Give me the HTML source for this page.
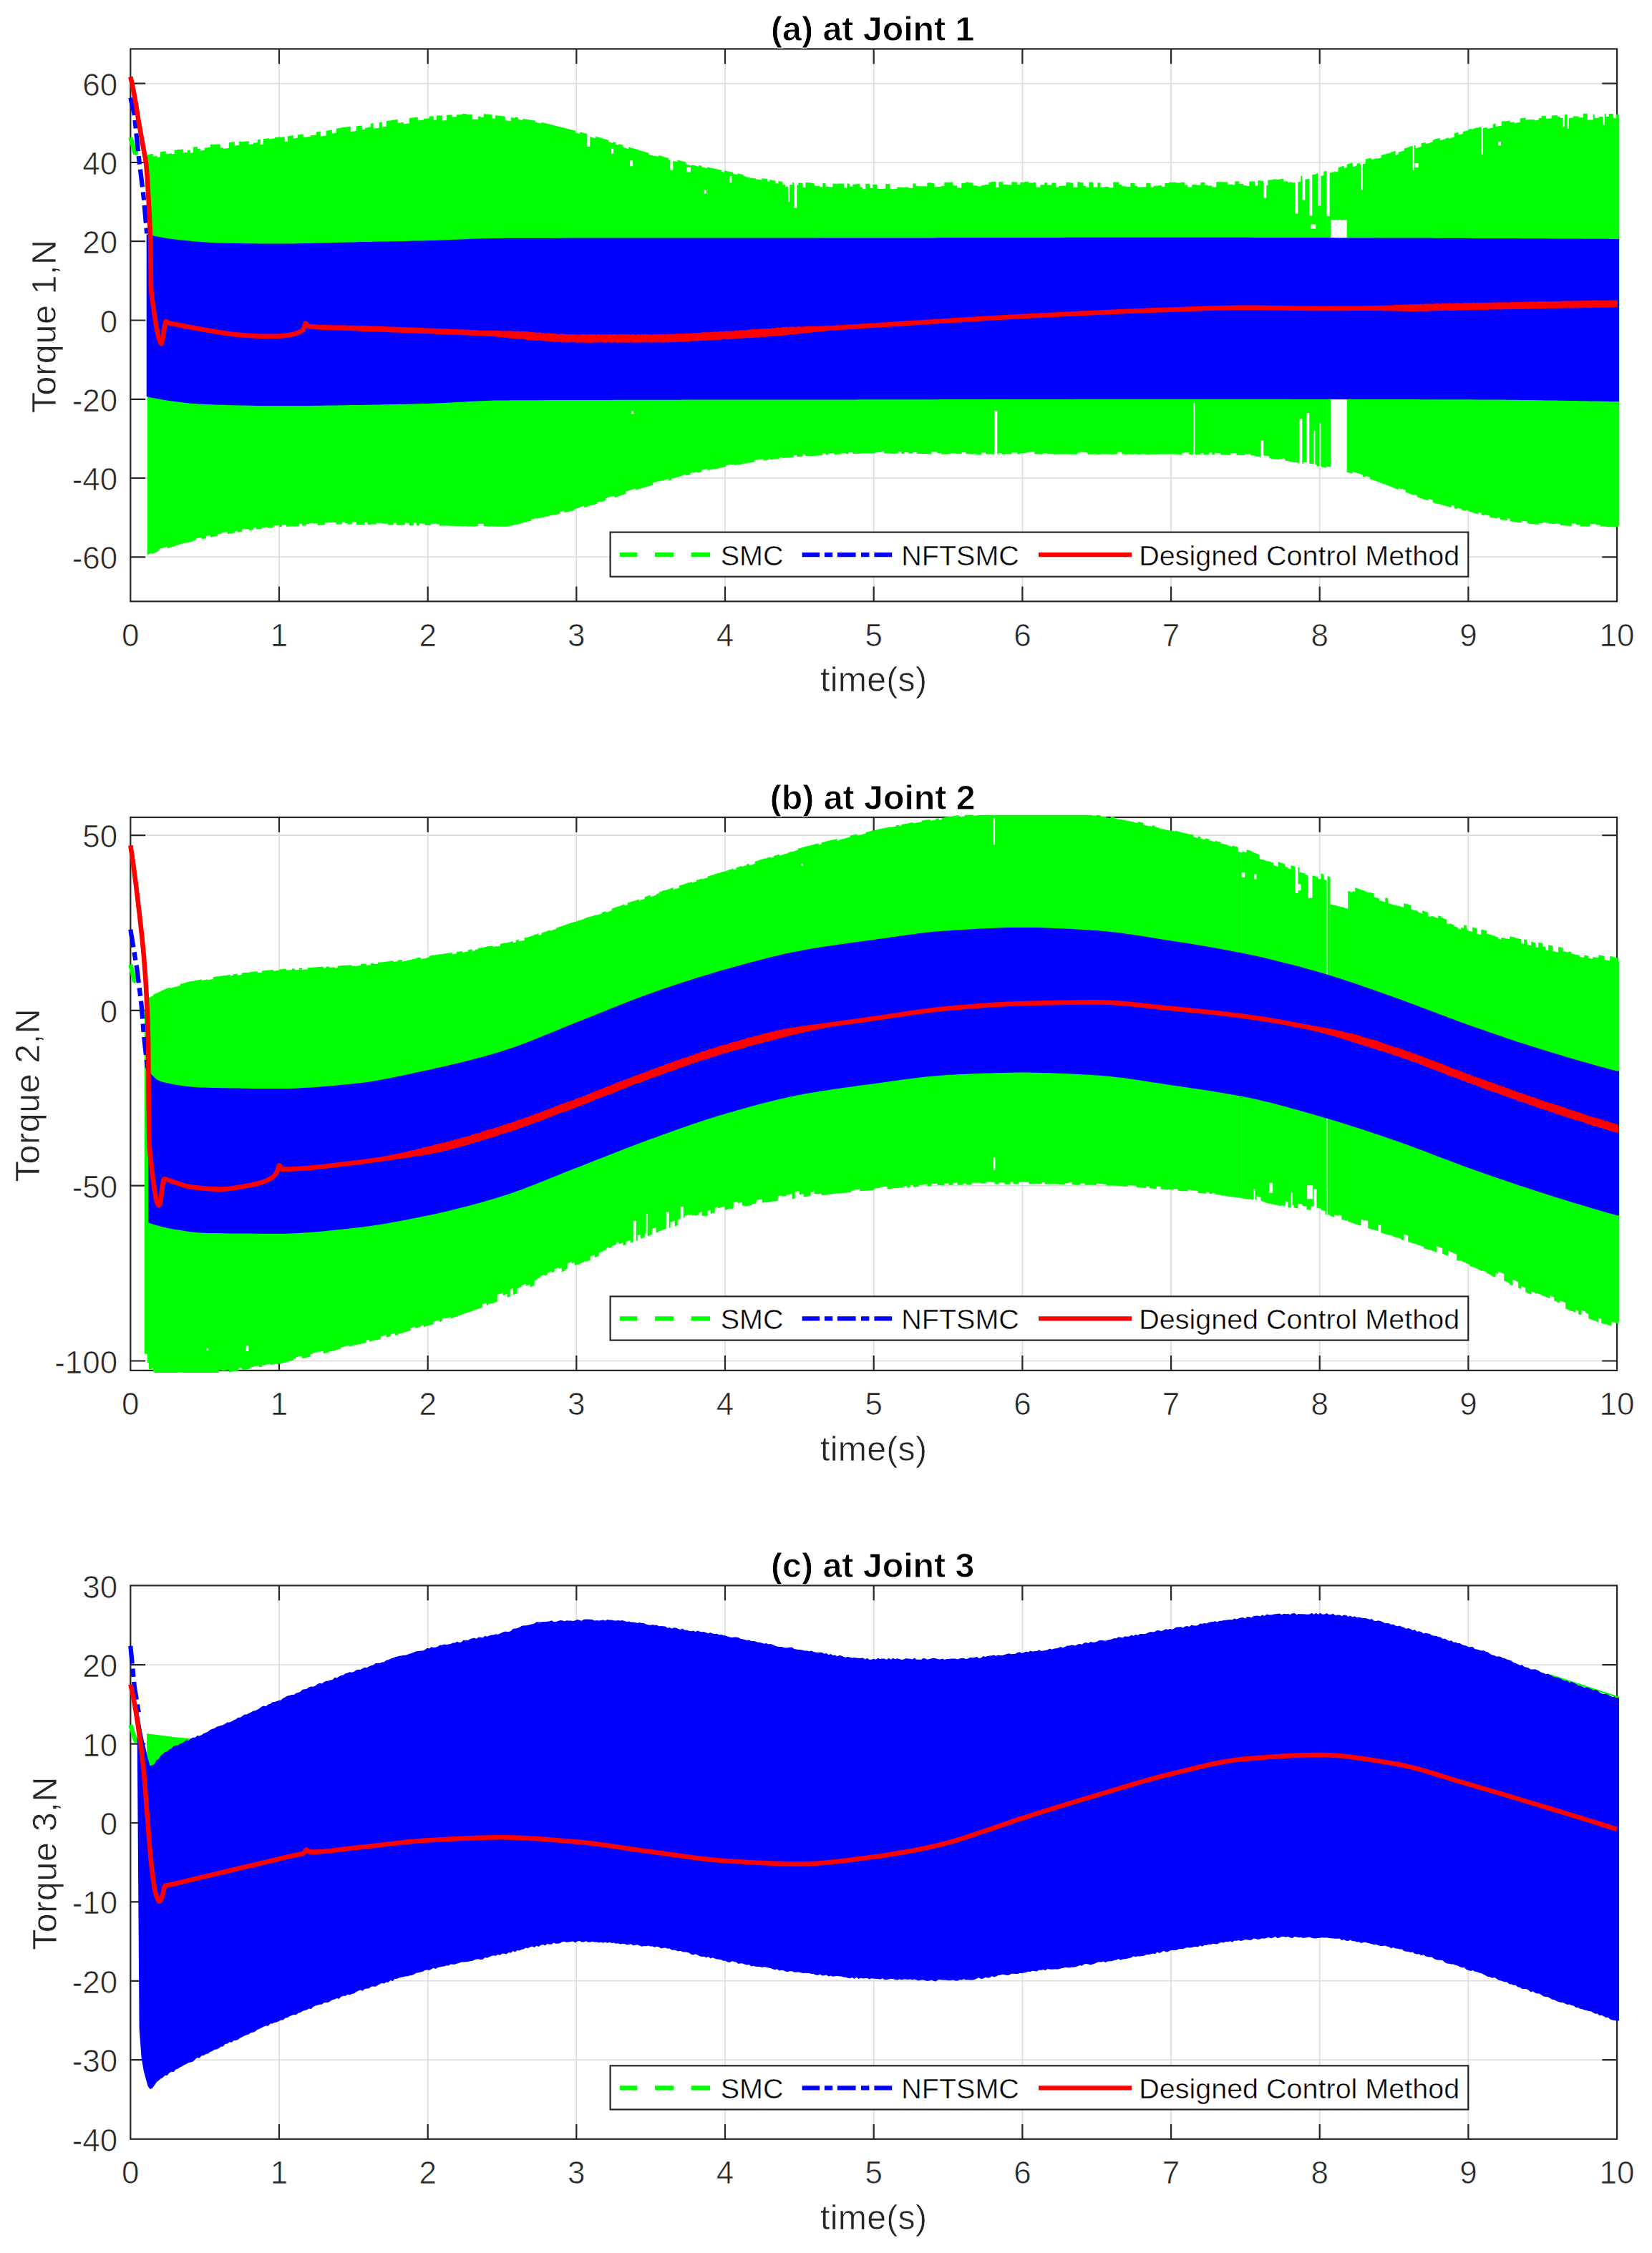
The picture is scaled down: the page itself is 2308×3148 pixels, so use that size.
<!DOCTYPE html>
<html lang="en"><head><meta charset="utf-8"><title>Torque comparison</title>
<style>html,body{margin:0;padding:0;background:#fff}body{width:2308px;height:3148px;overflow:hidden}svg{display:block}text{font-family:"Liberation Sans", Arial, Helvetica, sans-serif}</style></head><body>
<svg width="2308" height="3148" viewBox="0 0 2308 3148">
<rect width="2308" height="3148" fill="#fff"/>
<defs>
<clipPath id="c1"><rect x="179.1" y="65.2" width="2083.2" height="778.3"/></clipPath>
<clipPath id="c2"><rect x="179.1" y="1138.8" width="2083.2" height="779.3"/></clipPath>
<clipPath id="c3"><rect x="179.1" y="2212.2" width="2083.2" height="779.8"/></clipPath>
</defs>
<!-- (a) Joint 1 -->
<path d="M390 68.4 V840.3 M597.7 68.4 V840.3 M805.3 68.4 V840.3 M1013 68.4 V840.3 M1220.7 68.4 V840.3 M1428.4 68.4 V840.3 M1636.1 68.4 V840.3 M1843.7 68.4 V840.3 M2051.4 68.4 V840.3 M182.3 116.7 H2259.1 M182.3 227 H2259.1 M182.3 337.2 H2259.1 M182.3 447.5 H2259.1 M182.3 557.8 H2259.1 M182.3 668 H2259.1 M182.3 778.3 H2259.1" stroke="#dcdcdc" stroke-width="1.6" fill="none"/>
<rect x="182.3" y="68.4" width="2076.8" height="771.9" fill="none" stroke="#262626" stroke-width="2.2"/>
<path d="M390 840.3 v-20.8 M390 68.4 v20.8 M597.7 840.3 v-20.8 M597.7 68.4 v20.8 M805.3 840.3 v-20.8 M805.3 68.4 v20.8 M1013 840.3 v-20.8 M1013 68.4 v20.8 M1220.7 840.3 v-20.8 M1220.7 68.4 v20.8 M1428.4 840.3 v-20.8 M1428.4 68.4 v20.8 M1636.1 840.3 v-20.8 M1636.1 68.4 v20.8 M1843.7 840.3 v-20.8 M1843.7 68.4 v20.8 M2051.4 840.3 v-20.8 M2051.4 68.4 v20.8 M182.3 116.7 h20.8 M2259.1 116.7 h-20.8 M182.3 227 h20.8 M2259.1 227 h-20.8 M182.3 337.2 h20.8 M2259.1 337.2 h-20.8 M182.3 447.5 h20.8 M2259.1 447.5 h-20.8 M182.3 557.8 h20.8 M2259.1 557.8 h-20.8 M182.3 668 h20.8 M2259.1 668 h-20.8 M182.3 778.3 h20.8 M2259.1 778.3 h-20.8" stroke="#262626" stroke-width="2.2" fill="none"/>
<g clip-path="url(#c1)">
<path d="M182.3 192.2 L188.5 213.2 L206.2 216" stroke="#0f0" stroke-width="6.3" stroke-dasharray="26 24" fill="none"/>
<polygon fill="#0f0" points="205.8,216.1 207.8,216.1 207.8,215.7 209.8,215.7 209.8,215.3 211.8,215.3 211.8,214.9 213.8,214.9 213.8,218.6 215.8,218.6 215.8,218.2 217.8,218.2 217.8,217.8 219.8,217.8 219.8,219.9 221.8,219.9 221.8,219.6 223.8,219.6 223.8,212.3 225.8,212.3 225.8,211.9 227.8,211.9 227.8,211.6 229.8,211.6 229.8,211.3 231.8,211.3 231.8,215.3 233.8,215.3 233.8,215 235.8,215 235.8,214.7 237.8,214.7 237.8,214.3 239.8,214.3 239.8,215.2 241.8,215.2 241.8,214.9 243.8,214.9 243.8,209.6 245.8,209.6 245.8,209.4 247.8,209.4 247.8,209.1 249.8,209.1 249.8,209.1 251.8,209.1 251.8,208.8 253.8,208.8 253.8,208.5 255.8,208.5 255.8,213.4 257.8,213.4 257.8,213.1 259.8,213.1 259.8,212.9 261.8,212.9 261.8,209.9 263.8,209.9 263.8,209.6 265.8,209.6 265.8,213.5 267.8,213.5 267.8,213.2 269.8,213.2 269.8,205.6 271.8,205.6 271.8,205.4 273.8,205.4 273.8,205.1 275.8,205.1 275.8,207.9 277.8,207.9 277.8,207.7 279.8,207.7 279.8,210.6 281.8,210.6 281.8,210.3 283.8,210.3 283.8,210.1 285.8,210.1 285.8,206.6 287.8,206.6 287.8,206.4 289.8,206.4 289.8,206.1 291.8,206.1 291.8,205.9 293.8,205.9 293.8,202 295.8,202 295.8,201.8 297.8,201.8 297.8,202.1 299.8,202.1 299.8,201.9 301.8,201.9 301.8,201.6 303.8,201.6 303.8,201.6 305.8,201.6 305.8,201.4 307.8,201.4 307.8,206.5 309.8,206.5 309.8,206.3 311.8,206.3 311.8,207.6 313.8,207.6 313.8,207.4 315.8,207.4 315.8,207.2 317.8,207.2 317.8,207 319.8,207 319.8,199 321.8,199 321.8,198.7 323.8,198.7 323.8,198.5 325.8,198.5 325.8,198.3 327.8,198.3 327.8,203.4 329.8,203.4 329.8,203.2 331.8,203.2 331.8,202.9 333.8,202.9 333.8,198 335.8,198 335.8,197.8 337.8,197.8 337.8,197.9 339.8,197.9 339.8,197.7 341.8,197.7 341.8,197.6 343.8,197.6 343.8,197.4 345.8,197.4 345.8,197.2 347.8,197.2 347.8,201.8 349.8,201.8 349.8,201.6 351.8,201.6 351.8,201.4 353.8,201.4 353.8,199.6 355.8,199.6 355.8,199.4 357.8,199.4 357.8,199.2 359.8,199.2 359.8,195 361.8,195 361.8,194.8 363.8,194.8 363.8,202.1 365.8,202.1 365.8,201.9 367.8,201.9 367.8,194 369.8,194 369.8,193.8 371.8,193.8 371.8,193.5 373.8,193.5 373.8,193.3 375.8,193.3 375.8,194.3 377.8,194.3 377.8,194 379.8,194 379.8,193.8 381.8,193.8 381.8,193.5 383.8,193.5 383.8,192.1 385.8,192.1 385.8,191.9 387.8,191.9 387.8,191.6 389.8,191.6 389.8,191.4 391.8,191.4 391.8,191.8 393.8,191.8 393.8,191.5 395.8,191.5 395.8,191.2 397.8,191.2 397.8,198.1 399.8,198.1 399.8,197.8 401.8,197.8 401.8,190.2 403.8,190.2 403.8,189.9 405.8,189.9 405.8,189.6 407.8,189.6 407.8,189.3 409.8,189.3 409.8,193.4 411.8,193.4 411.8,193.1 413.8,193.1 413.8,192.8 415.8,192.8 415.8,188.3 417.8,188.3 417.8,188 419.8,188 419.8,187.7 421.8,187.7 421.8,187.4 423.8,187.4 423.8,191.7 425.8,191.7 425.8,191.4 427.8,191.4 427.8,191.4 429.8,191.4 429.8,191.1 431.8,191.1 431.8,190.8 433.8,190.8 433.8,189.3 435.8,189.3 435.8,189 437.8,189 437.8,188.7 439.8,188.7 439.8,188.4 441.8,188.4 441.8,184.3 443.8,184.3 443.8,184 445.8,184 445.8,183.7 447.8,183.7 447.8,190.6 449.8,190.6 449.8,190.3 451.8,190.3 451.8,190 453.8,190 453.8,189.7 455.8,189.7 455.8,182.5 457.8,182.5 457.8,182.2 459.8,182.2 459.8,181.9 461.8,181.9 461.8,181.6 463.8,181.6 463.8,186.5 465.8,186.5 465.8,186.2 467.8,186.2 467.8,185.9 469.8,185.9 469.8,179.5 471.8,179.5 471.8,179.2 473.8,179.2 473.8,178.9 475.8,178.9 475.8,178.4 477.8,178.4 477.8,178.1 479.8,178.1 479.8,177.8 481.8,177.8 481.8,177.5 483.8,177.5 483.8,177.4 485.8,177.4 485.8,177.1 487.8,177.1 487.8,176.8 489.8,176.8 489.8,183.9 491.8,183.9 491.8,183.6 493.8,183.6 493.8,183.4 495.8,183.4 495.8,183.1 497.8,183.1 497.8,176.3 499.8,176.3 499.8,176.1 501.8,176.1 501.8,175.7 503.8,175.7 503.8,175.4 505.8,175.4 505.8,181.1 507.8,181.1 507.8,180.8 509.8,180.8 509.8,178.8 511.8,178.8 511.8,178.5 513.8,178.5 513.8,178.1 515.8,178.1 515.8,177.8 517.8,177.8 517.8,172.5 519.8,172.5 519.8,172.2 521.8,172.2 521.8,179.6 523.8,179.6 523.8,179.3 525.8,179.3 525.8,179 527.8,179 527.8,178.7 529.8,178.7 529.8,170.9 531.8,170.9 531.8,170.5 533.8,170.5 533.8,177.4 535.8,177.4 535.8,177.1 537.8,177.1 537.8,176.8 539.8,176.8 539.8,169.1 541.8,169.1 541.8,168.8 543.8,168.8 543.8,168.5 545.8,168.5 545.8,168.2 547.8,168.2 547.8,167.8 549.8,167.8 549.8,167.5 551.8,167.5 551.8,167.2 553.8,167.2 553.8,166.9 555.8,166.9 555.8,171.8 557.8,171.8 557.8,171.6 559.8,171.6 559.8,171.3 561.8,171.3 561.8,171 563.8,171 563.8,173.2 565.8,173.2 565.8,172.9 567.8,172.9 567.8,172.6 569.8,172.6 569.8,172.4 571.8,172.4 571.8,164.9 573.8,164.9 573.8,164.6 575.8,164.6 575.8,164.4 577.8,164.4 577.8,164.2 579.8,164.2 579.8,163.9 581.8,163.9 581.8,163.7 583.8,163.7 583.8,168.2 585.8,168.2 585.8,168 587.8,168 587.8,167.8 589.8,167.8 589.8,167.7 591.8,167.7 591.8,165.9 593.8,165.9 593.8,165.7 595.8,165.7 595.8,165.6 597.8,165.6 597.8,165.4 599.8,165.4 599.8,162.5 601.8,162.5 601.8,162.4 603.8,162.4 603.8,162.3 605.8,162.3 605.8,167.5 607.8,167.5 607.8,167.4 609.8,167.4 609.8,161.6 611.8,161.6 611.8,161.5 613.8,161.5 613.8,161.4 615.8,161.4 615.8,161.2 617.8,161.2 617.8,168.4 619.8,168.4 619.8,168.3 621.8,168.3 621.8,168.2 623.8,168.2 623.8,160.7 625.8,160.7 625.8,160.6 627.8,160.6 627.8,160.5 629.8,160.5 629.8,160.4 631.8,160.4 631.8,163.5 633.8,163.5 633.8,163.4 635.8,163.4 635.8,163.3 637.8,163.3 637.8,160.3 639.8,160.3 639.8,160.3 641.8,160.3 641.8,160.2 643.8,160.2 643.8,160.1 645.8,160.1 645.8,159 647.8,159 647.8,158.9 649.8,158.9 649.8,158.9 651.8,158.9 651.8,160 653.8,160 653.8,160 655.8,160 655.8,160 657.8,160 657.8,160 659.8,160 659.8,166.7 661.8,166.7 661.8,166.7 663.8,166.7 663.8,166.8 665.8,166.8 665.8,166.8 667.8,166.8 667.8,162.7 669.8,162.7 669.8,162.8 671.8,162.8 671.8,163.9 673.8,163.9 673.8,164 675.8,164 675.8,159.2 677.8,159.2 677.8,159.4 679.8,159.4 679.8,159.5 681.8,159.5 681.8,159.7 683.8,159.7 683.8,160 685.8,160 685.8,160.2 687.8,160.2 687.8,165.4 689.8,165.4 689.8,165.6 691.8,165.6 691.8,161.3 693.8,161.3 693.8,161.5 695.8,161.5 695.8,161.7 697.8,161.7 697.8,161.8 699.8,161.8 699.8,162.1 701.8,162.1 701.8,162.3 703.8,162.3 703.8,162.5 705.8,162.5 705.8,168.3 707.8,168.3 707.8,168.5 709.8,168.5 709.8,168.8 711.8,168.8 711.8,169 713.8,169 713.8,164.3 715.8,164.3 715.8,164.5 717.8,164.5 717.8,164.8 719.8,164.8 719.8,163.7 721.8,163.7 721.8,164 723.8,164 723.8,732.6 721.8,732.6 721.8,733.1 719.8,733.1 719.8,733.6 717.8,733.6 717.8,734 715.8,734 715.8,734.4 713.8,734.4 713.8,734.7 711.8,734.7 711.8,735.3 709.8,735.3 709.8,735.5 707.8,735.5 707.8,735.7 705.8,735.7 705.8,735.7 703.8,735.7 703.8,735.8 701.8,735.8 701.8,735.7 699.8,735.7 699.8,735.7 697.8,735.7 697.8,735.7 695.8,735.7 695.8,735.7 693.8,735.7 693.8,735.6 691.8,735.6 691.8,735.6 689.8,735.6 689.8,735.5 687.8,735.5 687.8,735.5 685.8,735.5 685.8,735.5 683.8,735.5 683.8,735.5 681.8,735.5 681.8,735.1 679.8,735.1 679.8,735.1 677.8,735.1 677.8,735 675.8,735 675.8,732.1 673.8,732.1 673.8,732.1 671.8,732.1 671.8,732.1 669.8,732.1 669.8,732.1 667.8,732.1 667.8,735.1 665.8,735.1 665.8,735 663.8,735 663.8,735.5 661.8,735.5 661.8,735.5 659.8,735.5 659.8,735.4 657.8,735.4 657.8,735.4 655.8,735.4 655.8,735.4 653.8,735.4 653.8,735.4 651.8,735.4 651.8,735 649.8,735 649.8,735 647.8,735 647.8,735.3 645.8,735.3 645.8,735.2 643.8,735.2 643.8,735.1 641.8,735.1 641.8,735.1 639.8,735.1 639.8,735.1 637.8,735.1 637.8,735 635.8,735 635.8,734.7 633.8,734.7 633.8,734.7 631.8,734.7 631.8,734.7 629.8,734.7 629.8,734.7 627.8,734.7 627.8,734.6 625.8,734.6 625.8,734.5 623.8,734.5 623.8,734.5 621.8,734.5 621.8,734.5 619.8,734.5 619.8,734.5 617.8,734.5 617.8,734.4 615.8,734.4 615.8,734.4 613.8,734.4 613.8,732.6 611.8,732.6 611.8,732.6 609.8,732.6 609.8,731.7 607.8,731.7 607.8,731.7 605.8,731.7 605.8,731.7 603.8,731.7 603.8,731.7 601.8,731.7 601.8,734.1 599.8,734.1 599.8,734.1 597.8,734.1 597.8,734 595.8,734 595.8,734 593.8,734 593.8,731.7 591.8,731.7 591.8,731.7 589.8,731.7 589.8,731.7 587.8,731.7 587.8,731.6 585.8,731.6 585.8,734.3 583.8,734.3 583.8,734.3 581.8,734.3 581.8,730.5 579.8,730.5 579.8,730.4 577.8,730.4 577.8,734.2 575.8,734.2 575.8,734.2 573.8,734.2 573.8,734.2 571.8,734.2 571.8,730.7 569.8,730.7 569.8,730.7 567.8,730.7 567.8,730.6 565.8,730.6 565.8,733.7 563.8,733.7 563.8,733.6 561.8,733.6 561.8,733.8 559.8,733.8 559.8,733.8 557.8,733.8 557.8,733.7 555.8,733.7 555.8,733.7 553.8,733.7 553.8,730.6 551.8,730.6 551.8,730.5 549.8,730.5 549.8,733.4 547.8,733.4 547.8,733.4 545.8,733.4 545.8,733.6 543.8,733.6 543.8,733.6 541.8,733.6 541.8,731.7 539.8,731.7 539.8,731.7 537.8,731.7 537.8,731.7 535.8,731.7 535.8,731.6 533.8,731.6 533.8,730.8 531.8,730.8 531.8,730.8 529.8,730.8 529.8,730.7 527.8,730.7 527.8,730.7 525.8,730.7 525.8,732.7 523.8,732.7 523.8,732.6 521.8,732.6 521.8,732.6 519.8,732.6 519.8,732.6 517.8,732.6 517.8,733.2 515.8,733.2 515.8,733.2 513.8,733.2 513.8,729.8 511.8,729.8 511.8,729.8 509.8,729.8 509.8,733.1 507.8,733.1 507.8,733.1 505.8,733.1 505.8,733.1 503.8,733.1 503.8,733 501.8,733 501.8,733 499.8,733 499.8,733 497.8,733 497.8,729.3 495.8,729.3 495.8,729.3 493.8,729.3 493.8,729.3 491.8,729.3 491.8,732.5 489.8,732.5 489.8,732.6 487.8,732.6 487.8,732.6 485.8,732.6 485.8,730.9 483.8,730.9 483.8,731 481.8,731 481.8,729.2 479.8,729.2 479.8,729.2 477.8,729.2 477.8,732.6 475.8,732.6 475.8,732.6 473.8,732.6 473.8,732.6 471.8,732.6 471.8,732.7 469.8,732.7 469.8,730 467.8,730 467.8,730.1 465.8,730.1 465.8,730.1 463.8,730.1 463.8,730.2 461.8,730.2 461.8,730.1 459.8,730.1 459.8,730.2 457.8,730.2 457.8,730.3 455.8,730.3 455.8,730.3 453.8,730.3 453.8,733.6 451.8,733.6 451.8,733.6 449.8,733.6 449.8,733.7 447.8,733.7 447.8,733.8 445.8,733.8 445.8,733.9 443.8,733.9 443.8,731.2 441.8,731.2 441.8,731.3 439.8,731.3 439.8,731.4 437.8,731.4 437.8,730.8 435.8,730.8 435.8,730.9 433.8,730.9 433.8,731 431.8,731 431.8,732 429.8,732 429.8,732.1 427.8,732.1 427.8,734.4 425.8,734.4 425.8,734.5 423.8,734.5 423.8,734.6 421.8,734.6 421.8,731.8 419.8,731.8 419.8,731.9 417.8,731.9 417.8,735.2 415.8,735.2 415.8,735.3 413.8,735.3 413.8,735.4 411.8,735.4 411.8,735.5 409.8,735.5 409.8,735.3 407.8,735.3 407.8,735.4 405.8,735.4 405.8,735.5 403.8,735.5 403.8,735.7 401.8,735.7 401.8,735.8 399.8,735.8 399.8,732.9 397.8,732.9 397.8,733 395.8,733 395.8,733.1 393.8,733.1 393.8,736.2 391.8,736.2 391.8,736.3 389.8,736.3 389.8,734.1 387.8,734.1 387.8,734.2 385.8,734.2 385.8,734.4 383.8,734.4 383.8,734.5 381.8,734.5 381.8,737.1 379.8,737.1 379.8,737.3 377.8,737.3 377.8,737.5 375.8,737.5 375.8,737.7 373.8,737.7 373.8,736.5 371.8,736.5 371.8,736.7 369.8,736.7 369.8,736.9 367.8,736.9 367.8,737.1 365.8,737.1 365.8,738.7 363.8,738.7 363.8,738.9 361.8,738.9 361.8,739.2 359.8,739.2 359.8,739.4 357.8,739.4 357.8,736.9 355.8,736.9 355.8,737.2 353.8,737.2 353.8,740.6 351.8,740.6 351.8,740.8 349.8,740.8 349.8,741.1 347.8,741.1 347.8,738.9 345.8,738.9 345.8,739.2 343.8,739.2 343.8,739.5 341.8,739.5 341.8,739 339.8,739 339.8,739.3 337.8,739.3 337.8,743 335.8,743 335.8,743.4 333.8,743.4 333.8,743.7 331.8,743.7 331.8,742.1 329.8,742.1 329.8,742.5 327.8,742.5 327.8,744.8 325.8,744.8 325.8,745.2 323.8,745.2 323.8,745.4 321.8,745.4 321.8,745.8 319.8,745.8 319.8,746.1 317.8,746.1 317.8,743.2 315.8,743.2 315.8,743.6 313.8,743.6 313.8,744 311.8,744 311.8,744.4 309.8,744.4 309.8,745.7 307.8,745.7 307.8,746 305.8,746 305.8,746.4 303.8,746.4 303.8,749.2 301.8,749.2 301.8,749.6 299.8,749.6 299.8,749.8 297.8,749.8 297.8,750.2 295.8,750.2 295.8,750.6 293.8,750.6 293.8,748 291.8,748 291.8,748.4 289.8,748.4 289.8,748.8 287.8,748.8 287.8,752.4 285.8,752.4 285.8,752.8 283.8,752.8 283.8,753.2 281.8,753.2 281.8,750.9 279.8,750.9 279.8,751.3 277.8,751.3 277.8,751.8 275.8,751.8 275.8,752.2 273.8,752.2 273.8,754.8 271.8,754.8 271.8,755.3 269.8,755.3 269.8,756.4 267.8,756.4 267.8,756.9 265.8,756.9 265.8,757.4 263.8,757.4 263.8,757.9 261.8,757.9 261.8,758.5 259.8,758.5 259.8,758.5 257.8,758.5 257.8,759.1 255.8,759.1 255.8,759.6 253.8,759.6 253.8,760.3 251.8,760.3 251.8,760.8 249.8,760.8 249.8,761.5 247.8,761.5 247.8,762.1 245.8,762.1 245.8,762.7 243.8,762.7 243.8,763.4 241.8,763.4 241.8,764 239.8,764 239.8,764.6 237.8,764.6 237.8,765.2 235.8,765.2 235.8,765.9 233.8,765.9 233.8,763.9 231.8,763.9 231.8,764.5 229.8,764.5 229.8,765.2 227.8,765.2 227.8,765.9 225.8,765.9 225.8,766.2 223.8,766.2 223.8,767 221.8,767 221.8,770.6 219.8,770.6 219.8,771.4 217.8,771.4 217.8,772.2 215.8,772.2 215.8,773 213.8,773 213.8,773.8 211.8,773.8 211.8,773.1 209.8,773.1 209.8,773.9 207.8,773.9 207.8,774.7 205.8,774.7"/>
<polygon fill="#0f0" points="722.3,166.7 724.3,166.7 724.3,167 726.3,167 726.3,167.4 728.3,167.4 728.3,167.7 730.3,167.7 730.3,166 732.3,166 732.3,166.4 734.3,166.4 734.3,166.7 736.3,166.7 736.3,167.1 738.3,167.1 738.3,167.3 740.3,167.3 740.3,167.7 742.3,167.7 742.3,168.1 744.3,168.1 744.3,168.2 746.3,168.2 746.3,168.6 748.3,168.6 748.3,171 750.3,171 750.3,171.4 752.3,171.4 752.3,171.8 754.3,171.8 754.3,172.3 756.3,172.3 756.3,170.9 758.3,170.9 758.3,171.4 760.3,171.4 760.3,171.9 762.3,171.9 762.3,172.6 764.3,172.6 764.3,173.1 766.3,173.1 766.3,173.6 768.3,173.6 768.3,174.1 770.3,174.1 770.3,174.6 772.3,174.6 772.3,175.1 774.3,175.1 774.3,175.6 776.3,175.6 776.3,176.1 778.3,176.1 778.3,176.6 780.3,176.6 780.3,177 782.3,177 782.3,177.5 784.3,177.5 784.3,178 786.3,178 786.3,178.4 788.3,178.4 788.3,178.9 790.3,178.9 790.3,179.4 792.3,179.4 792.3,179.9 794.3,179.9 794.3,180.4 796.3,180.4 796.3,180.9 798.3,180.9 798.3,181.4 800.3,181.4 800.3,181.9 802.3,181.9 802.3,182.4 804.3,182.4 804.3,185.8 806.3,185.8 806.3,186.3 808.3,186.3 808.3,186.8 810.3,186.8 810.3,184.6 812.3,184.6 812.3,185.1 814.3,185.1 814.3,185.7 816.3,185.7 816.3,186.2 818.3,186.2 818.3,186.7 820.3,186.7 820.3,204.9 822.3,204.9 822.3,204.9 824.3,204.9 824.3,191.2 826.3,191.2 826.3,191.8 828.3,191.8 828.3,192.4 830.3,192.4 830.3,193 832.3,193 832.3,190.7 834.3,190.7 834.3,191.4 836.3,191.4 836.3,192 838.3,192 838.3,192.6 840.3,192.6 840.3,193.2 842.3,193.2 842.3,193.9 844.3,193.9 844.3,194.3 846.3,194.3 846.3,194.9 848.3,194.9 848.3,195.5 850.3,195.5 850.3,198.5 852.3,198.5 852.3,199.1 854.3,199.1 854.3,199.8 856.3,199.8 856.3,198.3 858.3,198.3 858.3,198.9 860.3,198.9 860.3,202 862.3,202 862.3,202.7 864.3,202.7 864.3,201.2 866.3,201.2 866.3,201.9 868.3,201.9 868.3,202.5 870.3,202.5 870.3,205.9 872.3,205.9 872.3,206.5 874.3,206.5 874.3,207.2 876.3,207.2 876.3,207.8 878.3,207.8 878.3,205.6 880.3,205.6 880.3,206.2 882.3,206.2 882.3,206.9 884.3,206.9 884.3,207.3 886.3,207.3 886.3,207.9 888.3,207.9 888.3,208.4 890.3,208.4 890.3,209 892.3,209 892.3,210 894.3,210 894.3,210.6 896.3,210.6 896.3,211.2 898.3,211.2 898.3,211.8 900.3,211.8 900.3,212.3 902.3,212.3 902.3,212.9 904.3,212.9 904.3,213.5 906.3,213.5 906.3,216.1 908.3,216.1 908.3,216.7 910.3,216.7 910.3,217.2 912.3,217.2 912.3,217.7 914.3,217.7 914.3,217.8 916.3,217.8 916.3,218.3 918.3,218.3 918.3,218.8 920.3,218.8 920.3,217.2 922.3,217.2 922.3,217.7 924.3,217.7 924.3,218.2 926.3,218.2 926.3,219.2 928.3,219.2 928.3,219.7 930.3,219.7 930.3,220.2 932.3,220.2 932.3,220.7 934.3,220.7 934.3,223.6 936.3,223.6 936.3,238 938.3,238 938.3,238 940.3,238 940.3,225 942.3,225 942.3,225.4 944.3,225.4 944.3,225.9 946.3,225.9 946.3,223.7 948.3,223.7 948.3,224.2 950.3,224.2 950.3,224.7 952.3,224.7 952.3,225.3 954.3,225.3 954.3,225.8 956.3,225.8 956.3,226.3 958.3,226.3 958.3,229.8 960.3,229.8 960.3,230.3 962.3,230.3 962.3,230.8 964.3,230.8 964.3,231.2 966.3,231.2 966.3,230.4 968.3,230.4 968.3,230.9 970.3,230.9 970.3,231.3 972.3,231.3 972.3,232 974.3,232 974.3,232.5 976.3,232.5 976.3,231 978.3,231 978.3,231.4 980.3,231.4 980.3,233.6 982.3,233.6 982.3,234 984.3,234 984.3,234.5 986.3,234.5 986.3,234.9 988.3,234.9 988.3,233.5 990.3,233.5 990.3,233.9 992.3,233.9 992.3,234.5 994.3,234.5 994.3,234.9 996.3,234.9 996.3,235.3 998.3,235.3 998.3,235.8 1000.3,235.8 1000.3,236.3 1002.3,236.3 1002.3,236.7 1004.3,236.7 1004.3,237.1 1006.3,237.1 1006.3,237.6 1008.3,237.6 1008.3,240 1010.3,240 1010.3,240.4 1012.3,240.4 1012.3,238.5 1014.3,238.5 1014.3,238.9 1016.3,238.9 1016.3,239.4 1018.3,239.4 1018.3,239.8 1020.3,239.8 1020.3,240.2 1022.3,240.2 1022.3,240.7 1024.3,240.7 1024.3,242.9 1026.3,242.9 1026.3,243.4 1028.3,243.4 1028.3,243.8 1030.3,243.8 1030.3,242.4 1032.3,242.4 1032.3,242.8 1034.3,242.8 1034.3,243.3 1036.3,243.3 1036.3,243.7 1038.3,243.7 1038.3,246 1040.3,246 1040.3,246.5 1042.3,246.5 1042.3,247.4 1044.3,247.4 1044.3,247.9 1046.3,247.9 1046.3,248.3 1048.3,248.3 1048.3,248.7 1050.3,248.7 1050.3,248.7 1052.3,248.7 1052.3,249.1 1054.3,249.1 1054.3,249.4 1056.3,249.4 1056.3,250.4 1058.3,250.4 1058.3,250.8 1060.3,250.8 1060.3,251.1 1062.3,251.1 1062.3,251.4 1064.3,251.4 1064.3,249.2 1066.3,249.2 1066.3,249.5 1068.3,249.5 1068.3,249.8 1070.3,249.8 1070.3,250 1072.3,250 1072.3,253.4 1074.3,253.4 1074.3,253.7 1076.3,253.7 1076.3,640 1074.3,640 1074.3,642.7 1072.3,642.7 1072.3,642.9 1070.3,642.9 1070.3,643.2 1068.3,643.2 1068.3,643.5 1066.3,643.5 1066.3,641.4 1064.3,641.4 1064.3,641.7 1062.3,641.7 1062.3,642 1060.3,642 1060.3,642.3 1058.3,642.3 1058.3,642.5 1056.3,642.5 1056.3,642.8 1054.3,642.8 1054.3,645.6 1052.3,645.6 1052.3,645.9 1050.3,645.9 1050.3,646.2 1048.3,646.2 1048.3,646.5 1046.3,646.5 1046.3,646.8 1044.3,646.8 1044.3,647.2 1042.3,647.2 1042.3,647.5 1040.3,647.5 1040.3,647.8 1038.3,647.8 1038.3,648.2 1036.3,648.2 1036.3,648.7 1034.3,648.7 1034.3,649 1032.3,649 1032.3,649.3 1030.3,649.3 1030.3,649.5 1028.3,649.5 1028.3,649.9 1026.3,649.9 1026.3,648.9 1024.3,648.9 1024.3,649.2 1022.3,649.2 1022.3,649 1020.3,649 1020.3,649.3 1018.3,649.3 1018.3,649.7 1016.3,649.7 1016.3,650 1014.3,650 1014.3,652.1 1012.3,652.1 1012.3,652.5 1010.3,652.5 1010.3,653.2 1008.3,653.2 1008.3,653.5 1006.3,653.5 1006.3,653.9 1004.3,653.9 1004.3,654.6 1002.3,654.6 1002.3,655 1000.3,655 1000.3,655.2 998.3,655.2 998.3,655.6 996.3,655.6 996.3,655.7 994.3,655.7 994.3,656.2 992.3,656.2 992.3,656.6 990.3,656.6 990.3,657 988.3,657 988.3,655.3 986.3,655.3 986.3,655.8 984.3,655.8 984.3,656.2 982.3,656.2 982.3,656.7 980.3,656.7 980.3,659.6 978.3,659.6 978.3,660.1 976.3,660.1 976.3,660.6 974.3,660.6 974.3,659.5 972.3,659.5 972.3,660 970.3,660 970.3,660.5 968.3,660.5 968.3,660.2 966.3,660.2 966.3,660.7 964.3,660.7 964.3,663.3 962.3,663.3 962.3,663.8 960.3,663.8 960.3,664.3 958.3,664.3 958.3,663 956.3,663 956.3,663.5 954.3,663.5 954.3,664.6 952.3,664.6 952.3,665.1 950.3,665.1 950.3,665.7 948.3,665.7 948.3,666.2 946.3,666.2 946.3,667 944.3,667 944.3,667.5 942.3,667.5 942.3,668.1 940.3,668.1 940.3,668.6 938.3,668.6 938.3,670.7 936.3,670.7 936.3,671.3 934.3,671.3 934.3,669.5 932.3,669.5 932.3,670.1 930.3,670.1 930.3,670.6 928.3,670.6 928.3,671.2 926.3,671.2 926.3,671.3 924.3,671.3 924.3,671.8 922.3,671.8 922.3,672.4 920.3,672.4 920.3,672.5 918.3,672.5 918.3,673.1 916.3,673.1 916.3,673.6 914.3,673.6 914.3,674.2 912.3,674.2 912.3,677.9 910.3,677.9 910.3,678.5 908.3,678.5 908.3,679.1 906.3,679.1 906.3,679.7 904.3,679.7 904.3,680.3 902.3,680.3 902.3,680.7 900.3,680.7 900.3,681.3 898.3,681.3 898.3,681.9 896.3,681.9 896.3,682.6 894.3,682.6 894.3,683.1 892.3,683.1 892.3,683.7 890.3,683.7 890.3,684.4 888.3,684.4 888.3,682.8 886.3,682.8 886.3,683.4 884.3,683.4 884.3,684.1 882.3,684.1 882.3,684.8 880.3,684.8 880.3,685.2 878.3,685.2 878.3,685.9 876.3,685.9 876.3,686.6 874.3,686.6 874.3,690.2 872.3,690.2 872.3,690.9 870.3,690.9 870.3,691.6 868.3,691.6 868.3,692.3 866.3,692.3 866.3,693 864.3,693 864.3,693.7 862.3,693.7 862.3,694.4 860.3,694.4 860.3,695.1 858.3,695.1 858.3,692.9 856.3,692.9 856.3,693.6 854.3,693.6 854.3,693.9 852.3,693.9 852.3,694.6 850.3,694.6 850.3,695.2 848.3,695.2 848.3,695.9 846.3,695.9 846.3,699.6 844.3,699.6 844.3,700.3 842.3,700.3 842.3,700.9 840.3,700.9 840.3,701.6 838.3,701.6 838.3,700.9 836.3,700.9 836.3,701.5 834.3,701.5 834.3,704 832.3,704 832.3,704.7 830.3,704.7 830.3,705.3 828.3,705.3 828.3,706 826.3,706 826.3,706.1 824.3,706.1 824.3,706.7 822.3,706.7 822.3,707.3 820.3,707.3 820.3,708.3 818.3,708.3 818.3,708.9 816.3,708.9 816.3,707.2 814.3,707.2 814.3,707.8 812.3,707.8 812.3,708.3 810.3,708.3 810.3,709.5 808.3,709.5 808.3,710 806.3,710 806.3,710.6 804.3,710.6 804.3,711.1 802.3,711.1 802.3,713.2 800.3,713.2 800.3,713.7 798.3,713.7 798.3,714.2 796.3,714.2 796.3,714.7 794.3,714.7 794.3,715.2 792.3,715.2 792.3,715.6 790.3,715.6 790.3,716.1 788.3,716.1 788.3,713.9 786.3,713.9 786.3,714.4 784.3,714.4 784.3,714.8 782.3,714.8 782.3,718 780.3,718 780.3,718.5 778.3,718.5 778.3,718.9 776.3,718.9 776.3,719.4 774.3,719.4 774.3,719.4 772.3,719.4 772.3,719.9 770.3,719.9 770.3,720.3 768.3,720.3 768.3,720.8 766.3,720.8 766.3,721.4 764.3,721.4 764.3,721.8 762.3,721.8 762.3,722.3 760.3,722.3 760.3,722.7 758.3,722.7 758.3,723 756.3,723 756.3,723.4 754.3,723.4 754.3,723.9 752.3,723.9 752.3,724.4 750.3,724.4 750.3,723.9 748.3,723.9 748.3,724.4 746.3,724.4 746.3,725 744.3,725 744.3,725.6 742.3,725.6 742.3,727.7 740.3,727.7 740.3,728.3 738.3,728.3 738.3,728.8 736.3,728.8 736.3,729.4 734.3,729.4 734.3,729.8 732.3,729.8 732.3,730.3 730.3,730.3 730.3,730.9 728.3,730.9 728.3,731.4 726.3,731.4 726.3,732 724.3,732 724.3,732.5 722.3,732.5"/>
<polygon fill="#0f0" points="1075.3,251.3 1077.3,251.3 1077.3,251.5 1079.3,251.5 1079.3,252.3 1081.3,252.3 1081.3,252.6 1083.3,252.6 1083.3,256.2 1085.3,256.2 1085.3,256.5 1087.3,256.5 1087.3,253.3 1089.3,253.3 1089.3,253.6 1091.3,253.6 1091.3,253.8 1093.3,253.8 1093.3,257.8 1095.3,257.8 1095.3,258 1097.3,258 1097.3,260.8 1099.3,260.8 1099.3,261 1101.3,261 1101.3,282.1 1103.3,282.1 1103.3,258.1 1105.3,258.1 1105.3,258.2 1107.3,258.2 1107.3,255.1 1109.3,255.1 1109.3,290.4 1111.3,290.4 1111.3,290.4 1113.3,290.4 1113.3,258.6 1115.3,258.6 1115.3,255.6 1117.3,255.6 1117.3,255.6 1119.3,255.6 1119.3,255.7 1121.3,255.7 1121.3,261.9 1123.3,261.9 1123.3,261.9 1125.3,261.9 1125.3,254.9 1127.3,254.9 1127.3,254.9 1129.3,254.9 1129.3,255.2 1131.3,255.2 1131.3,255.3 1133.3,255.3 1133.3,255.9 1135.3,255.9 1135.3,255.9 1137.3,255.9 1137.3,259.5 1139.3,259.5 1139.3,259.5 1141.3,259.5 1141.3,260 1143.3,260 1143.3,260 1145.3,260 1145.3,261.2 1147.3,261.2 1147.3,261.2 1149.3,261.2 1149.3,256 1151.3,256 1151.3,256.1 1153.3,256.1 1153.3,260.8 1155.3,260.8 1155.3,260.9 1157.3,260.9 1157.3,261.2 1159.3,261.2 1159.3,261.3 1161.3,261.3 1161.3,261.3 1163.3,261.3 1163.3,256.6 1165.3,256.6 1165.3,256.7 1167.3,256.7 1167.3,256.7 1169.3,256.7 1169.3,256.6 1171.3,256.6 1171.3,256.6 1173.3,256.6 1173.3,256.6 1175.3,256.6 1175.3,256.6 1177.3,256.6 1177.3,256.7 1179.3,256.7 1179.3,262.6 1181.3,262.6 1181.3,262.6 1183.3,262.6 1183.3,256.6 1185.3,256.6 1185.3,256.7 1187.3,256.7 1187.3,260.7 1189.3,260.7 1189.3,260.7 1191.3,260.7 1191.3,257.6 1193.3,257.6 1193.3,257.6 1195.3,257.6 1195.3,257.6 1197.3,257.6 1197.3,256.8 1199.3,256.8 1199.3,256.8 1201.3,256.8 1201.3,261.7 1203.3,261.7 1203.3,261.7 1205.3,261.7 1205.3,264.3 1207.3,264.3 1207.3,264.3 1209.3,264.3 1209.3,256.8 1211.3,256.8 1211.3,256.8 1213.3,256.8 1213.3,256.8 1215.3,256.8 1215.3,262.8 1217.3,262.8 1217.3,262.8 1219.3,262.8 1219.3,257.7 1221.3,257.7 1221.3,257.7 1223.3,257.7 1223.3,257.7 1225.3,257.7 1225.3,263.9 1227.3,263.9 1227.3,263.9 1229.3,263.9 1229.3,263.9 1231.3,263.9 1231.3,263.7 1233.3,263.7 1233.3,263.7 1235.3,263.7 1235.3,263.7 1237.3,263.7 1237.3,257 1239.3,257 1239.3,257 1241.3,257 1241.3,256.9 1243.3,256.9 1243.3,264.3 1245.3,264.3 1245.3,264.2 1247.3,264.2 1247.3,264.2 1249.3,264.2 1249.3,264.1 1251.3,264.1 1251.3,264.1 1253.3,264.1 1253.3,261.5 1255.3,261.5 1255.3,261.5 1257.3,261.5 1257.3,261.4 1259.3,261.4 1259.3,261.7 1261.3,261.7 1261.3,261.7 1263.3,261.7 1263.3,261.5 1265.3,261.5 1265.3,261.5 1267.3,261.5 1267.3,261.4 1269.3,261.4 1269.3,262.8 1271.3,262.8 1271.3,262.7 1273.3,262.7 1273.3,262.7 1275.3,262.7 1275.3,256.6 1277.3,256.6 1277.3,256.6 1279.3,256.6 1279.3,260.2 1281.3,260.2 1281.3,260.1 1283.3,260.1 1283.3,260.4 1285.3,260.4 1285.3,260.3 1287.3,260.3 1287.3,260.3 1289.3,260.3 1289.3,260.3 1291.3,260.3 1291.3,260.2 1293.3,260.2 1293.3,260.2 1295.3,260.2 1295.3,255.4 1297.3,255.4 1297.3,255.3 1299.3,255.3 1299.3,255.3 1301.3,255.3 1301.3,256 1303.3,256 1303.3,256 1305.3,256 1305.3,261.3 1307.3,261.3 1307.3,261.2 1309.3,261.2 1309.3,260.9 1311.3,260.9 1311.3,260.9 1313.3,260.9 1313.3,260.8 1315.3,260.8 1315.3,259.8 1317.3,259.8 1317.3,259.8 1319.3,259.8 1319.3,254.8 1321.3,254.8 1321.3,254.8 1323.3,254.8 1323.3,254.8 1325.3,254.8 1325.3,254.7 1327.3,254.7 1327.3,254.6 1329.3,254.6 1329.3,254.6 1331.3,254.6 1331.3,259.2 1333.3,259.2 1333.3,259.2 1335.3,259.2 1335.3,259.2 1337.3,259.2 1337.3,262.4 1339.3,262.4 1339.3,262.4 1341.3,262.4 1341.3,262.4 1343.3,262.4 1343.3,255.8 1345.3,255.8 1345.3,255.8 1347.3,255.8 1347.3,255.8 1349.3,255.8 1349.3,254.4 1351.3,254.4 1351.3,254.4 1353.3,254.4 1353.3,255.3 1355.3,255.3 1355.3,255.3 1357.3,255.3 1357.3,255.3 1359.3,255.3 1359.3,259.3 1361.3,259.3 1361.3,259.3 1363.3,259.3 1363.3,259.3 1365.3,259.3 1365.3,260.2 1367.3,260.2 1367.3,260.2 1369.3,260.2 1369.3,260.2 1371.3,260.2 1371.3,258.7 1373.3,258.7 1373.3,258.7 1375.3,258.7 1375.3,257.9 1377.3,257.9 1377.3,257.9 1379.3,257.9 1379.3,257.9 1381.3,257.9 1381.3,254.8 1383.3,254.8 1383.3,254.7 1385.3,254.7 1385.3,254.1 1387.3,254.1 1387.3,254.1 1389.3,254.1 1389.3,254.1 1391.3,254.1 1391.3,261.9 1393.3,261.9 1393.3,261.9 1395.3,261.9 1395.3,254.2 1397.3,254.2 1397.3,254.2 1399.3,254.2 1399.3,254.2 1401.3,254.2 1401.3,257.8 1403.3,257.8 1403.3,257.8 1405.3,257.8 1405.3,257.8 1407.3,257.8 1407.3,258.2 1409.3,258.2 1409.3,258.2 1411.3,258.2 1411.3,258.2 1413.3,258.2 1413.3,254.2 1415.3,254.2 1415.3,254.2 1417.3,254.2 1417.3,254.5 1419.3,254.5 1419.3,254.5 1421.3,254.5 1421.3,258 1423.3,258 1423.3,258 1425.3,258 1425.3,254.8 1427.3,254.8 1427.3,254.8 1429.3,254.8 1429.3,254.8 1431.3,254.8 1431.3,254.1 1433.3,254.1 1433.3,254.1 1435.3,254.1 1435.3,254.1 1437.3,254.1 1437.3,255.4 1439.3,255.4 1439.3,255.4 1441.3,255.4 1441.3,255.4 1443.3,255.4 1443.3,254.9 1445.3,254.9 1445.3,254.9 1447.3,254.9 1447.3,261.5 1449.3,261.5 1449.3,261.5 1451.3,261.5 1451.3,261.5 1453.3,261.5 1453.3,258.2 1455.3,258.2 1455.3,258.2 1457.3,258.2 1457.3,258.2 1459.3,258.2 1459.3,255.2 1461.3,255.2 1461.3,255.2 1463.3,255.2 1463.3,258.4 1465.3,258.4 1465.3,258.4 1467.3,258.4 1467.3,258.4 1469.3,258.4 1469.3,255.5 1471.3,255.5 1471.3,255.5 1473.3,255.5 1473.3,255.5 1475.3,255.5 1475.3,261.5 1477.3,261.5 1477.3,261.5 1479.3,261.5 1479.3,259.9 1481.3,259.9 1481.3,259.9 1483.3,259.9 1483.3,259.9 1485.3,259.9 1485.3,259.6 1487.3,259.6 1487.3,259.6 1489.3,259.6 1489.3,254.8 1491.3,254.8 1491.3,254.8 1493.3,254.8 1493.3,254.8 1495.3,254.8 1495.3,255.4 1497.3,255.4 1497.3,255.4 1499.3,255.4 1499.3,261.9 1501.3,261.9 1501.3,261.9 1503.3,261.9 1503.3,261.9 1505.3,261.9 1505.3,254.3 1507.3,254.3 1507.3,254.3 1509.3,254.3 1509.3,255 1511.3,255 1511.3,255 1513.3,255 1513.3,260 1515.3,260 1515.3,260.1 1517.3,260.1 1517.3,262 1519.3,262 1519.3,262 1521.3,262 1521.3,254.4 1523.3,254.4 1523.3,254.4 1525.3,254.4 1525.3,254.4 1527.3,254.4 1527.3,261.5 1529.3,261.5 1529.3,261.5 1531.3,261.5 1531.3,261.5 1533.3,261.5 1533.3,255.3 1535.3,255.3 1535.3,255.3 1537.3,255.3 1537.3,261.5 1539.3,261.5 1539.3,261.5 1541.3,261.5 1541.3,261.5 1543.3,261.5 1543.3,261 1545.3,261 1545.3,261 1547.3,261 1547.3,261 1549.3,261 1549.3,262.2 1551.3,262.2 1551.3,262.2 1553.3,262.2 1553.3,262.2 1555.3,262.2 1555.3,254.4 1557.3,254.4 1557.3,254.4 1559.3,254.4 1559.3,254.5 1561.3,254.5 1561.3,254.5 1563.3,254.5 1563.3,258.1 1565.3,258.1 1565.3,258.1 1567.3,258.1 1567.3,260.2 1569.3,260.2 1569.3,260.2 1571.3,260.2 1571.3,260.2 1573.3,260.2 1573.3,260.9 1575.3,260.9 1575.3,260.9 1577.3,260.9 1577.3,260.9 1579.3,260.9 1579.3,255.8 1581.3,255.8 1581.3,255.8 1583.3,255.8 1583.3,255.8 1585.3,255.8 1585.3,260.1 1587.3,260.1 1587.3,260.1 1589.3,260.1 1589.3,261.6 1591.3,261.6 1591.3,261.6 1593.3,261.6 1593.3,261.6 1595.3,261.6 1595.3,261.3 1597.3,261.3 1597.3,261.3 1599.3,261.3 1599.3,261.3 1601.3,261.3 1601.3,255.8 1603.3,255.8 1603.3,255.8 1605.3,255.8 1605.3,255.8 1607.3,255.8 1607.3,261.7 1609.3,261.7 1609.3,261.7 1611.3,261.7 1611.3,259.7 1613.3,259.7 1613.3,259.7 1615.3,259.7 1615.3,259.7 1617.3,259.7 1617.3,259.3 1619.3,259.3 1619.3,259.3 1621.3,259.3 1621.3,259.3 1623.3,259.3 1623.3,261.1 1625.3,261.1 1625.3,261.1 1627.3,261.1 1627.3,256 1629.3,256 1629.3,256 1631.3,256 1631.3,256 1633.3,256 1633.3,254.8 1635.3,254.8 1635.3,254.8 1637.3,254.8 1637.3,254.8 1639.3,254.8 1639.3,254.8 1641.3,254.8 1641.3,254.8 1643.3,254.8 1643.3,255.4 1645.3,255.4 1645.3,255.4 1647.3,255.4 1647.3,255.4 1649.3,255.4 1649.3,254.8 1651.3,254.8 1651.3,254.8 1653.3,254.8 1653.3,254.8 1655.3,254.8 1655.3,258.6 1657.3,258.6 1657.3,258.6 1659.3,258.6 1659.3,261.6 1661.3,261.6 1661.3,261.6 1663.3,261.6 1663.3,261.5 1665.3,261.5 1665.3,258.1 1667.3,258.1 1667.3,258 1669.3,258 1669.3,258 1671.3,258 1671.3,258.5 1673.3,258.5 1673.3,258.5 1675.3,258.5 1675.3,258.5 1677.3,258.5 1677.3,254.9 1679.3,254.9 1679.3,254.8 1681.3,254.8 1681.3,254.8 1683.3,254.8 1683.3,258.7 1685.3,258.7 1685.3,258.6 1687.3,258.6 1687.3,259.5 1689.3,259.5 1689.3,259.4 1691.3,259.4 1691.3,259.4 1693.3,259.4 1693.3,261.6 1695.3,261.6 1695.3,261.5 1697.3,261.5 1697.3,261.5 1699.3,261.5 1699.3,254.3 1701.3,254.3 1701.3,254.3 1703.3,254.3 1703.3,254.2 1705.3,254.2 1705.3,254.3 1707.3,254.3 1707.3,254.3 1709.3,254.3 1709.3,254.6 1711.3,254.6 1711.3,254.6 1713.3,254.6 1713.3,254.5 1715.3,254.5 1715.3,257.7 1717.3,257.7 1717.3,257.7 1719.3,257.7 1719.3,257.6 1721.3,257.6 1721.3,258.3 1723.3,258.3 1723.3,258.3 1725.3,258.3 1725.3,253.3 1727.3,253.3 1727.3,253.3 1729.3,253.3 1729.3,253.2 1731.3,253.2 1731.3,257.1 1733.3,257.1 1733.3,257.1 1735.3,257.1 1735.3,257 1737.3,257 1737.3,259.2 1739.3,259.2 1739.3,259.1 1741.3,259.1 1741.3,260 1743.3,260 1743.3,259.9 1745.3,259.9 1745.3,253.5 1747.3,253.5 1747.3,253.4 1749.3,253.4 1749.3,253.4 1751.3,253.4 1751.3,253.3 1753.3,253.3 1753.3,259.7 1755.3,259.7 1755.3,259.6 1757.3,259.6 1757.3,252.2 1759.3,252.2 1759.3,252.1 1761.3,252.1 1761.3,252.9 1763.3,252.9 1763.3,252.7 1765.3,252.7 1765.3,276.6 1767.3,276.6 1767.3,276.6 1769.3,276.6 1769.3,259.1 1771.3,259.1 1771.3,251.6 1773.3,251.6 1773.3,251.4 1775.3,251.4 1775.3,251.2 1777.3,251.2 1777.3,250.7 1779.3,250.7 1779.3,250.5 1781.3,250.5 1781.3,250.3 1783.3,250.3 1783.3,250.9 1785.3,250.9 1785.3,250.7 1787.3,250.7 1787.3,250.2 1789.3,250.2 1789.3,250 1791.3,250 1791.3,249.8 1793.3,249.8 1793.3,253.7 1795.3,253.7 1795.3,253.5 1797.3,253.5 1797.3,253.3 1799.3,253.3 1799.3,254.9 1801.3,254.9 1801.3,254.6 1803.3,254.6 1803.3,254.4 1805.3,254.4 1805.3,255.2 1807.3,255.2 1807.3,254.9 1809.3,254.9 1809.3,298.6 1811.3,298.6 1811.3,298.6 1813.3,298.6 1813.3,254.3 1815.3,254.3 1815.3,254 1817.3,254 1817.3,245.8 1819.3,245.8 1819.3,279.4 1821.3,279.4 1821.3,279.4 1823.3,279.4 1823.3,250.7 1825.3,250.7 1825.3,250.3 1827.3,250.3 1827.3,250 1829.3,250 1829.3,301.4 1831.3,301.4 1831.3,301.4 1833.3,301.4 1833.3,244 1835.3,244 1835.3,243.7 1837.3,243.7 1837.3,243.3 1839.3,243.3 1839.3,242.1 1841.3,242.1 1841.3,287.6 1843.3,287.6 1843.3,287.6 1845.3,287.6 1845.3,245.7 1847.3,245.7 1847.3,245.2 1849.3,245.2 1849.3,239.6 1851.3,239.6 1851.3,239.1 1853.3,239.1 1853.3,653.5 1851.3,653.5 1851.3,653.2 1849.3,653.2 1849.3,652.8 1847.3,652.8 1847.3,652.3 1845.3,652.3 1845.3,590.8 1843.3,590.8 1843.3,651.6 1841.3,651.6 1841.3,651.2 1839.3,651.2 1839.3,648.9 1837.3,648.9 1837.3,601.9 1835.3,601.9 1835.3,648.2 1833.3,648.2 1833.3,648.1 1831.3,648.1 1831.3,647.8 1829.3,647.8 1829.3,577.1 1827.3,577.1 1827.3,577.1 1825.3,577.1 1825.3,646.1 1823.3,646.1 1823.3,645.7 1821.3,645.7 1821.3,647.7 1819.3,647.7 1819.3,585.3 1817.3,585.3 1817.3,585.3 1815.3,585.3 1815.3,646.8 1813.3,646.8 1813.3,646.4 1811.3,646.4 1811.3,646.1 1809.3,646.1 1809.3,646.1 1807.3,646.1 1807.3,645.8 1805.3,645.8 1805.3,645.4 1803.3,645.4 1803.3,645.1 1801.3,645.1 1801.3,644.3 1799.3,644.3 1799.3,644 1797.3,644 1797.3,643.7 1795.3,643.7 1795.3,640.9 1793.3,640.9 1793.3,640.6 1791.3,640.6 1791.3,641.6 1789.3,641.6 1789.3,641.3 1787.3,641.3 1787.3,642.2 1785.3,642.2 1785.3,641.9 1783.3,641.9 1783.3,641.6 1781.3,641.6 1781.3,641.4 1779.3,641.4 1779.3,641.1 1777.3,641.1 1777.3,640.7 1775.3,640.7 1775.3,640.4 1773.3,640.4 1773.3,637.5 1771.3,637.5 1771.3,637.1 1769.3,637.1 1769.3,636.8 1767.3,636.8 1767.3,636.5 1765.3,636.5 1765.3,615.6 1763.3,615.6 1763.3,615.6 1761.3,615.6 1761.3,638.4 1759.3,638.4 1759.3,638.1 1757.3,638.1 1757.3,637.9 1755.3,637.9 1755.3,637.6 1753.3,637.6 1753.3,636.8 1751.3,636.8 1751.3,636.6 1749.3,636.6 1749.3,636.4 1747.3,636.4 1747.3,634.6 1745.3,634.6 1745.3,634.5 1743.3,634.5 1743.3,634.4 1741.3,634.4 1741.3,634.3 1739.3,634.3 1739.3,636 1737.3,636 1737.3,636 1735.3,636 1735.3,635.9 1733.3,635.9 1733.3,635.9 1731.3,635.9 1731.3,635.7 1729.3,635.7 1729.3,635.7 1727.3,635.7 1727.3,633 1725.3,633 1725.3,633 1723.3,633 1723.3,632.9 1721.3,632.9 1721.3,632.9 1719.3,632.9 1719.3,635.9 1717.3,635.9 1717.3,635.8 1715.3,635.8 1715.3,635.8 1713.3,635.8 1713.3,635.6 1711.3,635.6 1711.3,635.6 1709.3,635.6 1709.3,635.5 1707.3,635.5 1707.3,635.5 1705.3,635.5 1705.3,633 1703.3,633 1703.3,632.9 1701.3,632.9 1701.3,632.9 1699.3,632.9 1699.3,632.8 1697.3,632.8 1697.3,635.3 1695.3,635.3 1695.3,635.2 1693.3,635.2 1693.3,632.5 1691.3,632.5 1691.3,632.4 1689.3,632.4 1689.3,635.3 1687.3,635.3 1687.3,635.2 1685.3,635.2 1685.3,635.2 1683.3,635.2 1683.3,635.2 1681.3,635.2 1681.3,633 1679.3,633 1679.3,632.9 1677.3,632.9 1677.3,635.1 1675.3,635.1 1675.3,635.1 1673.3,635.1 1673.3,635.1 1671.3,635.1 1671.3,635 1669.3,635 1669.3,563.3 1667.3,563.3 1667.3,635 1665.3,635 1665.3,635 1663.3,635 1663.3,635 1661.3,635 1661.3,632.2 1659.3,632.2 1659.3,632.2 1657.3,632.2 1657.3,632.2 1655.3,632.2 1655.3,632.7 1653.3,632.7 1653.3,632.7 1651.3,632.7 1651.3,635 1649.3,635 1649.3,635 1647.3,635 1647.3,634.9 1645.3,634.9 1645.3,634.7 1643.3,634.7 1643.3,634.7 1641.3,634.7 1641.3,634.5 1639.3,634.5 1639.3,634.5 1637.3,634.5 1637.3,634.5 1635.3,634.5 1635.3,634.5 1633.3,634.5 1633.3,634.5 1631.3,634.5 1631.3,634.5 1629.3,634.5 1629.3,634.5 1627.3,634.5 1627.3,634.6 1625.3,634.6 1625.3,634.6 1623.3,634.6 1623.3,634.6 1621.3,634.6 1621.3,634.6 1619.3,634.6 1619.3,634.7 1617.3,634.7 1617.3,634.7 1615.3,634.7 1615.3,634.7 1613.3,634.7 1613.3,634.8 1611.3,634.8 1611.3,634.8 1609.3,634.8 1609.3,634.8 1607.3,634.8 1607.3,634.8 1605.3,634.8 1605.3,634.9 1603.3,634.9 1603.3,634.9 1601.3,634.9 1601.3,634.5 1599.3,634.5 1599.3,634.5 1597.3,634.5 1597.3,634.5 1595.3,634.5 1595.3,634.5 1593.3,634.5 1593.3,634.9 1591.3,634.9 1591.3,634.9 1589.3,634.9 1589.3,634.6 1587.3,634.6 1587.3,634.6 1585.3,634.6 1585.3,634.6 1583.3,634.6 1583.3,634.8 1581.3,634.8 1581.3,634.8 1579.3,634.8 1579.3,634.6 1577.3,634.6 1577.3,634.6 1575.3,634.6 1575.3,634.9 1573.3,634.9 1573.3,634.9 1571.3,634.9 1571.3,634.5 1569.3,634.5 1569.3,634.5 1567.3,634.5 1567.3,631.8 1565.3,631.8 1565.3,631.8 1563.3,631.8 1563.3,631.8 1561.3,631.8 1561.3,634.5 1559.3,634.5 1559.3,634.5 1557.3,634.5 1557.3,634.8 1555.3,634.8 1555.3,634.8 1553.3,634.8 1553.3,634.8 1551.3,634.8 1551.3,634.8 1549.3,634.8 1549.3,634.4 1547.3,634.4 1547.3,634.4 1545.3,634.4 1545.3,634.4 1543.3,634.4 1543.3,634.4 1541.3,634.4 1541.3,634.4 1539.3,634.4 1539.3,634.4 1537.3,634.4 1537.3,634.9 1535.3,634.9 1535.3,634.9 1533.3,634.9 1533.3,634.9 1531.3,634.9 1531.3,634.5 1529.3,634.5 1529.3,634.5 1527.3,634.5 1527.3,634.7 1525.3,634.7 1525.3,634.7 1523.3,634.7 1523.3,634.7 1521.3,634.7 1521.3,634.7 1519.3,634.7 1519.3,632.2 1517.3,632.2 1517.3,632.2 1515.3,632.2 1515.3,632.2 1513.3,632.2 1513.3,631.8 1511.3,631.8 1511.3,631.8 1509.3,631.8 1509.3,632.5 1507.3,632.5 1507.3,632.5 1505.3,632.5 1505.3,634.8 1503.3,634.8 1503.3,634.8 1501.3,634.8 1501.3,634.8 1499.3,634.8 1499.3,634.7 1497.3,634.7 1497.3,634.7 1495.3,634.7 1495.3,634.7 1493.3,634.7 1493.3,634.5 1491.3,634.5 1491.3,634.5 1489.3,634.5 1489.3,634.5 1487.3,634.5 1487.3,634.5 1485.3,634.5 1485.3,634.5 1483.3,634.5 1483.3,634.5 1481.3,634.5 1481.3,634.6 1479.3,634.6 1479.3,634.6 1477.3,634.6 1477.3,634.8 1475.3,634.8 1475.3,634.8 1473.3,634.8 1473.3,634.8 1471.3,634.8 1471.3,634.3 1469.3,634.3 1469.3,634.3 1467.3,634.3 1467.3,634.3 1465.3,634.3 1465.3,634.3 1463.3,634.3 1463.3,633.2 1461.3,633.2 1461.3,633.2 1459.3,633.2 1459.3,633.2 1457.3,633.2 1457.3,634.4 1455.3,634.4 1455.3,634.4 1453.3,634.4 1453.3,634.6 1451.3,634.6 1451.3,634.6 1449.3,634.6 1449.3,634.6 1447.3,634.6 1447.3,634.6 1445.3,634.6 1445.3,631.6 1443.3,631.6 1443.3,631.6 1441.3,631.6 1441.3,631.6 1439.3,631.6 1439.3,631.6 1437.3,631.6 1437.3,632.3 1435.3,632.3 1435.3,632.3 1433.3,632.3 1433.3,632.9 1431.3,632.9 1431.3,632.9 1429.3,632.9 1429.3,632.9 1427.3,632.9 1427.3,632.9 1425.3,632.9 1425.3,634.6 1423.3,634.6 1423.3,634.6 1421.3,634.6 1421.3,632.4 1419.3,632.4 1419.3,632.4 1417.3,632.4 1417.3,632.4 1415.3,632.4 1415.3,632.4 1413.3,632.4 1413.3,634.5 1411.3,634.5 1411.3,634.5 1409.3,634.5 1409.3,634.6 1407.3,634.6 1407.3,634.6 1405.3,634.6 1405.3,634.8 1403.3,634.8 1403.3,634.8 1401.3,634.8 1401.3,634.8 1399.3,634.8 1399.3,633.1 1397.3,633.1 1397.3,633.1 1395.3,633.1 1395.3,634.4 1393.3,634.4 1393.3,574.3 1391.3,574.3 1391.3,574.3 1389.3,574.3 1389.3,634.8 1387.3,634.8 1387.3,634.8 1385.3,634.8 1385.3,634.6 1383.3,634.6 1383.3,634.6 1381.3,634.6 1381.3,634.6 1379.3,634.6 1379.3,634.6 1377.3,634.6 1377.3,632.6 1375.3,632.6 1375.3,632.6 1373.3,632.6 1373.3,632.6 1371.3,632.6 1371.3,634.9 1369.3,634.9 1369.3,634.9 1367.3,634.9 1367.3,634.9 1365.3,634.9 1365.3,634.9 1363.3,634.9 1363.3,634.4 1361.3,634.4 1361.3,634.4 1359.3,634.4 1359.3,634.4 1357.3,634.4 1357.3,634.3 1355.3,634.3 1355.3,634.3 1353.3,634.3 1353.3,634.3 1351.3,634.3 1351.3,634.3 1349.3,634.3 1349.3,632 1347.3,632 1347.3,632 1345.3,632 1345.3,632 1343.3,632 1343.3,634.3 1341.3,634.3 1341.3,634.3 1339.3,634.3 1339.3,634.3 1337.3,634.3 1337.3,634.3 1335.3,634.3 1335.3,633.4 1333.3,633.4 1333.3,633.4 1331.3,633.4 1331.3,633.4 1329.3,633.4 1329.3,633.4 1327.3,633.4 1327.3,634.4 1325.3,634.4 1325.3,634.4 1323.3,634.4 1323.3,634.8 1321.3,634.8 1321.3,634.7 1319.3,634.7 1319.3,634.7 1317.3,634.7 1317.3,634.7 1315.3,634.7 1315.3,632.9 1313.3,632.9 1313.3,632.9 1311.3,632.9 1311.3,632.9 1309.3,632.9 1309.3,631.5 1307.3,631.5 1307.3,631.5 1305.3,631.5 1305.3,631.5 1303.3,631.5 1303.3,631.4 1301.3,631.4 1301.3,634.6 1299.3,634.6 1299.3,634.6 1297.3,634.6 1297.3,634.2 1295.3,634.2 1295.3,634.1 1293.3,634.1 1293.3,634.1 1291.3,634.1 1291.3,634.1 1289.3,634.1 1289.3,634 1287.3,634 1287.3,634 1285.3,634 1285.3,633.9 1283.3,633.9 1283.3,633.9 1281.3,633.9 1281.3,632 1279.3,632 1279.3,632 1277.3,632 1277.3,631.9 1275.3,631.9 1275.3,633.8 1273.3,633.8 1273.3,633.8 1271.3,633.8 1271.3,633.8 1269.3,633.8 1269.3,631.9 1267.3,631.9 1267.3,631.9 1265.3,631.9 1265.3,631.9 1263.3,631.9 1263.3,634.1 1261.3,634.1 1261.3,634.1 1259.3,634.1 1259.3,630.9 1257.3,630.9 1257.3,630.8 1255.3,630.8 1255.3,633.5 1253.3,633.5 1253.3,633.5 1251.3,633.5 1251.3,634 1249.3,634 1249.3,634 1247.3,634 1247.3,634 1245.3,634 1245.3,633.9 1243.3,633.9 1243.3,633.6 1241.3,633.6 1241.3,633.6 1239.3,633.6 1239.3,633.6 1237.3,633.6 1237.3,633.6 1235.3,633.6 1235.3,630.7 1233.3,630.7 1233.3,630.7 1231.3,630.7 1231.3,632 1229.3,632 1229.3,632 1227.3,632 1227.3,632 1225.3,632 1225.3,632 1223.3,632 1223.3,633.2 1221.3,633.2 1221.3,633.2 1219.3,633.2 1219.3,633.2 1217.3,633.2 1217.3,633.2 1215.3,633.2 1215.3,633.6 1213.3,633.6 1213.3,633.6 1211.3,633.6 1211.3,633.6 1209.3,633.6 1209.3,633.4 1207.3,633.4 1207.3,633.4 1205.3,633.4 1205.3,633.5 1203.3,633.5 1203.3,633.8 1201.3,633.8 1201.3,633.9 1199.3,633.9 1199.3,633.9 1197.3,633.9 1197.3,633.8 1195.3,633.8 1195.3,633.9 1193.3,633.9 1193.3,633.9 1191.3,633.9 1191.3,632 1189.3,632 1189.3,632 1187.3,632 1187.3,632.1 1185.3,632.1 1185.3,634.2 1183.3,634.2 1183.3,634.3 1181.3,634.3 1181.3,633 1179.3,633 1179.3,633.1 1177.3,633.1 1177.3,633.2 1175.3,633.2 1175.3,634.6 1173.3,634.6 1173.3,634.7 1171.3,634.7 1171.3,634.8 1169.3,634.8 1169.3,634.9 1167.3,634.9 1167.3,635 1165.3,635 1165.3,633.2 1163.3,633.2 1163.3,633.3 1161.3,633.3 1161.3,633.4 1159.3,633.4 1159.3,633.5 1157.3,633.5 1157.3,635.3 1155.3,635.3 1155.3,635.4 1153.3,635.4 1153.3,633.4 1151.3,633.4 1151.3,633.5 1149.3,633.5 1149.3,636.2 1147.3,636.2 1147.3,636.3 1145.3,636.3 1145.3,636.5 1143.3,636.5 1143.3,636.6 1141.3,636.6 1141.3,636.8 1139.3,636.8 1139.3,636.9 1137.3,636.9 1137.3,637 1135.3,637 1135.3,637.2 1133.3,637.2 1133.3,636.8 1131.3,636.8 1131.3,636.9 1129.3,636.9 1129.3,637 1127.3,637 1127.3,637.1 1125.3,637.1 1125.3,634.6 1123.3,634.6 1123.3,634.7 1121.3,634.7 1121.3,637.8 1119.3,637.8 1119.3,637.9 1117.3,637.9 1117.3,638.1 1115.3,638.1 1115.3,638.2 1113.3,638.2 1113.3,635.9 1111.3,635.9 1111.3,636.1 1109.3,636.1 1109.3,638.5 1107.3,638.5 1107.3,638.7 1105.3,638.7 1105.3,639.1 1103.3,639.1 1103.3,639.3 1101.3,639.3 1101.3,639.4 1099.3,639.4 1099.3,639.6 1097.3,639.6 1097.3,639.8 1095.3,639.8 1095.3,640 1093.3,640 1093.3,638.7 1091.3,638.7 1091.3,638.9 1089.3,638.9 1089.3,640.8 1087.3,640.8 1087.3,641 1085.3,641 1085.3,641.3 1083.3,641.3 1083.3,641.5 1081.3,641.5 1081.3,641.8 1079.3,641.8 1079.3,642 1077.3,642 1077.3,642.3 1075.3,642.3"/>
<polygon fill="#0f0" points="1853.1,302 1855.1,302 1855.1,302 1857.1,302 1857.1,302 1859.1,302 1859.1,652.5 1857.1,652.5 1857.1,652.1 1855.1,652.1 1855.1,651.7 1853.1,651.7"/>
<polygon fill="#0f0" points="1857.7,241.5 1859.7,241.5 1859.7,240.9 1861.7,240.9 1861.7,240.2 1863.7,240.2 1863.7,239.6 1865.7,239.6 1865.7,240.2 1867.7,240.2 1867.7,239.6 1869.7,239.6 1869.7,233.9 1871.7,233.9 1871.7,233.2 1873.7,233.2 1873.7,232.5 1875.7,232.5 1875.7,231.8 1877.7,231.8 1877.7,234.7 1879.7,234.7 1879.7,234.1 1881.7,234.1 1881.7,233.4 1883.7,233.4 1883.7,306.9 1881.7,306.9 1881.7,306.9 1879.7,306.9 1879.7,306.9 1877.7,306.9 1877.7,306.9 1875.7,306.9 1875.7,306.9 1873.7,306.9 1873.7,306.9 1871.7,306.9 1871.7,306.9 1869.7,306.9 1869.7,306.9 1867.7,306.9 1867.7,306.9 1865.7,306.9 1865.7,306.9 1863.7,306.9 1863.7,306.9 1861.7,306.9 1861.7,306.9 1859.7,306.9 1859.7,306.9 1857.7,306.9"/>
<polygon fill="#0f0" points="1881.7,229.4 1883.7,229.4 1883.7,228.7 1885.7,228.7 1885.7,228.1 1887.7,228.1 1887.7,227.4 1889.7,227.4 1889.7,233 1891.7,233 1891.7,232.4 1893.7,232.4 1893.7,231.8 1895.7,231.8 1895.7,228.5 1897.7,228.5 1897.7,227.9 1899.7,227.9 1899.7,230 1901.7,230 1901.7,265.6 1903.7,265.6 1903.7,228.9 1905.7,228.9 1905.7,228.4 1907.7,228.4 1907.7,222.2 1909.7,222.2 1909.7,221.7 1911.7,221.7 1911.7,221.2 1913.7,221.2 1913.7,220.7 1915.7,220.7 1915.7,222.7 1917.7,222.7 1917.7,222.2 1919.7,222.2 1919.7,221.7 1921.7,221.7 1921.7,221.2 1923.7,221.2 1923.7,221.5 1925.7,221.5 1925.7,221 1927.7,221 1927.7,220.5 1929.7,220.5 1929.7,216.4 1931.7,216.4 1931.7,215.9 1933.7,215.9 1933.7,215.4 1935.7,215.4 1935.7,214.9 1937.7,214.9 1937.7,214.5 1939.7,214.5 1939.7,214 1941.7,214 1941.7,213.5 1943.7,213.5 1943.7,212.3 1945.7,212.3 1945.7,211.7 1947.7,211.7 1947.7,211.1 1949.7,211.1 1949.7,216.7 1951.7,216.7 1951.7,216.1 1953.7,216.1 1953.7,212.5 1955.7,212.5 1955.7,211.9 1957.7,211.9 1957.7,211.3 1959.7,211.3 1959.7,210.7 1961.7,210.7 1961.7,207.3 1963.7,207.3 1963.7,206.7 1965.7,206.7 1965.7,206 1967.7,206 1967.7,205.2 1969.7,205.2 1969.7,204.5 1971.7,204.5 1971.7,203.9 1973.7,203.9 1973.7,238 1975.7,238 1975.7,202.9 1977.7,202.9 1977.7,207 1979.7,207 1979.7,206.4 1981.7,206.4 1981.7,205.8 1983.7,205.8 1983.7,205.1 1985.7,205.1 1985.7,200.1 1987.7,200.1 1987.7,199.5 1989.7,199.5 1989.7,198.9 1991.7,198.9 1991.7,201.1 1993.7,201.1 1993.7,200.5 1995.7,200.5 1995.7,199.9 1997.7,199.9 1997.7,199.1 1999.7,199.1 1999.7,198.6 2001.7,198.6 2001.7,195.2 2003.7,195.2 2003.7,194.6 2005.7,194.6 2005.7,194.1 2007.7,194.1 2007.7,193.4 2009.7,193.4 2009.7,192.9 2011.7,192.9 2011.7,196 2013.7,196 2013.7,195.4 2015.7,195.4 2015.7,194.8 2017.7,194.8 2017.7,194.2 2019.7,194.2 2019.7,193.1 2021.7,193.1 2021.7,192.5 2023.7,192.5 2023.7,193.4 2025.7,193.4 2025.7,192.9 2027.7,192.9 2027.7,192.3 2029.7,192.3 2029.7,191.7 2031.7,191.7 2031.7,186 2033.7,186 2033.7,185.4 2035.7,185.4 2035.7,184.9 2037.7,184.9 2037.7,188.3 2039.7,188.3 2039.7,187.7 2041.7,187.7 2041.7,187.2 2043.7,187.2 2043.7,183.8 2045.7,183.8 2045.7,183.3 2047.7,183.3 2047.7,182.8 2049.7,182.8 2049.7,182.3 2051.7,182.3 2051.7,180.6 2053.7,180.6 2053.7,180.1 2055.7,180.1 2055.7,180.7 2057.7,180.7 2057.7,180.1 2059.7,180.1 2059.7,179 2061.7,179 2061.7,178.4 2063.7,178.4 2063.7,178.5 2065.7,178.5 2065.7,178 2067.7,178 2067.7,177.5 2069.7,177.5 2069.7,216 2071.7,216 2071.7,179.1 2073.7,179.1 2073.7,178.6 2075.7,178.6 2075.7,178.1 2077.7,178.1 2077.7,180 2079.7,180 2079.7,179.5 2081.7,179.5 2081.7,179 2083.7,179 2083.7,178.5 2085.7,178.5 2085.7,173.3 2087.7,173.3 2087.7,172.8 2089.7,172.8 2089.7,177 2091.7,177 2091.7,176.6 2093.7,176.6 2093.7,176.1 2095.7,176.1 2095.7,175.7 2097.7,175.7 2097.7,169.6 2099.7,169.6 2099.7,169.3 2101.7,169.3 2101.7,169.6 2103.7,169.6 2103.7,169.3 2105.7,169.3 2105.7,168.9 2107.7,168.9 2107.7,168.6 2109.7,168.6 2109.7,171 2111.7,171 2111.7,170.7 2113.7,170.7 2113.7,170.4 2115.7,170.4 2115.7,171.9 2117.7,171.9 2117.7,171.6 2119.7,171.6 2119.7,171.3 2121.7,171.3 2121.7,171 2123.7,171 2123.7,165.3 2125.7,165.3 2125.7,164.9 2127.7,164.9 2127.7,164.7 2129.7,164.7 2129.7,164.4 2131.7,164.4 2131.7,167.6 2133.7,167.6 2133.7,167.3 2135.7,167.3 2135.7,167 2137.7,167 2137.7,166.8 2139.7,166.8 2139.7,167.3 2141.7,167.3 2141.7,167.1 2143.7,167.1 2143.7,168.3 2145.7,168.3 2145.7,168.1 2147.7,168.1 2147.7,167.9 2149.7,167.9 2149.7,165.1 2151.7,165.1 2151.7,165 2153.7,165 2153.7,162 2155.7,162 2155.7,161.9 2157.7,161.9 2157.7,161.7 2159.7,161.7 2159.7,165.9 2161.7,165.9 2161.7,165.7 2163.7,165.7 2163.7,165.6 2165.7,165.6 2165.7,165.4 2167.7,165.4 2167.7,161.4 2169.7,161.4 2169.7,161.2 2171.7,161.2 2171.7,161.1 2173.7,161.1 2173.7,161 2175.7,161 2175.7,162.9 2177.7,162.9 2177.7,162.7 2179.7,162.7 2179.7,164.9 2181.7,164.9 2181.7,164.7 2183.7,164.7 2183.7,177.4 2185.7,177.4 2185.7,160.2 2187.7,160.2 2187.7,160.1 2189.7,160.1 2189.7,180.1 2191.7,180.1 2191.7,164.9 2193.7,164.9 2193.7,164.8 2195.7,164.8 2195.7,164.7 2197.7,164.7 2197.7,162.6 2199.7,162.6 2199.7,162.6 2201.7,162.6 2201.7,162.5 2203.7,162.5 2203.7,162.5 2205.7,162.5 2205.7,164.3 2207.7,164.3 2207.7,164.3 2209.7,164.3 2209.7,164.3 2211.7,164.3 2211.7,158.8 2213.7,158.8 2213.7,158.8 2215.7,158.8 2215.7,158.8 2217.7,158.8 2217.7,167.4 2219.7,167.4 2219.7,167.4 2221.7,167.4 2221.7,167.4 2223.7,167.4 2223.7,167.4 2225.7,167.4 2225.7,159.7 2227.7,159.7 2227.7,164.7 2229.7,164.7 2229.7,164.7 2231.7,164.7 2231.7,164.7 2233.7,164.7 2233.7,162.9 2235.7,162.9 2235.7,163 2237.7,163 2237.7,163 2239.7,163 2239.7,174.6 2241.7,174.6 2241.7,159.1 2243.7,159.1 2243.7,162.9 2245.7,162.9 2245.7,162.9 2247.7,162.9 2247.7,158.9 2249.7,158.9 2249.7,158.9 2251.7,158.9 2251.7,159 2253.7,159 2253.7,165.1 2255.7,165.1 2255.7,165.2 2257.7,165.2 2257.7,159.8 2259.7,159.8 2259.7,159.8 2261.7,159.8 2261.7,165.2 2263.7,165.2 2263.7,734.6 2261.7,734.6 2261.7,734.6 2259.7,734.6 2259.7,736.4 2257.7,736.4 2257.7,736.4 2255.7,736.4 2255.7,736.3 2253.7,736.3 2253.7,736.3 2251.7,736.3 2251.7,736.2 2249.7,736.2 2249.7,736.2 2247.7,736.2 2247.7,736.2 2245.7,736.2 2245.7,736.1 2243.7,736.1 2243.7,735.6 2241.7,735.6 2241.7,735.6 2239.7,735.6 2239.7,735.6 2237.7,735.6 2237.7,735.6 2235.7,735.6 2235.7,733.5 2233.7,733.5 2233.7,733.5 2231.7,733.5 2231.7,733.5 2229.7,733.5 2229.7,732.3 2227.7,732.3 2227.7,732.3 2225.7,732.3 2225.7,732.2 2223.7,732.2 2223.7,732.2 2221.7,732.2 2221.7,735.6 2219.7,735.6 2219.7,735.6 2217.7,735.6 2217.7,735.5 2215.7,735.5 2215.7,735.6 2213.7,735.6 2213.7,735.5 2211.7,735.5 2211.7,735.5 2209.7,735.5 2209.7,735.4 2207.7,735.4 2207.7,733.3 2205.7,733.3 2205.7,733.3 2203.7,733.3 2203.7,733.2 2201.7,733.2 2201.7,731.5 2199.7,731.5 2199.7,731.4 2197.7,731.4 2197.7,731.4 2195.7,731.4 2195.7,734.9 2193.7,734.9 2193.7,734.8 2191.7,734.8 2191.7,734.7 2189.7,734.7 2189.7,734.7 2187.7,734.7 2187.7,734.3 2185.7,734.3 2185.7,734.2 2183.7,734.2 2183.7,734.1 2181.7,734.1 2181.7,734.1 2179.7,734.1 2179.7,731.7 2177.7,731.7 2177.7,731.6 2175.7,731.6 2175.7,731.5 2173.7,731.5 2173.7,732 2171.7,732 2171.7,731.9 2169.7,731.9 2169.7,731.9 2167.7,731.9 2167.7,731.8 2165.7,731.8 2165.7,731.8 2163.7,731.8 2163.7,730.4 2161.7,730.4 2161.7,730.3 2159.7,730.3 2159.7,730.2 2157.7,730.2 2157.7,730.1 2155.7,730.1 2155.7,731.1 2153.7,731.1 2153.7,731 2151.7,731 2151.7,730.9 2149.7,730.9 2149.7,732.9 2147.7,732.9 2147.7,732.7 2145.7,732.7 2145.7,732.6 2143.7,732.6 2143.7,732.3 2141.7,732.3 2141.7,732.1 2139.7,732.1 2139.7,731.9 2137.7,731.9 2137.7,731.5 2135.7,731.5 2135.7,731.3 2133.7,731.3 2133.7,728.5 2131.7,728.5 2131.7,728.3 2129.7,728.3 2129.7,728 2127.7,728 2127.7,727.8 2125.7,727.8 2125.7,730.4 2123.7,730.4 2123.7,730.1 2121.7,730.1 2121.7,729.9 2119.7,729.9 2119.7,729.6 2117.7,729.6 2117.7,729.3 2115.7,729.3 2115.7,729 2113.7,729 2113.7,728.7 2111.7,728.7 2111.7,728.4 2109.7,728.4 2109.7,724.6 2107.7,724.6 2107.7,724.3 2105.7,724.3 2105.7,727.2 2103.7,727.2 2103.7,726.8 2101.7,726.8 2101.7,726.5 2099.7,726.5 2099.7,726.4 2097.7,726.4 2097.7,726.1 2095.7,726.1 2095.7,723.4 2093.7,723.4 2093.7,723 2091.7,723 2091.7,724.4 2089.7,724.4 2089.7,724 2087.7,724 2087.7,723.5 2085.7,723.5 2085.7,723.4 2083.7,723.4 2083.7,722.9 2081.7,722.9 2081.7,720.4 2079.7,720.4 2079.7,719.9 2077.7,719.9 2077.7,719.4 2075.7,719.4 2075.7,718.9 2073.7,718.9 2073.7,720.2 2071.7,720.2 2071.7,719.7 2069.7,719.7 2069.7,716.4 2067.7,716.4 2067.7,715.9 2065.7,715.9 2065.7,718.3 2063.7,718.3 2063.7,717.8 2061.7,717.8 2061.7,717.3 2059.7,717.3 2059.7,716.8 2057.7,716.8 2057.7,715.8 2055.7,715.8 2055.7,715.3 2053.7,715.3 2053.7,714.8 2051.7,714.8 2051.7,713.1 2049.7,713.1 2049.7,712.6 2047.7,712.6 2047.7,713.8 2045.7,713.8 2045.7,713.3 2043.7,713.3 2043.7,712.8 2041.7,712.8 2041.7,710.7 2039.7,710.7 2039.7,710.2 2037.7,710.2 2037.7,709.7 2035.7,709.7 2035.7,711 2033.7,711 2033.7,710.5 2031.7,710.5 2031.7,706.5 2029.7,706.5 2029.7,706 2027.7,706 2027.7,708.8 2025.7,708.8 2025.7,708.3 2023.7,708.3 2023.7,707.6 2021.7,707.6 2021.7,707.1 2019.7,707.1 2019.7,706.5 2017.7,706.5 2017.7,706 2015.7,706 2015.7,705.4 2013.7,705.4 2013.7,704.8 2011.7,704.8 2011.7,704.3 2009.7,704.3 2009.7,703.7 2007.7,703.7 2007.7,703.5 2005.7,703.5 2005.7,702.9 2003.7,702.9 2003.7,702.3 2001.7,702.3 2001.7,698.4 1999.7,698.4 1999.7,697.7 1997.7,697.7 1997.7,697.1 1995.7,697.1 1995.7,699.3 1993.7,699.3 1993.7,698.6 1991.7,698.6 1991.7,698.2 1989.7,698.2 1989.7,697.4 1987.7,697.4 1987.7,696.8 1985.7,696.8 1985.7,696.1 1983.7,696.1 1983.7,695.3 1981.7,695.3 1981.7,694.6 1979.7,694.6 1979.7,691.7 1977.7,691.7 1977.7,690.9 1975.7,690.9 1975.7,691.8 1973.7,691.8 1973.7,691 1971.7,691 1971.7,690.2 1969.7,690.2 1969.7,689.5 1967.7,689.5 1967.7,688.7 1965.7,688.7 1965.7,687.9 1963.7,687.9 1963.7,684.4 1961.7,684.4 1961.7,683.7 1959.7,683.7 1959.7,682.9 1957.7,682.9 1957.7,683.3 1955.7,683.3 1955.7,682.6 1953.7,682.6 1953.7,683.7 1951.7,683.7 1951.7,683 1949.7,683 1949.7,682.2 1947.7,682.2 1947.7,681.5 1945.7,681.5 1945.7,680.4 1943.7,680.4 1943.7,679.7 1941.7,679.7 1941.7,679 1939.7,679 1939.7,678.2 1937.7,678.2 1937.7,677.4 1935.7,677.4 1935.7,676.7 1933.7,676.7 1933.7,675.9 1931.7,675.9 1931.7,675.2 1929.7,675.2 1929.7,674.5 1927.7,674.5 1927.7,673.8 1925.7,673.8 1925.7,673.1 1923.7,673.1 1923.7,672.3 1921.7,672.3 1921.7,671.6 1919.7,671.6 1919.7,670.9 1917.7,670.9 1917.7,670.1 1915.7,670.1 1915.7,669.4 1913.7,669.4 1913.7,666.4 1911.7,666.4 1911.7,665.7 1909.7,665.7 1909.7,665 1907.7,665 1907.7,666.8 1905.7,666.8 1905.7,666.1 1903.7,666.1 1903.7,662.9 1901.7,662.9 1901.7,662.3 1899.7,662.3 1899.7,661.7 1897.7,661.7 1897.7,661.1 1895.7,661.1 1895.7,660.5 1893.7,660.5 1893.7,659.9 1891.7,659.9 1891.7,659.4 1889.7,659.4 1889.7,661.4 1887.7,661.4 1887.7,660.9 1885.7,660.9 1885.7,660.4 1883.7,660.4 1883.7,659.9 1881.7,659.9"/>
<path d="M854.1 207.7h3v7h-3z M880.1 224.2h4v8h-4z M959 233.6h6v7h-6z M983.9 265.6h3v5h-3z M1019.3 246.3h3v9h-3z M1976.7 228.1h5v6h-5z M2093 198.3h4v5h-4z M1831.3 313.5h7v6h-7z M882.2 574.3h3v4h-3z" fill="#fff"/>
<path d="M182.3 136.6 L187.7 159.7 L193.7 218.2 L201 278.3 L205.1 326.2" stroke="#00f" stroke-width="6.3" stroke-dasharray="25 7 11.5 7" fill="none"/>
<polygon fill="#00f" points="204.7,327.6 210.7,328.8 216.7,330 222.7,331.1 228.7,332.2 234.7,333.2 240.7,334 246.7,334.7 252.7,335.4 258.7,336 264.7,336.6 270.7,337.2 276.7,337.7 282.7,338.2 288.7,338.6 294.7,339 300.7,339.3 306.7,339.4 312.7,339.6 318.7,339.7 324.7,339.8 330.7,340 336.7,340.1 342.7,340.2 348.7,340.2 354.7,340.3 360.7,340.4 366.7,340.4 372.7,340.5 378.7,340.5 384.7,340.5 390.7,340.5 396.7,340.5 402.7,340.5 408.7,340.4 414.7,340.3 420.7,340.2 426.7,340.1 432.7,340 438.7,339.8 444.7,339.6 450.7,339.5 456.7,339.3 462.7,339.1 468.7,339 474.7,338.8 480.7,338.7 486.7,338.5 492.7,338.4 498.7,338.2 504.7,338.1 510.7,338 516.7,337.9 522.7,337.8 528.7,337.6 534.7,337.5 540.7,337.4 546.7,337.3 552.7,337.2 558.7,337 564.7,336.9 570.7,336.8 576.7,336.6 582.7,336.5 588.7,336.4 594.7,336.2 600.7,336.1 606.7,335.9 612.7,335.7 618.7,335.5 624.7,335.2 630.7,335 636.7,334.7 642.7,334.5 648.7,334.2 654.7,334 660.7,333.8 666.7,333.5 672.7,333.3 678.7,333.2 684.7,333 690.7,332.9 696.7,332.9 702.7,332.8 708.7,332.8 714.7,332.8 720.7,332.8 726.7,332.8 732.7,332.8 738.7,332.7 744.7,332.7 750.7,332.7 756.7,332.7 762.7,332.7 768.7,332.7 774.7,332.7 780.7,332.7 786.7,332.6 792.7,332.6 798.7,332.6 804.7,332.6 810.7,332.6 816.7,332.6 822.7,332.6 828.7,332.6 834.7,332.6 840.7,332.6 846.7,332.6 852.7,332.6 858.7,332.5 864.7,332.5 870.7,332.5 876.7,332.5 882.7,332.5 888.7,332.5 894.7,332.5 900.7,332.5 906.7,332.5 912.7,332.5 918.7,332.5 924.7,332.5 930.7,332.5 936.7,332.5 942.7,332.5 948.7,332.5 954.7,332.5 960.7,332.5 966.7,332.5 972.7,332.5 978.7,332.5 984.7,332.4 990.7,332.4 996.7,332.4 1002.7,332.4 1008.7,332.4 1014.7,332.4 1020.7,332.4 1026.7,332.4 1032.7,332.4 1038.7,332.4 1044.7,332.4 1050.7,332.4 1056.7,332.4 1062.7,332.4 1068.7,332.4 1074.7,332.4 1080.7,332.4 1086.7,332.4 1092.7,332.4 1098.7,332.4 1104.7,332.4 1110.7,332.4 1116.7,332.4 1122.7,332.4 1128.7,332.4 1134.7,332.4 1140.7,332.4 1146.7,332.3 1152.7,332.3 1158.7,332.3 1164.7,332.3 1170.7,332.3 1176.7,332.3 1182.7,332.3 1188.7,332.3 1194.7,332.3 1200.7,332.3 1206.7,332.3 1212.7,332.3 1218.7,332.3 1224.7,332.3 1230.7,332.3 1236.7,332.3 1242.7,332.3 1248.7,332.2 1254.7,332.2 1260.7,332.2 1266.7,332.2 1272.7,332.2 1278.7,332.2 1284.7,332.2 1290.7,332.2 1296.7,332.2 1302.7,332.2 1308.7,332.1 1314.7,332.1 1320.7,332.1 1326.7,332.1 1332.7,332.1 1338.7,332.1 1344.7,332.1 1350.7,332.1 1356.7,332.1 1362.7,332.1 1368.7,332 1374.7,332 1380.7,332 1386.7,332 1392.7,332 1398.7,332 1404.7,332 1410.7,332 1416.7,332 1422.7,332 1428.7,331.9 1434.7,331.9 1440.7,331.9 1446.7,331.9 1452.7,331.9 1458.7,331.9 1464.7,331.9 1470.7,331.9 1476.7,331.9 1482.7,331.9 1488.7,331.8 1494.7,331.8 1500.7,331.8 1506.7,331.8 1512.7,331.8 1518.7,331.8 1524.7,331.8 1530.7,331.8 1536.7,331.8 1542.7,331.8 1548.7,331.8 1554.7,331.8 1560.7,331.8 1566.7,331.8 1572.7,331.8 1578.7,331.7 1584.7,331.7 1590.7,331.7 1596.7,331.7 1602.7,331.7 1608.7,331.7 1614.7,331.7 1620.7,331.7 1626.7,331.7 1632.7,331.7 1638.7,331.7 1644.7,331.7 1650.7,331.7 1656.7,331.7 1662.7,331.7 1668.7,331.7 1674.7,331.7 1680.7,331.7 1686.7,331.8 1692.7,331.8 1698.7,331.8 1704.7,331.8 1710.7,331.8 1716.7,331.8 1722.7,331.8 1728.7,331.8 1734.7,331.8 1740.7,331.8 1746.7,331.8 1752.7,331.9 1758.7,331.9 1764.7,331.9 1770.7,331.9 1776.7,331.9 1782.7,331.9 1788.7,331.9 1794.7,331.9 1800.7,332 1806.7,332 1812.7,332 1818.7,332 1824.7,332 1830.7,332 1836.7,332.1 1842.7,332.1 1848.7,332.1 1854.7,332.1 1860.7,332.1 1866.7,332.2 1872.7,332.2 1878.7,332.2 1884.7,332.2 1890.7,332.2 1896.7,332.3 1902.7,332.3 1908.7,332.3 1914.7,332.3 1920.7,332.3 1926.7,332.4 1932.7,332.4 1938.7,332.4 1944.7,332.4 1950.7,332.5 1956.7,332.5 1962.7,332.5 1968.7,332.5 1974.7,332.5 1980.7,332.6 1986.7,332.6 1992.7,332.6 1998.7,332.6 2004.7,332.7 2010.7,332.7 2016.7,332.7 2022.7,332.7 2028.7,332.7 2034.7,332.8 2040.7,332.8 2046.7,332.8 2052.7,332.8 2058.7,332.9 2064.7,332.9 2070.7,332.9 2076.7,332.9 2082.7,333 2088.7,333 2094.7,333 2100.7,333 2106.7,333.1 2112.7,333.1 2118.7,333.1 2124.7,333.2 2130.7,333.2 2136.7,333.2 2142.7,333.2 2148.7,333.3 2154.7,333.3 2160.7,333.3 2166.7,333.4 2172.7,333.4 2178.7,333.4 2184.7,333.5 2190.7,333.5 2196.7,333.6 2202.7,333.6 2208.7,333.6 2214.7,333.7 2220.7,333.7 2226.7,333.7 2232.7,333.8 2238.7,333.8 2244.7,333.8 2250.7,333.9 2256.7,333.9 2262.3,333.9 2262.3,561.1 2256.7,561 2250.7,560.9 2244.7,560.8 2238.7,560.7 2232.7,560.6 2226.7,560.5 2220.7,560.4 2214.7,560.3 2208.7,560.2 2202.7,560.1 2196.7,560 2190.7,559.9 2184.7,559.8 2178.7,559.7 2172.7,559.6 2166.7,559.5 2160.7,559.4 2154.7,559.3 2148.7,559.2 2142.7,559.1 2136.7,559 2130.7,559 2124.7,558.9 2118.7,558.8 2112.7,558.8 2106.7,558.7 2100.7,558.6 2094.7,558.6 2088.7,558.5 2082.7,558.5 2076.7,558.4 2070.7,558.4 2064.7,558.4 2058.7,558.3 2052.7,558.3 2046.7,558.3 2040.7,558.3 2034.7,558.3 2028.7,558.3 2022.7,558.2 2016.7,558.2 2010.7,558.2 2004.7,558.2 1998.7,558.2 1992.7,558.2 1986.7,558.2 1980.7,558.1 1974.7,558.1 1968.7,558.1 1962.7,558.1 1956.7,558.1 1950.7,558.1 1944.7,558.1 1938.7,558.1 1932.7,558 1926.7,558 1920.7,558 1914.7,558 1908.7,558 1902.7,558 1896.7,558 1890.7,558 1884.7,558 1878.7,557.9 1872.7,557.9 1866.7,557.9 1860.7,557.9 1854.7,557.9 1848.7,557.9 1842.7,557.9 1836.7,557.9 1830.7,557.9 1824.7,557.9 1818.7,557.9 1812.7,557.9 1806.7,557.9 1800.7,557.8 1794.7,557.8 1788.7,557.8 1782.7,557.8 1776.7,557.8 1770.7,557.8 1764.7,557.8 1758.7,557.8 1752.7,557.8 1746.7,557.8 1740.7,557.8 1734.7,557.8 1728.7,557.8 1722.7,557.8 1716.7,557.8 1710.7,557.8 1704.7,557.8 1698.7,557.8 1692.7,557.8 1686.7,557.8 1680.7,557.8 1674.7,557.8 1668.7,557.8 1662.7,557.8 1656.7,557.8 1650.7,557.8 1644.7,557.8 1638.7,557.8 1632.7,557.8 1626.7,557.8 1620.7,557.8 1614.7,557.8 1608.7,557.8 1602.7,557.8 1596.7,557.8 1590.7,557.8 1584.7,557.8 1578.7,557.8 1572.7,557.8 1566.7,557.8 1560.7,557.8 1554.7,557.8 1548.7,557.8 1542.7,557.8 1536.7,557.8 1530.7,557.8 1524.7,557.8 1518.7,557.8 1512.7,557.8 1506.7,557.8 1500.7,557.8 1494.7,557.9 1488.7,557.9 1482.7,557.9 1476.7,557.9 1470.7,557.9 1464.7,557.9 1458.7,557.9 1452.7,557.9 1446.7,557.9 1440.7,557.9 1434.7,557.9 1428.7,558 1422.7,558 1416.7,558 1410.7,558 1404.7,558 1398.7,558 1392.7,558 1386.7,558 1380.7,558 1374.7,558 1368.7,558.1 1362.7,558.1 1356.7,558.1 1350.7,558.1 1344.7,558.1 1338.7,558.1 1332.7,558.1 1326.7,558.1 1320.7,558.1 1314.7,558.1 1308.7,558.2 1302.7,558.2 1296.7,558.2 1290.7,558.2 1284.7,558.2 1278.7,558.2 1272.7,558.2 1266.7,558.2 1260.7,558.2 1254.7,558.3 1248.7,558.3 1242.7,558.3 1236.7,558.3 1230.7,558.3 1224.7,558.3 1218.7,558.3 1212.7,558.3 1206.7,558.3 1200.7,558.3 1194.7,558.4 1188.7,558.4 1182.7,558.4 1176.7,558.4 1170.7,558.4 1164.7,558.4 1158.7,558.4 1152.7,558.4 1146.7,558.4 1140.7,558.4 1134.7,558.4 1128.7,558.4 1122.7,558.4 1116.7,558.4 1110.7,558.5 1104.7,558.5 1098.7,558.5 1092.7,558.5 1086.7,558.5 1080.7,558.5 1074.7,558.5 1068.7,558.5 1062.7,558.5 1056.7,558.5 1050.7,558.5 1044.7,558.5 1038.7,558.5 1032.7,558.5 1026.7,558.6 1020.7,558.6 1014.7,558.6 1008.7,558.6 1002.7,558.6 996.7,558.6 990.7,558.6 984.7,558.6 978.7,558.6 972.7,558.6 966.7,558.6 960.7,558.6 954.7,558.6 948.7,558.7 942.7,558.7 936.7,558.7 930.7,558.7 924.7,558.7 918.7,558.7 912.7,558.7 906.7,558.7 900.7,558.7 894.7,558.8 888.7,558.8 882.7,558.8 876.7,558.8 870.7,558.8 864.7,558.8 858.7,558.8 852.7,558.9 846.7,558.9 840.7,558.9 834.7,558.9 828.7,558.9 822.7,558.9 816.7,559 810.7,559 804.7,559 798.7,559 792.7,559 786.7,559.1 780.7,559.1 774.7,559.1 768.7,559.1 762.7,559.1 756.7,559.2 750.7,559.2 744.7,559.2 738.7,559.2 732.7,559.3 726.7,559.3 720.7,559.3 714.7,559.3 708.7,559.4 702.7,559.4 696.7,559.5 690.7,559.6 684.7,559.7 678.7,559.9 672.7,560.2 666.7,560.4 660.7,560.7 654.7,561 648.7,561.4 642.7,561.7 636.7,562 630.7,562.4 624.7,562.7 618.7,563 612.7,563.3 606.7,563.5 600.7,563.7 594.7,563.9 588.7,564.1 582.7,564.2 576.7,564.4 570.7,564.5 564.7,564.7 558.7,564.8 552.7,565 546.7,565.1 540.7,565.2 534.7,565.3 528.7,565.5 522.7,565.6 516.7,565.7 510.7,565.8 504.7,565.9 498.7,566 492.7,566 486.7,566.1 480.7,566.2 474.7,566.3 468.7,566.4 462.7,566.5 456.7,566.6 450.7,566.7 444.7,566.7 438.7,566.8 432.7,566.9 426.7,566.9 420.7,567 414.7,567 408.7,567.1 402.7,567.1 396.7,567.1 390.7,567.1 384.7,567.1 378.7,567.1 372.7,567.1 366.7,567 360.7,566.9 354.7,566.8 348.7,566.7 342.7,566.6 336.7,566.5 330.7,566.3 324.7,566.2 318.7,566 312.7,565.8 306.7,565.7 300.7,565.5 294.7,565.2 288.7,565 282.7,564.8 276.7,564.4 270.7,563.9 264.7,563.4 258.7,562.7 252.7,562 246.7,561.3 240.7,560.6 234.7,559.7 228.7,558.8 222.7,557.7 216.7,556.6 210.7,555.4 204.7,554.1"/>
<path d="M182.3 107.3 L182.8 109.5 L183.3 111.8 L183.9 114.1 L184.4 116.5 L184.9 119 L185.3 120.9 L185.4 121.5 L185.9 124.1 L186.5 126.7 L187 129.4 L187.5 132.1 L188 134.9 L188.3 136.4 L188.5 137.7 L189 140.6 L189.6 143.6 L190.1 146.8 L190.6 150.1 L191.1 153.4 L191.3 154.5 L191.6 156.7 L192.2 160 L192.7 163.3 L193.2 166.5 L193.7 169.6 L194.2 172.7 L194.3 173 L194.8 175.7 L195.3 178.6 L195.8 181.5 L196.3 184.4 L196.8 187.3 L197.3 189.9 L197.4 190.2 L197.9 193.1 L198.4 196 L198.9 198.9 L199.4 201.9 L200 204.9 L200.3 206.9 L200.5 207.8 L201 210.6 L201.5 213.2 L202 215.9 L202.5 218.7 L203.1 221.7 L203.3 223.2 L203.6 225.1 L204.1 229 L204.5 232.5 L204.6 233.5 L205.1 239.5 L205.7 246.9 L206.2 255.3 L206.3 257.2 L206.7 263.9 L206.8 265.6 L207.2 272.5 L207.7 281.6 L208.3 291.4 L208.8 301.9 L208.9 304.2 L209.3 312.3 L209.3 312.3 L209.8 323.3 L210.3 340.5 L210.9 394.8 L211 400.1 L211.4 407 L211.9 412.4 L212.3 415.1 L212.4 415.8 L212.9 419.1 L213 419.9 L213.5 423.3 L214 427.1 L214.5 430.8 L215 434.4 L215.3 436.3 L215.3 436.5 L215.5 437.9 L216 441.5 L216.6 445 L217.1 448.5 L217.6 451.9 L218.1 455.1 L218.3 456.1 L218.6 458 L219.1 460.2 L219.2 460.7 L219.7 463.2 L220.2 465.6 L220.7 467.9 L221.2 470 L221.3 470.2 L221.8 471.9 L222.3 473.6 L222.8 475.1 L223.3 476.4 L223.8 477.8 L224.3 478.8 L224.4 478.9 L224.9 479.7 L225.4 480 L225.4 480 L225.9 479.4 L226.4 477.6 L227 475.3 L227.3 473.6 L227.5 472.8 L227.6 472.3 L228 470 L228.5 466.5 L229 462.7 L229.5 459.2 L229.7 458.5 L230.1 455.8 L230.3 454.1 L230.6 452.2 L231.1 449.7 L231.4 449.2 L231.6 449.2 L232.1 449.3 L232.7 449.4 L233.2 449.7 L233.3 449.8 L233.7 450 L234.2 450.3 L234.7 450.6 L235.3 450.9 L235.8 451.2 L236.3 451.4 L236.3 451.4 L236.8 451.5 L237.3 451.6 L237.9 451.8 L238.4 451.9 L238.9 452 L239.3 452.1 L239.4 452.1 L239.9 452.2 L240.5 452.3 L241 452.4 L241.5 452.5 L242 452.5 L242.3 452.6 L242.5 452.6 L243 452.7 L243.6 452.8 L244.1 452.9 L244.6 453 L245.1 453.1 L245.3 453.1 L245.6 453.2 L246.2 453.3 L246.7 453.4 L247.2 453.5 L247.7 453.6 L248.2 453.7 L248.3 453.7 L248.8 453.8 L249.3 453.9 L249.8 454 L250.3 454.1 L250.8 454.2 L251.3 454.3 L251.4 454.3 L251.9 454.4 L252.4 454.6 L252.9 454.7 L253.4 454.8 L253.9 454.9 L254.3 454.9 L254.5 455 L255 455.1 L255.5 455.2 L256 455.3 L256.5 455.4 L257.1 455.5 L257.3 455.5 L257.6 455.6 L258.1 455.7 L258.6 455.8 L259.1 455.9 L259.7 456 L260.2 456.1 L260.3 456.1 L260.7 456.2 L261.2 456.3 L261.7 456.4 L262.3 456.5 L262.8 456.6 L263.3 456.7 L263.3 456.7 L263.8 456.8 L264.3 456.9 L264.9 457 L265.4 457.1 L265.9 457.2 L266.3 457.3 L266.4 457.3 L266.9 457.4 L267.4 457.5 L268 457.6 L268.5 457.7 L269 457.8 L269.3 457.9 L269.5 457.9 L270 458 L270.6 458.1 L271.1 458.2 L271.6 458.3 L272.1 458.4 L272.3 458.4 L272.6 458.5 L273.2 458.6 L273.7 458.7 L274.2 458.8 L274.7 458.9 L275.2 459 L275.3 459 L275.8 459 L276.3 459.1 L276.8 459.2 L277.3 459.3 L277.8 459.4 L278.3 459.5 L278.4 459.5 L278.9 459.6 L279.4 459.7 L279.9 459.8 L280.4 459.9 L280.7 459.9 L280.9 459.9 L281.3 460 L281.5 460 L282 460.1 L282.5 460.2 L283 460.3 L283.5 460.4 L284.1 460.5 L284.3 460.5 L284.6 460.6 L285.1 460.6 L285.6 460.7 L286.1 460.8 L286.7 460.9 L287.2 461 L287.3 461 L287.7 461.1 L288.2 461.2 L288.7 461.3 L289.3 461.4 L289.8 461.4 L290.3 461.5 L290.3 461.5 L290.8 461.6 L291.3 461.7 L291.9 461.8 L292.4 461.9 L292.9 462 L293.3 462.1 L293.4 462.1 L293.9 462.2 L294.4 462.2 L295 462.3 L295.5 462.4 L296 462.5 L296.3 462.6 L296.5 462.6 L297 462.7 L297.6 462.8 L298.1 462.9 L298.6 463 L299.1 463 L299.3 463.1 L299.6 463.1 L300.2 463.2 L300.7 463.3 L301.2 463.4 L301.7 463.5 L302.2 463.6 L302.3 463.6 L302.8 463.7 L303.3 463.7 L303.8 463.8 L304.3 463.9 L304.8 464 L305.3 464.1 L305.4 464.1 L305.9 464.2 L306.4 464.2 L306.9 464.3 L307.4 464.4 L307.9 464.5 L308.3 464.6 L308.5 464.6 L309 464.7 L309.5 464.7 L310 464.8 L310.5 464.9 L311.1 465 L311.3 465 L311.6 465.1 L312.1 465.1 L312.6 465.2 L313.1 465.3 L313.7 465.4 L314.2 465.4 L314.3 465.5 L314.7 465.5 L315.2 465.6 L315.7 465.7 L316.3 465.7 L316.8 465.8 L317.3 465.9 L317.3 465.9 L317.8 466 L318.3 466 L318.8 466.1 L319.4 466.2 L319.9 466.2 L320.3 466.3 L320.4 466.3 L320.9 466.4 L321.4 466.4 L322 466.5 L322.5 466.6 L323 466.6 L323.3 466.7 L323.5 466.7 L324 466.8 L324.6 466.8 L325.1 466.9 L325.6 467 L326.1 467 L326.3 467 L326.6 467.1 L327.2 467.1 L327.7 467.2 L328.2 467.2 L328.7 467.3 L329.2 467.3 L329.3 467.4 L329.8 467.4 L330.3 467.5 L330.8 467.5 L331.3 467.6 L331.8 467.6 L332.3 467.6 L332.3 467.6 L332.9 467.7 L333.4 467.7 L333.9 467.8 L334.4 467.8 L334.9 467.9 L335.3 467.9 L335.4 467.9 L335.5 467.9 L336 467.9 L336.5 468 L337 468 L337.5 468.1 L338.1 468.1 L338.3 468.1 L338.6 468.1 L339.1 468.2 L339.6 468.2 L340.1 468.3 L340.7 468.3 L341.2 468.4 L341.3 468.4 L341.7 468.4 L342.2 468.4 L342.7 468.5 L343.3 468.5 L343.8 468.6 L344.3 468.6 L344.3 468.6 L344.8 468.6 L345.3 468.7 L345.8 468.7 L346.4 468.8 L346.9 468.8 L347.3 468.8 L347.4 468.8 L347.9 468.9 L348.4 468.9 L349 468.9 L349.5 469 L350 469 L350.3 469 L350.5 469 L351 469.1 L351.6 469.1 L352.1 469.2 L352.6 469.2 L353.1 469.2 L353.3 469.2 L353.6 469.3 L354.2 469.3 L354.7 469.3 L355.2 469.3 L355.7 469.4 L356.2 469.4 L356.3 469.4 L356.8 469.4 L357.3 469.5 L357.8 469.5 L358.3 469.5 L358.8 469.5 L359.3 469.6 L359.3 469.6 L359.9 469.6 L360.4 469.6 L360.9 469.6 L361.4 469.7 L361.9 469.7 L362.3 469.7 L362.5 469.7 L363 469.7 L363.5 469.7 L364 469.8 L364.5 469.8 L365.1 469.8 L365.3 469.8 L365.6 469.8 L366.1 469.8 L366.6 469.8 L367.1 469.8 L367.7 469.8 L368.2 469.9 L368.3 469.9 L368.7 469.9 L369.2 469.9 L369.7 469.9 L370.3 469.9 L370.8 469.9 L371.3 469.9 L371.3 469.9 L371.5 469.9 L371.8 469.9 L372.3 469.9 L372.8 469.9 L373.4 469.9 L373.9 469.9 L374.3 469.9 L374.4 469.9 L374.9 469.9 L375.4 469.9 L376 469.9 L376.5 469.9 L377 469.8 L377.3 469.8 L377.5 469.8 L378 469.8 L378.6 469.8 L379.1 469.8 L379.6 469.8 L380.1 469.8 L380.3 469.8 L380.6 469.8 L381.2 469.8 L381.7 469.8 L382.2 469.8 L382.7 469.7 L383.2 469.7 L383.3 469.7 L383.7 469.7 L384.3 469.7 L384.8 469.7 L385.3 469.7 L385.8 469.7 L386.3 469.7 L386.3 469.7 L386.9 469.6 L387.4 469.6 L387.9 469.6 L388.4 469.6 L388.9 469.6 L389.3 469.6 L389.5 469.6 L390 469.6 L390.5 469.5 L391 469.5 L391.5 469.5 L392.1 469.5 L392.3 469.4 L392.6 469.4 L393.1 469.4 L393.6 469.4 L394.1 469.3 L394.7 469.3 L395.2 469.2 L395.3 469.2 L395.7 469.2 L396.2 469.1 L396.7 469.1 L397.2 469 L397.8 468.9 L398.3 468.9 L398.3 468.9 L398.8 468.8 L399.3 468.7 L399.8 468.7 L400.4 468.6 L400.9 468.5 L401.3 468.5 L401.4 468.4 L401.9 468.4 L402.4 468.3 L403 468.2 L403.5 468.1 L404 468 L404.3 468 L404.5 467.9 L405 467.8 L405.6 467.8 L406.1 467.7 L406.6 467.6 L407.1 467.5 L407.3 467.4 L407.6 467.4 L407.8 467.3 L408.2 467.3 L408.7 467.2 L409.2 467.1 L409.7 466.9 L410.2 466.8 L410.3 466.8 L410.7 466.7 L411.3 466.5 L411.8 466.4 L412.3 466.2 L412.8 466.1 L413.3 465.9 L413.3 465.9 L413.9 465.7 L414.4 465.6 L414.9 465.4 L415.4 465.2 L415.9 465 L416.3 464.9 L416.5 464.8 L417 464.6 L417 464.6 L417.5 464.4 L418 464.2 L418.5 464 L419.1 463.8 L419.3 463.7 L419.6 463.6 L420.1 463.3 L420.6 463.1 L421.1 462.8 L421.7 462.4 L422.2 462 L422.3 461.9 L422.4 461.8 L422.7 461.5 L423.2 460.8 L423.7 459.8 L424.2 458.7 L424.8 457.5 L425.3 456.3 L425.3 456.3 L425.8 454.7 L426.3 453 L426.8 451.9 L426.9 451.9 L427.4 452.1 L427.9 452.6 L428.3 453.3 L428.4 453.4 L428.9 454.2 L429.4 454.7 L430 455 L430.5 455.3 L431 455.6 L431.3 455.7 L431.5 455.8 L432 456 L432.6 456.2 L433.1 456.3 L433.4 456.3 L433.6 456.3 L434.1 456.4 L434.3 456.4 L434.6 456.4 L435.2 456.5 L435.7 456.5 L436.2 456.6 L436.7 456.6 L437.2 456.6 L437.3 456.6 L437.7 456.7 L438.3 456.7 L438.8 456.8 L439.3 456.8 L439.8 456.8 L440.3 456.9 L440.3 456.9 L440.9 456.9 L441.4 456.9 L441.9 457 L442.4 457 L442.9 457 L443.3 457 L443.5 457.1 L444 457.1 L444.5 457.1 L445 457.1 L445.5 457.2 L446.1 457.2 L446.3 457.2 L446.6 457.2 L447.1 457.3 L447.6 457.3 L448.1 457.3 L448.6 457.3 L449.2 457.3 L449.3 457.4 L449.7 457.4 L450.2 457.4 L450.7 457.4 L451.2 457.4 L451.8 457.5 L452.3 457.5 L455.3 457.6 L458.3 457.7 L461.3 457.8 L464.3 457.8 L467.3 457.9 L470.3 458 L473.3 458 L476.3 458.1 L479.3 458.1 L482.3 458.2 L485.3 458.3 L488.3 458.3 L491.3 458.4 L493.8 458.5 L494.3 458.5 L497.3 458.7 L500.3 458.8 L503.3 458.9 L506.3 459 L509.3 459.1 L512.3 459.2 L515.3 459.3 L518.3 459.4 L521.3 459.5 L524.3 459.6 L527.3 459.7 L530.3 459.9 L533.3 460 L536.3 460.1 L539.3 460.2 L542.3 460.3 L545.3 460.4 L548.3 460.5 L551.3 460.6 L554.3 460.7 L557.3 460.8 L560.3 461 L563.3 461.1 L566.3 461.2 L569.3 461.3 L572.3 461.4 L575.3 461.5 L578.3 461.6 L581.3 461.7 L584.3 461.9 L587.3 462 L590.3 462.1 L593.3 462.2 L596.3 462.3 L597.7 462.4 L599.3 462.5 L602.3 462.6 L605.3 462.7 L608.3 462.8 L611.3 462.9 L614.3 463 L617.3 463.2 L620.3 463.3 L623.3 463.4 L626.3 463.5 L629.3 463.6 L632.3 463.8 L635.3 463.9 L638.3 464 L641.3 464.1 L644.3 464.2 L647.3 464.4 L650.3 464.5 L653.3 464.6 L656.3 464.7 L659.3 464.9 L662.3 465 L665.3 465.1 L668.3 465.3 L671.3 465.4 L674.3 465.5 L677.3 465.7 L680.3 465.8 L683.3 465.9 L686.3 466.1 L689.3 466.2 L692.3 466.4 L695.3 466.5 L698.3 466.6 L701.3 466.8 L701.5 466.8 L704.3 466.9 L707.3 467.1 L710.3 467.3 L713.3 467.5 L716.3 467.7 L719.3 467.9 L722.3 468.1 L725.3 468.3 L728.3 468.5 L731.3 468.8 L734.3 469 L737.3 469.2 L740.3 469.5 L743.3 469.7 L746.3 469.9 L749.3 470.2 L752.3 470.4 L755.3 470.6 L758.3 470.8 L761.3 471 L764.3 471.2 L767.3 471.4 L770.3 471.6 L773.3 471.8 L776.3 472 L779.3 472.1 L782.3 472.3 L785.3 472.4 L788.3 472.5 L791.3 472.6 L794.3 472.7 L797.3 472.8 L800.3 472.8 L803.3 472.9 L805.3 472.9 L806.3 472.9 L809.3 472.9 L812.3 472.9 L815.3 472.9 L818.3 472.9 L821.3 472.9 L824.3 472.9 L827.3 472.9 L830.3 472.9 L833.3 472.9 L836.3 472.9 L839.3 472.9 L842.3 472.9 L845.3 472.9 L848.3 472.9 L851.3 472.9 L854.3 472.9 L857.3 472.9 L860.3 472.9 L863.3 472.9 L866.3 472.9 L869.3 472.9 L872.3 472.9 L875.3 472.9 L878.3 472.9 L881.3 472.9 L884.3 472.9 L887.3 472.9 L890.3 472.9 L893.3 472.9 L896.3 472.9 L899.3 472.9 L902.3 472.9 L905.3 472.9 L908.3 472.9 L909.2 472.9 L911.3 472.9 L914.3 472.8 L917.3 472.8 L920.3 472.8 L923.3 472.7 L926.3 472.7 L929.3 472.6 L932.3 472.5 L935.3 472.4 L938.3 472.3 L941.3 472.2 L944.3 472.1 L947.3 472 L950.3 471.8 L953.3 471.7 L956.3 471.6 L959.3 471.4 L962.3 471.3 L965.3 471.1 L968.3 471 L971.3 470.8 L974.3 470.6 L977.3 470.5 L980.3 470.3 L983.3 470.1 L986.3 470 L989.3 469.8 L992.3 469.6 L995.3 469.4 L998.3 469.3 L1001.3 469.1 L1004.3 468.9 L1007.3 468.8 L1010.3 468.6 L1013 468.4 L1013.3 468.4 L1016.3 468.3 L1019.3 468.1 L1022.3 467.9 L1025.3 467.8 L1028.3 467.6 L1031.3 467.4 L1034.3 467.2 L1037.3 467 L1040.3 466.8 L1043.3 466.6 L1046.3 466.4 L1049.3 466.2 L1052.3 466 L1055.3 465.7 L1058.3 465.5 L1061.3 465.3 L1064.3 465.1 L1067.3 464.9 L1070.3 464.6 L1073.3 464.4 L1076.3 464.2 L1079.3 464 L1082.3 463.8 L1085.3 463.5 L1088.3 463.3 L1091.3 463.1 L1094.3 462.9 L1097.3 462.6 L1100.3 462.4 L1103.3 462.2 L1106.3 462 L1109.3 461.8 L1112.3 461.6 L1115.3 461.4 L1116.9 461.3 L1118.3 461.2 L1121.3 461 L1124.3 460.8 L1127.3 460.6 L1130.3 460.4 L1133.3 460.2 L1136.3 460 L1139.3 459.8 L1142.3 459.6 L1145.3 459.4 L1148.3 459.2 L1151.3 459 L1154.3 458.8 L1157.3 458.7 L1160.3 458.5 L1163.3 458.3 L1166.3 458.1 L1169.3 457.9 L1172.3 457.7 L1175.3 457.5 L1178.3 457.3 L1181.3 457.1 L1184.3 456.9 L1187.3 456.8 L1190.3 456.6 L1193.3 456.4 L1196.3 456.2 L1199.3 456 L1202.3 455.8 L1205.3 455.6 L1208.3 455.4 L1211.3 455.3 L1214.3 455.1 L1217.3 454.9 L1220.3 454.7 L1220.7 454.7 L1223.3 454.5 L1226.3 454.3 L1229.3 454.1 L1232.3 453.9 L1235.3 453.7 L1238.3 453.6 L1241.3 453.4 L1244.3 453.2 L1247.3 453 L1250.3 452.8 L1253.3 452.6 L1256.3 452.4 L1259.3 452.2 L1262.3 452 L1265.3 451.8 L1268.3 451.6 L1271.3 451.5 L1274.3 451.3 L1277.3 451.1 L1280.3 450.9 L1283.3 450.7 L1286.3 450.5 L1289.3 450.3 L1292.3 450.1 L1295.3 449.9 L1298.3 449.7 L1301.3 449.5 L1304.3 449.3 L1307.3 449.1 L1310.3 449 L1313.3 448.8 L1316.3 448.6 L1319.3 448.4 L1322.3 448.2 L1325.3 448 L1328.3 447.8 L1331.3 447.6 L1334.3 447.4 L1337.3 447.3 L1340.3 447.1 L1343.3 446.9 L1346.3 446.7 L1349.3 446.5 L1352.3 446.3 L1355.3 446.1 L1358.3 446 L1361.3 445.8 L1364.3 445.6 L1367.3 445.4 L1370.3 445.2 L1373.3 445.1 L1376.3 444.9 L1379.3 444.7 L1382.3 444.5 L1385.3 444.4 L1388.3 444.2 L1391.3 444 L1394.3 443.8 L1397.3 443.7 L1400.3 443.5 L1403.3 443.3 L1406.3 443.2 L1409.3 443 L1412.3 442.8 L1415.3 442.7 L1418.3 442.5 L1421.3 442.4 L1424.3 442.2 L1427.3 442 L1428.4 442 L1430.3 441.9 L1433.3 441.7 L1436.3 441.6 L1439.3 441.4 L1442.3 441.3 L1445.3 441.1 L1448.3 441 L1451.3 440.8 L1454.3 440.6 L1457.3 440.5 L1460.3 440.3 L1463.3 440.2 L1466.3 440 L1469.3 439.9 L1472.3 439.7 L1475.3 439.6 L1478.3 439.4 L1481.3 439.3 L1484.3 439.1 L1487.3 439 L1490.3 438.8 L1493.3 438.7 L1496.3 438.5 L1499.3 438.4 L1502.3 438.2 L1505.3 438.1 L1508.3 437.9 L1511.3 437.8 L1514.3 437.6 L1517.3 437.5 L1520.3 437.4 L1523.3 437.2 L1526.3 437.1 L1529.3 436.9 L1532.3 436.8 L1535.3 436.7 L1538.3 436.5 L1541.3 436.4 L1544.3 436.2 L1547.3 436.1 L1550.3 436 L1553.3 435.8 L1556.3 435.7 L1559.3 435.6 L1562.3 435.4 L1565.3 435.3 L1568.3 435.2 L1571.3 435.1 L1574.3 434.9 L1577.3 434.8 L1580.3 434.7 L1583.3 434.6 L1586.3 434.4 L1589.3 434.3 L1592.3 434.2 L1595.3 434.1 L1598.3 434 L1601.3 433.8 L1604.3 433.7 L1607.3 433.6 L1610.3 433.5 L1613.3 433.4 L1616.3 433.3 L1619.3 433.2 L1622.3 433.1 L1625.3 433 L1628.3 432.9 L1631.3 432.8 L1634.3 432.7 L1636.1 432.6 L1637.3 432.6 L1640.3 432.5 L1643.3 432.4 L1646.3 432.3 L1649.3 432.2 L1652.3 432.1 L1655.3 432 L1658.3 431.8 L1661.3 431.7 L1664.3 431.6 L1667.3 431.5 L1670.3 431.4 L1673.3 431.3 L1676.3 431.2 L1679.3 431.1 L1682.3 431 L1685.3 430.9 L1688.3 430.8 L1691.3 430.7 L1694.3 430.6 L1697.3 430.5 L1700.3 430.5 L1703.3 430.4 L1706.3 430.3 L1709.3 430.2 L1712.3 430.2 L1715.3 430.1 L1718.3 430.1 L1721.3 430 L1724.3 430 L1727.3 429.9 L1730.3 429.9 L1733.3 429.9 L1736.3 429.9 L1739.3 429.9 L1739.9 429.9 L1742.3 429.9 L1745.3 429.9 L1748.3 429.9 L1751.3 429.9 L1754.3 429.9 L1757.3 429.9 L1760.3 430 L1763.3 430 L1766.3 430 L1769.3 430.1 L1772.3 430.1 L1775.3 430.2 L1778.3 430.2 L1781.3 430.2 L1784.3 430.3 L1787.3 430.3 L1790.3 430.4 L1793.3 430.4 L1796.3 430.5 L1799.3 430.5 L1802.3 430.6 L1805.3 430.6 L1808.3 430.7 L1811.3 430.7 L1814.3 430.7 L1817.3 430.8 L1820.3 430.8 L1823.3 430.8 L1826.3 430.9 L1829.3 430.9 L1832.3 430.9 L1835.3 430.9 L1838.3 431 L1841.3 431 L1843.7 431 L1844.3 431 L1847.3 431 L1850.3 431 L1853.3 431 L1856.3 431 L1859.3 430.9 L1862.3 430.9 L1865.3 430.9 L1868.3 430.9 L1871.3 430.9 L1874.3 430.9 L1877.3 430.9 L1880.3 430.9 L1883.3 430.9 L1886.3 430.8 L1889.3 430.8 L1892.3 430.8 L1895.3 430.8 L1898.3 430.8 L1901.3 430.8 L1904.3 430.7 L1907.3 430.7 L1910.3 430.7 L1913.3 430.7 L1916.3 430.7 L1919.3 430.6 L1922.3 430.6 L1925.3 430.6 L1928.3 430.6 L1931.3 430.5 L1934.3 430.5 L1937.3 430.5 L1940.3 430.5 L1943.3 430.4 L1946.3 430.4 L1947.6 430.4 L1949.3 430.4 L1952.3 430.4 L1955.3 430.3 L1958.3 430.3 L1961.3 430.2 L1964.3 430.2 L1967.3 430.2 L1970.3 430.1 L1973.3 430 L1976.3 430 L1979.3 429.9 L1982.3 429.9 L1985.3 429.8 L1988.3 429.7 L1991.3 429.7 L1994.3 429.6 L1997.3 429.5 L2000.3 429.4 L2003.3 429.4 L2006.3 429.3 L2009.3 429.2 L2012.3 429.1 L2015.3 429.1 L2018.3 429 L2021.3 428.9 L2024.3 428.8 L2027.3 428.8 L2030.3 428.7 L2033.3 428.6 L2036.3 428.5 L2039.3 428.5 L2042.3 428.4 L2045.3 428.3 L2048.3 428.3 L2051.3 428.2 L2051.4 428.2 L2054.3 428.1 L2057.3 428.1 L2060.3 428 L2063.3 428 L2066.3 427.9 L2069.3 427.8 L2072.3 427.8 L2075.3 427.7 L2078.3 427.7 L2081.3 427.6 L2084.3 427.6 L2087.3 427.5 L2090.3 427.4 L2093.3 427.4 L2096.3 427.3 L2099.3 427.3 L2102.3 427.2 L2105.3 427.1 L2108.3 427.1 L2111.3 427 L2114.3 427 L2117.3 426.9 L2120.3 426.9 L2123.3 426.8 L2126.3 426.7 L2129.3 426.7 L2132.3 426.6 L2135.3 426.6 L2138.3 426.5 L2141.3 426.5 L2144.3 426.4 L2147.3 426.3 L2150.3 426.3 L2153.3 426.2 L2156.3 426.2 L2159.3 426.1 L2162.3 426.1 L2165.3 426 L2168.3 426 L2171.3 425.9 L2174.3 425.8 L2177.3 425.8 L2180.3 425.7 L2183.3 425.7 L2186.3 425.6 L2189.3 425.6 L2192.3 425.5 L2195.3 425.5 L2198.3 425.4 L2201.3 425.4 L2204.3 425.3 L2207.3 425.2 L2210.3 425.2 L2213.3 425.1 L2216.3 425.1 L2219.3 425 L2222.3 425 L2225.3 424.9 L2228.3 424.9 L2231.3 424.8 L2234.3 424.8 L2237.3 424.7 L2240.3 424.7 L2243.3 424.6 L2246.3 424.6 L2249.3 424.5 L2252.3 424.5 L2255.3 424.4 L2258.3 424.4 L2259.1 424.3" stroke="#f00" stroke-width="6.6" stroke-linejoin="round" fill="none"/>
<polygon fill="#f00" points="435.7,453.5 437.7,453.5 437.7,453.6 439.7,453.6 439.7,453.7 441.7,453.7 441.7,453.8 443.7,453.8 443.7,453.9 445.7,453.9 445.7,454 447.7,454 447.7,454.1 449.7,454.1 449.7,454.2 451.7,454.2 451.7,454.2 453.7,454.2 453.7,454.2 455.7,454.2 455.7,454.3 457.7,454.3 457.7,454.4 459.7,454.4 459.7,454.3 461.7,454.3 461.7,454.4 463.7,454.4 463.7,454.5 465.7,454.5 465.7,454.5 467.7,454.5 467.7,454.4 469.7,454.4 469.7,454.5 471.7,454.5 471.7,454.5 473.7,454.5 473.7,454.5 475.7,454.5 475.7,454.6 477.7,454.6 477.7,454.5 479.7,454.5 479.7,454.6 481.7,454.6 481.7,454.6 483.7,454.6 483.7,454.7 485.7,454.7 485.7,454.7 487.7,454.7 487.7,454.6 489.7,454.6 489.7,454.8 491.7,454.8 491.7,454.7 493.7,454.7 493.7,454.7 495.7,454.7 495.7,454.9 497.7,454.9 497.7,454.9 499.7,454.9 499.7,454.9 501.7,454.9 501.7,455.1 503.7,455.1 503.7,454.9 505.7,454.9 505.7,455 507.7,455 507.7,455.2 509.7,455.2 509.7,455.2 511.7,455.2 511.7,455.3 513.7,455.3 513.7,455.3 515.7,455.3 515.7,455.5 517.7,455.5 517.7,455.5 519.7,455.5 519.7,455.6 521.7,455.6 521.7,455.7 523.7,455.7 523.7,455.8 525.7,455.8 525.7,455.7 527.7,455.7 527.7,455.7 529.7,455.7 529.7,456 531.7,456 531.7,455.9 533.7,455.9 533.7,456.1 535.7,456.1 535.7,456.2 537.7,456.2 537.7,456.3 539.7,456.3 539.7,456.2 541.7,456.2 541.7,456.4 543.7,456.4 543.7,456.4 545.7,456.4 545.7,456.4 547.7,456.4 547.7,456.6 549.7,456.6 549.7,456.6 551.7,456.6 551.7,456.8 553.7,456.8 553.7,456.7 555.7,456.7 555.7,456.8 557.7,456.8 557.7,456.9 559.7,456.9 559.7,456.9 561.7,456.9 561.7,457 563.7,457 563.7,457 565.7,457 565.7,457.3 567.7,457.3 567.7,457.3 569.7,457.3 569.7,457.5 571.7,457.5 571.7,457.6 573.7,457.6 573.7,457.6 575.7,457.6 575.7,457.6 577.7,457.6 577.7,457.6 579.7,457.6 579.7,457.9 581.7,457.9 581.7,457.7 583.7,457.7 583.7,458 585.7,458 585.7,458.1 587.7,458.1 587.7,458 589.7,458 589.7,458.1 591.7,458.1 591.7,458.2 593.7,458.2 593.7,458.4 595.7,458.4 595.7,458.4 597.7,458.4 597.7,458.4 599.7,458.4 599.7,458.6 601.7,458.6 601.7,458.5 603.7,458.5 603.7,458.6 605.7,458.6 605.7,458.8 607.7,458.8 607.7,458.8 609.7,458.8 609.7,459 611.7,459 611.7,459 613.7,459 613.7,459.1 615.7,459.1 615.7,459.2 617.7,459.2 617.7,459.3 619.7,459.3 619.7,459.3 621.7,459.3 621.7,459.4 623.7,459.4 623.7,459.6 625.7,459.6 625.7,459.4 627.7,459.4 627.7,459.5 629.7,459.5 629.7,459.9 631.7,459.9 631.7,459.7 633.7,459.7 633.7,459.9 635.7,459.9 635.7,460.1 637.7,460.1 637.7,460 639.7,460 639.7,460.2 641.7,460.2 641.7,460.2 643.7,460.2 643.7,460.2 645.7,460.2 645.7,460.4 647.7,460.4 647.7,460.6 649.7,460.6 649.7,460.5 651.7,460.5 651.7,460.6 653.7,460.6 653.7,460.7 655.7,460.7 655.7,460.9 657.7,460.9 657.7,460.9 659.7,460.9 659.7,461 661.7,461 661.7,461.2 663.7,461.2 663.7,461.3 665.7,461.3 665.7,461.5 667.7,461.5 667.7,461.6 669.7,461.6 669.7,461.7 671.7,461.7 671.7,461.8 673.7,461.8 673.7,461.9 675.7,461.9 675.7,461.9 677.7,461.9 677.7,462.1 679.7,462.1 679.7,462.2 681.7,462.2 681.7,462.4 683.7,462.4 683.7,462.5 685.7,462.5 685.7,462.5 687.7,462.5 687.7,462.7 689.7,462.7 689.7,462.8 691.7,462.8 691.7,462.9 693.7,462.9 693.7,463 695.7,463 695.7,463.1 697.7,463.1 697.7,463.3 699.7,463.3 699.7,463.4 701.7,463.4 701.7,463.5 703.7,463.5 703.7,463.7 705.7,463.7 705.7,463.7 707.7,463.7 707.7,463.9 709.7,463.9 709.7,464.1 711.7,464.1 711.7,464.2 713.7,464.2 713.7,464.3 715.7,464.3 715.7,464.5 717.7,464.5 717.7,464.6 719.7,464.6 719.7,464.8 721.7,464.8 721.7,465 723.7,465 723.7,471.1 721.7,471.1 721.7,471 719.7,471 719.7,470.9 717.7,470.9 717.7,470.7 715.7,470.7 715.7,470.6 713.7,470.6 713.7,470.5 711.7,470.5 711.7,470.4 709.7,470.4 709.7,470.4 707.7,470.4 707.7,470.3 705.7,470.3 705.7,470.2 703.7,470.2 703.7,470.1 701.7,470.1 701.7,470 699.7,470 699.7,469.9 697.7,469.9 697.7,469.8 695.7,469.8 695.7,469.8 693.7,469.8 693.7,469.7 691.7,469.7 691.7,469.6 689.7,469.6 689.7,469.7 687.7,469.7 687.7,469.5 685.7,469.5 685.7,469.4 683.7,469.4 683.7,469.4 681.7,469.4 681.7,469.3 679.7,469.3 679.7,469.3 677.7,469.3 677.7,469.1 675.7,469.1 675.7,469 673.7,469 673.7,469 671.7,469 671.7,469 669.7,469 669.7,468.9 667.7,468.9 667.7,468.9 665.7,468.9 665.7,468.8 663.7,468.8 663.7,468.8 661.7,468.8 661.7,468.7 659.7,468.7 659.7,468.6 657.7,468.6 657.7,468.7 655.7,468.7 655.7,468.5 653.7,468.5 653.7,468.5 651.7,468.5 651.7,468.3 649.7,468.3 649.7,468.4 647.7,468.4 647.7,468.3 645.7,468.3 645.7,468.2 643.7,468.2 643.7,468 641.7,468 641.7,467.9 639.7,467.9 639.7,467.8 637.7,467.8 637.7,467.8 635.7,467.8 635.7,467.8 633.7,467.8 633.7,467.7 631.7,467.7 631.7,467.6 629.7,467.6 629.7,467.5 627.7,467.5 627.7,467.5 625.7,467.5 625.7,467.3 623.7,467.3 623.7,467.2 621.7,467.2 621.7,467 619.7,467 619.7,467 617.7,467 617.7,467.1 615.7,467.1 615.7,466.9 613.7,466.9 613.7,466.8 611.7,466.8 611.7,466.8 609.7,466.8 609.7,466.7 607.7,466.7 607.7,466.6 605.7,466.6 605.7,466.5 603.7,466.5 603.7,466.3 601.7,466.3 601.7,466.5 599.7,466.5 599.7,466.2 597.7,466.2 597.7,466.1 595.7,466.1 595.7,466.1 593.7,466.1 593.7,465.9 591.7,465.9 591.7,466.1 589.7,466.1 589.7,465.9 587.7,465.9 587.7,465.9 585.7,465.9 585.7,465.8 583.7,465.8 583.7,465.7 581.7,465.7 581.7,465.7 579.7,465.7 579.7,465.5 577.7,465.5 577.7,465.4 575.7,465.4 575.7,465.5 573.7,465.5 573.7,465.3 571.7,465.3 571.7,465.3 569.7,465.3 569.7,465.2 567.7,465.2 567.7,465.2 565.7,465.2 565.7,465.1 563.7,465.1 563.7,465 561.7,465 561.7,464.9 559.7,464.9 559.7,464.8 557.7,464.8 557.7,464.6 555.7,464.6 555.7,464.6 553.7,464.6 553.7,464.5 551.7,464.5 551.7,464.4 549.7,464.4 549.7,464.4 547.7,464.4 547.7,464.2 545.7,464.2 545.7,464.2 543.7,464.2 543.7,464.1 541.7,464.1 541.7,464.1 539.7,464.1 539.7,464.1 537.7,464.1 537.7,464.1 535.7,464.1 535.7,464 533.7,464 533.7,463.7 531.7,463.7 531.7,463.6 529.7,463.6 529.7,463.7 527.7,463.7 527.7,463.7 525.7,463.7 525.7,463.4 523.7,463.4 523.7,463.5 521.7,463.5 521.7,463.4 519.7,463.4 519.7,463.3 517.7,463.3 517.7,463.3 515.7,463.3 515.7,463.1 513.7,463.1 513.7,463 511.7,463 511.7,463.1 509.7,463.1 509.7,462.9 507.7,462.9 507.7,462.9 505.7,462.9 505.7,462.8 503.7,462.8 503.7,462.6 501.7,462.6 501.7,462.6 499.7,462.6 499.7,462.5 497.7,462.5 497.7,462.3 495.7,462.3 495.7,462.3 493.7,462.3 493.7,462.2 491.7,462.2 491.7,462.1 489.7,462.1 489.7,462 487.7,462 487.7,461.9 485.7,461.9 485.7,461.8 483.7,461.8 483.7,461.8 481.7,461.8 481.7,461.7 479.7,461.7 479.7,461.7 477.7,461.7 477.7,461.6 475.7,461.6 475.7,461.5 473.7,461.5 473.7,461.4 471.7,461.4 471.7,461.4 469.7,461.4 469.7,461.3 467.7,461.3 467.7,461.2 465.7,461.2 465.7,461.2 463.7,461.2 463.7,461.1 461.7,461.1 461.7,461.1 459.7,461.1 459.7,460.9 457.7,460.9 457.7,460.9 455.7,460.9 455.7,460.8 453.7,460.8 453.7,460.7 451.7,460.7 451.7,460.6 449.7,460.6 449.7,460.5 447.7,460.5 447.7,460.3 445.7,460.3 445.7,460.2 443.7,460.2 443.7,460.1 441.7,460.1 441.7,459.9 439.7,459.9 439.7,459.7 437.7,459.7 437.7,459.6 435.7,459.6"/>
<polygon fill="#f00" points="660,461.9 662,461.9 662,461.9 664,461.9 664,461.9 666,461.9 666,461.9 668,461.9 668,461.9 670,461.9 670,462 672,462 672,461.9 674,461.9 674,462 676,462 676,462 678,462 678,462.1 680,462.1 680,462 682,462 682,462.1 684,462.1 684,462.1 686,462.1 686,462 688,462 688,462.1 690,462.1 690,462.1 692,462.1 692,462.1 694,462.1 694,462.1 696,462.1 696,462.3 698,462.3 698,462.1 700,462.1 700,462.4 702,462.4 702,462.4 704,462.4 704,462.3 706,462.3 706,462.6 708,462.6 708,462.6 710,462.6 710,462.3 712,462.3 712,462.3 714,462.3 714,462.6 716,462.6 716,462.7 718,462.7 718,462.9 720,462.9 720,462.7 722,462.7 722,462.7 724,462.7 724,462.6 726,462.6 726,463.3 728,463.3 728,462.7 730,462.7 730,462.7 732,462.7 732,463.3 734,463.3 734,463.1 736,463.1 736,463.2 738,463.2 738,463.5 740,463.5 740,464 742,464 742,463.8 744,463.8 744,463.8 746,463.8 746,464.6 748,464.6 748,464.4 750,464.4 750,465 752,465 752,464.4 754,464.4 754,464.6 756,464.6 756,465.4 758,465.4 758,465 760,465 760,465.2 762,465.2 762,465.8 764,465.8 764,465.6 766,465.6 766,465.6 768,465.6 768,466 770,466 770,466 772,466 772,465.7 774,465.7 774,466.1 776,466.1 776,466.3 778,466.3 778,466.8 780,466.8 780,466.9 782,466.9 782,466.4 784,466.4 784,466.5 786,466.5 786,466.5 788,466.5 788,466.8 790,466.8 790,466.9 792,466.9 792,467 794,467 794,466.9 796,466.9 796,467.3 798,467.3 798,467.2 800,467.2 800,467.2 802,467.2 802,467.1 804,467.1 804,467.5 806,467.5 806,467.6 808,467.6 808,467.6 810,467.6 810,467.5 812,467.5 812,466.9 814,466.9 814,467 816,467 816,467 818,467 818,467.3 820,467.3 820,467.6 822,467.6 822,467.3 824,467.3 824,466.9 826,466.9 826,467.2 828,467.2 828,467.1 830,467.1 830,467.3 832,467.3 832,467.5 834,467.5 834,467.1 836,467.1 836,467.2 838,467.2 838,467.4 840,467.4 840,467.4 842,467.4 842,467.1 844,467.1 844,467.4 846,467.4 846,467.2 848,467.2 848,467.4 850,467.4 850,467 852,467 852,467.3 854,467.3 854,467.2 856,467.2 856,466.9 858,466.9 858,467 860,467 860,467 862,467 862,467.4 864,467.4 864,466.9 866,466.9 866,467.3 868,467.3 868,466.8 870,466.8 870,466.9 872,466.9 872,467.1 874,467.1 874,467 876,467 876,467.2 878,467.2 878,467 880,467 880,467.5 882,467.5 882,466.8 884,466.8 884,467 886,467 886,467.5 888,467.5 888,467.4 890,467.4 890,467.2 892,467.2 892,467 894,467 894,467.5 896,467.5 896,466.8 898,466.8 898,467.4 900,467.4 900,466.8 902,466.8 902,467 904,467 904,467.2 906,467.2 906,467.3 908,467.3 908,467.6 910,467.6 910,467.6 912,467.6 912,467.1 914,467.1 914,467 916,467 916,466.9 918,466.9 918,467.3 920,467.3 920,466.8 922,466.8 922,467.3 924,467.3 924,466.7 926,466.7 926,466.7 928,466.7 928,467.3 930,467.3 930,466.6 932,466.6 932,466.7 934,466.7 934,466.7 936,466.7 936,466.5 938,466.5 938,466.7 940,466.7 940,466.6 942,466.6 942,466.7 944,466.7 944,466.2 946,466.2 946,466.1 948,466.1 948,466.6 950,466.6 950,466 952,466 952,466.3 954,466.3 954,466.3 956,466.3 956,466.2 958,466.2 958,465.8 960,465.8 960,465.9 962,465.9 962,465.9 964,465.9 964,465.9 966,465.9 966,465.6 968,465.6 968,465.1 970,465.1 970,465.6 972,465.6 972,465.1 974,465.1 974,464.9 976,464.9 976,465.3 978,465.3 978,465 980,465 980,464.3 982,464.3 982,464.2 984,464.2 984,464.2 986,464.2 986,464.6 988,464.6 988,464 990,464 990,464.2 992,464.2 992,464.3 994,464.3 994,463.9 996,463.9 996,463.4 998,463.4 998,463.3 1000,463.3 1000,463.6 1002,463.6 1002,463.8 1004,463.8 1004,463 1006,463 1006,462.8 1008,462.8 1008,463.1 1010,463.1 1010,463.2 1012,463.2 1012,462.8 1014,462.8 1014,462.6 1016,462.6 1016,462.7 1018,462.7 1018,462.7 1020,462.7 1020,462.7 1022,462.7 1022,462.5 1024,462.5 1024,462.6 1026,462.6 1026,462.3 1028,462.3 1028,461.6 1030,461.6 1030,462.3 1032,462.3 1032,461.5 1034,461.5 1034,461.3 1036,461.3 1036,461.5 1038,461.5 1038,461.2 1040,461.2 1040,461.4 1042,461.4 1042,460.9 1044,460.9 1044,460.7 1046,460.7 1046,460.6 1048,460.6 1048,460.6 1050,460.6 1050,460.1 1052,460.1 1052,460 1054,460 1054,460.2 1056,460.2 1056,459.9 1058,459.9 1058,460.1 1060,460.1 1060,459.4 1062,459.4 1062,459.5 1064,459.5 1064,459.2 1066,459.2 1066,459.5 1068,459.5 1068,458.8 1070,458.8 1070,459.4 1072,459.4 1072,458.9 1074,458.9 1074,459.1 1076,459.1 1076,458.9 1078,458.9 1078,458.2 1080,458.2 1080,458.7 1082,458.7 1082,458.2 1084,458.2 1084,458.3 1086,458.3 1086,457.6 1088,457.6 1088,458.1 1090,458.1 1090,457.7 1092,457.7 1092,457.1 1094,457.1 1094,457.1 1096,457.1 1096,456.9 1098,456.9 1098,456.6 1100,456.6 1100,457.3 1102,457.3 1102,456.8 1104,456.8 1104,456.6 1106,456.6 1106,456.6 1108,456.6 1108,456.5 1110,456.5 1110,456.9 1112,456.9 1112,456.8 1114,456.8 1114,456.3 1116,456.3 1116,456.3 1118,456.3 1118,456.5 1120,456.5 1120,456.6 1122,456.6 1122,456.2 1124,456.2 1124,456.4 1126,456.4 1126,456 1128,456 1128,456.1 1130,456.1 1130,455.9 1132,455.9 1132,456.1 1134,456.1 1134,455.9 1136,455.9 1136,456 1138,456 1138,455.7 1140,455.7 1140,455.7 1142,455.7 1142,455.7 1144,455.7 1144,455.4 1146,455.4 1146,455.5 1148,455.5 1148,455.5 1150,455.5 1150,455.3 1152,455.3 1152,455.4 1154,455.4 1154,455.2 1156,455.2 1156,455.3 1158,455.3 1158,455.1 1160,455.1 1160,455.2 1162,455.2 1162,455 1164,455 1164,455 1166,455 1166,455 1168,455 1168,454.9 1170,454.9 1170,461.1 1168,461.1 1168,461.2 1166,461.2 1166,461.5 1164,461.5 1164,461.6 1162,461.6 1162,461.8 1160,461.8 1160,462.1 1158,462.1 1158,462.3 1156,462.3 1156,462.5 1154,462.5 1154,462.7 1152,462.7 1152,462.9 1150,462.9 1150,463 1148,463 1148,463.2 1146,463.2 1146,463.3 1144,463.3 1144,463.6 1142,463.6 1142,464 1140,464 1140,463.9 1138,463.9 1138,464.1 1136,464.1 1136,464.3 1134,464.3 1134,464.7 1132,464.7 1132,464.9 1130,464.9 1130,465.1 1128,465.1 1128,465.1 1126,465.1 1126,465.6 1124,465.6 1124,465.6 1122,465.6 1122,465.9 1120,465.9 1120,466.3 1118,466.3 1118,466.5 1116,466.5 1116,466.2 1114,466.2 1114,466.9 1112,466.9 1112,467 1110,467 1110,467.4 1108,467.4 1108,467.5 1106,467.5 1106,467.2 1104,467.2 1104,467.4 1102,467.4 1102,468.2 1100,468.2 1100,468.3 1098,468.3 1098,468.8 1096,468.8 1096,468.5 1094,468.5 1094,468.9 1092,468.9 1092,469 1090,469 1090,468.8 1088,468.8 1088,469.3 1086,469.3 1086,469 1084,469 1084,469.5 1082,469.5 1082,469.5 1080,469.5 1080,469.5 1078,469.5 1078,470.2 1076,470.2 1076,470.1 1074,470.1 1074,470.4 1072,470.4 1072,470.4 1070,470.4 1070,470.8 1068,470.8 1068,471 1066,471 1066,470.3 1064,470.3 1064,470.6 1062,470.6 1062,471.4 1060,471.4 1060,471.5 1058,471.5 1058,471.2 1056,471.2 1056,471.3 1054,471.3 1054,471.7 1052,471.7 1052,471.9 1050,471.9 1050,472 1048,472 1048,472.3 1046,472.3 1046,472.3 1044,472.3 1044,472.1 1042,472.1 1042,472.4 1040,472.4 1040,472.2 1038,472.2 1038,472.7 1036,472.7 1036,472.8 1034,472.8 1034,472.7 1032,472.7 1032,473.1 1030,473.1 1030,473.1 1028,473.1 1028,473.3 1026,473.3 1026,473.6 1024,473.6 1024,473.8 1022,473.8 1022,474.1 1020,474.1 1020,473.9 1018,473.9 1018,474.3 1016,474.3 1016,474.3 1014,474.3 1014,473.8 1012,473.8 1012,474 1010,474 1010,474.5 1008,474.5 1008,474.6 1006,474.6 1006,474.8 1004,474.8 1004,474.6 1002,474.6 1002,474.9 1000,474.9 1000,474.7 998,474.7 998,475 996,475 996,475 994,475 994,475.5 992,475.5 992,475 990,475 990,475.3 988,475.3 988,475.6 986,475.6 986,476.1 984,476.1 984,475.4 982,475.4 982,476.1 980,476.1 980,476.3 978,476.3 978,475.9 976,475.9 976,476.6 974,476.6 974,476.6 972,476.6 972,476.2 970,476.2 970,476.6 968,476.6 968,476.6 966,476.6 966,477.1 964,477.1 964,477.2 962,477.2 962,477.4 960,477.4 960,477 958,477 958,477.5 956,477.5 956,477.5 954,477.5 954,477.5 952,477.5 952,477.8 950,477.8 950,477.3 948,477.3 948,477.9 946,477.9 946,478 944,478 944,478 942,478 942,477.9 940,477.9 940,477.7 938,477.7 938,478.2 936,478.2 936,478.1 934,478.1 934,478.4 932,478.4 932,477.9 930,477.9 930,478.5 928,478.5 928,478.6 926,478.6 926,478.4 924,478.4 924,478.4 922,478.4 922,478.3 920,478.3 920,478.1 918,478.1 918,478.6 916,478.6 916,478.4 914,478.4 914,478.2 912,478.2 912,478.7 910,478.7 910,478.2 908,478.2 908,478.5 906,478.5 906,478.3 904,478.3 904,478.3 902,478.3 902,478.3 900,478.3 900,478.3 898,478.3 898,478.5 896,478.5 896,478.4 894,478.4 894,478.4 892,478.4 892,478.8 890,478.8 890,478.4 888,478.4 888,478.8 886,478.8 886,478.8 884,478.8 884,478.3 882,478.3 882,478.3 880,478.3 880,478.4 878,478.4 878,478.8 876,478.8 876,478.7 874,478.7 874,478.8 872,478.8 872,478.3 870,478.3 870,478.4 868,478.4 868,478.8 866,478.8 866,478.8 864,478.8 864,478.9 862,478.9 862,478.6 860,478.6 860,478.2 858,478.2 858,478.5 856,478.5 856,478.9 854,478.9 854,478.6 852,478.6 852,478.3 850,478.3 850,478.2 848,478.2 848,478.8 846,478.8 846,478.7 844,478.7 844,478.7 842,478.7 842,478.1 840,478.1 840,478.3 838,478.3 838,478.5 836,478.5 836,478.5 834,478.5 834,478.4 832,478.4 832,478.6 830,478.6 830,478.3 828,478.3 828,478.9 826,478.9 826,478.9 824,478.9 824,478.7 822,478.7 822,478.4 820,478.4 820,478.9 818,478.9 818,478.8 816,478.8 816,478.4 814,478.4 814,478.2 812,478.2 812,478.7 810,478.7 810,478.6 808,478.6 808,478.8 806,478.8 806,478.8 804,478.8 804,478.3 802,478.3 802,478.1 800,478.1 800,478.1 798,478.1 798,478.2 796,478.2 796,478.5 794,478.5 794,478.2 792,478.2 792,478.4 790,478.4 790,477.8 788,477.8 788,478.3 786,478.3 786,478.4 784,478.4 784,477.7 782,477.7 782,477.5 780,477.5 780,477.7 778,477.7 778,477.8 776,477.8 776,477.9 774,477.9 774,477.2 772,477.2 772,477 770,477 770,477.3 768,477.3 768,476.7 766,476.7 766,476.5 764,476.5 764,477 762,477 762,476.3 760,476.3 760,476.2 758,476.2 758,476.2 756,476.2 756,475.9 754,475.9 754,475.6 752,475.6 752,476.2 750,476.2 750,476 748,476 748,475.7 746,475.7 746,475.7 744,475.7 744,475.3 742,475.3 742,475.3 740,475.3 740,475.1 738,475.1 738,474.9 736,474.9 736,474.5 734,474.5 734,474.6 732,474.6 732,473.8 730,473.8 730,473.6 728,473.6 728,473.8 726,473.8 726,473.3 724,473.3 724,473.4 722,473.4 722,473 720,473 720,472.9 718,472.9 718,472.9 716,472.9 716,472.7 714,472.7 714,472.6 712,472.6 712,472.4 710,472.4 710,471.7 708,471.7 708,471.7 706,471.7 706,471.7 704,471.7 704,471.2 702,471.2 702,471.2 700,471.2 700,471.1 698,471.1 698,471 696,471 696,470.5 694,470.5 694,470.4 692,470.4 692,470.3 690,470.3 690,470.1 688,470.1 688,470 686,470 686,470 684,470 684,469.8 682,469.8 682,469.6 680,469.6 680,469.4 678,469.4 678,469.3 676,469.3 676,469 674,469 674,468.9 672,468.9 672,468.7 670,468.7 670,468.6 668,468.6 668,468.4 666,468.4 666,468.2 664,468.2 664,468.1 662,468.1 662,468 660,468"/>
<polygon fill="#f00" points="1906,427.7 1908,427.7 1908,427.6 1910,427.6 1910,427.6 1912,427.6 1912,427.5 1914,427.5 1914,427.4 1916,427.4 1916,427.3 1918,427.3 1918,427.3 1920,427.3 1920,427.2 1922,427.2 1922,427.2 1924,427.2 1924,427.1 1926,427.1 1926,426.9 1928,426.9 1928,426.9 1930,426.9 1930,426.8 1932,426.8 1932,426.7 1934,426.7 1934,426.7 1936,426.7 1936,426.7 1938,426.7 1938,426.6 1940,426.6 1940,426.6 1942,426.6 1942,426.4 1944,426.4 1944,426.4 1946,426.4 1946,426.3 1948,426.3 1948,426.1 1950,426.1 1950,426 1952,426 1952,426.1 1954,426.1 1954,425.9 1956,425.9 1956,425.8 1958,425.8 1958,425.7 1960,425.7 1960,425.8 1962,425.8 1962,425.5 1964,425.5 1964,425.6 1966,425.6 1966,425.7 1968,425.7 1968,425.6 1970,425.6 1970,425.3 1972,425.3 1972,425.3 1974,425.3 1974,425.2 1976,425.2 1976,425.1 1978,425.1 1978,425.2 1980,425.2 1980,425.2 1982,425.2 1982,425.2 1984,425.2 1984,424.7 1986,424.7 1986,424.9 1988,424.9 1988,424.8 1990,424.8 1990,424.4 1992,424.4 1992,424.6 1994,424.6 1994,424.4 1996,424.4 1996,424.4 1998,424.4 1998,424.2 2000,424.2 2000,424.7 2002,424.7 2002,424.5 2004,424.5 2004,424.1 2006,424.1 2006,424.3 2008,424.3 2008,424 2010,424 2010,424.4 2012,424.4 2012,424.4 2014,424.4 2014,423.9 2016,423.9 2016,424.1 2018,424.1 2018,424 2020,424 2020,423.7 2022,423.7 2022,424.1 2024,424.1 2024,423.6 2026,423.6 2026,423.9 2028,423.9 2028,423.9 2030,423.9 2030,423.9 2032,423.9 2032,423.6 2034,423.6 2034,423.6 2036,423.6 2036,423.3 2038,423.3 2038,423.8 2040,423.8 2040,423.8 2042,423.8 2042,423.6 2044,423.6 2044,423.3 2046,423.3 2046,423.2 2048,423.2 2048,423.3 2050,423.3 2050,423.2 2052,423.2 2052,423.1 2054,423.1 2054,423.5 2056,423.5 2056,423.3 2058,423.3 2058,422.8 2060,422.8 2060,423.2 2062,423.2 2062,422.7 2064,422.7 2064,423 2066,423 2066,423.1 2068,423.1 2068,423.2 2070,423.2 2070,423 2072,423 2072,422.9 2074,422.9 2074,422.8 2076,422.8 2076,422.8 2078,422.8 2078,422.7 2080,422.7 2080,422.7 2082,422.7 2082,422.9 2084,422.9 2084,422.7 2086,422.7 2086,422.2 2088,422.2 2088,422.8 2090,422.8 2090,422.3 2092,422.3 2092,422.4 2094,422.4 2094,422.2 2096,422.2 2096,422.4 2098,422.4 2098,422.4 2100,422.4 2100,422.3 2102,422.3 2102,422 2104,422 2104,422.3 2106,422.3 2106,422.4 2108,422.4 2108,422.4 2110,422.4 2110,421.8 2112,421.8 2112,422.1 2114,422.1 2114,422.2 2116,422.2 2116,421.9 2118,421.9 2118,421.7 2120,421.7 2120,421.8 2122,421.8 2122,422.1 2124,422.1 2124,421.9 2126,421.9 2126,421.9 2128,421.9 2128,422 2130,422 2130,421.4 2132,421.4 2132,421.7 2134,421.7 2134,421.8 2136,421.8 2136,421.3 2138,421.3 2138,421.2 2140,421.2 2140,421.3 2142,421.3 2142,421.6 2144,421.6 2144,421.6 2146,421.6 2146,421.4 2148,421.4 2148,421.3 2150,421.3 2150,421.1 2152,421.1 2152,421 2154,421 2154,421 2156,421 2156,421.3 2158,421.3 2158,421.1 2160,421.1 2160,421.4 2162,421.4 2162,421.1 2164,421.1 2164,421.3 2166,421.3 2166,421.3 2168,421.3 2168,421.2 2170,421.2 2170,421.1 2172,421.1 2172,421 2174,421 2174,420.7 2176,420.7 2176,421.1 2178,421.1 2178,421 2180,421 2180,420.7 2182,420.7 2182,420.6 2184,420.6 2184,420.5 2186,420.5 2186,420.5 2188,420.5 2188,420.5 2190,420.5 2190,420.5 2192,420.5 2192,420.4 2194,420.4 2194,420.8 2196,420.8 2196,420.6 2198,420.6 2198,420.3 2200,420.3 2200,420.6 2202,420.6 2202,420.3 2204,420.3 2204,420.5 2206,420.5 2206,420.3 2208,420.3 2208,420 2210,420 2210,420.1 2212,420.1 2212,420.2 2214,420.2 2214,420.3 2216,420.3 2216,419.9 2218,419.9 2218,420 2220,420 2220,420.1 2222,420.1 2222,419.8 2224,419.8 2224,419.8 2226,419.8 2226,419.6 2228,419.6 2228,419.8 2230,419.8 2230,419.6 2232,419.6 2232,419.8 2234,419.8 2234,419.7 2236,419.7 2236,419.5 2238,419.5 2238,420 2240,420 2240,419.7 2242,419.7 2242,419.6 2244,419.6 2244,419.9 2246,419.9 2246,419.4 2248,419.4 2248,419.4 2250,419.4 2250,419.2 2252,419.2 2252,419.6 2254,419.6 2254,419.5 2256,419.5 2256,419.2 2258,419.2 2258,419.4 2260,419.4 2260,429.1 2258,429.1 2258,429.3 2256,429.3 2256,429.2 2254,429.2 2254,429.4 2252,429.4 2252,429.6 2250,429.6 2250,429.5 2248,429.5 2248,429.7 2246,429.7 2246,429.8 2244,429.8 2244,429.4 2242,429.4 2242,429.8 2240,429.8 2240,429.6 2238,429.6 2238,429.7 2236,429.7 2236,429.9 2234,429.9 2234,430.1 2232,430.1 2232,429.7 2230,429.7 2230,429.8 2228,429.8 2228,429.6 2226,429.6 2226,430 2224,430 2224,430.2 2222,430.2 2222,430.3 2220,430.3 2220,430 2218,430 2218,430 2216,430 2216,429.8 2214,429.8 2214,430.3 2212,430.3 2212,430 2210,430 2210,430.5 2208,430.5 2208,430.1 2206,430.1 2206,430.4 2204,430.4 2204,430.6 2202,430.6 2202,430.1 2200,430.1 2200,430.6 2198,430.6 2198,430.6 2196,430.6 2196,430.3 2194,430.3 2194,430.4 2192,430.4 2192,430.3 2190,430.3 2190,430.8 2188,430.8 2188,430.5 2186,430.5 2186,430.5 2184,430.5 2184,430.4 2182,430.4 2182,430.8 2180,430.8 2180,430.8 2178,430.8 2178,430.6 2176,430.6 2176,430.8 2174,430.8 2174,430.9 2172,430.9 2172,430.7 2170,430.7 2170,430.8 2168,430.8 2168,431 2166,431 2166,430.8 2164,430.8 2164,430.8 2162,430.8 2162,431.1 2160,431.1 2160,431.3 2158,431.3 2158,431.1 2156,431.1 2156,431.1 2154,431.1 2154,431.5 2152,431.5 2152,431.1 2150,431.1 2150,431.3 2148,431.3 2148,431.1 2146,431.1 2146,431.3 2144,431.3 2144,431.2 2142,431.2 2142,431.2 2140,431.2 2140,431.6 2138,431.6 2138,431.4 2136,431.4 2136,431.8 2134,431.8 2134,431.6 2132,431.6 2132,431.4 2130,431.4 2130,431.9 2128,431.9 2128,432 2126,432 2126,432 2124,432 2124,432.1 2122,432.1 2122,432 2120,432 2120,431.9 2118,431.9 2118,432 2116,432 2116,432 2114,432 2114,432.1 2112,432.1 2112,432.2 2110,432.2 2110,432 2108,432 2108,432.1 2106,432.1 2106,432.2 2104,432.2 2104,432 2102,432 2102,432.1 2100,432.1 2100,432.6 2098,432.6 2098,432.6 2096,432.6 2096,432.4 2094,432.4 2094,432.2 2092,432.2 2092,432.2 2090,432.2 2090,432.5 2088,432.5 2088,432.3 2086,432.3 2086,432.6 2084,432.6 2084,432.5 2082,432.5 2082,432.6 2080,432.6 2080,432.9 2078,432.9 2078,432.8 2076,432.8 2076,432.7 2074,432.7 2074,433 2072,433 2072,432.7 2070,432.7 2070,433.1 2068,433.1 2068,433 2066,433 2066,433.1 2064,433.1 2064,432.9 2062,432.9 2062,433.1 2060,433.1 2060,432.8 2058,432.8 2058,432.9 2056,432.9 2056,433 2054,433 2054,433 2052,433 2052,433.2 2050,433.2 2050,433.2 2048,433.2 2048,433.3 2046,433.3 2046,433.1 2044,433.1 2044,433.7 2042,433.7 2042,433.5 2040,433.5 2040,433.3 2038,433.3 2038,433.2 2036,433.2 2036,433.7 2034,433.7 2034,433.9 2032,433.9 2032,433.9 2030,433.9 2030,433.9 2028,433.9 2028,433.7 2026,433.7 2026,433.8 2024,433.8 2024,433.9 2022,433.9 2022,433.6 2020,433.6 2020,433.7 2018,433.7 2018,434.2 2016,434.2 2016,434.1 2014,434.1 2014,434 2012,434 2012,433.9 2010,433.9 2010,433.9 2008,433.9 2008,434.3 2006,434.3 2006,434.6 2004,434.6 2004,434.2 2002,434.2 2002,434.5 2000,434.5 2000,434.6 1998,434.6 1998,434.3 1996,434.3 1996,434.6 1994,434.6 1994,434.9 1992,434.9 1992,434.9 1990,434.9 1990,434.6 1988,434.6 1988,435 1986,435 1986,434.7 1984,434.7 1984,434.6 1982,434.6 1982,435 1980,435 1980,434.9 1978,434.9 1978,435 1976,435 1976,434.9 1974,434.9 1974,434.9 1972,434.9 1972,434.9 1970,434.9 1970,435 1968,435 1968,434.8 1966,434.8 1966,435 1964,435 1964,434.8 1962,434.8 1962,434.7 1960,434.7 1960,434.6 1958,434.6 1958,434.8 1956,434.8 1956,434.7 1954,434.7 1954,434.5 1952,434.5 1952,434.5 1950,434.5 1950,434.6 1948,434.6 1948,434.7 1946,434.7 1946,434.3 1944,434.3 1944,434.5 1942,434.5 1942,434.4 1940,434.4 1940,434.3 1938,434.3 1938,434.3 1936,434.3 1936,434.4 1934,434.4 1934,434.2 1932,434.2 1932,434.3 1930,434.3 1930,434.1 1928,434.1 1928,434.1 1926,434.1 1926,434.1 1924,434.1 1924,434.2 1922,434.2 1922,434.1 1920,434.1 1920,434 1918,434 1918,434 1916,434 1916,433.9 1914,433.9 1914,433.9 1912,433.9 1912,433.9 1910,433.9 1910,433.8 1908,433.8 1908,433.8 1906,433.8"/>
</g>
<rect x="852.6" y="743.6" width="1198.7" height="62.1" fill="#fff" stroke="#262626" stroke-width="2.2"/>
<path d="M866 775.1 H996" stroke="#0f0" stroke-width="6.3" stroke-dasharray="24.3 24.7 26.2 24.5 26.4 100" fill="none"/>
<path d="M1120.6 775.1 H1250.6" stroke="#00f" stroke-width="6.3" stroke-dasharray="24.5 6.8 11.3 6.8 25.6 7.4 11.4 7 24.8 100" fill="none"/>
<path d="M1451 775.1 H1581" stroke="#f00" stroke-width="6.3" fill="none"/>
<g font-size="39.5" fill="#000" stroke="#fff" stroke-width="0.5">
<text x="1006.7" y="790.1">SMC</text>
<text x="1259.3" y="790.1">NFTSMC</text>
<text x="1591.2" y="790.1">Designed Control Method</text>
</g>
<g font-size="44.0" fill="#262626" stroke="#fff" stroke-width="0.7">
<text x="182.3" y="902.8" text-anchor="middle">0</text>
<text x="390" y="902.8" text-anchor="middle">1</text>
<text x="597.7" y="902.8" text-anchor="middle">2</text>
<text x="805.3" y="902.8" text-anchor="middle">3</text>
<text x="1013" y="902.8" text-anchor="middle">4</text>
<text x="1220.7" y="902.8" text-anchor="middle">5</text>
<text x="1428.4" y="902.8" text-anchor="middle">6</text>
<text x="1636.1" y="902.8" text-anchor="middle">7</text>
<text x="1843.7" y="902.8" text-anchor="middle">8</text>
<text x="2051.4" y="902.8" text-anchor="middle">9</text>
<text x="2259.1" y="902.8" text-anchor="middle">10</text>
<text x="164.3" y="133.7" text-anchor="end">60</text>
<text x="164.3" y="244" text-anchor="end">40</text>
<text x="164.3" y="354.2" text-anchor="end">20</text>
<text x="164.3" y="464.5" text-anchor="end">0</text>
<text x="164.3" y="574.8" text-anchor="end">-20</text>
<text x="164.3" y="685" text-anchor="end">-40</text>
<text x="164.3" y="795.3" text-anchor="end">-60</text>
</g>
<text x="1220.7" y="966.3" text-anchor="middle" font-size="48.3" letter-spacing="0.25" fill="#262626" stroke="#fff" stroke-width="0.6">time(s)</text>
<text transform="translate(78 455.8) rotate(-90)" text-anchor="middle" font-size="48.3" letter-spacing="0.65" fill="#262626" stroke="#fff" stroke-width="0.6">Torque 1,N</text>
<text x="1219.2" y="57.2" text-anchor="middle" font-size="48.3" font-weight="bold" fill="#000" stroke="#fff" stroke-width="0.8">(a) at Joint 1</text>
<!-- (b) Joint 2 -->
<path d="M390 1142 V1914.9 M597.7 1142 V1914.9 M805.3 1142 V1914.9 M1013 1142 V1914.9 M1220.7 1142 V1914.9 M1428.4 1142 V1914.9 M1636.1 1142 V1914.9 M1843.7 1142 V1914.9 M2051.4 1142 V1914.9 M182.3 1167.1 H2259.1 M182.3 1411.9 H2259.1 M182.3 1656.7 H2259.1 M182.3 1901.5 H2259.1" stroke="#dcdcdc" stroke-width="1.6" fill="none"/>
<rect x="182.3" y="1142" width="2076.8" height="772.9" fill="none" stroke="#262626" stroke-width="2.2"/>
<path d="M390 1914.9 v-20.8 M390 1142 v20.8 M597.7 1914.9 v-20.8 M597.7 1142 v20.8 M805.3 1914.9 v-20.8 M805.3 1142 v20.8 M1013 1914.9 v-20.8 M1013 1142 v20.8 M1220.7 1914.9 v-20.8 M1220.7 1142 v20.8 M1428.4 1914.9 v-20.8 M1428.4 1142 v20.8 M1636.1 1914.9 v-20.8 M1636.1 1142 v20.8 M1843.7 1914.9 v-20.8 M1843.7 1142 v20.8 M2051.4 1914.9 v-20.8 M2051.4 1142 v20.8 M182.3 1167.1 h20.8 M2259.1 1167.1 h-20.8 M182.3 1411.9 h20.8 M2259.1 1411.9 h-20.8 M182.3 1656.7 h20.8 M2259.1 1656.7 h-20.8 M182.3 1901.5 h20.8 M2259.1 1901.5 h-20.8" stroke="#262626" stroke-width="2.2" fill="none"/>
<g clip-path="url(#c2)">
<path d="M182.3 1347.8 L187.7 1369.8 L206.2 1391.8" stroke="#0f0" stroke-width="6.3" stroke-dasharray="26 24" fill="none"/>
<polygon fill="#0f0" points="201.8,1394.9 203.8,1394.9 203.8,1394.5 205.8,1394.5 205.8,1394.1 207.8,1394.1 207.8,1393.5 209.8,1393.5 209.8,1392.8 211.8,1392.8 211.8,1392.1 213.8,1392.1 213.8,1389.5 215.8,1389.5 215.8,1388.6 217.8,1388.6 217.8,1387.7 219.8,1387.7 219.8,1386.8 221.8,1386.8 221.8,1385.7 223.8,1385.7 223.8,1384.7 225.8,1384.7 225.8,1383.8 227.8,1383.8 227.8,1382.9 229.8,1382.9 229.8,1382 231.8,1382 231.8,1381.2 233.8,1381.2 233.8,1380.5 235.8,1380.5 235.8,1379.9 237.8,1379.9 237.8,1380.7 239.8,1380.7 239.8,1380 241.8,1380 241.8,1379.4 243.8,1379.4 243.8,1378.8 245.8,1378.8 245.8,1378.4 247.8,1378.4 247.8,1377.8 249.8,1377.8 249.8,1377.3 251.8,1377.3 251.8,1374.8 253.8,1374.8 253.8,1374.3 255.8,1374.3 255.8,1373.7 257.8,1373.7 257.8,1373.2 259.8,1373.2 259.8,1372.6 261.8,1372.6 261.8,1372.1 263.8,1372.1 263.8,1371.6 265.8,1371.6 265.8,1371.1 267.8,1371.1 267.8,1370.9 269.8,1370.9 269.8,1370.4 271.8,1370.4 271.8,1370 273.8,1370 273.8,1369.7 275.8,1369.7 275.8,1369.3 277.8,1369.3 277.8,1368.9 279.8,1368.9 279.8,1368.5 281.8,1368.5 281.8,1369.8 283.8,1369.8 283.8,1369.5 285.8,1369.5 285.8,1368.9 287.8,1368.9 287.8,1368.6 289.8,1368.6 289.8,1369.2 291.8,1369.2 291.8,1368.9 293.8,1368.9 293.8,1368.5 295.8,1368.5 295.8,1368.2 297.8,1368.2 297.8,1365 299.8,1365 299.8,1364.7 301.8,1364.7 301.8,1364.3 303.8,1364.3 303.8,1364.4 305.8,1364.4 305.8,1364.1 307.8,1364.1 307.8,1363.8 309.8,1363.8 309.8,1363.6 311.8,1363.6 311.8,1363.3 313.8,1363.3 313.8,1363 315.8,1363 315.8,1362.8 317.8,1362.8 317.8,1362.2 319.8,1362.2 319.8,1361.9 321.8,1361.9 321.8,1363.4 323.8,1363.4 323.8,1363.1 325.8,1363.1 325.8,1361.1 327.8,1361.1 327.8,1360.9 329.8,1360.9 329.8,1360.6 331.8,1360.6 331.8,1362.6 333.8,1362.6 333.8,1362.4 335.8,1362.4 335.8,1362.1 337.8,1362.1 337.8,1359.4 339.8,1359.4 339.8,1359.1 341.8,1359.1 341.8,1358.9 343.8,1358.9 343.8,1359.1 345.8,1359.1 345.8,1358.9 347.8,1358.9 347.8,1358.7 349.8,1358.7 349.8,1358 351.8,1358 351.8,1357.8 353.8,1357.8 353.8,1357.6 355.8,1357.6 355.8,1357.4 357.8,1357.4 357.8,1357.2 359.8,1357.2 359.8,1359.3 361.8,1359.3 361.8,1359.1 363.8,1359.1 363.8,1358.9 365.8,1358.9 365.8,1356.5 367.8,1356.5 367.8,1356.3 369.8,1356.3 369.8,1356.1 371.8,1356.1 371.8,1355.9 373.8,1355.9 373.8,1355.6 375.8,1355.6 375.8,1355.4 377.8,1355.4 377.8,1355.2 379.8,1355.2 379.8,1355 381.8,1355 381.8,1356.7 383.8,1356.7 383.8,1356.5 385.8,1356.5 385.8,1356 387.8,1356 387.8,1355.8 389.8,1355.8 389.8,1354.5 391.8,1354.5 391.8,1354.4 393.8,1354.4 393.8,1354.2 395.8,1354.2 395.8,1353.8 397.8,1353.8 397.8,1353.7 399.8,1353.7 399.8,1355.6 401.8,1355.6 401.8,1355.5 403.8,1355.5 403.8,1355.3 405.8,1355.3 405.8,1355.2 407.8,1355.2 407.8,1353.4 409.8,1353.4 409.8,1353.2 411.8,1353.2 411.8,1355.3 413.8,1355.3 413.8,1355.2 415.8,1355.2 415.8,1355 417.8,1355 417.8,1352.7 419.8,1352.7 419.8,1352.6 421.8,1352.6 421.8,1354.9 423.8,1354.9 423.8,1354.8 425.8,1354.8 425.8,1354.6 427.8,1354.6 427.8,1354.5 429.8,1354.5 429.8,1352.1 431.8,1352.1 431.8,1352 433.8,1352 433.8,1351.9 435.8,1351.9 435.8,1351.8 437.8,1351.8 437.8,1351.5 439.8,1351.5 439.8,1351.4 441.8,1351.4 441.8,1351.2 443.8,1351.2 443.8,1351 445.8,1351 445.8,1350.9 447.8,1350.9 447.8,1350.8 449.8,1350.8 449.8,1350.7 451.8,1350.7 451.8,1352.4 453.8,1352.4 453.8,1352.3 455.8,1352.3 455.8,1350.6 457.8,1350.6 457.8,1350.5 459.8,1350.5 459.8,1351.8 461.8,1351.8 461.8,1351.7 463.8,1351.7 463.8,1351.6 465.8,1351.6 465.8,1351.5 467.8,1351.5 467.8,1352.5 469.8,1352.5 469.8,1352.3 471.8,1352.3 471.8,1349.5 473.8,1349.5 473.8,1349.4 475.8,1349.4 475.8,1349.3 477.8,1349.3 477.8,1349.1 479.8,1349.1 479.8,1349 481.8,1349 481.8,1348.9 483.8,1348.9 483.8,1348.8 485.8,1348.8 485.8,1348.8 487.8,1348.8 487.8,1348.6 489.8,1348.6 489.8,1348.5 491.8,1348.5 491.8,1350 493.8,1350 493.8,1349.8 495.8,1349.8 495.8,1349.7 497.8,1349.7 497.8,1349.5 499.8,1349.5 499.8,1349.3 501.8,1349.3 501.8,1349.2 503.8,1349.2 503.8,1347 505.8,1347 505.8,1346.8 507.8,1346.8 507.8,1346.6 509.8,1346.6 509.8,1346.4 511.8,1346.4 511.8,1348.8 513.8,1348.8 513.8,1348.6 515.8,1348.6 515.8,1348.4 517.8,1348.4 517.8,1345.9 519.8,1345.9 519.8,1345.7 521.8,1345.7 521.8,1347.1 523.8,1347.1 523.8,1346.9 525.8,1346.9 525.8,1346.7 527.8,1346.7 527.8,1344.8 529.8,1344.8 529.8,1344.6 531.8,1344.6 531.8,1344.4 533.8,1344.4 533.8,1344.2 535.8,1344.2 535.8,1343.9 537.8,1343.9 537.8,1343.7 539.8,1343.7 539.8,1343.5 541.8,1343.5 541.8,1343.2 543.8,1343.2 543.8,1342.9 545.8,1342.9 545.8,1342.6 547.8,1342.6 547.8,1342.4 549.8,1342.4 549.8,1343.7 551.8,1343.7 551.8,1343.4 553.8,1343.4 553.8,1343.2 555.8,1343.2 555.8,1341.5 557.8,1341.5 557.8,1341.2 559.8,1341.2 559.8,1341 561.8,1341 561.8,1343.4 563.8,1343.4 563.8,1343.1 565.8,1343.1 565.8,1342.8 567.8,1342.8 567.8,1341.9 569.8,1341.9 569.8,1341.6 571.8,1341.6 571.8,1341.3 573.8,1341.3 573.8,1341.1 575.8,1341.1 575.8,1340.1 577.8,1340.1 577.8,1339.8 579.8,1339.8 579.8,1339.5 581.8,1339.5 581.8,1338.2 583.8,1338.2 583.8,1338 585.8,1338 585.8,1337.7 587.8,1337.7 587.8,1339.7 589.8,1339.7 589.8,1339.5 591.8,1339.5 591.8,1339.2 593.8,1339.2 593.8,1338.9 595.8,1338.9 595.8,1337.9 597.8,1337.9 597.8,1337.6 599.8,1337.6 599.8,1335.4 601.8,1335.4 601.8,1335.1 603.8,1335.1 603.8,1334.8 605.8,1334.8 605.8,1334.5 607.8,1334.5 607.8,1334.2 609.8,1334.2 609.8,1333.9 611.8,1333.9 611.8,1333.6 613.8,1333.6 613.8,1333.3 615.8,1333.3 615.8,1333.2 617.8,1333.2 617.8,1332.9 619.8,1332.9 619.8,1332.6 621.8,1332.6 621.8,1332.3 623.8,1332.3 623.8,1332 625.8,1332 625.8,1331.7 627.8,1331.7 627.8,1331.4 629.8,1331.4 629.8,1331 631.8,1331 631.8,1333.2 633.8,1333.2 633.8,1332.8 635.8,1332.8 635.8,1332.5 637.8,1332.5 637.8,1330.1 639.8,1330.1 639.8,1329.8 641.8,1329.8 641.8,1329.4 643.8,1329.4 643.8,1329.1 645.8,1329.1 645.8,1330.7 647.8,1330.7 647.8,1330.4 649.8,1330.4 649.8,1330.1 651.8,1330.1 651.8,1329.7 653.8,1329.7 653.8,1327.2 655.8,1327.2 655.8,1326.8 657.8,1326.8 657.8,1326.5 659.8,1326.5 659.8,1328.9 661.8,1328.9 661.8,1328.5 663.8,1328.5 663.8,1326.7 665.8,1326.7 665.8,1326.4 667.8,1326.4 667.8,1324.8 669.8,1324.8 669.8,1324.4 671.8,1324.4 671.8,1324 673.8,1324 673.8,1323.7 675.8,1323.7 675.8,1323.5 677.8,1323.5 677.8,1323.1 679.8,1323.1 679.8,1322.6 681.8,1322.6 681.8,1824.1 679.8,1824.1 679.8,1820.8 677.8,1820.8 677.8,1821.6 675.8,1821.6 675.8,1822.3 673.8,1822.3 673.8,1827.2 671.8,1827.2 671.8,1828 669.8,1828 669.8,1828.7 667.8,1828.7 667.8,1829.2 665.8,1829.2 665.8,1829.9 663.8,1829.9 663.8,1830.6 661.8,1830.6 661.8,1831.4 659.8,1831.4 659.8,1832.2 657.8,1832.2 657.8,1832.9 655.8,1832.9 655.8,1833.5 653.8,1833.5 653.8,1834.2 651.8,1834.2 651.8,1834.8 649.8,1834.8 649.8,1835.5 647.8,1835.5 647.8,1836.2 645.8,1836.2 645.8,1836.9 643.8,1836.9 643.8,1837.9 641.8,1837.9 641.8,1838.6 639.8,1838.6 639.8,1839.2 637.8,1839.2 637.8,1839.9 635.8,1839.9 635.8,1840.6 633.8,1840.6 633.8,1841.3 631.8,1841.3 631.8,1842 629.8,1842 629.8,1840.2 627.8,1840.2 627.8,1840.9 625.8,1840.9 625.8,1841.6 623.8,1841.6 623.8,1842.2 621.8,1842.2 621.8,1841.6 619.8,1841.6 619.8,1842.2 617.8,1842.2 617.8,1846.3 615.8,1846.3 615.8,1846.9 613.8,1846.9 613.8,1844.5 611.8,1844.5 611.8,1845.1 609.8,1845.1 609.8,1845.7 607.8,1845.7 607.8,1846.4 605.8,1846.4 605.8,1850.4 603.8,1850.4 603.8,1851 601.8,1851 601.8,1851.6 599.8,1851.6 599.8,1852.2 597.8,1852.2 597.8,1852.7 595.8,1852.7 595.8,1853.3 593.8,1853.3 593.8,1853.9 591.8,1853.9 591.8,1851.8 589.8,1851.8 589.8,1852.4 587.8,1852.4 587.8,1854 585.8,1854 585.8,1854.6 583.8,1854.6 583.8,1855.2 581.8,1855.2 581.8,1855.8 579.8,1855.8 579.8,1854.1 577.8,1854.1 577.8,1854.7 575.8,1854.7 575.8,1855.3 573.8,1855.3 573.8,1859.4 571.8,1859.4 571.8,1860 569.8,1860 569.8,1860.5 567.8,1860.5 567.8,1861.3 565.8,1861.3 565.8,1861.8 563.8,1861.8 563.8,1862.4 561.8,1862.4 561.8,1862.9 559.8,1862.9 559.8,1863.2 557.8,1863.2 557.8,1863.8 555.8,1863.8 555.8,1864.9 553.8,1864.9 553.8,1865.4 551.8,1865.4 551.8,1862.9 549.8,1862.9 549.8,1863.4 547.8,1863.4 547.8,1863.9 545.8,1863.9 545.8,1867.4 543.8,1867.4 543.8,1867.9 541.8,1867.9 541.8,1868.4 539.8,1868.4 539.8,1865.6 537.8,1865.6 537.8,1866.1 535.8,1866.1 535.8,1866.7 533.8,1866.7 533.8,1867.2 531.8,1867.2 531.8,1871.2 529.8,1871.2 529.8,1871.8 527.8,1871.8 527.8,1872.3 525.8,1872.3 525.8,1872.3 523.8,1872.3 523.8,1872.8 521.8,1872.8 521.8,1873.3 519.8,1873.3 519.8,1874.1 517.8,1874.1 517.8,1874.6 515.8,1874.6 515.8,1872.1 513.8,1872.1 513.8,1872.6 511.8,1872.6 511.8,1876.3 509.8,1876.3 509.8,1876.8 507.8,1876.8 507.8,1877.3 505.8,1877.3 505.8,1877.4 503.8,1877.4 503.8,1877.9 501.8,1877.9 501.8,1878.4 499.8,1878.4 499.8,1878.8 497.8,1878.8 497.8,1879.3 495.8,1879.3 495.8,1879.8 493.8,1879.8 493.8,1880.2 491.8,1880.2 491.8,1880.7 489.8,1880.7 489.8,1881.2 487.8,1881.2 487.8,1879.9 485.8,1879.9 485.8,1880.4 483.8,1880.4 483.8,1880.9 481.8,1880.9 481.8,1881.4 479.8,1881.4 479.8,1882.2 477.8,1882.2 477.8,1882.7 475.8,1882.7 475.8,1885.1 473.8,1885.1 473.8,1885.6 471.8,1885.6 471.8,1886 469.8,1886 469.8,1886.5 467.8,1886.5 467.8,1887 465.8,1887 465.8,1887.6 463.8,1887.6 463.8,1888.1 461.8,1888.1 461.8,1888.6 459.8,1888.6 459.8,1889.6 457.8,1889.6 457.8,1890.1 455.8,1890.1 455.8,1890.6 453.8,1890.6 453.8,1891.1 451.8,1891.1 451.8,1887.7 449.8,1887.7 449.8,1888.2 447.8,1888.2 447.8,1888.7 445.8,1888.7 445.8,1888.8 443.8,1888.8 443.8,1889.3 441.8,1889.3 441.8,1889.7 439.8,1889.7 439.8,1890.2 437.8,1890.2 437.8,1891.5 435.8,1891.5 435.8,1892 433.8,1892 433.8,1895.8 431.8,1895.8 431.8,1896.2 429.8,1896.2 429.8,1896.7 427.8,1896.7 427.8,1897.2 425.8,1897.2 425.8,1897.4 423.8,1897.4 423.8,1897.8 421.8,1897.8 421.8,1894.7 419.8,1894.7 419.8,1895.1 417.8,1895.1 417.8,1895.6 415.8,1895.6 415.8,1896.1 413.8,1896.1 413.8,1898.2 411.8,1898.2 411.8,1898.6 409.8,1898.6 409.8,1901.1 407.8,1901.1 407.8,1901.6 405.8,1901.6 405.8,1902 403.8,1902 403.8,1902.4 401.8,1902.4 401.8,1903 399.8,1903 399.8,1903.4 397.8,1903.4 397.8,1904 395.8,1904 395.8,1904.4 393.8,1904.4 393.8,1904.8 391.8,1904.8 391.8,1905.2 389.8,1905.2 389.8,1905.5 387.8,1905.5 387.8,1905.9 385.8,1905.9 385.8,1905.8 383.8,1905.8 383.8,1906.2 381.8,1906.2 381.8,1906.6 379.8,1906.6 379.8,1907 377.8,1907 377.8,1905.8 375.8,1905.8 375.8,1906.2 373.8,1906.2 373.8,1906.5 371.8,1906.5 371.8,1906.9 369.8,1906.9 369.8,1907.4 367.8,1907.4 367.8,1907.8 365.8,1907.8 365.8,1910 363.8,1910 363.8,1910.3 361.8,1910.3 361.8,1908.2 359.8,1908.2 359.8,1908.5 357.8,1908.5 357.8,1908.9 355.8,1908.9 355.8,1909.2 353.8,1909.2 353.8,1910.1 351.8,1910.1 351.8,1910.4 349.8,1910.4 349.8,1912.6 347.8,1912.6 347.8,1912.9 345.8,1912.9 345.8,1913.7 343.8,1913.7 343.8,1914.1 341.8,1914.1 341.8,1913.9 339.8,1913.9 339.8,1914.2 337.8,1914.2 337.8,1910.9 335.8,1910.9 335.8,1911.2 333.8,1911.2 333.8,1915.4 331.8,1915.4 331.8,1915.7 329.8,1915.7 329.8,1915.9 327.8,1915.9 327.8,1916.2 325.8,1916.2 325.8,1916.5 323.8,1916.5 323.8,1916.8 321.8,1916.8 321.8,1917 319.8,1917 319.8,1914.5 317.8,1914.5 317.8,1914.8 315.8,1914.8 315.8,1915 313.8,1915 313.8,1915.2 311.8,1915.2 311.8,1915.5 309.8,1915.5 309.8,1914.5 307.8,1914.5 307.8,1914.8 305.8,1914.8 305.8,1918.7 303.8,1918.7 303.8,1918.9 301.8,1918.9 301.8,1919.2 299.8,1919.2 299.8,1919.4 297.8,1919.4 297.8,1919.7 295.8,1919.7 295.8,1919.9 293.8,1919.9 293.8,1920.1 291.8,1920.1 291.8,1920.5 289.8,1920.5 289.8,1920.7 287.8,1920.7 287.8,1920.8 285.8,1920.8 285.8,1921.2 283.8,1921.2 283.8,1921.4 281.8,1921.4 281.8,1921.5 279.8,1921.5 279.8,1921.6 277.8,1921.6 277.8,1919.6 275.8,1919.6 275.8,1919.7 273.8,1919.7 273.8,1918.9 271.8,1918.9 271.8,1919 269.8,1919 269.8,1919 267.8,1919 267.8,1919 265.8,1919 265.8,1921.6 263.8,1921.6 263.8,1921.6 261.8,1921.6 261.8,1921.6 259.8,1921.6 259.8,1918.6 257.8,1918.6 257.8,1918.6 255.8,1918.6 255.8,1918.6 253.8,1918.6 253.8,1917.8 251.8,1917.8 251.8,1917.8 249.8,1917.8 249.8,1917.8 247.8,1917.8 247.8,1922 245.8,1922 245.8,1922 243.8,1922 243.8,1922 241.8,1922 241.8,1921.4 239.8,1921.4 239.8,1921.4 237.8,1921.4 237.8,1921.4 235.8,1921.4 235.8,1921.8 233.8,1921.8 233.8,1921.8 231.8,1921.8 231.8,1921.8 229.8,1921.8 229.8,1922 227.8,1922 227.8,1922 225.8,1922 225.8,1922 223.8,1922 223.8,1918.5 221.8,1918.5 221.8,1918.4 219.8,1918.4 219.8,1918.2 217.8,1918.2 217.8,1918 215.8,1918 215.8,1917 213.8,1917 213.8,1911 211.8,1911 211.8,1913.5 209.8,1913.5 209.8,1913.2 207.8,1913.2 207.8,1904 205.8,1904 205.8,1891.9 203.8,1891.9 203.8,1891.5 201.8,1891.5"/>
<polygon fill="#0f0" points="680.7,1322.2 682.7,1322.2 682.7,1321.8 684.7,1321.8 684.7,1321.8 686.7,1321.8 686.7,1321.4 688.7,1321.4 688.7,1322.8 690.7,1322.8 690.7,1322.4 692.7,1322.4 692.7,1322 694.7,1322 694.7,1322.5 696.7,1322.5 696.7,1322.1 698.7,1322.1 698.7,1318.7 700.7,1318.7 700.7,1318.3 702.7,1318.3 702.7,1317.8 704.7,1317.8 704.7,1317.7 706.7,1317.7 706.7,1317.2 708.7,1317.2 708.7,1316.9 710.7,1316.9 710.7,1316.4 712.7,1316.4 712.7,1315.7 714.7,1315.7 714.7,1315.2 716.7,1315.2 716.7,1317.3 718.7,1317.3 718.7,1316.8 720.7,1316.8 720.7,1313.4 722.7,1313.4 722.7,1312.8 724.7,1312.8 724.7,1314.9 726.7,1314.9 726.7,1314.4 728.7,1314.4 728.7,1314.5 730.7,1314.5 730.7,1313.9 732.7,1313.9 732.7,1310.3 734.7,1310.3 734.7,1309.7 736.7,1309.7 736.7,1309.4 738.7,1309.4 738.7,1308.8 740.7,1308.8 740.7,1308.2 742.7,1308.2 742.7,1307.6 744.7,1307.6 744.7,1306.5 746.7,1306.5 746.7,1305.8 748.7,1305.8 748.7,1305.3 750.7,1305.3 750.7,1304.6 752.7,1304.6 752.7,1306.7 754.7,1306.7 754.7,1306 756.7,1306 756.7,1303.2 758.7,1303.2 758.7,1302.5 760.7,1302.5 760.7,1301.9 762.7,1301.9 762.7,1301.2 764.7,1301.2 764.7,1300.4 766.7,1300.4 766.7,1299.8 768.7,1299.8 768.7,1300.4 770.7,1300.4 770.7,1299.8 772.7,1299.8 772.7,1299.1 774.7,1299.1 774.7,1298.5 776.7,1298.5 776.7,1296.5 778.7,1296.5 778.7,1295.8 780.7,1295.8 780.7,1295.1 782.7,1295.1 782.7,1294.4 784.7,1294.4 784.7,1293.8 786.7,1293.8 786.7,1293.1 788.7,1293.1 788.7,1292.3 790.7,1292.3 790.7,1291.6 792.7,1291.6 792.7,1290.9 794.7,1290.9 794.7,1290.3 796.7,1290.3 796.7,1289.6 798.7,1289.6 798.7,1289 800.7,1289 800.7,1288.3 802.7,1288.3 802.7,1287.9 804.7,1287.9 804.7,1287.3 806.7,1287.3 806.7,1286.6 808.7,1286.6 808.7,1286.1 810.7,1286.1 810.7,1285.4 812.7,1285.4 812.7,1284.7 814.7,1284.7 814.7,1284.1 816.7,1284.1 816.7,1283 818.7,1283 818.7,1282.3 820.7,1282.3 820.7,1281.6 822.7,1281.6 822.7,1280.9 824.7,1280.9 824.7,1280.6 826.7,1280.6 826.7,1279.9 828.7,1279.9 828.7,1279.2 830.7,1279.2 830.7,1278.5 832.7,1278.5 832.7,1278.8 834.7,1278.8 834.7,1278.1 836.7,1278.1 836.7,1277.4 838.7,1277.4 838.7,1276.7 840.7,1276.7 840.7,1274.8 842.7,1274.8 842.7,1274.1 844.7,1274.1 844.7,1273.4 846.7,1273.4 846.7,1274.7 848.7,1274.7 848.7,1274 850.7,1274 850.7,1273.3 852.7,1273.3 852.7,1272.6 854.7,1272.6 854.7,1269.3 856.7,1269.3 856.7,1268.6 858.7,1268.6 858.7,1267.9 860.7,1267.9 860.7,1267.1 862.7,1267.1 862.7,1266.7 864.7,1266.7 864.7,1265.9 866.7,1265.9 866.7,1265.2 868.7,1265.2 868.7,1264.3 870.7,1264.3 870.7,1263.5 872.7,1263.5 872.7,1265.3 874.7,1265.3 874.7,1264.6 876.7,1264.6 876.7,1261.3 878.7,1261.3 878.7,1260.6 880.7,1260.6 880.7,1259.9 882.7,1259.9 882.7,1259.2 884.7,1259.2 884.7,1259 886.7,1259 886.7,1258.3 888.7,1258.3 888.7,1257.5 890.7,1257.5 890.7,1256.8 892.7,1256.8 892.7,1258.3 894.7,1258.3 894.7,1257.6 896.7,1257.6 896.7,1256.9 898.7,1256.9 898.7,1256.2 900.7,1256.2 900.7,1252.9 902.7,1252.9 902.7,1252.2 904.7,1252.2 904.7,1251.5 906.7,1251.5 906.7,1250.8 908.7,1250.8 908.7,1253.1 910.7,1253.1 910.7,1252.5 912.7,1252.5 912.7,1251.8 914.7,1251.8 914.7,1251.1 916.7,1251.1 916.7,1249.1 918.7,1249.1 918.7,1248.4 920.7,1248.4 920.7,1246.3 922.7,1246.3 922.7,1245.7 924.7,1245.7 924.7,1244.7 926.7,1244.7 926.7,1244 928.7,1244 928.7,1243.9 930.7,1243.9 930.7,1243.2 932.7,1243.2 932.7,1242.6 934.7,1242.6 934.7,1241.9 936.7,1241.9 936.7,1241 938.7,1241 938.7,1240.3 940.7,1240.3 940.7,1242.8 942.7,1242.8 942.7,1242.1 944.7,1242.1 944.7,1241.5 946.7,1241.5 946.7,1240.8 948.7,1240.8 948.7,1237.3 950.7,1237.3 950.7,1236.7 952.7,1236.7 952.7,1236 954.7,1236 954.7,1235.4 956.7,1235.4 956.7,1234.7 958.7,1234.7 958.7,1234.1 960.7,1234.1 960.7,1233.5 962.7,1233.5 962.7,1232.9 964.7,1232.9 964.7,1232.2 966.7,1232.2 966.7,1233.2 968.7,1233.2 968.7,1232.6 970.7,1232.6 970.7,1231.9 972.7,1231.9 972.7,1229.7 974.7,1229.7 974.7,1229 976.7,1229 976.7,1228.4 978.7,1228.4 978.7,1227.8 980.7,1227.8 980.7,1228.3 982.7,1228.3 982.7,1227.7 984.7,1227.7 984.7,1227.1 986.7,1227.1 986.7,1226.5 988.7,1226.5 988.7,1224.3 990.7,1224.3 990.7,1223.7 992.7,1223.7 992.7,1223.1 994.7,1223.1 994.7,1222.5 996.7,1222.5 996.7,1221.7 998.7,1221.7 998.7,1221 1000.7,1221 1000.7,1220.4 1002.7,1220.4 1002.7,1219.8 1004.7,1219.8 1004.7,1219.4 1006.7,1219.4 1006.7,1218.7 1008.7,1218.7 1008.7,1218.1 1010.7,1218.1 1010.7,1217.8 1012.7,1217.8 1012.7,1217.2 1014.7,1217.2 1014.7,1216.6 1016.7,1216.6 1016.7,1215.6 1018.7,1215.6 1018.7,1215 1020.7,1215 1020.7,1214.4 1022.7,1214.4 1022.7,1213.7 1024.7,1213.7 1024.7,1215.1 1026.7,1215.1 1026.7,1214.5 1028.7,1214.5 1028.7,1212.1 1030.7,1212.1 1030.7,1211.4 1032.7,1211.4 1032.7,1210.8 1034.7,1210.8 1034.7,1210.2 1036.7,1210.2 1036.7,1210.7 1038.7,1210.7 1038.7,1210.1 1040.7,1210.1 1040.7,1209.4 1042.7,1209.4 1042.7,1207.5 1044.7,1207.5 1044.7,1206.9 1046.7,1206.9 1046.7,1209 1048.7,1209 1048.7,1208.4 1050.7,1208.4 1050.7,1207.7 1052.7,1207.7 1052.7,1207.1 1054.7,1207.1 1054.7,1203.4 1056.7,1203.4 1056.7,1202.8 1058.7,1202.8 1058.7,1202.2 1060.7,1202.2 1060.7,1201.5 1062.7,1201.5 1062.7,1200.9 1064.7,1200.9 1064.7,1200.3 1066.7,1200.3 1066.7,1199.6 1068.7,1199.6 1068.7,1199.4 1070.7,1199.4 1070.7,1198.8 1072.7,1198.8 1072.7,1198.2 1074.7,1198.2 1074.7,1197.5 1076.7,1197.5 1076.7,1198.6 1078.7,1198.6 1078.7,1197.9 1080.7,1197.9 1080.7,1195.7 1082.7,1195.7 1082.7,1195 1084.7,1195 1084.7,1194.4 1086.7,1194.4 1086.7,1193.8 1088.7,1193.8 1088.7,1195.4 1090.7,1195.4 1090.7,1194.8 1092.7,1194.8 1092.7,1194.2 1094.7,1194.2 1094.7,1193.6 1096.7,1193.6 1096.7,1193 1098.7,1193 1098.7,1192.4 1100.7,1192.4 1100.7,1191.2 1102.7,1191.2 1102.7,1190.6 1104.7,1190.6 1104.7,1190 1106.7,1190 1106.7,1189.8 1108.7,1189.8 1108.7,1189.2 1110.7,1189.2 1110.7,1188.6 1112.7,1188.6 1112.7,1188.1 1114.7,1188.1 1114.7,1185.6 1116.7,1185.6 1116.7,1185 1118.7,1185 1118.7,1184.5 1120.7,1184.5 1120.7,1183.9 1122.7,1183.9 1122.7,1183.3 1124.7,1183.3 1124.7,1182.8 1126.7,1182.8 1126.7,1182.3 1128.7,1182.3 1128.7,1182.1 1130.7,1182.1 1130.7,1181.6 1132.7,1181.6 1132.7,1180.8 1134.7,1180.8 1134.7,1180.3 1136.7,1180.3 1136.7,1179.8 1138.7,1179.8 1138.7,1662.7 1136.7,1662.7 1136.7,1665.3 1134.7,1665.3 1134.7,1665.5 1132.7,1665.5 1132.7,1670.8 1130.7,1670.8 1130.7,1671.1 1128.7,1671.1 1128.7,1671.8 1126.7,1671.8 1126.7,1672.1 1124.7,1672.1 1124.7,1672.3 1122.7,1672.3 1122.7,1668.5 1120.7,1668.5 1120.7,1668.8 1118.7,1668.8 1118.7,1669 1116.7,1669 1116.7,1664.5 1114.7,1664.5 1114.7,1664.8 1112.7,1664.8 1112.7,1665.1 1110.7,1665.1 1110.7,1674.8 1108.7,1674.8 1108.7,1675.1 1106.7,1675.1 1106.7,1668.3 1104.7,1668.3 1104.7,1668.5 1102.7,1668.5 1102.7,1669 1100.7,1669 1100.7,1669.3 1098.7,1669.3 1098.7,1671 1096.7,1671 1096.7,1671.3 1094.7,1671.3 1094.7,1671.5 1092.7,1671.5 1092.7,1670.5 1090.7,1670.5 1090.7,1670.8 1088.7,1670.8 1088.7,1671.1 1086.7,1671.1 1086.7,1678.1 1084.7,1678.1 1084.7,1678.4 1082.7,1678.4 1082.7,1678.3 1080.7,1678.3 1080.7,1678.6 1078.7,1678.6 1078.7,1678.9 1076.7,1678.9 1076.7,1679.2 1074.7,1679.2 1074.7,1679.9 1072.7,1679.9 1072.7,1680.3 1070.7,1680.3 1070.7,1679.9 1068.7,1679.9 1068.7,1680.2 1066.7,1680.2 1066.7,1680.5 1064.7,1680.5 1064.7,1675.7 1062.7,1675.7 1062.7,1676 1060.7,1676 1060.7,1676.4 1058.7,1676.4 1058.7,1676.7 1056.7,1676.7 1056.7,1681.4 1054.7,1681.4 1054.7,1681.7 1052.7,1681.7 1052.7,1682.1 1050.7,1682.1 1050.7,1684.1 1048.7,1684.1 1048.7,1684.4 1046.7,1684.4 1046.7,1684.8 1044.7,1684.8 1044.7,1685.1 1042.7,1685.1 1042.7,1685.5 1040.7,1685.5 1040.7,1684.4 1038.7,1684.4 1038.7,1684.7 1036.7,1684.7 1036.7,1680.2 1034.7,1680.2 1034.7,1680.6 1032.7,1680.6 1032.7,1681 1030.7,1681 1030.7,1679.2 1028.7,1679.2 1028.7,1679.6 1026.7,1679.6 1026.7,1680 1024.7,1680 1024.7,1688.7 1022.7,1688.7 1022.7,1689.2 1020.7,1689.2 1020.7,1688.7 1018.7,1688.7 1018.7,1689.2 1016.7,1689.2 1016.7,1690.2 1014.7,1690.2 1014.7,1690.6 1012.7,1690.6 1012.7,1685.9 1010.7,1685.9 1010.7,1686.4 1008.7,1686.4 1008.7,1686.9 1006.7,1686.9 1006.7,1687.4 1004.7,1687.4 1004.7,1687.9 1002.7,1687.9 1002.7,1686.6 1000.7,1686.6 1000.7,1687.2 998.7,1687.2 998.7,1694.6 996.7,1694.6 996.7,1695.1 994.7,1695.1 994.7,1695.7 992.7,1695.7 992.7,1691.1 990.7,1691.1 990.7,1691.7 988.7,1691.7 988.7,1698.7 986.7,1698.7 986.7,1699.3 984.7,1699.3 984.7,1698.4 982.7,1698.4 982.7,1699 980.7,1699 980.7,1693.6 978.7,1693.6 978.7,1694.2 976.7,1694.2 976.7,1697.4 974.7,1697.4 974.7,1698 972.7,1698 972.7,1698.7 970.7,1698.7 970.7,1697.8 968.7,1697.8 968.7,1698.4 966.7,1698.4 966.7,1697.1 964.7,1697.1 964.7,1697.8 962.7,1697.8 962.7,1697.3 960.7,1697.3 960.7,1697.9 958.7,1697.9 958.7,1698.6 956.7,1698.6 956.7,1701.4 954.7,1701.4 954.7,1686.1 952.7,1686.1 952.7,1686.1 950.7,1686.1 950.7,1703.4 948.7,1703.4 948.7,1704.1 946.7,1704.1 946.7,1712.5 944.7,1712.5 944.7,1713.3 942.7,1713.3 942.7,1705.9 940.7,1705.9 940.7,1706.7 938.7,1706.7 938.7,1707.4 936.7,1707.4 936.7,1715.6 934.7,1715.6 934.7,1693.4 932.7,1693.4 932.7,1693.4 930.7,1693.4 930.7,1717.3 928.7,1717.3 928.7,1718.1 926.7,1718.1 926.7,1718.5 924.7,1718.5 924.7,1719.2 922.7,1719.2 922.7,1720 920.7,1720 920.7,1721.5 918.7,1721.5 918.7,1722.3 916.7,1722.3 916.7,1715.2 914.7,1715.2 914.7,1715.9 912.7,1715.9 912.7,1716.7 910.7,1716.7 910.7,1725.4 908.7,1725.4 908.7,1726.2 906.7,1726.2 906.7,1727 904.7,1727 904.7,1695.9 902.7,1695.9 902.7,1723.5 900.7,1723.5 900.7,1728.9 898.7,1728.9 898.7,1729.7 896.7,1729.7 896.7,1730.5 894.7,1730.5 894.7,1725.2 892.7,1725.2 892.7,1726 890.7,1726 890.7,1733.8 888.7,1733.8 888.7,1705.7 886.7,1705.7 886.7,1705.7 884.7,1705.7 884.7,1735.7 882.7,1735.7 882.7,1736.5 880.7,1736.5 880.7,1732.9 878.7,1732.9 878.7,1733.7 876.7,1733.7 876.7,1734.5 874.7,1734.5 874.7,1739.4 872.7,1739.4 872.7,1740.2 870.7,1740.2 870.7,1736.4 868.7,1736.4 868.7,1737.2 866.7,1737.2 866.7,1738.1 864.7,1738.1 864.7,1735.8 862.7,1735.8 862.7,1736.6 860.7,1736.6 860.7,1739.2 858.7,1739.2 858.7,1740 856.7,1740 856.7,1740.8 854.7,1740.8 854.7,1742.9 852.7,1742.9 852.7,1743.7 850.7,1743.7 850.7,1742.6 848.7,1742.6 848.7,1743.4 846.7,1743.4 846.7,1746.7 844.7,1746.7 844.7,1747.5 842.7,1747.5 842.7,1748.7 840.7,1748.7 840.7,1749.5 838.7,1749.5 838.7,1750.3 836.7,1750.3 836.7,1755.2 834.7,1755.2 834.7,1756 832.7,1756 832.7,1756.8 830.7,1756.8 830.7,1753.8 828.7,1753.8 828.7,1754.6 826.7,1754.6 826.7,1755.4 824.7,1755.4 824.7,1760.9 822.7,1760.9 822.7,1761.7 820.7,1761.7 820.7,1762.5 818.7,1762.5 818.7,1762.3 816.7,1762.3 816.7,1763.1 814.7,1763.1 814.7,1764 812.7,1764 812.7,1764.9 810.7,1764.9 810.7,1765.8 808.7,1765.8 808.7,1766.7 806.7,1766.7 806.7,1766.9 804.7,1766.9 804.7,1767.8 802.7,1767.8 802.7,1764.6 800.7,1764.6 800.7,1765.4 798.7,1765.4 798.7,1763.2 796.7,1763.2 796.7,1764.1 794.7,1764.1 794.7,1765 792.7,1765 792.7,1773.1 790.7,1773.1 790.7,1774 788.7,1774 788.7,1776.2 786.7,1776.2 786.7,1777.2 784.7,1777.2 784.7,1771.7 782.7,1771.7 782.7,1772.6 780.7,1772.6 780.7,1771.2 778.7,1771.2 778.7,1772.2 776.7,1772.2 776.7,1773.1 774.7,1773.1 774.7,1776.9 772.7,1776.9 772.7,1777.9 770.7,1777.9 770.7,1776.6 768.7,1776.6 768.7,1777.6 766.7,1777.6 766.7,1778.5 764.7,1778.5 764.7,1781.6 762.7,1781.6 762.7,1782.6 760.7,1782.6 760.7,1781.1 758.7,1781.1 758.7,1782 756.7,1782 756.7,1783 754.7,1783 754.7,1785.3 752.7,1785.3 752.7,1786.3 750.7,1786.3 750.7,1788.1 748.7,1788.1 748.7,1789 746.7,1789 746.7,1796.4 744.7,1796.4 744.7,1797.3 742.7,1797.3 742.7,1798.3 740.7,1798.3 740.7,1794.9 738.7,1794.9 738.7,1795.8 736.7,1795.8 736.7,1796.7 734.7,1796.7 734.7,1794 732.7,1794 732.7,1794.9 730.7,1794.9 730.7,1795.8 728.7,1795.8 728.7,1798.2 726.7,1798.2 726.7,1799.2 724.7,1799.2 724.7,1800.1 722.7,1800.1 722.7,1807.2 720.7,1807.2 720.7,1808.1 718.7,1808.1 718.7,1809 716.7,1809 716.7,1800.6 714.7,1800.6 714.7,1801.4 712.7,1801.4 712.7,1811.9 710.7,1811.9 710.7,1812.7 708.7,1812.7 708.7,1808 706.7,1808 706.7,1808.9 704.7,1808.9 704.7,1809.7 702.7,1809.7 702.7,1806.6 700.7,1806.6 700.7,1807.4 698.7,1807.4 698.7,1808 696.7,1808 696.7,1808.8 694.7,1808.8 694.7,1818.9 692.7,1818.9 692.7,1819.6 690.7,1819.6 690.7,1820.7 688.7,1820.7 688.7,1821.4 686.7,1821.4 686.7,1820.9 684.7,1820.9 684.7,1821.6 682.7,1821.6 682.7,1822.4 680.7,1822.4"/>
<polygon fill="#0f0" points="1137.6,1179.5 1139.6,1179.5 1139.6,1179 1141.6,1179 1141.6,1178.5 1143.6,1178.5 1143.6,1180.3 1145.6,1180.3 1145.6,1179.8 1147.6,1179.8 1147.6,1177 1149.6,1177 1149.6,1176.5 1151.6,1176.5 1151.6,1176 1153.6,1176 1153.6,1175.5 1155.6,1175.5 1155.6,1174.9 1157.6,1174.9 1157.6,1174.4 1159.6,1174.4 1159.6,1174.1 1161.6,1174.1 1161.6,1173.6 1163.6,1173.6 1163.6,1173.2 1165.6,1173.2 1165.6,1172.8 1167.6,1172.8 1167.6,1172.3 1169.6,1172.3 1169.6,1174.4 1171.6,1174.4 1171.6,1173.9 1173.6,1173.9 1173.6,1172.8 1175.6,1172.8 1175.6,1172.4 1177.6,1172.4 1177.6,1171.9 1179.6,1171.9 1179.6,1171.4 1181.6,1171.4 1181.6,1170.8 1183.6,1170.8 1183.6,1170.3 1185.6,1170.3 1185.6,1169.8 1187.6,1169.8 1187.6,1167.4 1189.6,1167.4 1189.6,1167 1191.6,1167 1191.6,1166.4 1193.6,1166.4 1193.6,1165.9 1195.6,1165.9 1195.6,1165.5 1197.6,1165.5 1197.6,1167.3 1199.6,1167.3 1199.6,1166.8 1201.6,1166.8 1201.6,1166.4 1203.6,1166.4 1203.6,1165.9 1205.6,1165.9 1205.6,1165.3 1207.6,1165.3 1207.6,1164.8 1209.6,1164.8 1209.6,1162.7 1211.6,1162.7 1211.6,1162.3 1213.6,1162.3 1213.6,1161.8 1215.6,1161.8 1215.6,1161.1 1217.6,1161.1 1217.6,1160.6 1219.6,1160.6 1219.6,1160.4 1221.6,1160.4 1221.6,1159.9 1223.6,1159.9 1223.6,1159.5 1225.6,1159.5 1225.6,1159 1227.6,1159 1227.6,1158.4 1229.6,1158.4 1229.6,1157.9 1231.6,1157.9 1231.6,1157.5 1233.6,1157.5 1233.6,1157.3 1235.6,1157.3 1235.6,1156.8 1237.6,1156.8 1237.6,1156.5 1239.6,1156.5 1239.6,1156.1 1241.6,1156.1 1241.6,1155.7 1243.6,1155.7 1243.6,1156.1 1245.6,1156.1 1245.6,1155.7 1247.6,1155.7 1247.6,1155.3 1249.6,1155.3 1249.6,1154.9 1251.6,1154.9 1251.6,1153.3 1253.6,1153.3 1253.6,1152.8 1255.6,1152.8 1255.6,1153.9 1257.6,1153.9 1257.6,1153.5 1259.6,1153.5 1259.6,1151.8 1261.6,1151.8 1261.6,1151.4 1263.6,1151.4 1263.6,1151.1 1265.6,1151.1 1265.6,1150.7 1267.6,1150.7 1267.6,1150.4 1269.6,1150.4 1269.6,1149.7 1271.6,1149.7 1271.6,1149.4 1273.6,1149.4 1273.6,1149 1275.6,1149 1275.6,1150.3 1277.6,1150.3 1277.6,1150 1279.6,1150 1279.6,1149.6 1281.6,1149.6 1281.6,1149.3 1283.6,1149.3 1283.6,1148.8 1285.6,1148.8 1285.6,1148.5 1287.6,1148.5 1287.6,1146.6 1289.6,1146.6 1289.6,1146.3 1291.6,1146.3 1291.6,1146 1293.6,1146 1293.6,1145.6 1295.6,1145.6 1295.6,1145.4 1297.6,1145.4 1297.6,1145.1 1299.6,1145.1 1299.6,1146.5 1301.6,1146.5 1301.6,1146.2 1303.6,1146.2 1303.6,1145.9 1305.6,1145.9 1305.6,1145.6 1307.6,1145.6 1307.6,1143.7 1309.6,1143.7 1309.6,1143.4 1311.6,1143.4 1311.6,1145.5 1313.6,1145.5 1313.6,1145.2 1315.6,1145.2 1315.6,1142.7 1317.6,1142.7 1317.6,1142.4 1319.6,1142.4 1319.6,1142.1 1321.6,1142.1 1321.6,1141.7 1323.6,1141.7 1323.6,1141.4 1325.6,1141.4 1325.6,1141.2 1327.6,1141.2 1327.6,1140.9 1329.6,1140.9 1329.6,1140.6 1331.6,1140.6 1331.6,1140.2 1333.6,1140.2 1333.6,1139.8 1335.6,1139.8 1335.6,1139.5 1337.6,1139.5 1337.6,1139.2 1339.6,1139.2 1339.6,1141.4 1341.6,1141.4 1341.6,1141.1 1343.6,1141.1 1343.6,1140.9 1345.6,1140.9 1345.6,1140.7 1347.6,1140.7 1347.6,1138.2 1349.6,1138.2 1349.6,1138 1351.6,1138 1351.6,1138 1353.6,1138 1353.6,1137.9 1355.6,1137.9 1355.6,1137.8 1357.6,1137.8 1357.6,1137.7 1359.6,1137.7 1359.6,1139.6 1361.6,1139.6 1361.6,1139.5 1363.6,1139.5 1363.6,1139.4 1365.6,1139.4 1365.6,1138.5 1367.6,1138.5 1367.6,1138.4 1369.6,1138.4 1369.6,1138.3 1371.6,1138.3 1371.6,1138.2 1373.6,1138.2 1373.6,1136.6 1375.6,1136.6 1375.6,1136.5 1377.6,1136.5 1377.6,1136.5 1379.6,1136.5 1379.6,1136.4 1381.6,1136.4 1381.6,1136.7 1383.6,1136.7 1383.6,1136.6 1385.6,1136.6 1385.6,1137.5 1387.6,1137.5 1387.6,1137.5 1389.6,1137.5 1389.6,1137.4 1391.6,1137.4 1391.6,1135.9 1393.6,1135.9 1393.6,1135.8 1395.6,1135.8 1395.6,1135.8 1397.6,1135.8 1397.6,1135.7 1399.6,1135.7 1399.6,1135.7 1401.6,1135.7 1401.6,1135.6 1403.6,1135.6 1403.6,1138 1405.6,1138 1405.6,1137.9 1407.6,1137.9 1407.6,1137.9 1409.6,1137.9 1409.6,1137.9 1411.6,1137.9 1411.6,1137.8 1413.6,1137.8 1413.6,1137.8 1415.6,1137.8 1415.6,1137.8 1417.6,1137.8 1417.6,1137 1419.6,1137 1419.6,1137 1421.6,1137 1421.6,1136.9 1423.6,1136.9 1423.6,1136.9 1425.6,1136.9 1425.6,1136.9 1427.6,1136.9 1427.6,1136.9 1429.6,1136.9 1429.6,1135.5 1431.6,1135.5 1431.6,1135.5 1433.6,1135.5 1433.6,1135.6 1435.6,1135.6 1435.6,1135.6 1437.6,1135.6 1437.6,1135.8 1439.6,1135.8 1439.6,1135.8 1441.6,1135.8 1441.6,1135.8 1443.6,1135.8 1443.6,1135.4 1445.6,1135.4 1445.6,1135.4 1447.6,1135.4 1447.6,1135.4 1449.6,1135.4 1449.6,1137.8 1451.6,1137.8 1451.6,1137.8 1453.6,1137.8 1453.6,1137.8 1455.6,1137.8 1455.6,1137.9 1457.6,1137.9 1457.6,1137.8 1459.6,1137.8 1459.6,1137.8 1461.6,1137.8 1461.6,1137.9 1463.6,1137.9 1463.6,1135.7 1465.6,1135.7 1465.6,1135.8 1467.6,1135.8 1467.6,1136.1 1469.6,1136.1 1469.6,1136.2 1471.6,1136.2 1471.6,1136 1473.6,1136 1473.6,1136.1 1475.6,1136.1 1475.6,1136.1 1477.6,1136.1 1477.6,1136.2 1479.6,1136.2 1479.6,1137.9 1481.6,1137.9 1481.6,1137.9 1483.6,1137.9 1483.6,1136.2 1485.6,1136.2 1485.6,1136.3 1487.6,1136.3 1487.6,1136.4 1489.6,1136.4 1489.6,1136.4 1491.6,1136.4 1491.6,1138 1493.6,1138 1493.6,1138 1495.6,1138 1495.6,1136.9 1497.6,1136.9 1497.6,1136.9 1499.6,1136.9 1499.6,1137.2 1501.6,1137.2 1501.6,1137.3 1503.6,1137.3 1503.6,1137.4 1505.6,1137.4 1505.6,1137.4 1507.6,1137.4 1507.6,1137.3 1509.6,1137.3 1509.6,1137.3 1511.6,1137.3 1511.6,1137.4 1513.6,1137.4 1513.6,1137.9 1515.6,1137.9 1515.6,1138 1517.6,1138 1517.6,1138.1 1519.6,1138.1 1519.6,1138.1 1521.6,1138.1 1521.6,1138.2 1523.6,1138.2 1523.6,1138.3 1525.6,1138.3 1525.6,1139.4 1527.6,1139.4 1527.6,1139.5 1529.6,1139.5 1529.6,1139.7 1531.6,1139.7 1531.6,1138.5 1533.6,1138.5 1533.6,1138.7 1535.6,1138.7 1535.6,1138.9 1537.6,1138.9 1537.6,1140.5 1539.6,1140.5 1539.6,1140.7 1541.6,1140.7 1541.6,1141 1543.6,1141 1543.6,1141.2 1545.6,1141.2 1545.6,1142.4 1547.6,1142.4 1547.6,1142.7 1549.6,1142.7 1549.6,1143 1551.6,1143 1551.6,1141 1553.6,1141 1553.6,1141.2 1555.6,1141.2 1555.6,1141.5 1557.6,1141.5 1557.6,1144.1 1559.6,1144.1 1559.6,1144.4 1561.6,1144.4 1561.6,1144.7 1563.6,1144.7 1563.6,1144.7 1565.6,1144.7 1565.6,1145.1 1567.6,1145.1 1567.6,1145.4 1569.6,1145.4 1569.6,1145.8 1571.6,1145.8 1571.6,1146.3 1573.6,1146.3 1573.6,1146.7 1575.6,1146.7 1575.6,1147.1 1577.6,1147.1 1577.6,1147.5 1579.6,1147.5 1579.6,1147.8 1581.6,1147.8 1581.6,1148.2 1583.6,1148.2 1583.6,1148.7 1585.6,1148.7 1585.6,1149.7 1587.6,1149.7 1587.6,1150.1 1589.6,1150.1 1589.6,1148.2 1591.6,1148.2 1591.6,1148.6 1593.6,1148.6 1593.6,1149 1595.6,1149 1595.6,1149.5 1597.6,1149.5 1597.6,1152.7 1599.6,1152.7 1599.6,1153.2 1601.6,1153.2 1601.6,1153.7 1603.6,1153.7 1603.6,1154.2 1605.6,1154.2 1605.6,1154.3 1607.6,1154.3 1607.6,1154.7 1609.6,1154.7 1609.6,1153.3 1611.6,1153.3 1611.6,1153.8 1613.6,1153.8 1613.6,1155.7 1615.6,1155.7 1615.6,1156.2 1617.6,1156.2 1617.6,1156.6 1619.6,1156.6 1619.6,1157.7 1621.6,1157.7 1621.6,1158.2 1623.6,1158.2 1623.6,1158.6 1625.6,1158.6 1625.6,1158.7 1627.6,1158.7 1627.6,1159.2 1629.6,1159.2 1629.6,1159.7 1631.6,1159.7 1631.6,1160.2 1633.6,1160.2 1633.6,1160.2 1635.6,1160.2 1635.6,1160.6 1637.6,1160.6 1637.6,1161.1 1639.6,1161.1 1639.6,1161.6 1641.6,1161.6 1641.6,1160.7 1643.6,1160.7 1643.6,1161.2 1645.6,1161.2 1645.6,1161.7 1647.6,1161.7 1647.6,1162.2 1649.6,1162.2 1649.6,1163 1651.6,1163 1651.6,1163.5 1653.6,1163.5 1653.6,1164 1655.6,1164 1655.6,1164.4 1657.6,1164.4 1657.6,1164.8 1659.6,1164.8 1659.6,1165.3 1661.6,1165.3 1661.6,1165.8 1663.6,1165.8 1663.6,1166 1665.6,1166 1665.6,1166.5 1667.6,1166.5 1667.6,1169.7 1669.6,1169.7 1669.6,1170.2 1671.6,1170.2 1671.6,1170.7 1673.6,1170.7 1673.6,1168.4 1675.6,1168.4 1675.6,1168.9 1677.6,1168.9 1677.6,1172 1679.6,1172 1679.6,1172.5 1681.6,1172.5 1681.6,1173 1683.6,1173 1683.6,1171.4 1685.6,1171.4 1685.6,1171.9 1687.6,1171.9 1687.6,1172.4 1689.6,1172.4 1689.6,1174.4 1691.6,1174.4 1691.6,1174.9 1693.6,1174.9 1693.6,1175.4 1695.6,1175.4 1695.6,1176 1697.6,1176 1697.6,1175 1699.6,1175 1699.6,1175.6 1701.6,1175.6 1701.6,1176.1 1703.6,1176.1 1703.6,1176.6 1705.6,1176.6 1705.6,1178.5 1707.6,1178.5 1707.6,1179 1709.6,1179 1709.6,1179.4 1711.6,1179.4 1711.6,1179.9 1713.6,1179.9 1713.6,1180.5 1715.6,1180.5 1715.6,1181.7 1717.6,1181.7 1717.6,1182.2 1719.6,1182.2 1719.6,1182.8 1721.6,1182.8 1721.6,1181.7 1723.6,1181.7 1723.6,1182.3 1725.6,1182.3 1725.6,1182.9 1727.6,1182.9 1727.6,1183.3 1729.6,1183.3 1729.6,1673.3 1727.6,1673.3 1727.6,1673 1725.6,1673 1725.6,1672.7 1723.6,1672.7 1723.6,1672.4 1721.6,1672.4 1721.6,1672.3 1719.6,1672.3 1719.6,1672 1717.6,1672 1717.6,1671.7 1715.6,1671.7 1715.6,1671.5 1713.6,1671.5 1713.6,1670.9 1711.6,1670.9 1711.6,1670.6 1709.6,1670.6 1709.6,1670.7 1707.6,1670.7 1707.6,1670.4 1705.6,1670.4 1705.6,1669.5 1703.6,1669.5 1703.6,1669.3 1701.6,1669.3 1701.6,1669 1699.6,1669 1699.6,1668.8 1697.6,1668.8 1697.6,1667.3 1695.6,1667.3 1695.6,1667.1 1693.6,1667.1 1693.6,1668.1 1691.6,1668.1 1691.6,1667.9 1689.6,1667.9 1689.6,1665.8 1687.6,1665.8 1687.6,1665.6 1685.6,1665.6 1685.6,1667.7 1683.6,1667.7 1683.6,1667.5 1681.6,1667.5 1681.6,1667.3 1679.6,1667.3 1679.6,1667.1 1677.6,1667.1 1677.6,1666.9 1675.6,1666.9 1675.6,1666.7 1673.6,1666.7 1673.6,1663.8 1671.6,1663.8 1671.6,1663.6 1669.6,1663.6 1669.6,1663.4 1667.6,1663.4 1667.6,1663.2 1665.6,1663.2 1665.6,1662.9 1663.6,1662.9 1663.6,1662.6 1661.6,1662.6 1661.6,1662.5 1659.6,1662.5 1659.6,1664.5 1657.6,1664.5 1657.6,1664.3 1655.6,1664.3 1655.6,1664.1 1653.6,1664.1 1653.6,1664.4 1651.6,1664.4 1651.6,1664.2 1649.6,1664.2 1649.6,1664 1647.6,1664 1647.6,1663.8 1645.6,1663.8 1645.6,1661.1 1643.6,1661.1 1643.6,1660.9 1641.6,1660.9 1641.6,1660.8 1639.6,1660.8 1639.6,1662.6 1637.6,1662.6 1637.6,1662.5 1635.6,1662.5 1635.6,1662.3 1633.6,1662.3 1633.6,1662.1 1631.6,1662.1 1631.6,1662.4 1629.6,1662.4 1629.6,1662.2 1627.6,1662.2 1627.6,1662 1625.6,1662 1625.6,1661.7 1623.6,1661.7 1623.6,1661.5 1621.6,1661.5 1621.6,1658 1619.6,1658 1619.6,1657.8 1617.6,1657.8 1617.6,1657.7 1615.6,1657.7 1615.6,1661.1 1613.6,1661.1 1613.6,1660.9 1611.6,1660.9 1611.6,1660.6 1609.6,1660.6 1609.6,1660.4 1607.6,1660.4 1607.6,1660.3 1605.6,1660.3 1605.6,1657.5 1603.6,1657.5 1603.6,1657.3 1601.6,1657.3 1601.6,1659.9 1599.6,1659.9 1599.6,1659.7 1597.6,1659.7 1597.6,1659.6 1595.6,1659.6 1595.6,1659.4 1593.6,1659.4 1593.6,1659.3 1591.6,1659.3 1591.6,1659.1 1589.6,1659.1 1589.6,1658.9 1587.6,1658.9 1587.6,1656.7 1585.6,1656.7 1585.6,1656.5 1583.6,1656.5 1583.6,1656.4 1581.6,1656.4 1581.6,1656.2 1579.6,1656.2 1579.6,1656.1 1577.6,1656.1 1577.6,1656 1575.6,1656 1575.6,1657.9 1573.6,1657.9 1573.6,1657.8 1571.6,1657.8 1571.6,1657.7 1569.6,1657.7 1569.6,1657.6 1567.6,1657.6 1567.6,1657 1565.6,1657 1565.6,1656.9 1563.6,1656.9 1563.6,1656.8 1561.6,1656.8 1561.6,1656.7 1559.6,1656.7 1559.6,1656.7 1557.6,1656.7 1557.6,1656.6 1555.6,1656.6 1555.6,1656.5 1553.6,1656.5 1553.6,1656.4 1551.6,1656.4 1551.6,1656.6 1549.6,1656.6 1549.6,1656.5 1547.6,1656.5 1547.6,1656.4 1545.6,1656.4 1545.6,1654.7 1543.6,1654.7 1543.6,1654.6 1541.6,1654.6 1541.6,1654.5 1539.6,1654.5 1539.6,1653.9 1537.6,1653.9 1537.6,1653.9 1535.6,1653.9 1535.6,1653.8 1533.6,1653.8 1533.6,1653.8 1531.6,1653.8 1531.6,1655.9 1529.6,1655.9 1529.6,1655.8 1527.6,1655.8 1527.6,1655.8 1525.6,1655.8 1525.6,1655.7 1523.6,1655.7 1523.6,1655.8 1521.6,1655.8 1521.6,1655.8 1519.6,1655.8 1519.6,1655.8 1517.6,1655.8 1517.6,1655.7 1515.6,1655.7 1515.6,1653.3 1513.6,1653.3 1513.6,1653.2 1511.6,1653.2 1511.6,1653.2 1509.6,1653.2 1509.6,1655.5 1507.6,1655.5 1507.6,1655.4 1505.6,1655.4 1505.6,1655.4 1503.6,1655.4 1503.6,1655.4 1501.6,1655.4 1501.6,1655.2 1499.6,1655.2 1499.6,1655.2 1497.6,1655.2 1497.6,1652.1 1495.6,1652.1 1495.6,1652.1 1493.6,1652.1 1493.6,1653 1491.6,1653 1491.6,1652.9 1489.6,1652.9 1489.6,1652.9 1487.6,1652.9 1487.6,1655.1 1485.6,1655.1 1485.6,1655 1483.6,1655 1483.6,1655 1481.6,1655 1481.6,1655 1479.6,1655 1479.6,1654.4 1477.6,1654.4 1477.6,1654.4 1475.6,1654.4 1475.6,1654.4 1473.6,1654.4 1473.6,1654.3 1471.6,1654.3 1471.6,1654.5 1469.6,1654.5 1469.6,1654.5 1467.6,1654.5 1467.6,1654.5 1465.6,1654.5 1465.6,1654.6 1463.6,1654.6 1463.6,1654.5 1461.6,1654.5 1461.6,1654.5 1459.6,1654.5 1459.6,1651.9 1457.6,1651.9 1457.6,1651.9 1455.6,1651.9 1455.6,1654.3 1453.6,1654.3 1453.6,1654.3 1451.6,1654.3 1451.6,1654.3 1449.6,1654.3 1449.6,1654.2 1447.6,1654.2 1447.6,1654.2 1445.6,1654.2 1445.6,1654.4 1443.6,1654.4 1443.6,1654.4 1441.6,1654.4 1441.6,1654.4 1439.6,1654.4 1439.6,1654.4 1437.6,1654.4 1437.6,1650.9 1435.6,1650.9 1435.6,1650.9 1433.6,1650.9 1433.6,1651.3 1431.6,1651.3 1431.6,1651.3 1429.6,1651.3 1429.6,1651.2 1427.6,1651.2 1427.6,1651.2 1425.6,1651.2 1425.6,1651.2 1423.6,1651.2 1423.6,1654.5 1421.6,1654.5 1421.6,1654.5 1419.6,1654.5 1419.6,1654.6 1417.6,1654.6 1417.6,1654.6 1415.6,1654.6 1415.6,1651.4 1413.6,1651.4 1413.6,1651.4 1411.6,1651.4 1411.6,1654.8 1409.6,1654.8 1409.6,1654.8 1407.6,1654.8 1407.6,1654.8 1405.6,1654.8 1405.6,1654.8 1403.6,1654.8 1403.6,1652.5 1401.6,1652.5 1401.6,1652.5 1399.6,1652.5 1399.6,1652.5 1397.6,1652.5 1397.6,1652.6 1395.6,1652.6 1395.6,1654.6 1393.6,1654.6 1393.6,1654.6 1391.6,1654.6 1391.6,1654.6 1389.6,1654.6 1389.6,1651.8 1387.6,1651.8 1387.6,1651.8 1385.6,1651.8 1385.6,1651.8 1383.6,1651.8 1383.6,1651.4 1381.6,1651.4 1381.6,1651.4 1379.6,1651.4 1379.6,1651.4 1377.6,1651.4 1377.6,1653.3 1375.6,1653.3 1375.6,1653.4 1373.6,1653.4 1373.6,1653.4 1371.6,1653.4 1371.6,1653.4 1369.6,1653.4 1369.6,1652.6 1367.6,1652.6 1367.6,1652.6 1365.6,1652.6 1365.6,1652.7 1363.6,1652.7 1363.6,1652.7 1361.6,1652.7 1361.6,1652.4 1359.6,1652.4 1359.6,1652.4 1357.6,1652.4 1357.6,1655.3 1355.6,1655.3 1355.6,1655.4 1353.6,1655.4 1353.6,1655.4 1351.6,1655.4 1351.6,1655.5 1349.6,1655.5 1349.6,1653.6 1347.6,1653.6 1347.6,1653.6 1345.6,1653.6 1345.6,1655.6 1343.6,1655.6 1343.6,1655.7 1341.6,1655.7 1341.6,1655.7 1339.6,1655.7 1339.6,1655.8 1337.6,1655.8 1337.6,1652.6 1335.6,1652.6 1335.6,1652.7 1333.6,1652.7 1333.6,1652.7 1331.6,1652.7 1331.6,1655.8 1329.6,1655.8 1329.6,1655.8 1327.6,1655.8 1327.6,1655.9 1325.6,1655.9 1325.6,1653.4 1323.6,1653.4 1323.6,1653.5 1321.6,1653.5 1321.6,1653.6 1319.6,1653.6 1319.6,1656.2 1317.6,1656.2 1317.6,1656.3 1315.6,1656.3 1315.6,1655.9 1313.6,1655.9 1313.6,1655.9 1311.6,1655.9 1311.6,1656 1309.6,1656 1309.6,1653.8 1307.6,1653.8 1307.6,1653.9 1305.6,1653.9 1305.6,1654 1303.6,1654 1303.6,1654.1 1301.6,1654.1 1301.6,1656.9 1299.6,1656.9 1299.6,1657 1297.6,1657 1297.6,1657.2 1295.6,1657.2 1295.6,1654.7 1293.6,1654.7 1293.6,1654.8 1291.6,1654.8 1291.6,1654.9 1289.6,1654.9 1289.6,1655.7 1287.6,1655.7 1287.6,1655.8 1285.6,1655.8 1285.6,1656 1283.6,1656 1283.6,1658.1 1281.6,1658.1 1281.6,1658.2 1279.6,1658.2 1279.6,1658.4 1277.6,1658.4 1277.6,1658.5 1275.6,1658.5 1275.6,1655.7 1273.6,1655.7 1273.6,1655.9 1271.6,1655.9 1271.6,1659.1 1269.6,1659.1 1269.6,1659.3 1267.6,1659.3 1267.6,1657.3 1265.6,1657.3 1265.6,1657.4 1263.6,1657.4 1263.6,1657.6 1261.6,1657.6 1261.6,1659.4 1259.6,1659.4 1259.6,1659.6 1257.6,1659.6 1257.6,1659.8 1255.6,1659.8 1255.6,1660 1253.6,1660 1253.6,1660.2 1251.6,1660.2 1251.6,1660 1249.6,1660 1249.6,1660.2 1247.6,1660.2 1247.6,1660.4 1245.6,1660.4 1245.6,1660.9 1243.6,1660.9 1243.6,1661 1241.6,1661 1241.6,1661.2 1239.6,1661.2 1239.6,1657.9 1237.6,1657.9 1237.6,1658.1 1235.6,1658.1 1235.6,1658.3 1233.6,1658.3 1233.6,1658.7 1231.6,1658.7 1231.6,1658.8 1229.6,1658.8 1229.6,1660 1227.6,1660 1227.6,1660.1 1225.6,1660.1 1225.6,1660.3 1223.6,1660.3 1223.6,1660.5 1221.6,1660.5 1221.6,1662.8 1219.6,1662.8 1219.6,1662.9 1217.6,1662.9 1217.6,1663.1 1215.6,1663.1 1215.6,1663.2 1213.6,1663.2 1213.6,1663.6 1211.6,1663.6 1211.6,1663.8 1209.6,1663.8 1209.6,1663.7 1207.6,1663.7 1207.6,1663.9 1205.6,1663.9 1205.6,1664.1 1203.6,1664.1 1203.6,1664.2 1201.6,1664.2 1201.6,1661.8 1199.6,1661.8 1199.6,1662 1197.6,1662 1197.6,1662.2 1195.6,1662.2 1195.6,1662.4 1193.6,1662.4 1193.6,1663.3 1191.6,1663.3 1191.6,1663.5 1189.6,1663.5 1189.6,1665.7 1187.6,1665.7 1187.6,1665.9 1185.6,1665.9 1185.6,1666.1 1183.6,1666.1 1183.6,1666.4 1181.6,1666.4 1181.6,1666.6 1179.6,1666.6 1179.6,1666.7 1177.6,1666.7 1177.6,1666.9 1175.6,1666.9 1175.6,1667.2 1173.6,1667.2 1173.6,1667.4 1171.6,1667.4 1171.6,1667.4 1169.6,1667.4 1169.6,1667.6 1167.6,1667.6 1167.6,1667.8 1165.6,1667.8 1165.6,1668.1 1163.6,1668.1 1163.6,1668.3 1161.6,1668.3 1161.6,1668.6 1159.6,1668.6 1159.6,1668.8 1157.6,1668.8 1157.6,1669 1155.6,1669 1155.6,1669.2 1153.6,1669.2 1153.6,1669.4 1151.6,1669.4 1151.6,1669.7 1149.6,1669.7 1149.6,1669.9 1147.6,1669.9 1147.6,1667.8 1145.6,1667.8 1145.6,1668.1 1143.6,1668.1 1143.6,1668.3 1141.6,1668.3 1141.6,1668.1 1139.6,1668.1 1139.6,1668.3 1137.6,1668.3"/>
<polygon fill="#0f0" points="1729.5,1190 1731.5,1190 1731.5,1190.6 1733.5,1190.6 1733.5,1191.2 1735.5,1191.2 1735.5,1189.8 1737.5,1189.8 1737.5,1190.5 1739.5,1190.5 1739.5,1191.1 1741.5,1191.1 1741.5,1187.3 1743.5,1187.3 1743.5,1188 1745.5,1188 1745.5,1188.6 1747.5,1188.6 1747.5,1189.3 1749.5,1189.3 1749.5,1190.8 1751.5,1190.8 1751.5,1191.6 1753.5,1191.6 1753.5,1192.3 1755.5,1192.3 1755.5,1193 1757.5,1193 1757.5,1193.8 1759.5,1193.8 1759.5,1200.3 1761.5,1200.3 1761.5,1201.1 1763.5,1201.1 1763.5,1201 1765.5,1201 1765.5,1201.7 1767.5,1201.7 1767.5,1202.5 1769.5,1202.5 1769.5,1203.3 1771.5,1203.3 1771.5,1203.3 1773.5,1203.3 1773.5,1204.1 1775.5,1204.1 1775.5,1204.8 1777.5,1204.8 1777.5,1205.6 1779.5,1205.6 1779.5,1209.3 1781.5,1209.3 1781.5,1210.1 1783.5,1210.1 1783.5,1210.8 1785.5,1210.8 1785.5,1204.6 1787.5,1204.6 1787.5,1205.3 1789.5,1205.3 1789.5,1205.9 1791.5,1205.9 1791.5,1206.6 1793.5,1206.6 1793.5,1207.2 1795.5,1207.2 1795.5,1212.1 1797.5,1212.1 1797.5,1212.1 1799.5,1212.1 1799.5,1213.8 1801.5,1213.8 1801.5,1214.4 1803.5,1214.4 1803.5,1209.4 1805.5,1209.4 1805.5,1210 1807.5,1210 1807.5,1210.5 1809.5,1210.5 1809.5,1247.9 1811.5,1247.9 1811.5,1247.9 1813.5,1247.9 1813.5,1212.1 1815.5,1212.1 1815.5,1218.8 1817.5,1218.8 1817.5,1219.3 1819.5,1219.3 1819.5,1219.8 1821.5,1219.8 1821.5,1220.3 1823.5,1220.3 1823.5,1222.4 1825.5,1222.4 1825.5,1222.9 1827.5,1222.9 1827.5,1254.7 1829.5,1254.7 1829.5,1254.7 1831.5,1254.7 1831.5,1254.7 1833.5,1254.7 1833.5,1223.6 1835.5,1223.6 1835.5,1224.1 1837.5,1224.1 1837.5,1224.7 1839.5,1224.7 1839.5,1225.4 1841.5,1225.4 1841.5,1228.3 1843.5,1228.3 1843.5,1228.3 1845.5,1228.3 1845.5,1220.6 1847.5,1220.6 1847.5,1221.4 1849.5,1221.4 1849.5,1229.1 1851.5,1229.1 1851.5,1229.9 1853.5,1229.9 1853.5,1696.9 1851.5,1696.9 1851.5,1691.9 1849.5,1691.9 1849.5,1691.3 1847.5,1691.3 1847.5,1690.8 1845.5,1690.8 1845.5,1688.7 1843.5,1688.7 1843.5,1688.3 1841.5,1688.3 1841.5,1687.8 1839.5,1687.8 1839.5,1661.6 1837.5,1661.6 1837.5,1661.6 1835.5,1661.6 1835.5,1686 1833.5,1686 1833.5,1685.6 1831.5,1685.6 1831.5,1690.7 1829.5,1690.7 1829.5,1690.4 1827.5,1690.4 1827.5,1690 1825.5,1690 1825.5,1685.5 1823.5,1685.5 1823.5,1685.2 1821.5,1685.2 1821.5,1684.9 1819.5,1684.9 1819.5,1682.5 1817.5,1682.5 1817.5,1682.2 1815.5,1682.2 1815.5,1681.9 1813.5,1681.9 1813.5,1688.2 1811.5,1688.2 1811.5,1687.9 1809.5,1687.9 1809.5,1687.6 1807.5,1687.6 1807.5,1683.7 1805.5,1683.7 1805.5,1666.5 1803.5,1666.5 1803.5,1687.6 1801.5,1687.6 1801.5,1687.2 1799.5,1687.2 1799.5,1678.9 1797.5,1678.9 1797.5,1678.5 1795.5,1678.5 1795.5,1685.1 1793.5,1685.1 1793.5,1684.7 1791.5,1684.7 1791.5,1684.3 1789.5,1684.3 1789.5,1684.9 1787.5,1684.9 1787.5,1684.5 1785.5,1684.5 1785.5,1684.1 1783.5,1684.1 1783.5,1683.7 1781.5,1683.7 1781.5,1683.2 1779.5,1683.2 1779.5,1682.7 1777.5,1682.7 1777.5,1682.2 1775.5,1682.2 1775.5,1681.8 1773.5,1681.8 1773.5,1681.6 1771.5,1681.6 1771.5,1681.1 1769.5,1681.1 1769.5,1680.6 1767.5,1680.6 1767.5,1679 1765.5,1679 1765.5,1678.6 1763.5,1678.6 1763.5,1678.2 1761.5,1678.2 1761.5,1672.6 1759.5,1672.6 1759.5,1672.2 1757.5,1672.2 1757.5,1671.8 1755.5,1671.8 1755.5,1676.4 1753.5,1676.4 1753.5,1661.6 1751.5,1661.6 1751.5,1676.3 1749.5,1676.3 1749.5,1675.9 1747.5,1675.9 1747.5,1675.5 1745.5,1675.5 1745.5,1675.6 1743.5,1675.6 1743.5,1675.3 1741.5,1675.3 1741.5,1674.9 1739.5,1674.9 1739.5,1674.7 1737.5,1674.7 1737.5,1674.4 1735.5,1674.4 1735.5,1674.1 1733.5,1674.1 1733.5,1673.8 1731.5,1673.8 1731.5,1673.5 1729.5,1673.5"/>
<polygon fill="#0f0" points="1854.5,1224.2 1856.5,1224.2 1856.5,1225 1858.5,1225 1858.5,1697.5 1856.5,1697.5 1856.5,1696.9 1854.5,1696.9"/>
<polygon fill="#0f0" points="1858.3,1263.6 1860.3,1263.6 1860.3,1264.1 1862.3,1264.1 1862.3,1264.6 1864.3,1264.6 1864.3,1265.1 1866.3,1265.1 1866.3,1265.6 1868.3,1265.6 1868.3,1266.1 1870.3,1266.1 1870.3,1266.6 1872.3,1266.6 1872.3,1267.1 1874.3,1267.1 1874.3,1267.6 1876.3,1267.6 1876.3,1268.1 1878.3,1268.1 1878.3,1268.7 1880.3,1268.7 1880.3,1269.2 1882.3,1269.2 1882.3,1269.7 1884.3,1269.7 1884.3,1704.5 1882.3,1704.5 1882.3,1706 1880.3,1706 1880.3,1705.3 1878.3,1705.3 1878.3,1704.6 1876.3,1704.6 1876.3,1703.9 1874.3,1703.9 1874.3,1698.3 1872.3,1698.3 1872.3,1697.5 1870.3,1697.5 1870.3,1698.8 1868.3,1698.8 1868.3,1698.1 1866.3,1698.1 1866.3,1697.4 1864.3,1697.4 1864.3,1700.4 1862.3,1700.4 1862.3,1699.7 1860.3,1699.7 1860.3,1699 1858.3,1699"/>
<polygon fill="#0f0" points="1883.2,1245 1885.2,1245 1885.2,1245.7 1887.2,1245.7 1887.2,1246.5 1889.2,1246.5 1889.2,1245.2 1891.2,1245.2 1891.2,1245.8 1893.2,1245.8 1893.2,1240.6 1895.2,1240.6 1895.2,1241.2 1897.2,1241.2 1897.2,1241.9 1899.2,1241.9 1899.2,1242.5 1901.2,1242.5 1901.2,1243.4 1903.2,1243.4 1903.2,1244 1905.2,1244 1905.2,1244.6 1907.2,1244.6 1907.2,1246 1909.2,1246 1909.2,1246.6 1911.2,1246.6 1911.2,1247.2 1913.2,1247.2 1913.2,1246.9 1915.2,1246.9 1915.2,1247.5 1917.2,1247.5 1917.2,1248.1 1919.2,1248.1 1919.2,1253.5 1921.2,1253.5 1921.2,1254.1 1923.2,1254.1 1923.2,1254.7 1925.2,1254.7 1925.2,1255.2 1927.2,1255.2 1927.2,1258.4 1929.2,1258.4 1929.2,1259 1931.2,1259 1931.2,1259.6 1933.2,1259.6 1933.2,1260.2 1935.2,1260.2 1935.2,1254.4 1937.2,1254.4 1937.2,1255 1939.2,1255 1939.2,1262.1 1941.2,1262.1 1941.2,1262.7 1943.2,1262.7 1943.2,1263.3 1945.2,1263.3 1945.2,1264 1947.2,1264 1947.2,1264.4 1949.2,1264.4 1949.2,1265.1 1951.2,1265.1 1951.2,1265.8 1953.2,1265.8 1953.2,1265.6 1955.2,1265.6 1955.2,1266.3 1957.2,1266.3 1957.2,1267 1959.2,1267 1959.2,1267.6 1961.2,1267.6 1961.2,1262.3 1963.2,1262.3 1963.2,1263 1965.2,1263 1965.2,1263 1967.2,1263 1967.2,1263.7 1969.2,1263.7 1969.2,1264.4 1971.2,1264.4 1971.2,1270.7 1973.2,1270.7 1973.2,1271.5 1975.2,1271.5 1975.2,1272.2 1977.2,1272.2 1977.2,1272.1 1979.2,1272.1 1979.2,1272.9 1981.2,1272.9 1981.2,1274.8 1983.2,1274.8 1983.2,1275.5 1985.2,1275.5 1985.2,1276.3 1987.2,1276.3 1987.2,1272.5 1989.2,1272.5 1989.2,1273.2 1991.2,1273.2 1991.2,1274 1993.2,1274 1993.2,1274.8 1995.2,1274.8 1995.2,1280.4 1997.2,1280.4 1997.2,1281.2 1999.2,1281.2 1999.2,1279.7 2001.2,1279.7 2001.2,1280.5 2003.2,1280.5 2003.2,1281.2 2005.2,1281.2 2005.2,1282 2007.2,1282 2007.2,1282.7 2009.2,1282.7 2009.2,1279.4 2011.2,1279.4 2011.2,1280.1 2013.2,1280.1 2013.2,1282 2015.2,1282 2015.2,1282.8 2017.2,1282.8 2017.2,1283.7 2019.2,1283.7 2019.2,1284.5 2021.2,1284.5 2021.2,1290.5 2023.2,1290.5 2023.2,1291.2 2025.2,1291.2 2025.2,1290.5 2027.2,1290.5 2027.2,1291.2 2029.2,1291.2 2029.2,1291.9 2031.2,1291.9 2031.2,1294.4 2033.2,1294.4 2033.2,1295 2035.2,1295 2035.2,1295.7 2037.2,1295.7 2037.2,1297.7 2039.2,1297.7 2039.2,1298.4 2041.2,1298.4 2041.2,1296 2043.2,1296 2043.2,1296.6 2045.2,1296.6 2045.2,1292.5 2047.2,1292.5 2047.2,1293.1 2049.2,1293.1 2049.2,1300 2051.2,1300 2051.2,1300.6 2053.2,1300.6 2053.2,1301.1 2055.2,1301.1 2055.2,1301.7 2057.2,1301.7 2057.2,1295.7 2059.2,1295.7 2059.2,1296.2 2061.2,1296.2 2061.2,1296.8 2063.2,1296.8 2063.2,1305.1 2065.2,1305.1 2065.2,1305.6 2067.2,1305.6 2067.2,1306.1 2069.2,1306.1 2069.2,1298.7 2071.2,1298.7 2071.2,1299.3 2073.2,1299.3 2073.2,1299.8 2075.2,1299.8 2075.2,1300.3 2077.2,1300.3 2077.2,1305 2079.2,1305 2079.2,1305.5 2081.2,1305.5 2081.2,1306 2083.2,1306 2083.2,1306.5 2085.2,1306.5 2085.2,1307.3 2087.2,1307.3 2087.2,1307.7 2089.2,1307.7 2089.2,1308.8 2091.2,1308.8 2091.2,1309.3 2093.2,1309.3 2093.2,1312.3 2095.2,1312.3 2095.2,1312.8 2097.2,1312.8 2097.2,1310.2 2099.2,1310.2 2099.2,1310.6 2101.2,1310.6 2101.2,1311.1 2103.2,1311.1 2103.2,1311.6 2105.2,1311.6 2105.2,1311.4 2107.2,1311.4 2107.2,1311.9 2109.2,1311.9 2109.2,1308.4 2111.2,1308.4 2111.2,1308.9 2113.2,1308.9 2113.2,1309.3 2115.2,1309.3 2115.2,1309.8 2117.2,1309.8 2117.2,1310.7 2119.2,1310.7 2119.2,1311.2 2121.2,1311.2 2121.2,1311.6 2123.2,1311.6 2123.2,1312 2125.2,1312 2125.2,1318.2 2127.2,1318.2 2127.2,1318.7 2129.2,1318.7 2129.2,1312.5 2131.2,1312.5 2131.2,1312.9 2133.2,1312.9 2133.2,1320.1 2135.2,1320.1 2135.2,1320.5 2137.2,1320.5 2137.2,1320.9 2139.2,1320.9 2139.2,1316.1 2141.2,1316.1 2141.2,1316.5 2143.2,1316.5 2143.2,1316.9 2145.2,1316.9 2145.2,1323.7 2147.2,1323.7 2147.2,1324.1 2149.2,1324.1 2149.2,1317 2151.2,1317 2151.2,1317.4 2153.2,1317.4 2153.2,1317.8 2155.2,1317.8 2155.2,1322.3 2157.2,1322.3 2157.2,1322.7 2159.2,1322.7 2159.2,1327.6 2161.2,1327.6 2161.2,1328 2163.2,1328 2163.2,1320.5 2165.2,1320.5 2165.2,1320.9 2167.2,1320.9 2167.2,1321.3 2169.2,1321.3 2169.2,1329.2 2171.2,1329.2 2171.2,1329.6 2173.2,1329.6 2173.2,1330 2175.2,1330 2175.2,1330.4 2177.2,1330.4 2177.2,1323.1 2179.2,1323.1 2179.2,1323.5 2181.2,1323.5 2181.2,1323.9 2183.2,1323.9 2183.2,1329.2 2185.2,1329.2 2185.2,1329.6 2187.2,1329.6 2187.2,1330 2189.2,1330 2189.2,1330.4 2191.2,1330.4 2191.2,1329.6 2193.2,1329.6 2193.2,1330 2195.2,1330 2195.2,1332.7 2197.2,1332.7 2197.2,1333.1 2199.2,1333.1 2199.2,1333.5 2201.2,1333.5 2201.2,1333.9 2203.2,1333.9 2203.2,1334.3 2205.2,1334.3 2205.2,1334.7 2207.2,1334.7 2207.2,1337.1 2209.2,1337.1 2209.2,1337.5 2211.2,1337.5 2211.2,1337.9 2213.2,1337.9 2213.2,1334.7 2215.2,1334.7 2215.2,1335.1 2217.2,1335.1 2217.2,1335.5 2219.2,1335.5 2219.2,1338.9 2221.2,1338.9 2221.2,1339.3 2223.2,1339.3 2223.2,1339.6 2225.2,1339.6 2225.2,1337.2 2227.2,1337.2 2227.2,1337.6 2229.2,1337.6 2229.2,1337.9 2231.2,1337.9 2231.2,1338.3 2233.2,1338.3 2233.2,1334.5 2235.2,1334.5 2235.2,1334.8 2237.2,1334.8 2237.2,1335.2 2239.2,1335.2 2239.2,1335.5 2241.2,1335.5 2241.2,1341.1 2243.2,1341.1 2243.2,1341.5 2245.2,1341.5 2245.2,1341.8 2247.2,1341.8 2247.2,1342.2 2249.2,1342.2 2249.2,1336.2 2251.2,1336.2 2251.2,1336.5 2253.2,1336.5 2253.2,1336.9 2255.2,1336.9 2255.2,1338 2257.2,1338 2257.2,1338.3 2259.2,1338.3 2259.2,1338.6 2261.2,1338.6 2261.2,1343.2 2263.2,1343.2 2263.2,1847.2 2261.2,1847.2 2261.2,1849.7 2259.2,1849.7 2259.2,1849 2257.2,1849 2257.2,1848.3 2255.2,1848.3 2255.2,1847.6 2253.2,1847.6 2253.2,1846.9 2251.2,1846.9 2251.2,1852.5 2249.2,1852.5 2249.2,1851.8 2247.2,1851.8 2247.2,1851.1 2245.2,1851.1 2245.2,1850.3 2243.2,1850.3 2243.2,1850.6 2241.2,1850.6 2241.2,1849.8 2239.2,1849.8 2239.2,1849.1 2237.2,1849.1 2237.2,1842.7 2235.2,1842.7 2235.2,1841.9 2233.2,1841.9 2233.2,1847 2231.2,1847 2231.2,1846.3 2229.2,1846.3 2229.2,1845.5 2227.2,1845.5 2227.2,1844.8 2225.2,1844.8 2225.2,1844 2223.2,1844 2223.2,1843.2 2221.2,1843.2 2221.2,1842.5 2219.2,1842.5 2219.2,1835.8 2217.2,1835.8 2217.2,1835 2215.2,1835 2215.2,1832.5 2213.2,1832.5 2213.2,1831.7 2211.2,1831.7 2211.2,1830.9 2209.2,1830.9 2209.2,1837.3 2207.2,1837.3 2207.2,1836.5 2205.2,1836.5 2205.2,1831.4 2203.2,1831.4 2203.2,1830.6 2201.2,1830.6 2201.2,1833.6 2199.2,1833.6 2199.2,1832.8 2197.2,1832.8 2197.2,1832 2195.2,1832 2195.2,1831.5 2193.2,1831.5 2193.2,1830.6 2191.2,1830.6 2191.2,1829.8 2189.2,1829.8 2189.2,1829 2187.2,1829 2187.2,1819.9 2185.2,1819.9 2185.2,1819.1 2183.2,1819.1 2183.2,1818.3 2181.2,1818.3 2181.2,1817.5 2179.2,1817.5 2179.2,1820.3 2177.2,1820.3 2177.2,1819.5 2175.2,1819.5 2175.2,1818.6 2173.2,1818.6 2173.2,1817.8 2171.2,1817.8 2171.2,1812.2 2169.2,1812.2 2169.2,1811.4 2167.2,1811.4 2167.2,1810.5 2165.2,1810.5 2165.2,1813.9 2163.2,1813.9 2163.2,1813.1 2161.2,1813.1 2161.2,1812.2 2159.2,1812.2 2159.2,1811.4 2157.2,1811.4 2157.2,1810.7 2155.2,1810.7 2155.2,1809.9 2153.2,1809.9 2153.2,1808.8 2151.2,1808.8 2151.2,1807.9 2149.2,1807.9 2149.2,1807 2147.2,1807 2147.2,1807.3 2145.2,1807.3 2145.2,1806.4 2143.2,1806.4 2143.2,1805.5 2141.2,1805.5 2141.2,1804.6 2139.2,1804.6 2139.2,1808.6 2137.2,1808.6 2137.2,1807.6 2135.2,1807.6 2135.2,1806.7 2133.2,1806.7 2133.2,1805.7 2131.2,1805.7 2131.2,1799.2 2129.2,1799.2 2129.2,1798.2 2127.2,1798.2 2127.2,1797.2 2125.2,1797.2 2125.2,1800.7 2123.2,1800.7 2123.2,1799.7 2121.2,1799.7 2121.2,1791 2119.2,1791 2119.2,1790 2117.2,1790 2117.2,1789 2115.2,1789 2115.2,1788 2113.2,1788 2113.2,1796 2111.2,1796 2111.2,1795 2109.2,1795 2109.2,1792.8 2107.2,1792.8 2107.2,1791.8 2105.2,1791.8 2105.2,1790.8 2103.2,1790.8 2103.2,1789.8 2101.2,1789.8 2101.2,1779.7 2099.2,1779.7 2099.2,1778.7 2097.2,1778.7 2097.2,1777.7 2095.2,1777.7 2095.2,1776.7 2093.2,1776.7 2093.2,1779.7 2091.2,1779.7 2091.2,1778.7 2089.2,1778.7 2089.2,1784.6 2087.2,1784.6 2087.2,1783.7 2085.2,1783.7 2085.2,1782.7 2083.2,1782.7 2083.2,1781.2 2081.2,1781.2 2081.2,1780.2 2079.2,1780.2 2079.2,1779.3 2077.2,1779.3 2077.2,1777.3 2075.2,1777.3 2075.2,1776.4 2073.2,1776.4 2073.2,1775.5 2071.2,1775.5 2071.2,1776 2069.2,1776 2069.2,1775 2067.2,1775 2067.2,1774.1 2065.2,1774.1 2065.2,1773.2 2063.2,1773.2 2063.2,1772 2061.2,1772 2061.2,1771.1 2059.2,1771.1 2059.2,1770.6 2057.2,1770.6 2057.2,1769.7 2055.2,1769.7 2055.2,1768.9 2053.2,1768.9 2053.2,1766.5 2051.2,1766.5 2051.2,1765.7 2049.2,1765.7 2049.2,1764.9 2047.2,1764.9 2047.2,1763.7 2045.2,1763.7 2045.2,1762.9 2043.2,1762.9 2043.2,1762.1 2041.2,1762.1 2041.2,1761.3 2039.2,1761.3 2039.2,1761.9 2037.2,1761.9 2037.2,1761.1 2035.2,1761.1 2035.2,1752.4 2033.2,1752.4 2033.2,1751.6 2031.2,1751.6 2031.2,1750.8 2029.2,1750.8 2029.2,1749.7 2027.2,1749.7 2027.2,1748.9 2025.2,1748.9 2025.2,1748.1 2023.2,1748.1 2023.2,1754.4 2021.2,1754.4 2021.2,1753.7 2019.2,1753.7 2019.2,1752.9 2017.2,1752.9 2017.2,1752.1 2015.2,1752.1 2015.2,1743.7 2013.2,1743.7 2013.2,1742.9 2011.2,1742.9 2011.2,1742.2 2009.2,1742.2 2009.2,1741.5 2007.2,1741.5 2007.2,1749.4 2005.2,1749.4 2005.2,1748.7 2003.2,1748.7 2003.2,1748.1 2001.2,1748.1 2001.2,1747.3 1999.2,1747.3 1999.2,1746.6 1997.2,1746.6 1997.2,1745.9 1995.2,1745.9 1995.2,1745.8 1993.2,1745.8 1993.2,1745.1 1991.2,1745.1 1991.2,1744.4 1989.2,1744.4 1989.2,1742 1987.2,1742 1987.2,1741.3 1985.2,1741.3 1985.2,1740.6 1983.2,1740.6 1983.2,1739.9 1981.2,1739.9 1981.2,1739.1 1979.2,1739.1 1979.2,1738.3 1977.2,1738.3 1977.2,1737.6 1975.2,1737.6 1975.2,1737.6 1973.2,1737.6 1973.2,1736.8 1971.2,1736.8 1971.2,1736.1 1969.2,1736.1 1969.2,1735.4 1967.2,1735.4 1967.2,1726.2 1965.2,1726.2 1965.2,1725.5 1963.2,1725.5 1963.2,1724.8 1961.2,1724.8 1961.2,1732.9 1959.2,1732.9 1959.2,1732.2 1957.2,1732.2 1957.2,1730.4 1955.2,1730.4 1955.2,1729.7 1953.2,1729.7 1953.2,1729 1951.2,1729 1951.2,1729 1949.2,1729 1949.2,1728.3 1947.2,1728.3 1947.2,1727.6 1945.2,1727.6 1945.2,1726.5 1943.2,1726.5 1943.2,1725.8 1941.2,1725.8 1941.2,1725.8 1939.2,1725.8 1939.2,1725.1 1937.2,1725.1 1937.2,1724.4 1935.2,1724.4 1935.2,1723.9 1933.2,1723.9 1933.2,1723.2 1931.2,1723.2 1931.2,1722.5 1929.2,1722.5 1929.2,1711.6 1927.2,1711.6 1927.2,1711 1925.2,1711 1925.2,1719.7 1923.2,1719.7 1923.2,1719.1 1921.2,1719.1 1921.2,1718.4 1919.2,1718.4 1919.2,1718.5 1917.2,1718.5 1917.2,1717.8 1915.2,1717.8 1915.2,1717.1 1913.2,1717.1 1913.2,1716.5 1911.2,1716.5 1911.2,1705.7 1909.2,1705.7 1909.2,1705 1907.2,1705 1907.2,1705.3 1905.2,1705.3 1905.2,1704.6 1903.2,1704.6 1903.2,1703.9 1901.2,1703.9 1901.2,1712.6 1899.2,1712.6 1899.2,1711.9 1897.2,1711.9 1897.2,1711.3 1895.2,1711.3 1895.2,1710.4 1893.2,1710.4 1893.2,1709.7 1891.2,1709.7 1891.2,1709 1889.2,1709 1889.2,1708.4 1887.2,1708.4 1887.2,1707.6 1885.2,1707.6 1885.2,1706.9 1883.2,1706.9"/>
<path d="M1734.7 1219h4.5v7h-4.5z M1752.4 1221.4h3v7h-3z M1811.5 1235.2h6v9h-6z M1773.1 1652.8h5v14h-5z M1826.1 1656.2h8v19h-8z M1118.9 1206.8h3v3h-3z M288.8 1883.9h2.5v3h-2.5z M343.3 1880.4h4v7.5h-4z M1387.9 1143.1h2.2v37h-2.2z M1387.9 1617.5h2.5v17h-2.5z" fill="#fff"/>
<path d="M182.3 1298.8 L191.2 1352.7 L197.3 1401.1 L201 1447.2 L206.2 1495.1" stroke="#00f" stroke-width="6.3" stroke-dasharray="25 7 11.5 7" fill="none"/>
<polygon fill="#00f" points="207.2,1496.6 213.2,1502.9 219.2,1508.4 225.2,1511.2 231.2,1512.7 237.2,1514.1 243.2,1515.3 249.2,1516.3 255.2,1517.2 261.2,1517.9 267.2,1518.5 273.2,1519 279.2,1519.4 285.2,1519.6 291.2,1519.7 297.2,1519.9 303.2,1520 309.2,1520.2 315.2,1520.3 321.2,1520.4 327.2,1520.5 333.2,1520.6 339.2,1520.7 345.2,1520.8 351.2,1520.9 357.2,1520.9 363.2,1521 369.2,1521 375.2,1521 381.2,1521.1 387.2,1521.1 393.2,1521.1 399.2,1521 405.2,1520.9 411.2,1520.7 417.2,1520.4 423.2,1520.1 429.2,1519.8 435.2,1519.4 441.2,1519 447.2,1518.5 453.2,1518 459.2,1517.5 465.2,1517 471.2,1516.4 477.2,1515.8 483.2,1515.3 489.2,1514.7 495.2,1514.1 501.2,1513.4 507.2,1512.7 513.2,1511.9 519.2,1511 525.2,1510 531.2,1508.9 537.2,1507.8 543.2,1506.7 549.2,1505.5 555.2,1504.3 561.2,1503 567.2,1501.7 573.2,1500.4 579.2,1499.1 585.2,1497.8 591.2,1496.5 597.2,1495.2 603.2,1493.9 609.2,1492.6 615.2,1491.3 621.2,1489.9 627.2,1488.5 633.2,1487.1 639.2,1485.7 645.2,1484.2 651.2,1482.7 657.2,1481.2 663.2,1479.6 669.2,1478 675.2,1476.4 681.2,1474.7 687.2,1473 693.2,1471.2 699.2,1469.4 705.2,1467.5 711.2,1465.6 717.2,1463.5 723.2,1461.4 729.2,1459.2 735.2,1456.9 741.2,1454.6 747.2,1452.2 753.2,1449.8 759.2,1447.3 765.2,1444.8 771.2,1442.4 777.2,1439.9 783.2,1437.4 789.2,1435 795.2,1432.5 801.2,1430.2 807.2,1427.8 813.2,1425.5 819.2,1423.1 825.2,1420.7 831.2,1418.3 837.2,1415.8 843.2,1413.4 849.2,1411 855.2,1408.6 861.2,1406.2 867.2,1403.8 873.2,1401.4 879.2,1399.1 885.2,1396.7 891.2,1394.5 897.2,1392.2 903.2,1390 909.2,1387.9 915.2,1385.8 921.2,1383.7 927.2,1381.6 933.2,1379.6 939.2,1377.5 945.2,1375.5 951.2,1373.6 957.2,1371.6 963.2,1369.7 969.2,1367.7 975.2,1365.8 981.2,1364 987.2,1362.2 993.2,1360.4 999.2,1358.6 1005.2,1356.8 1011.2,1355.1 1017.2,1353.4 1023.2,1351.8 1029.2,1350.1 1035.2,1348.4 1041.2,1346.8 1047.2,1345.1 1053.2,1343.5 1059.2,1341.9 1065.2,1340.4 1071.2,1338.8 1077.2,1337.3 1083.2,1335.9 1089.2,1334.5 1095.2,1333.1 1101.2,1331.8 1107.2,1330.6 1113.2,1329.4 1119.2,1328.2 1125.2,1327.1 1131.2,1326.1 1137.2,1325.1 1143.2,1324.1 1149.2,1323.1 1155.2,1322.2 1161.2,1321.3 1167.2,1320.4 1173.2,1319.5 1179.2,1318.7 1185.2,1317.8 1191.2,1317 1197.2,1316.2 1203.2,1315.4 1209.2,1314.5 1215.2,1313.7 1221.2,1312.9 1227.2,1312.1 1233.2,1311.3 1239.2,1310.4 1245.2,1309.5 1251.2,1308.7 1257.2,1307.8 1263.2,1307 1269.2,1306.2 1275.2,1305.4 1281.2,1304.6 1287.2,1303.8 1293.2,1303.1 1299.2,1302.5 1305.2,1301.8 1311.2,1301.3 1317.2,1300.8 1323.2,1300.4 1329.2,1300 1335.2,1299.6 1341.2,1299.2 1347.2,1298.9 1353.2,1298.5 1359.2,1298.2 1365.2,1297.8 1371.2,1297.5 1377.2,1297.2 1383.2,1296.9 1389.2,1296.7 1395.2,1296.5 1401.2,1296.3 1407.2,1296.1 1413.2,1296 1419.2,1295.9 1425.2,1295.9 1431.2,1295.9 1437.2,1295.9 1443.2,1296 1449.2,1296.1 1455.2,1296.3 1461.2,1296.4 1467.2,1296.7 1473.2,1296.9 1479.2,1297.2 1485.2,1297.5 1491.2,1297.8 1497.2,1298.1 1503.2,1298.5 1509.2,1298.8 1515.2,1299.2 1521.2,1299.6 1527.2,1299.9 1533.2,1300.3 1539.2,1300.8 1545.2,1301.3 1551.2,1301.9 1557.2,1302.6 1563.2,1303.3 1569.2,1304.1 1575.2,1304.9 1581.2,1305.8 1587.2,1306.7 1593.2,1307.6 1599.2,1308.6 1605.2,1309.5 1611.2,1310.5 1617.2,1311.5 1623.2,1312.5 1629.2,1313.4 1635.2,1314.3 1641.2,1315.3 1647.2,1316.2 1653.2,1317.1 1659.2,1318.1 1665.2,1319.1 1671.2,1320 1677.2,1321 1683.2,1322 1689.2,1323.1 1695.2,1324.1 1701.2,1325.2 1707.2,1326.3 1713.2,1327.4 1719.2,1328.5 1725.2,1329.7 1731.2,1330.8 1737.2,1332 1743.2,1333.3 1749.2,1334.5 1755.2,1335.8 1761.2,1337.2 1767.2,1338.6 1773.2,1340 1779.2,1341.4 1785.2,1342.9 1791.2,1344.4 1797.2,1345.9 1803.2,1347.4 1809.2,1349 1815.2,1350.6 1821.2,1352.2 1827.2,1353.9 1833.2,1355.6 1839.2,1357.2 1845.2,1359 1851.2,1360.7 1857.2,1362.5 1863.2,1364.4 1869.2,1366.3 1875.2,1368.2 1881.2,1370.2 1887.2,1372.2 1893.2,1374.2 1899.2,1376.3 1905.2,1378.4 1911.2,1380.4 1917.2,1382.6 1923.2,1384.7 1929.2,1386.8 1935.2,1388.9 1941.2,1391 1947.2,1393.2 1953.2,1395.3 1959.2,1397.5 1965.2,1399.7 1971.2,1401.9 1977.2,1404.2 1983.2,1406.4 1989.2,1408.7 1995.2,1411 2001.2,1413.3 2007.2,1415.6 2013.2,1417.9 2019.2,1420.1 2025.2,1422.4 2031.2,1424.6 2037.2,1426.9 2043.2,1429 2049.2,1431.2 2055.2,1433.3 2061.2,1435.4 2067.2,1437.5 2073.2,1439.6 2079.2,1441.7 2085.2,1443.8 2091.2,1445.8 2097.2,1447.8 2103.2,1449.9 2109.2,1451.9 2115.2,1453.9 2121.2,1455.9 2127.2,1457.8 2133.2,1459.8 2139.2,1461.7 2145.2,1463.6 2151.2,1465.5 2157.2,1467.3 2163.2,1469.2 2169.2,1471 2175.2,1472.8 2181.2,1474.6 2187.2,1476.4 2193.2,1478.2 2199.2,1480 2205.2,1481.7 2211.2,1483.4 2217.2,1485.1 2223.2,1486.8 2229.2,1488.5 2235.2,1490.2 2241.2,1491.8 2247.2,1493.4 2253.2,1495 2259.2,1496.6 2262.3,1496.6 2262.3,1698.3 2259.2,1698.3 2253.2,1696.6 2247.2,1694.9 2241.2,1693.2 2235.2,1691.5 2229.2,1689.7 2223.2,1687.9 2217.2,1686.1 2211.2,1684.3 2205.2,1682.5 2199.2,1680.7 2193.2,1678.9 2187.2,1677 2181.2,1675.2 2175.2,1673.3 2169.2,1671.4 2163.2,1669.5 2157.2,1667.6 2151.2,1665.7 2145.2,1663.8 2139.2,1661.8 2133.2,1659.8 2127.2,1657.8 2121.2,1655.9 2115.2,1653.8 2109.2,1651.8 2103.2,1649.8 2097.2,1647.7 2091.2,1645.7 2085.2,1643.6 2079.2,1641.5 2073.2,1639.4 2067.2,1637.3 2061.2,1635.2 2055.2,1633.1 2049.2,1630.9 2043.2,1628.8 2037.2,1626.6 2031.2,1624.3 2025.2,1622.1 2019.2,1619.8 2013.2,1617.5 2007.2,1615.2 2001.2,1612.9 1995.2,1610.6 1989.2,1608.3 1983.2,1606 1977.2,1603.8 1971.2,1601.5 1965.2,1599.3 1959.2,1597.2 1953.2,1595 1947.2,1592.9 1941.2,1590.9 1935.2,1588.8 1929.2,1586.8 1923.2,1584.8 1917.2,1582.7 1911.2,1580.7 1905.2,1578.8 1899.2,1576.8 1893.2,1574.9 1887.2,1572.9 1881.2,1571.1 1875.2,1569.2 1869.2,1567.3 1863.2,1565.5 1857.2,1563.7 1851.2,1561.9 1845.2,1560.2 1839.2,1558.5 1833.2,1556.7 1827.2,1555 1821.2,1553.3 1815.2,1551.6 1809.2,1549.9 1803.2,1548.2 1797.2,1546.6 1791.2,1545 1785.2,1543.4 1779.2,1541.8 1773.2,1540.3 1767.2,1538.9 1761.2,1537.4 1755.2,1536.1 1749.2,1534.8 1743.2,1533.5 1737.2,1532.3 1731.2,1531.2 1725.2,1530 1719.2,1529 1713.2,1527.9 1707.2,1526.9 1701.2,1525.9 1695.2,1525 1689.2,1524 1683.2,1523.1 1677.2,1522.2 1671.2,1521.3 1665.2,1520.4 1659.2,1519.5 1653.2,1518.7 1647.2,1517.8 1641.2,1516.9 1635.2,1516.1 1629.2,1515.2 1623.2,1514.3 1617.2,1513.3 1611.2,1512.4 1605.2,1511.4 1599.2,1510.5 1593.2,1509.6 1587.2,1508.7 1581.2,1507.8 1575.2,1506.9 1569.2,1506.1 1563.2,1505.4 1557.2,1504.7 1551.2,1504 1545.2,1503.4 1539.2,1502.9 1533.2,1502.5 1527.2,1502.2 1521.2,1501.8 1515.2,1501.5 1509.2,1501.2 1503.2,1500.8 1497.2,1500.5 1491.2,1500.2 1485.2,1500 1479.2,1499.7 1473.2,1499.5 1467.2,1499.3 1461.2,1499.1 1455.2,1498.9 1449.2,1498.8 1443.2,1498.7 1437.2,1498.6 1431.2,1498.6 1425.2,1498.6 1419.2,1498.6 1413.2,1498.7 1407.2,1498.8 1401.2,1498.9 1395.2,1499 1389.2,1499.2 1383.2,1499.4 1377.2,1499.6 1371.2,1499.8 1365.2,1500 1359.2,1500.3 1353.2,1500.6 1347.2,1500.9 1341.2,1501.1 1335.2,1501.4 1329.2,1501.7 1323.2,1502.1 1317.2,1502.4 1311.2,1502.9 1305.2,1503.4 1299.2,1503.9 1293.2,1504.6 1287.2,1505.2 1281.2,1506 1275.2,1506.7 1269.2,1507.5 1263.2,1508.3 1257.2,1509.1 1251.2,1510 1245.2,1510.8 1239.2,1511.7 1233.2,1512.5 1227.2,1513.3 1221.2,1514.2 1215.2,1515 1209.2,1515.7 1203.2,1516.5 1197.2,1517.3 1191.2,1518.2 1185.2,1519 1179.2,1519.8 1173.2,1520.7 1167.2,1521.5 1161.2,1522.4 1155.2,1523.4 1149.2,1524.3 1143.2,1525.3 1137.2,1526.3 1131.2,1527.3 1125.2,1528.3 1119.2,1529.4 1113.2,1530.6 1107.2,1531.8 1101.2,1533.1 1095.2,1534.4 1089.2,1535.8 1083.2,1537.2 1077.2,1538.7 1071.2,1540.2 1065.2,1541.7 1059.2,1543.3 1053.2,1544.9 1047.2,1546.6 1041.2,1548.2 1035.2,1549.9 1029.2,1551.6 1023.2,1553.4 1017.2,1555.1 1011.2,1556.9 1005.2,1558.6 999.2,1560.5 993.2,1562.4 987.2,1564.3 981.2,1566.2 975.2,1568.2 969.2,1570.3 963.2,1572.3 957.2,1574.4 951.2,1576.5 945.2,1578.6 939.2,1580.8 933.2,1582.9 927.2,1585.1 921.2,1587.2 915.2,1589.4 909.2,1591.6 903.2,1593.8 897.2,1596 891.2,1598.2 885.2,1600.5 879.2,1602.8 873.2,1605.1 867.2,1607.5 861.2,1609.8 855.2,1612.2 849.2,1614.5 843.2,1616.9 837.2,1619.3 831.2,1621.6 825.2,1624 819.2,1626.3 813.2,1628.7 807.2,1631 801.2,1633.3 795.2,1635.7 789.2,1638.1 783.2,1640.5 777.2,1642.9 771.2,1645.3 765.2,1647.8 759.2,1650.2 753.2,1652.6 747.2,1655 741.2,1657.3 735.2,1659.6 729.2,1661.9 723.2,1664.1 717.2,1666.2 711.2,1668.3 705.2,1670.2 699.2,1672.1 693.2,1673.9 687.2,1675.7 681.2,1677.5 675.2,1679.2 669.2,1680.9 663.2,1682.6 657.2,1684.2 651.2,1685.8 645.2,1687.3 639.2,1688.8 633.2,1690.3 627.2,1691.8 621.2,1693.2 615.2,1694.5 609.2,1695.9 603.2,1697.2 597.2,1698.4 591.2,1699.6 585.2,1700.9 579.2,1702.1 573.2,1703.3 567.2,1704.4 561.2,1705.6 555.2,1706.7 549.2,1707.8 543.2,1708.9 537.2,1709.9 531.2,1710.9 525.2,1711.8 519.2,1712.7 513.2,1713.6 507.2,1714.4 501.2,1715.1 495.2,1715.8 489.2,1716.4 483.2,1717.1 477.2,1717.7 471.2,1718.3 465.2,1719 459.2,1719.6 453.2,1720.2 447.2,1720.7 441.2,1721.3 435.2,1721.8 429.2,1722.2 423.2,1722.6 417.2,1723 411.2,1723.3 405.2,1723.5 399.2,1723.7 393.2,1723.8 387.2,1723.8 381.2,1723.8 375.2,1723.8 369.2,1723.7 363.2,1723.7 357.2,1723.7 351.2,1723.6 345.2,1723.6 339.2,1723.6 333.2,1723.5 327.2,1723.4 321.2,1723.4 315.2,1723.3 309.2,1723.2 303.2,1723.1 297.2,1723 291.2,1722.9 285.2,1722.8 279.2,1722.5 273.2,1722 267.2,1721.3 261.2,1720.5 255.2,1719.6 249.2,1718.6 243.2,1717.7 237.2,1716.6 231.2,1715.2 225.2,1713.8 219.2,1712.2 213.2,1710.4 207.2,1708.6"/>
<path d="M182.3 1181.3 L182.8 1184.6 L183.3 1187.9 L183.9 1191.3 L184.4 1194.8 L184.9 1198.4 L185.3 1201.2 L185.4 1202 L185.9 1205.7 L186.5 1209.5 L187 1213.3 L187.5 1217.2 L188 1221.2 L188.3 1223.4 L188.5 1225.2 L189 1229.2 L189.6 1233.3 L190.1 1237.5 L190.6 1241.7 L191.1 1246 L191.3 1247.4 L191.6 1250.3 L192.2 1254.6 L192.7 1259 L193.2 1263.5 L193.7 1268 L194.2 1272.4 L194.3 1272.9 L194.8 1276.9 L195.3 1281.4 L195.8 1285.9 L196.3 1290.4 L196.8 1295.1 L197.3 1299.3 L197.4 1299.8 L197.9 1304.6 L198.4 1309.6 L198.9 1314.7 L199.4 1320 L200 1325.5 L200.3 1329.3 L200.5 1331.2 L201 1337.2 L201.5 1343.4 L202 1350 L202.2 1352.7 L202.5 1356.8 L203.1 1364.1 L203.3 1367.6 L203.6 1372.1 L204.1 1380.6 L204.6 1389.9 L205.1 1400 L205.7 1411 L205.8 1413.4 L206.2 1422.7 L206.3 1425.5 L206.7 1437.2 L207 1449.6 L207.2 1465.9 L207.7 1538.4 L208.3 1589.6 L208.8 1600.6 L209.3 1608.6 L209.3 1608.6 L209.8 1614.4 L210.3 1618.8 L210.9 1622.9 L211.4 1627.3 L211.9 1632.1 L212.3 1635.7 L212.4 1636.7 L212.9 1641 L213.5 1645 L214 1648.9 L214.5 1652.6 L215 1656.2 L215.3 1658.1 L215.5 1659.6 L216 1663.1 L216.6 1666.7 L217.1 1670.1 L217.6 1673.2 L218.1 1675.8 L218.3 1676.5 L218.6 1677.8 L218.6 1677.8 L219.2 1679.3 L219.7 1680.8 L220.2 1682.1 L220.7 1683.2 L221.2 1683.9 L221.3 1683.9 L221.8 1684.1 L222.3 1683.8 L222.8 1683 L223.3 1681.7 L223.8 1680.2 L224.3 1677.8 L224.4 1677.5 L224.9 1673.5 L225.3 1670.4 L225.4 1669.7 L225.9 1665.9 L226.4 1661.7 L227 1657.5 L227.3 1654.8 L227.5 1653.6 L228 1650.4 L228.5 1648.2 L229 1647.4 L229.5 1647.4 L230.1 1647.5 L230.3 1647.5 L230.6 1647.5 L231.1 1647.6 L231.6 1647.7 L232.1 1647.8 L232.7 1648 L233.2 1648.1 L233.3 1648.2 L233.7 1648.3 L234.2 1648.5 L234.7 1648.7 L235.3 1648.9 L235.8 1649.1 L236.3 1649.3 L236.3 1649.3 L236.8 1649.5 L237.3 1649.7 L237.9 1649.9 L238.4 1650.1 L238.9 1650.3 L239.3 1650.5 L239.4 1650.5 L239.9 1650.7 L240.5 1650.8 L241 1651 L241.5 1651.1 L242 1651.3 L242.3 1651.4 L242.5 1651.5 L243 1651.6 L243.6 1651.8 L244.1 1652 L244.6 1652.1 L245.1 1652.3 L245.3 1652.4 L245.6 1652.5 L246.2 1652.7 L246.7 1652.9 L247.2 1653 L247.7 1653.2 L248.2 1653.4 L248.3 1653.4 L248.8 1653.6 L249.3 1653.8 L249.8 1653.9 L250.3 1654.1 L250.8 1654.3 L251.3 1654.5 L251.4 1654.5 L251.9 1654.7 L252.4 1654.8 L252.9 1655 L253.4 1655.2 L253.9 1655.3 L254.3 1655.5 L254.5 1655.5 L255 1655.7 L255.5 1655.8 L256 1656 L256.5 1656.2 L257.1 1656.3 L257.3 1656.4 L257.6 1656.5 L258.1 1656.6 L258.6 1656.8 L259.1 1656.9 L259.7 1657 L260.2 1657.2 L260.3 1657.2 L260.7 1657.3 L261.2 1657.4 L261.7 1657.5 L262.3 1657.6 L262.8 1657.7 L263.3 1657.8 L263.3 1657.8 L263.8 1657.9 L264.3 1658 L264.9 1658.1 L265.4 1658.2 L265.9 1658.2 L266.3 1658.3 L266.4 1658.3 L266.9 1658.4 L267.4 1658.4 L268 1658.5 L268.5 1658.6 L269 1658.7 L269.3 1658.7 L269.5 1658.7 L270 1658.8 L270.6 1658.9 L271.1 1658.9 L271.6 1659 L272.1 1659.1 L272.3 1659.1 L272.6 1659.1 L273.2 1659.2 L273.7 1659.2 L274.2 1659.3 L274.7 1659.4 L275.2 1659.4 L275.3 1659.4 L275.8 1659.5 L276.3 1659.6 L276.8 1659.6 L277.3 1659.7 L277.8 1659.7 L278.3 1659.8 L278.4 1659.8 L278.9 1659.9 L279.4 1659.9 L279.9 1660 L280.4 1660 L280.9 1660.1 L281.3 1660.1 L281.5 1660.1 L282 1660.2 L282.5 1660.2 L283 1660.3 L283.5 1660.3 L284.1 1660.4 L284.3 1660.4 L284.6 1660.4 L285.1 1660.5 L285.6 1660.5 L286.1 1660.6 L286.7 1660.6 L287.2 1660.7 L287.3 1660.7 L287.7 1660.7 L288.2 1660.8 L288.7 1660.8 L289.3 1660.8 L289.8 1660.9 L290.3 1660.9 L290.3 1660.9 L290.8 1661 L291.3 1661 L291.9 1661 L292.4 1661.1 L292.9 1661.1 L293.3 1661.1 L293.4 1661.1 L293.9 1661.2 L294.4 1661.2 L295 1661.2 L295.5 1661.3 L296 1661.3 L296.3 1661.3 L296.5 1661.3 L297 1661.3 L297.6 1661.4 L298.1 1661.4 L298.6 1661.4 L299.1 1661.4 L299.3 1661.4 L299.6 1661.5 L300.2 1661.5 L300.7 1661.5 L301.2 1661.5 L301.7 1661.5 L302.2 1661.5 L302.3 1661.5 L302.8 1661.6 L303.3 1661.6 L303.8 1661.6 L304.3 1661.6 L304.8 1661.6 L305.3 1661.6 L305.4 1661.6 L305.9 1661.6 L306.4 1661.6 L306.9 1661.6 L307.4 1661.6 L307.9 1661.6 L308.3 1661.6 L308.5 1661.6 L309 1661.6 L309.5 1661.6 L310 1661.5 L310.5 1661.5 L311.1 1661.5 L311.3 1661.5 L311.6 1661.5 L312.1 1661.5 L312.6 1661.4 L313.1 1661.4 L313.7 1661.4 L314.2 1661.3 L314.3 1661.3 L314.7 1661.3 L315.2 1661.3 L315.7 1661.2 L316.3 1661.2 L316.8 1661.1 L317.3 1661.1 L317.3 1661.1 L317.8 1661.1 L318.3 1661 L318.8 1661 L319.4 1660.9 L319.9 1660.8 L320.3 1660.8 L320.4 1660.8 L320.9 1660.7 L321.4 1660.7 L322 1660.6 L322.5 1660.5 L323 1660.5 L323.3 1660.4 L323.5 1660.4 L324 1660.3 L324.6 1660.3 L325.1 1660.2 L325.6 1660.1 L326.1 1660.1 L326.3 1660 L326.6 1660 L327.2 1659.9 L327.7 1659.8 L328.2 1659.8 L328.7 1659.7 L329.2 1659.6 L329.3 1659.6 L329.8 1659.5 L330.3 1659.4 L330.8 1659.3 L331.3 1659.3 L331.8 1659.2 L332.3 1659.1 L332.3 1659.1 L332.9 1659 L333.4 1658.9 L333.9 1658.8 L334.4 1658.7 L334.9 1658.7 L335.3 1658.6 L335.5 1658.6 L336 1658.5 L336.5 1658.4 L337 1658.3 L337.5 1658.2 L338.1 1658.1 L338.3 1658.1 L338.6 1658 L339.1 1657.9 L339.6 1657.8 L340.1 1657.7 L340.7 1657.6 L341.2 1657.5 L341.3 1657.5 L341.7 1657.4 L342.2 1657.3 L342.7 1657.3 L343.3 1657.2 L343.8 1657.1 L344.3 1657 L344.3 1657 L344.8 1656.9 L345.3 1656.8 L345.8 1656.7 L346.4 1656.6 L346.9 1656.5 L347.3 1656.4 L347.4 1656.4 L347.9 1656.3 L348.4 1656.2 L349 1656.1 L349.5 1656 L350 1655.9 L350.3 1655.9 L350.5 1655.8 L351 1655.7 L351.6 1655.6 L352.1 1655.5 L352.6 1655.4 L353.1 1655.3 L353.3 1655.3 L353.6 1655.2 L354.2 1655.1 L354.7 1655 L355.2 1654.9 L355.7 1654.7 L356.2 1654.6 L356.3 1654.6 L356.8 1654.5 L357.3 1654.4 L357.8 1654.3 L358.3 1654.1 L358.8 1654 L359.3 1653.9 L359.3 1653.9 L359.9 1653.7 L360.4 1653.6 L360.9 1653.4 L361.4 1653.3 L361.9 1653.2 L362.3 1653.1 L362.5 1653 L363 1652.9 L363.5 1652.7 L364 1652.6 L364.5 1652.4 L365.1 1652.2 L365.3 1652.2 L365.6 1652.1 L366.1 1651.9 L366.6 1651.7 L367.1 1651.6 L367.7 1651.4 L368.2 1651.2 L368.3 1651.2 L368.7 1651 L369.2 1650.8 L369.7 1650.6 L370.3 1650.4 L370.8 1650.2 L371.3 1650 L371.3 1650 L371.8 1649.8 L372.3 1649.6 L372.8 1649.4 L373.4 1649.1 L373.9 1648.9 L374.3 1648.7 L374.4 1648.7 L374.9 1648.4 L375.4 1648.1 L376 1647.9 L376.5 1647.6 L377 1647.3 L377.3 1647.1 L377.5 1646.9 L378 1646.6 L378.6 1646.3 L379.1 1645.9 L379.6 1645.6 L380.1 1645.2 L380.3 1645.1 L380.6 1644.8 L381.2 1644.4 L381.7 1644 L382.2 1643.5 L382.7 1643 L383.2 1642.5 L383.3 1642.4 L383.7 1641.9 L384.3 1641.3 L384.8 1640.6 L385.3 1639.8 L385.8 1639 L386.3 1638.2 L386.3 1638.2 L386.9 1637.2 L387.4 1636.2 L387.9 1635.2 L388.4 1633.5 L388.9 1631.2 L389.3 1629.7 L389.5 1629.2 L390 1628.3 L390.5 1628.5 L391 1629.1 L391.5 1630 L392.1 1631 L392.3 1631.5 L392.6 1632 L393.1 1632.8 L393.6 1633.5 L394.1 1633.7 L394.7 1633.7 L395.2 1633.7 L395.3 1633.7 L395.7 1633.7 L396.2 1633.7 L396.7 1633.7 L397.2 1633.7 L397.8 1633.7 L398.3 1633.7 L398.3 1633.7 L398.8 1633.7 L399.3 1633.6 L399.8 1633.6 L400.4 1633.6 L400.9 1633.6 L401.3 1633.6 L401.4 1633.6 L401.9 1633.6 L402.4 1633.6 L403 1633.6 L403.5 1633.6 L404 1633.5 L404.3 1633.5 L404.5 1633.5 L405 1633.5 L405.6 1633.5 L406.1 1633.5 L406.6 1633.5 L407.1 1633.5 L407.3 1633.4 L407.6 1633.4 L408.2 1633.4 L408.7 1633.4 L409.2 1633.4 L409.7 1633.3 L410.2 1633.3 L410.3 1633.3 L410.7 1633.3 L411.3 1633.3 L411.8 1633.3 L412.3 1633.2 L412.8 1633.2 L413.3 1633.2 L413.3 1633.2 L413.9 1633.2 L414.4 1633.1 L414.9 1633.1 L415.4 1633.1 L415.9 1633 L416.3 1633 L416.5 1633 L417 1633 L417.5 1632.9 L418 1632.9 L418.5 1632.9 L419.1 1632.9 L419.3 1632.8 L419.6 1632.8 L420.1 1632.8 L420.6 1632.8 L421.1 1632.7 L421.7 1632.7 L422.2 1632.6 L422.3 1632.6 L422.7 1632.6 L423.2 1632.6 L423.7 1632.5 L424.2 1632.5 L424.8 1632.5 L425.3 1632.4 L425.3 1632.4 L425.8 1632.4 L426.3 1632.3 L426.8 1632.3 L427.4 1632.3 L427.9 1632.2 L428.3 1632.2 L428.4 1632.2 L428.9 1632.1 L429.4 1632.1 L430 1632 L430.5 1632 L431 1632 L431.3 1631.9 L431.5 1631.9 L432 1631.9 L432.6 1631.8 L433.1 1631.8 L433.6 1631.7 L434.1 1631.7 L434.3 1631.7 L434.6 1631.6 L435.2 1631.6 L435.7 1631.5 L436.2 1631.5 L436.7 1631.4 L437.2 1631.4 L437.3 1631.4 L437.7 1631.3 L438.3 1631.3 L438.8 1631.2 L439.3 1631.2 L439.8 1631.1 L440.3 1631.1 L440.3 1631.1 L440.9 1631 L441.4 1631 L441.9 1630.9 L442.4 1630.9 L442.9 1630.8 L443.3 1630.8 L443.5 1630.8 L444 1630.7 L444.5 1630.7 L445 1630.6 L445.5 1630.6 L446.1 1630.5 L446.3 1630.5 L446.6 1630.5 L447.1 1630.4 L447.6 1630.3 L448.1 1630.3 L448.6 1630.2 L449.2 1630.2 L449.3 1630.2 L449.7 1630.1 L450.2 1630.1 L450.7 1630 L451.2 1629.9 L451.8 1629.9 L452.3 1629.8 L455.3 1629.5 L458.3 1629.1 L461.3 1628.8 L464.3 1628.4 L467.3 1628.1 L470.3 1627.7 L473.3 1627.3 L476.3 1627 L479.3 1626.6 L482.3 1626.2 L485.3 1625.9 L488.3 1625.5 L491.3 1625.2 L493.8 1624.9 L494.3 1624.8 L497.3 1624.5 L500.3 1624.1 L503.3 1623.7 L506.3 1623.3 L509.3 1622.9 L512.3 1622.5 L515.3 1622.1 L518.3 1621.7 L521.3 1621.2 L524.3 1620.8 L527.3 1620.3 L530.3 1619.9 L533.3 1619.4 L536.3 1618.9 L539.3 1618.4 L542.3 1617.9 L545.3 1617.4 L548.3 1616.8 L551.3 1616.3 L554.3 1615.8 L557.3 1615.2 L560.3 1614.7 L563.3 1614.1 L566.3 1613.6 L569.3 1613 L572.3 1612.4 L575.3 1611.8 L578.3 1611.2 L581.3 1610.6 L584.3 1610 L587.3 1609.4 L590.3 1608.8 L593.3 1608.2 L596.3 1607.5 L597.7 1607.3 L599.3 1606.9 L602.3 1606.3 L605.3 1605.6 L608.3 1604.9 L611.3 1604.2 L614.3 1603.5 L617.3 1602.8 L620.3 1602 L623.3 1601.3 L626.3 1600.5 L629.3 1599.7 L632.3 1598.9 L635.3 1598.1 L638.3 1597.3 L641.3 1596.5 L644.3 1595.7 L647.3 1594.8 L650.3 1594 L653.3 1593.1 L656.3 1592.2 L659.3 1591.3 L662.3 1590.4 L665.3 1589.6 L668.3 1588.7 L671.3 1587.7 L674.3 1586.8 L677.3 1585.9 L680.3 1585 L683.3 1584.1 L686.3 1583.1 L689.3 1582.2 L692.3 1581.3 L695.3 1580.3 L698.3 1579.4 L701.3 1578.4 L701.5 1578.4 L704.3 1577.5 L707.3 1576.5 L710.3 1575.5 L713.3 1574.5 L716.3 1573.5 L719.3 1572.5 L722.3 1571.5 L725.3 1570.5 L728.3 1569.4 L731.3 1568.3 L734.3 1567.3 L737.3 1566.2 L740.3 1565.1 L743.3 1564 L746.3 1562.9 L749.3 1561.8 L752.3 1560.7 L755.3 1559.6 L758.3 1558.5 L761.3 1557.3 L764.3 1556.2 L767.3 1555.1 L770.3 1553.9 L773.3 1552.8 L776.3 1551.7 L779.3 1550.5 L782.3 1549.4 L785.3 1548.2 L788.3 1547.1 L791.3 1546 L794.3 1544.8 L797.3 1543.7 L800.3 1542.6 L803.3 1541.4 L805.3 1540.7 L806.3 1540.3 L809.3 1539.2 L812.3 1538 L815.3 1536.9 L818.3 1535.7 L821.3 1534.6 L824.3 1533.4 L827.3 1532.2 L830.3 1531.1 L833.3 1529.9 L836.3 1528.7 L839.3 1527.5 L842.3 1526.3 L845.3 1525.2 L848.3 1524 L851.3 1522.8 L854.3 1521.6 L857.3 1520.4 L860.3 1519.2 L863.3 1518 L866.3 1516.9 L869.3 1515.7 L872.3 1514.5 L875.3 1513.3 L878.3 1512.2 L881.3 1511 L884.3 1509.8 L887.3 1508.7 L890.3 1507.5 L893.3 1506.4 L896.3 1505.3 L899.3 1504.1 L902.3 1503 L905.3 1501.9 L908.3 1500.8 L909.2 1500.5 L911.3 1499.8 L914.3 1498.7 L917.3 1497.6 L920.3 1496.5 L923.3 1495.4 L926.3 1494.3 L929.3 1493.2 L932.3 1492.2 L935.3 1491.1 L938.3 1490 L941.3 1488.9 L944.3 1487.9 L947.3 1486.8 L950.3 1485.8 L953.3 1484.7 L956.3 1483.6 L959.3 1482.6 L962.3 1481.6 L965.3 1480.5 L968.3 1479.5 L971.3 1478.5 L974.3 1477.5 L977.3 1476.5 L980.3 1475.5 L983.3 1474.5 L986.3 1473.5 L989.3 1472.5 L992.3 1471.6 L995.3 1470.6 L998.3 1469.7 L1001.3 1468.8 L1004.3 1467.9 L1007.3 1467 L1010.3 1466.1 L1013 1465.3 L1013.3 1465.2 L1016.3 1464.3 L1019.3 1463.4 L1022.3 1462.6 L1025.3 1461.7 L1028.3 1460.8 L1031.3 1460 L1034.3 1459.1 L1037.3 1458.3 L1040.3 1457.4 L1043.3 1456.6 L1046.3 1455.8 L1049.3 1454.9 L1052.3 1454.1 L1055.3 1453.3 L1058.3 1452.5 L1061.3 1451.7 L1064.3 1450.9 L1067.3 1450.1 L1070.3 1449.3 L1073.3 1448.6 L1076.3 1447.8 L1079.3 1447.1 L1082.3 1446.3 L1085.3 1445.6 L1088.3 1444.9 L1091.3 1444.2 L1094.3 1443.5 L1097.3 1442.9 L1100.3 1442.2 L1103.3 1441.6 L1106.3 1440.9 L1109.3 1440.3 L1112.3 1439.7 L1115.3 1439.1 L1116.9 1438.8 L1118.3 1438.6 L1121.3 1438 L1124.3 1437.5 L1127.3 1436.9 L1130.3 1436.4 L1133.3 1435.9 L1136.3 1435.4 L1139.3 1434.9 L1142.3 1434.4 L1145.3 1433.9 L1148.3 1433.4 L1151.3 1433 L1154.3 1432.5 L1157.3 1432.1 L1160.3 1431.6 L1163.3 1431.2 L1166.3 1430.8 L1169.3 1430.3 L1172.3 1429.9 L1175.3 1429.5 L1178.3 1429.1 L1181.3 1428.6 L1184.3 1428.2 L1187.3 1427.8 L1190.3 1427.4 L1193.3 1427 L1196.3 1426.6 L1199.3 1426.2 L1202.3 1425.7 L1205.3 1425.3 L1208.3 1424.9 L1211.3 1424.5 L1214.3 1424.1 L1217.3 1423.6 L1220.3 1423.2 L1220.7 1423.2 L1223.3 1422.8 L1226.3 1422.3 L1229.3 1421.9 L1232.3 1421.5 L1235.3 1421 L1238.3 1420.6 L1241.3 1420.1 L1244.3 1419.6 L1247.3 1419.2 L1250.3 1418.7 L1253.3 1418.3 L1256.3 1417.8 L1259.3 1417.4 L1262.3 1416.9 L1265.3 1416.4 L1268.3 1416 L1271.3 1415.5 L1274.3 1415.1 L1277.3 1414.7 L1280.3 1414.2 L1283.3 1413.8 L1286.3 1413.4 L1289.3 1413 L1292.3 1412.6 L1295.3 1412.2 L1298.3 1411.8 L1301.3 1411.4 L1304.3 1411.1 L1307.3 1410.7 L1310.3 1410.4 L1313.3 1410.1 L1316.3 1409.8 L1319.3 1409.5 L1322.3 1409.2 L1324.5 1409 L1325.3 1408.9 L1328.3 1408.6 L1331.3 1408.4 L1334.3 1408.1 L1337.3 1407.8 L1340.3 1407.6 L1343.3 1407.3 L1346.3 1407.1 L1349.3 1406.8 L1352.3 1406.6 L1355.3 1406.3 L1358.3 1406.1 L1361.3 1405.8 L1364.3 1405.6 L1367.3 1405.4 L1370.3 1405.2 L1373.3 1404.9 L1376.3 1404.7 L1379.3 1404.5 L1382.3 1404.3 L1385.3 1404.1 L1388.3 1403.9 L1391.3 1403.8 L1394.3 1403.6 L1397.3 1403.4 L1400.3 1403.2 L1403.3 1403.1 L1406.3 1402.9 L1409.3 1402.8 L1412.3 1402.7 L1415.3 1402.5 L1418.3 1402.4 L1421.3 1402.3 L1424.3 1402.2 L1427.3 1402.1 L1428.4 1402.1 L1430.3 1402.1 L1433.3 1402 L1436.3 1401.9 L1439.3 1401.8 L1442.3 1401.7 L1445.3 1401.7 L1448.3 1401.6 L1451.3 1401.5 L1454.3 1401.5 L1457.3 1401.4 L1460.3 1401.3 L1463.3 1401.3 L1466.3 1401.2 L1469.3 1401.1 L1472.3 1401.1 L1475.3 1401 L1478.3 1400.9 L1481.3 1400.9 L1484.3 1400.8 L1487.3 1400.8 L1490.3 1400.7 L1493.3 1400.7 L1496.3 1400.7 L1499.3 1400.6 L1502.3 1400.6 L1505.3 1400.5 L1508.3 1400.5 L1511.3 1400.5 L1514.3 1400.5 L1517.3 1400.4 L1520.3 1400.4 L1523.3 1400.4 L1526.3 1400.4 L1529.3 1400.4 L1532.2 1400.4 L1532.3 1400.4 L1535.3 1400.4 L1538.3 1400.4 L1541.3 1400.5 L1544.3 1400.6 L1547.3 1400.7 L1550.3 1400.8 L1553.3 1401 L1556.3 1401.2 L1559.3 1401.3 L1562.3 1401.6 L1565.3 1401.8 L1568.3 1402 L1571.3 1402.3 L1574.3 1402.5 L1577.3 1402.8 L1580.3 1403.1 L1583.3 1403.4 L1586.3 1403.7 L1589.3 1404 L1592.3 1404.3 L1595.3 1404.6 L1598.3 1405 L1601.3 1405.3 L1604.3 1405.6 L1607.3 1405.9 L1610.3 1406.3 L1613.3 1406.6 L1616.3 1406.9 L1619.3 1407.3 L1622.3 1407.6 L1625.3 1407.9 L1628.3 1408.2 L1631.3 1408.5 L1634.3 1408.8 L1636.1 1409 L1637.3 1409.1 L1640.3 1409.4 L1643.3 1409.6 L1646.3 1409.9 L1649.3 1410.2 L1652.3 1410.5 L1655.3 1410.8 L1658.3 1411.1 L1661.3 1411.4 L1664.3 1411.7 L1667.3 1412 L1670.3 1412.2 L1673.3 1412.5 L1676.3 1412.8 L1679.3 1413.2 L1682.3 1413.5 L1685.3 1413.8 L1688.3 1414.1 L1691.3 1414.4 L1694.3 1414.7 L1697.3 1415.1 L1700.3 1415.4 L1703.3 1415.7 L1706.3 1416.1 L1709.3 1416.4 L1712.3 1416.8 L1715.3 1417.1 L1718.3 1417.5 L1721.3 1417.8 L1724.3 1418.2 L1727.3 1418.6 L1730.3 1419 L1733.3 1419.3 L1736.3 1419.7 L1739.3 1420.1 L1739.9 1420.2 L1742.3 1420.6 L1745.3 1421 L1748.3 1421.4 L1751.3 1421.8 L1754.3 1422.3 L1757.3 1422.7 L1760.3 1423.2 L1763.3 1423.6 L1766.3 1424.1 L1769.3 1424.6 L1772.3 1425.1 L1775.3 1425.6 L1778.3 1426.1 L1781.3 1426.6 L1784.3 1427.1 L1787.3 1427.6 L1790.3 1428.1 L1793.3 1428.7 L1796.3 1429.2 L1799.3 1429.8 L1802.3 1430.3 L1805.3 1430.9 L1808.3 1431.5 L1811.3 1432.1 L1814.3 1432.7 L1817.3 1433.3 L1820.3 1433.9 L1823.3 1434.5 L1826.3 1435.1 L1829.3 1435.7 L1832.3 1436.4 L1835.3 1437 L1838.3 1437.6 L1841.3 1438.3 L1843.7 1438.8 L1844.3 1439 L1847.3 1439.6 L1850.3 1440.3 L1853.3 1441 L1856.3 1441.7 L1859.3 1442.5 L1862.3 1443.2 L1865.3 1444 L1868.3 1444.8 L1871.3 1445.6 L1874.3 1446.4 L1877.3 1447.2 L1880.3 1448 L1883.3 1448.8 L1886.3 1449.7 L1889.3 1450.6 L1892.3 1451.4 L1895.3 1452.3 L1898.3 1453.2 L1901.3 1454.1 L1904.3 1455 L1907.3 1455.9 L1910.3 1456.8 L1913.3 1457.8 L1916.3 1458.7 L1919.3 1459.6 L1922.3 1460.6 L1925.3 1461.5 L1928.3 1462.5 L1931.3 1463.4 L1934.3 1464.4 L1937.3 1465.4 L1940.3 1466.3 L1943.3 1467.3 L1946.3 1468.3 L1947.6 1468.7 L1949.3 1469.3 L1952.3 1470.2 L1955.3 1471.3 L1958.3 1472.3 L1961.3 1473.3 L1964.3 1474.4 L1967.3 1475.4 L1970.3 1476.5 L1973.3 1477.6 L1976.3 1478.7 L1979.3 1479.8 L1982.3 1481 L1985.3 1482.1 L1988.3 1483.2 L1991.3 1484.4 L1994.3 1485.5 L1997.3 1486.7 L2000.3 1487.8 L2003.3 1489 L2006.3 1490.2 L2009.3 1491.3 L2012.3 1492.5 L2015.3 1493.7 L2018.3 1494.8 L2021.3 1496 L2024.3 1497.2 L2027.3 1498.3 L2030.3 1499.5 L2033.3 1500.6 L2036.3 1501.8 L2039.3 1502.9 L2042.3 1504 L2045.3 1505.1 L2048.3 1506.2 L2051.3 1507.3 L2051.4 1507.4 L2054.3 1508.4 L2057.3 1509.5 L2060.3 1510.6 L2063.3 1511.7 L2066.3 1512.8 L2069.3 1513.9 L2072.3 1514.9 L2075.3 1516 L2078.3 1517.1 L2081.3 1518.2 L2084.3 1519.3 L2087.3 1520.3 L2090.3 1521.4 L2093.3 1522.5 L2096.3 1523.6 L2099.3 1524.6 L2102.3 1525.7 L2105.3 1526.8 L2108.3 1527.8 L2111.3 1528.9 L2114.3 1530 L2117.3 1531 L2120.3 1532.1 L2123.3 1533.1 L2126.3 1534.2 L2129.3 1535.2 L2132.3 1536.3 L2135.3 1537.3 L2138.3 1538.3 L2141.3 1539.4 L2144.3 1540.4 L2147.3 1541.4 L2150.3 1542.4 L2153.3 1543.4 L2155.3 1544.1 L2156.3 1544.4 L2159.3 1545.4 L2162.3 1546.5 L2165.3 1547.5 L2168.3 1548.5 L2171.3 1549.4 L2174.3 1550.4 L2177.3 1551.4 L2180.3 1552.4 L2183.3 1553.4 L2186.3 1554.4 L2189.3 1555.4 L2192.3 1556.3 L2195.3 1557.3 L2198.3 1558.3 L2201.3 1559.3 L2204.3 1560.2 L2207.3 1561.2 L2210.3 1562.2 L2213.3 1563.1 L2216.3 1564.1 L2219.3 1565 L2222.3 1566 L2225.3 1566.9 L2228.3 1567.9 L2231.3 1568.8 L2234.3 1569.7 L2237.3 1570.7 L2240.3 1571.6 L2243.3 1572.5 L2246.3 1573.5 L2249.3 1574.4 L2252.3 1575.3 L2255.3 1576.2 L2258.3 1577.1 L2259.1 1577.4" stroke="#f00" stroke-width="6.6" stroke-linejoin="round" fill="none"/>
<polygon fill="#f00" points="535.4,1616 537.4,1616 537.4,1615.6 539.4,1615.6 539.4,1615.2 541.4,1615.2 541.4,1614.8 543.4,1614.8 543.4,1614.4 545.4,1614.4 545.4,1613.8 547.4,1613.8 547.4,1613.4 549.4,1613.4 549.4,1613.1 551.4,1613.1 551.4,1612.6 553.4,1612.6 553.4,1612.2 555.4,1612.2 555.4,1611.7 557.4,1611.7 557.4,1611.3 559.4,1611.3 559.4,1610.7 561.4,1610.7 561.4,1610.5 563.4,1610.5 563.4,1609.8 565.4,1609.8 565.4,1609.5 567.4,1609.5 567.4,1608.9 569.4,1608.9 569.4,1608.5 571.4,1608.5 571.4,1608 573.4,1608 573.4,1607.6 575.4,1607.6 575.4,1607 577.4,1607 577.4,1606.9 579.4,1606.9 579.4,1606.4 581.4,1606.4 581.4,1605.4 583.4,1605.4 583.4,1605.3 585.4,1605.3 585.4,1604.8 587.4,1604.8 587.4,1604.4 589.4,1604.4 589.4,1603.6 591.4,1603.6 591.4,1602.8 593.4,1602.8 593.4,1602.8 595.4,1602.8 595.4,1602.3 597.4,1602.3 597.4,1601.8 599.4,1601.8 599.4,1601.6 601.4,1601.6 601.4,1601 603.4,1601 603.4,1600.6 605.4,1600.6 605.4,1599.8 607.4,1599.8 607.4,1598.6 609.4,1598.6 609.4,1599 611.4,1599 611.4,1598.1 613.4,1598.1 613.4,1597.9 615.4,1597.9 615.4,1597.6 617.4,1597.6 617.4,1596.4 619.4,1596.4 619.4,1596.6 621.4,1596.6 621.4,1596.1 623.4,1596.1 623.4,1594.9 625.4,1594.9 625.4,1594.9 627.4,1594.9 627.4,1594.5 629.4,1594.5 629.4,1593.2 631.4,1593.2 631.4,1593.4 633.4,1593.4 633.4,1592.3 635.4,1592.3 635.4,1592.2 637.4,1592.2 637.4,1591.4 639.4,1591.4 639.4,1591.2 641.4,1591.2 641.4,1590.6 643.4,1590.6 643.4,1589.4 645.4,1589.4 645.4,1588.9 647.4,1588.9 647.4,1589.1 649.4,1589.1 649.4,1587.9 651.4,1587.9 651.4,1587.9 653.4,1587.9 653.4,1587.2 655.4,1587.2 655.4,1586.9 657.4,1586.9 657.4,1585.7 659.4,1585.7 659.4,1585 661.4,1585 661.4,1584.4 663.4,1584.4 663.4,1583.8 665.4,1583.8 665.4,1583.6 667.4,1583.6 667.4,1583.2 669.4,1583.2 669.4,1582.8 671.4,1582.8 671.4,1581.7 673.4,1581.7 673.4,1580.6 675.4,1580.6 675.4,1580.5 677.4,1580.5 677.4,1579.7 679.4,1579.7 679.4,1578.8 681.4,1578.8 681.4,1578.2 683.4,1578.2 683.4,1577.7 685.4,1577.7 685.4,1577.3 687.4,1577.3 687.4,1577 689.4,1577 689.4,1575.9 691.4,1575.9 691.4,1575.6 693.4,1575.6 693.4,1574.7 695.4,1574.7 695.4,1574.5 697.4,1574.5 697.4,1573.2 699.4,1573.2 699.4,1573.3 701.4,1573.3 701.4,1572.1 703.4,1572.1 703.4,1571.3 705.4,1571.3 705.4,1571.4 707.4,1571.4 707.4,1570.1 709.4,1570.1 709.4,1569.6 711.4,1569.6 711.4,1569 713.4,1569 713.4,1568.7 715.4,1568.7 715.4,1568 717.4,1568 717.4,1567.4 719.4,1567.4 719.4,1566.5 721.4,1566.5 721.4,1565.6 723.4,1565.6 723.4,1564.8 725.4,1564.8 725.4,1564.2 727.4,1564.2 727.4,1563.8 729.4,1563.8 729.4,1563.1 731.4,1563.1 731.4,1562 733.4,1562 733.4,1561.1 735.4,1561.1 735.4,1561.1 737.4,1561.1 737.4,1560.2 739.4,1560.2 739.4,1559.6 741.4,1559.6 741.4,1558.2 743.4,1558.2 743.4,1558.4 745.4,1558.4 745.4,1556.8 747.4,1556.8 747.4,1556.2 749.4,1556.2 749.4,1555.9 751.4,1555.9 751.4,1554.8 753.4,1554.8 753.4,1554.4 755.4,1554.4 755.4,1553.4 757.4,1553.4 757.4,1552.8 759.4,1552.8 759.4,1551.6 761.4,1551.6 761.4,1551.3 763.4,1551.3 763.4,1550.2 765.4,1550.2 765.4,1549.7 767.4,1549.7 767.4,1549.1 769.4,1549.1 769.4,1547.8 771.4,1547.8 771.4,1547.8 773.4,1547.8 773.4,1546.3 775.4,1546.3 775.4,1545.5 777.4,1545.5 777.4,1544.9 779.4,1544.9 779.4,1544.3 781.4,1544.3 781.4,1543.6 783.4,1543.6 783.4,1542.5 785.4,1542.5 785.4,1542.2 787.4,1542.2 787.4,1541.1 789.4,1541.1 789.4,1540.4 791.4,1540.4 791.4,1539.5 793.4,1539.5 793.4,1539.2 795.4,1539.2 795.4,1538.2 797.4,1538.2 797.4,1538 799.4,1538 799.4,1537.3 801.4,1537.3 801.4,1536.5 803.4,1536.5 803.4,1535.1 805.4,1535.1 805.4,1534.7 807.4,1534.7 807.4,1533.4 809.4,1533.4 809.4,1533.5 811.4,1533.5 811.4,1532.7 813.4,1532.7 813.4,1531.2 815.4,1531.2 815.4,1530.9 817.4,1530.9 817.4,1530.3 819.4,1530.3 819.4,1529 821.4,1529 821.4,1528.8 823.4,1528.8 823.4,1527.3 825.4,1527.3 825.4,1527.2 827.4,1527.2 827.4,1525.8 829.4,1525.8 829.4,1525.4 831.4,1525.4 831.4,1524.2 833.4,1524.2 833.4,1524 835.4,1524 835.4,1522.6 837.4,1522.6 837.4,1522.4 839.4,1522.4 839.4,1521.5 841.4,1521.5 841.4,1520.5 843.4,1520.5 843.4,1519.8 845.4,1519.8 845.4,1518.9 847.4,1518.9 847.4,1518.1 849.4,1518.1 849.4,1517.7 851.4,1517.7 851.4,1517.2 853.4,1517.2 853.4,1515.7 855.4,1515.7 855.4,1515 857.4,1515 857.4,1514.3 859.4,1514.3 859.4,1513.5 861.4,1513.5 861.4,1512.3 863.4,1512.3 863.4,1512.2 865.4,1512.2 865.4,1510.8 867.4,1510.8 867.4,1510.7 869.4,1510.7 869.4,1509.4 871.4,1509.4 871.4,1508.4 873.4,1508.4 873.4,1508.4 875.4,1508.4 875.4,1507 877.4,1507 877.4,1506.7 879.4,1506.7 879.4,1506.1 881.4,1506.1 881.4,1505 883.4,1505 883.4,1503.9 885.4,1503.9 885.4,1503.6 887.4,1503.6 887.4,1502.2 889.4,1502.2 889.4,1502.3 891.4,1502.3 891.4,1501.3 893.4,1501.3 893.4,1500.5 895.4,1500.5 895.4,1499.7 897.4,1499.7 897.4,1499 899.4,1499 899.4,1498.5 901.4,1498.5 901.4,1497.6 903.4,1497.6 903.4,1496.8 905.4,1496.8 905.4,1495.7 907.4,1495.7 907.4,1495.2 909.4,1495.2 909.4,1494.2 911.4,1494.2 911.4,1493.7 913.4,1493.7 913.4,1493.1 915.4,1493.1 915.4,1492.6 917.4,1492.6 917.4,1491.8 919.4,1491.8 919.4,1490.4 921.4,1490.4 921.4,1490.1 923.4,1490.1 923.4,1489.5 925.4,1489.5 925.4,1488.9 927.4,1488.9 927.4,1487.5 929.4,1487.5 929.4,1487 931.4,1487 931.4,1486.3 933.4,1486.3 933.4,1485.4 935.4,1485.4 935.4,1485.3 937.4,1485.3 937.4,1484.1 939.4,1484.1 939.4,1484 941.4,1484 941.4,1482.7 943.4,1482.7 943.4,1482.3 945.4,1482.3 945.4,1481.3 947.4,1481.3 947.4,1481 949.4,1481 949.4,1480.2 951.4,1480.2 951.4,1479.2 953.4,1479.2 953.4,1478.2 955.4,1478.2 955.4,1478.1 957.4,1478.1 957.4,1477.5 959.4,1477.5 959.4,1476.9 961.4,1476.9 961.4,1475.7 963.4,1475.7 963.4,1474.8 965.4,1474.8 965.4,1474.9 967.4,1474.9 967.4,1473.9 969.4,1473.9 969.4,1473.4 971.4,1473.4 971.4,1472 973.4,1472 973.4,1472.1 975.4,1472.1 975.4,1471.5 977.4,1471.5 977.4,1470.1 979.4,1470.1 979.4,1469.2 981.4,1469.2 981.4,1468.8 983.4,1468.8 983.4,1468.8 985.4,1468.8 985.4,1467.8 987.4,1467.8 987.4,1467.1 989.4,1467.1 989.4,1466.1 991.4,1466.1 991.4,1465.6 993.4,1465.6 993.4,1465.6 995.4,1465.6 995.4,1464.6 997.4,1464.6 997.4,1463.7 999.4,1463.7 999.4,1463.3 1001.4,1463.3 1001.4,1462.5 1003.4,1462.5 1003.4,1461.6 1005.4,1461.6 1005.4,1461 1007.4,1461 1007.4,1460.5 1009.4,1460.5 1009.4,1460.2 1011.4,1460.2 1011.4,1459.9 1013.4,1459.9 1013.4,1459.4 1015.4,1459.4 1015.4,1458.9 1017.4,1458.9 1017.4,1457.8 1019.4,1457.8 1019.4,1457.1 1021.4,1457.1 1021.4,1456.4 1023.4,1456.4 1023.4,1455.8 1025.4,1455.8 1025.4,1455.8 1027.4,1455.8 1027.4,1455.2 1029.4,1455.2 1029.4,1454.8 1031.4,1454.8 1031.4,1453.9 1033.4,1453.9 1033.4,1452.9 1035.4,1452.9 1035.4,1452.5 1037.4,1452.5 1037.4,1452.3 1039.4,1452.3 1039.4,1452 1041.4,1452 1041.4,1450.7 1043.4,1450.7 1043.4,1450.1 1045.4,1450.1 1045.4,1449.7 1047.4,1449.7 1047.4,1449.6 1049.4,1449.6 1049.4,1449 1051.4,1449 1051.4,1448.2 1053.4,1448.2 1053.4,1447.4 1055.4,1447.4 1055.4,1447.5 1057.4,1447.5 1057.4,1446.8 1059.4,1446.8 1059.4,1446.6 1061.4,1446.6 1061.4,1446.1 1063.4,1446.1 1063.4,1445.3 1065.4,1445.3 1065.4,1444.3 1067.4,1444.3 1067.4,1443.9 1069.4,1443.9 1069.4,1443.5 1071.4,1443.5 1071.4,1443.1 1073.4,1443.1 1073.4,1442.7 1075.4,1442.7 1075.4,1441.7 1077.4,1441.7 1077.4,1441.5 1079.4,1441.5 1079.4,1441.4 1081.4,1441.4 1081.4,1440.4 1083.4,1440.4 1083.4,1439.5 1085.4,1439.5 1085.4,1440 1087.4,1440 1087.4,1438.7 1089.4,1438.7 1089.4,1439.1 1091.4,1439.1 1091.4,1438.6 1093.4,1438.6 1093.4,1437.6 1095.4,1437.6 1095.4,1437.2 1097.4,1437.2 1097.4,1437.5 1099.4,1437.5 1099.4,1436.7 1101.4,1436.7 1101.4,1436.5 1103.4,1436.5 1103.4,1436.3 1105.4,1436.3 1105.4,1435.7 1107.4,1435.7 1107.4,1435.5 1109.4,1435.5 1109.4,1435.4 1111.4,1435.4 1111.4,1434.9 1113.4,1434.9 1113.4,1434.5 1115.4,1434.5 1115.4,1434.2 1117.4,1434.2 1117.4,1434 1119.4,1434 1119.4,1433.6 1121.4,1433.6 1121.4,1433.6 1123.4,1433.6 1123.4,1433.3 1125.4,1433.3 1125.4,1433.1 1127.4,1433.1 1127.4,1432.5 1129.4,1432.5 1129.4,1432.3 1131.4,1432.3 1131.4,1431.9 1133.4,1431.9 1133.4,1431.6 1135.4,1431.6 1135.4,1431.7 1137.4,1431.7 1137.4,1431.3 1139.4,1431.3 1139.4,1431.1 1141.4,1431.1 1141.4,1430.8 1143.4,1430.8 1143.4,1430.5 1145.4,1430.5 1145.4,1430.3 1147.4,1430.3 1147.4,1430.1 1149.4,1430.1 1149.4,1429.8 1151.4,1429.8 1151.4,1429.6 1153.4,1429.6 1153.4,1429.4 1155.4,1429.4 1155.4,1429.2 1157.4,1429.2 1157.4,1429 1159.4,1429 1159.4,1435.2 1157.4,1435.2 1157.4,1435.6 1155.4,1435.6 1155.4,1436 1153.4,1436 1153.4,1436.3 1151.4,1436.3 1151.4,1436.8 1149.4,1436.8 1149.4,1437.1 1147.4,1437.1 1147.4,1437.5 1145.4,1437.5 1145.4,1438 1143.4,1438 1143.4,1438.3 1141.4,1438.3 1141.4,1438.7 1139.4,1438.7 1139.4,1439.1 1137.4,1439.1 1137.4,1439.4 1135.4,1439.4 1135.4,1439.9 1133.4,1439.9 1133.4,1440.3 1131.4,1440.3 1131.4,1440.9 1129.4,1440.9 1129.4,1441.4 1127.4,1441.4 1127.4,1441.6 1125.4,1441.6 1125.4,1442.2 1123.4,1442.2 1123.4,1442.8 1121.4,1442.8 1121.4,1443 1119.4,1443 1119.4,1443.2 1117.4,1443.2 1117.4,1443.8 1115.4,1443.8 1115.4,1444.5 1113.4,1444.5 1113.4,1444.9 1111.4,1444.9 1111.4,1445.1 1109.4,1445.1 1109.4,1446.1 1107.4,1446.1 1107.4,1446.6 1105.4,1446.6 1105.4,1446.7 1103.4,1446.7 1103.4,1447.1 1101.4,1447.1 1101.4,1448 1099.4,1448 1099.4,1448.7 1097.4,1448.7 1097.4,1448.8 1095.4,1448.8 1095.4,1449.6 1093.4,1449.6 1093.4,1450.4 1091.4,1450.4 1091.4,1450.3 1089.4,1450.3 1089.4,1450.7 1087.4,1450.7 1087.4,1452.1 1085.4,1452.1 1085.4,1451.8 1083.4,1451.8 1083.4,1452.8 1081.4,1452.8 1081.4,1453.5 1079.4,1453.5 1079.4,1453.8 1077.4,1453.8 1077.4,1453.7 1075.4,1453.7 1075.4,1454.9 1073.4,1454.9 1073.4,1455.3 1071.4,1455.3 1071.4,1455.8 1069.4,1455.8 1069.4,1455.9 1067.4,1455.9 1067.4,1457 1065.4,1457 1065.4,1457.3 1063.4,1457.3 1063.4,1457.9 1061.4,1457.9 1061.4,1458.7 1059.4,1458.7 1059.4,1458.4 1057.4,1458.4 1057.4,1459.4 1055.4,1459.4 1055.4,1460.1 1053.4,1460.1 1053.4,1460.8 1051.4,1460.8 1051.4,1461.3 1049.4,1461.3 1049.4,1461.4 1047.4,1461.4 1047.4,1461.7 1045.4,1461.7 1045.4,1462.2 1043.4,1462.2 1043.4,1463.5 1041.4,1463.5 1041.4,1463.9 1039.4,1463.9 1039.4,1464.7 1037.4,1464.7 1037.4,1464.9 1035.4,1464.9 1035.4,1465.9 1033.4,1465.9 1033.4,1465.8 1031.4,1465.8 1031.4,1466.9 1029.4,1466.9 1029.4,1467 1027.4,1467 1027.4,1468.2 1025.4,1468.2 1025.4,1467.9 1023.4,1467.9 1023.4,1468.7 1021.4,1468.7 1021.4,1469.1 1019.4,1469.1 1019.4,1469.9 1017.4,1469.9 1017.4,1471.1 1015.4,1471.1 1015.4,1471.7 1013.4,1471.7 1013.4,1472.1 1011.4,1472.1 1011.4,1472.1 1009.4,1472.1 1009.4,1472.8 1007.4,1472.8 1007.4,1473.8 1005.4,1473.8 1005.4,1474.5 1003.4,1474.5 1003.4,1474.8 1001.4,1474.8 1001.4,1475.9 999.4,1475.9 999.4,1476.5 997.4,1476.5 997.4,1476.4 995.4,1476.4 995.4,1477 993.4,1477 993.4,1478 991.4,1478 991.4,1478.7 989.4,1478.7 989.4,1479.6 987.4,1479.6 987.4,1479.9 985.4,1479.9 985.4,1480.8 983.4,1480.8 983.4,1480.8 981.4,1480.8 981.4,1481.4 979.4,1481.4 979.4,1482 977.4,1482 977.4,1483 975.4,1483 975.4,1484.2 973.4,1484.2 973.4,1484.7 971.4,1484.7 971.4,1484.7 969.4,1484.7 969.4,1486.4 967.4,1486.4 967.4,1486.1 965.4,1486.1 965.4,1487.3 963.4,1487.3 963.4,1487.6 961.4,1487.6 961.4,1489.1 959.4,1489.1 959.4,1488.9 957.4,1488.9 957.4,1489.7 955.4,1489.7 955.4,1491 953.4,1491 953.4,1491 951.4,1491 951.4,1492.3 949.4,1492.3 949.4,1492.4 947.4,1492.4 947.4,1493.4 945.4,1493.4 945.4,1494.5 943.4,1494.5 943.4,1495.2 941.4,1495.2 941.4,1496 939.4,1496 939.4,1496.8 937.4,1496.8 937.4,1497.2 935.4,1497.2 935.4,1497.6 933.4,1497.6 933.4,1498.1 931.4,1498.1 931.4,1499.7 929.4,1499.7 929.4,1499.8 927.4,1499.8 927.4,1500.4 925.4,1500.4 925.4,1501.6 923.4,1501.6 923.4,1502.6 921.4,1502.6 921.4,1503.1 919.4,1503.1 919.4,1503.6 917.4,1503.6 917.4,1504.7 915.4,1504.7 915.4,1504.8 913.4,1504.8 913.4,1505.7 911.4,1505.7 911.4,1506.2 909.4,1506.2 909.4,1507 907.4,1507 907.4,1508 905.4,1508 905.4,1508.9 903.4,1508.9 903.4,1509.7 901.4,1509.7 901.4,1509.9 899.4,1509.9 899.4,1511.1 897.4,1511.1 897.4,1512 895.4,1512 895.4,1512.9 893.4,1512.9 893.4,1513 891.4,1513 891.4,1513.7 889.4,1513.7 889.4,1514.6 887.4,1514.6 887.4,1515 885.4,1515 885.4,1515.8 883.4,1515.8 883.4,1516.7 881.4,1516.7 881.4,1517.8 879.4,1517.8 879.4,1518.2 877.4,1518.2 877.4,1519.3 875.4,1519.3 875.4,1520.4 873.4,1520.4 873.4,1520.8 871.4,1520.8 871.4,1522.1 869.4,1522.1 869.4,1522 867.4,1522 867.4,1522.9 865.4,1522.9 865.4,1524.3 863.4,1524.3 863.4,1524.7 861.4,1524.7 861.4,1525.5 859.4,1525.5 859.4,1526.8 857.4,1526.8 857.4,1526.9 855.4,1526.9 855.4,1528.4 853.4,1528.4 853.4,1529.3 851.4,1529.3 851.4,1530 849.4,1530 849.4,1530 847.4,1530 847.4,1531 845.4,1531 845.4,1531.7 843.4,1531.7 843.4,1532.3 841.4,1532.3 841.4,1533.9 839.4,1533.9 839.4,1534 837.4,1534 837.4,1535.3 835.4,1535.3 835.4,1535.8 833.4,1535.8 833.4,1536.3 831.4,1536.3 831.4,1537.4 829.4,1537.4 829.4,1538.5 827.4,1538.5 827.4,1538.6 825.4,1538.6 825.4,1540.2 823.4,1540.2 823.4,1540.7 821.4,1540.7 821.4,1541.3 819.4,1541.3 819.4,1541.7 817.4,1541.7 817.4,1543.3 815.4,1543.3 815.4,1543.3 813.4,1543.3 813.4,1544.7 811.4,1544.7 811.4,1545.4 809.4,1545.4 809.4,1546 807.4,1546 807.4,1547 805.4,1547 805.4,1547.3 803.4,1547.3 803.4,1548.5 801.4,1548.5 801.4,1549.1 799.4,1549.1 799.4,1550 797.4,1550 797.4,1550.8 795.4,1550.8 795.4,1551.2 793.4,1551.2 793.4,1552.3 791.4,1552.3 791.4,1553.1 789.4,1553.1 789.4,1553.6 787.4,1553.6 787.4,1553.9 785.4,1553.9 785.4,1554.8 783.4,1554.8 783.4,1555.5 781.4,1555.5 781.4,1556.1 779.4,1556.1 779.4,1557 777.4,1557 777.4,1558.3 775.4,1558.3 775.4,1558.6 773.4,1558.6 773.4,1559.3 771.4,1559.3 771.4,1560.2 769.4,1560.2 769.4,1560.7 767.4,1560.7 767.4,1561.6 765.4,1561.6 765.4,1562.4 763.4,1562.4 763.4,1563 761.4,1563 761.4,1564 759.4,1564 759.4,1565.2 757.4,1565.2 757.4,1565.2 755.4,1565.2 755.4,1566.3 753.4,1566.3 753.4,1567.4 751.4,1567.4 751.4,1567.5 749.4,1567.5 749.4,1568.5 747.4,1568.5 747.4,1569.4 745.4,1569.4 745.4,1569.7 743.4,1569.7 743.4,1570.6 741.4,1570.6 741.4,1571.4 739.4,1571.4 739.4,1571.9 737.4,1571.9 737.4,1573 735.4,1573 735.4,1573.5 733.4,1573.5 733.4,1574.1 731.4,1574.1 731.4,1575.4 729.4,1575.4 729.4,1575.3 727.4,1575.3 727.4,1576.2 725.4,1576.2 725.4,1577.7 723.4,1577.7 723.4,1577.7 721.4,1577.7 721.4,1578.9 719.4,1578.9 719.4,1579.4 717.4,1579.4 717.4,1580.1 715.4,1580.1 715.4,1581 713.4,1581 713.4,1581.5 711.4,1581.5 711.4,1581.8 709.4,1581.8 709.4,1582.6 707.4,1582.6 707.4,1583.5 705.4,1583.5 705.4,1583.6 703.4,1583.6 703.4,1584.3 701.4,1584.3 701.4,1584.6 699.4,1584.6 699.4,1585.4 697.4,1585.4 697.4,1586.7 695.4,1586.7 695.4,1586.7 693.4,1586.7 693.4,1588 691.4,1588 691.4,1588.6 689.4,1588.6 689.4,1589 687.4,1589 687.4,1589.5 685.4,1589.5 685.4,1590 683.4,1590 683.4,1590.9 681.4,1590.9 681.4,1590.9 679.4,1590.9 679.4,1592.3 677.4,1592.3 677.4,1592.6 675.4,1592.6 675.4,1593.6 673.4,1593.6 673.4,1593.4 671.4,1593.4 671.4,1594.4 669.4,1594.4 669.4,1595 667.4,1595 667.4,1595.9 665.4,1595.9 665.4,1595.8 663.4,1595.8 663.4,1596.9 661.4,1596.9 661.4,1597.7 659.4,1597.7 659.4,1597.6 657.4,1597.6 657.4,1598.7 655.4,1598.7 655.4,1598.8 653.4,1598.8 653.4,1600.1 651.4,1600.1 651.4,1600.4 649.4,1600.4 649.4,1601.3 647.4,1601.3 647.4,1601.6 645.4,1601.6 645.4,1602 643.4,1602 643.4,1602.5 641.4,1602.5 641.4,1602.8 639.4,1602.8 639.4,1604.1 637.4,1604.1 637.4,1604 635.4,1604 635.4,1604.5 633.4,1604.5 633.4,1605 631.4,1605 631.4,1605.5 629.4,1605.5 629.4,1606.5 627.4,1606.5 627.4,1606.6 625.4,1606.6 625.4,1607.7 623.4,1607.7 623.4,1608 621.4,1608 621.4,1607.9 619.4,1607.9 619.4,1609.2 617.4,1609.2 617.4,1609.8 615.4,1609.8 615.4,1609.8 613.4,1609.8 613.4,1610.6 611.4,1610.6 611.4,1610.3 609.4,1610.3 609.4,1611.6 607.4,1611.6 607.4,1611.5 605.4,1611.5 605.4,1611.5 603.4,1611.5 603.4,1612.4 601.4,1612.4 601.4,1612.2 599.4,1612.2 599.4,1613.1 597.4,1613.1 597.4,1613.6 595.4,1613.6 595.4,1613.5 593.4,1613.5 593.4,1613.6 591.4,1613.6 591.4,1614.5 589.4,1614.5 589.4,1614.9 587.4,1614.9 587.4,1615 585.4,1615 585.4,1615.3 583.4,1615.3 583.4,1615.6 581.4,1615.6 581.4,1615.8 579.4,1615.8 579.4,1616 577.4,1616 577.4,1616.3 575.4,1616.3 575.4,1617 573.4,1617 573.4,1617.3 571.4,1617.3 571.4,1617.5 569.4,1617.5 569.4,1617.9 567.4,1617.9 567.4,1618.2 565.4,1618.2 565.4,1618.3 563.4,1618.3 563.4,1618.8 561.4,1618.8 561.4,1619 559.4,1619 559.4,1619.3 557.4,1619.3 557.4,1619.4 555.4,1619.4 555.4,1619.7 553.4,1619.7 553.4,1620.1 551.4,1620.1 551.4,1620.3 549.4,1620.3 549.4,1620.6 547.4,1620.6 547.4,1620.8 545.4,1620.8 545.4,1621.1 543.4,1621.1 543.4,1621.3 541.4,1621.3 541.4,1621.6 539.4,1621.6 539.4,1621.8 537.4,1621.8 537.4,1622.1 535.4,1622.1"/>
<polygon fill="#f00" points="1823,1431.4 1825,1431.4 1825,1431.7 1827,1431.7 1827,1432 1829,1432 1829,1432.3 1831,1432.3 1831,1432.7 1833,1432.7 1833,1433 1835,1433 1835,1433.4 1837,1433.4 1837,1433.6 1839,1433.6 1839,1434 1841,1434 1841,1434.4 1843,1434.4 1843,1434.8 1845,1434.8 1845,1435.2 1847,1435.2 1847,1435.4 1849,1435.4 1849,1435.8 1851,1435.8 1851,1436.1 1853,1436.1 1853,1436.6 1855,1436.6 1855,1437 1857,1437 1857,1437.3 1859,1437.3 1859,1437.7 1861,1437.7 1861,1438.1 1863,1438.1 1863,1438.8 1865,1438.8 1865,1439.1 1867,1439.1 1867,1439.3 1869,1439.3 1869,1440 1871,1440 1871,1440.2 1873,1440.2 1873,1440.9 1875,1440.9 1875,1441.1 1877,1441.1 1877,1442.1 1879,1442.1 1879,1442.6 1881,1442.6 1881,1443.1 1883,1443.1 1883,1443.3 1885,1443.3 1885,1443.8 1887,1443.8 1887,1443.8 1889,1443.8 1889,1444.2 1891,1444.2 1891,1445.5 1893,1445.5 1893,1445.4 1895,1445.4 1895,1446.2 1897,1446.2 1897,1446.4 1899,1446.4 1899,1447.5 1901,1447.5 1901,1447.7 1903,1447.7 1903,1449 1905,1449 1905,1449.2 1907,1449.2 1907,1449.9 1909,1449.9 1909,1450.6 1911,1450.6 1911,1451.2 1913,1451.2 1913,1451.7 1915,1451.7 1915,1452.2 1917,1452.2 1917,1452.8 1919,1452.8 1919,1453.2 1921,1453.2 1921,1453.8 1923,1453.8 1923,1454.3 1925,1454.3 1925,1455.2 1927,1455.2 1927,1456.2 1929,1456.2 1929,1456.6 1931,1456.6 1931,1457.3 1933,1457.3 1933,1458.2 1935,1458.2 1935,1458.7 1937,1458.7 1937,1459.5 1939,1459.5 1939,1459.8 1941,1459.8 1941,1460.9 1943,1460.9 1943,1461.1 1945,1461.1 1945,1461.9 1947,1461.9 1947,1462.9 1949,1462.9 1949,1463.3 1951,1463.3 1951,1463.3 1953,1463.3 1953,1464.3 1955,1464.3 1955,1465.5 1957,1465.5 1957,1465.7 1959,1465.7 1959,1466.3 1961,1466.3 1961,1467.5 1963,1467.5 1963,1467.9 1965,1467.9 1965,1468.8 1967,1468.8 1967,1469.2 1969,1469.2 1969,1469.7 1971,1469.7 1971,1471 1973,1471 1973,1471.8 1975,1471.8 1975,1472.5 1977,1472.5 1977,1472.8 1979,1472.8 1979,1474.1 1981,1474.1 1981,1474.4 1983,1474.4 1983,1474.9 1985,1474.9 1985,1475.7 1987,1475.7 1987,1476.5 1989,1476.5 1989,1477.9 1991,1477.9 1991,1478.3 1993,1478.3 1993,1479.2 1995,1479.2 1995,1479.7 1997,1479.7 1997,1480.8 1999,1480.8 1999,1481.6 2001,1481.6 2001,1481.6 2003,1481.6 2003,1482.4 2005,1482.4 2005,1484 2007,1484 2007,1484.1 2009,1484.1 2009,1485.6 2011,1485.6 2011,1486.1 2013,1486.1 2013,1486.2 2015,1486.2 2015,1487.1 2017,1487.1 2017,1488.3 2019,1488.3 2019,1488.8 2021,1488.8 2021,1489.9 2023,1489.9 2023,1490.2 2025,1490.2 2025,1491.5 2027,1491.5 2027,1492.4 2029,1492.4 2029,1493.3 2031,1493.3 2031,1493.5 2033,1493.5 2033,1494.4 2035,1494.4 2035,1494.8 2037,1494.8 2037,1496.3 2039,1496.3 2039,1496.4 2041,1496.4 2041,1497 2043,1497 2043,1498 2045,1498 2045,1499.3 2047,1499.3 2047,1500 2049,1500 2049,1500.8 2051,1500.8 2051,1501.3 2053,1501.3 2053,1501.6 2055,1501.6 2055,1502.9 2057,1502.9 2057,1503.4 2059,1503.4 2059,1504.5 2061,1504.5 2061,1504.6 2063,1504.6 2063,1505.9 2065,1505.9 2065,1505.9 2067,1505.9 2067,1506.8 2069,1506.8 2069,1508 2071,1508 2071,1508.2 2073,1508.2 2073,1509.3 2075,1509.3 2075,1509.8 2077,1509.8 2077,1510.5 2079,1510.5 2079,1511.5 2081,1511.5 2081,1512.1 2083,1512.1 2083,1512.4 2085,1512.4 2085,1513.1 2087,1513.1 2087,1513.8 2089,1513.8 2089,1514.8 2091,1514.8 2091,1515.2 2093,1515.2 2093,1516.7 2095,1516.7 2095,1516.6 2097,1516.6 2097,1518.2 2099,1518.2 2099,1518.1 2101,1518.1 2101,1518.9 2103,1518.9 2103,1520 2105,1520 2105,1520.3 2107,1520.3 2107,1520.9 2109,1520.9 2109,1522.3 2111,1522.3 2111,1522.6 2113,1522.6 2113,1523.9 2115,1523.9 2115,1524 2117,1524 2117,1525.3 2119,1525.3 2119,1525.4 2121,1525.4 2121,1526.7 2123,1526.7 2123,1527 2125,1527 2125,1527.3 2127,1527.3 2127,1528.5 2129,1528.5 2129,1528.6 2131,1528.6 2131,1529.8 2133,1529.8 2133,1530.7 2135,1530.7 2135,1530.7 2137,1530.7 2137,1532.1 2139,1532.1 2139,1532.4 2141,1532.4 2141,1532.7 2143,1532.7 2143,1533.4 2145,1533.4 2145,1534.5 2147,1534.5 2147,1535.5 2149,1535.5 2149,1535.9 2151,1535.9 2151,1536.8 2153,1536.8 2153,1537.4 2155,1537.4 2155,1538.1 2157,1538.1 2157,1538.9 2159,1538.9 2159,1539.7 2161,1539.7 2161,1539.7 2163,1539.7 2163,1541.1 2165,1541.1 2165,1541.2 2167,1541.2 2167,1542.1 2169,1542.1 2169,1542.5 2171,1542.5 2171,1543.2 2173,1543.2 2173,1544 2175,1544 2175,1544.3 2177,1544.3 2177,1545.2 2179,1545.2 2179,1545.5 2181,1545.5 2181,1546.5 2183,1546.5 2183,1546.9 2185,1546.9 2185,1547.5 2187,1547.5 2187,1548.3 2189,1548.3 2189,1549.4 2191,1549.4 2191,1549.9 2193,1549.9 2193,1550.9 2195,1550.9 2195,1550.9 2197,1550.9 2197,1551.7 2199,1551.7 2199,1552.1 2201,1552.1 2201,1553.5 2203,1553.5 2203,1554.1 2205,1554.1 2205,1554.2 2207,1554.2 2207,1554.8 2209,1554.8 2209,1556.1 2211,1556.1 2211,1556.8 2213,1556.8 2213,1557.1 2215,1557.1 2215,1557.7 2217,1557.7 2217,1558.7 2219,1558.7 2219,1559.3 2221,1559.3 2221,1559.8 2223,1559.8 2223,1560.6 2225,1560.6 2225,1561.1 2227,1561.1 2227,1561.8 2229,1561.8 2229,1562.1 2231,1562.1 2231,1562.4 2233,1562.4 2233,1563.1 2235,1563.1 2235,1563.8 2237,1563.8 2237,1564.5 2239,1564.5 2239,1565.4 2241,1565.4 2241,1566.2 2243,1566.2 2243,1566.7 2245,1566.7 2245,1566.6 2247,1566.6 2247,1567.3 2249,1567.3 2249,1568.2 2251,1568.2 2251,1568.7 2253,1568.7 2253,1569.2 2255,1569.2 2255,1569.8 2257,1569.8 2257,1570.9 2259,1570.9 2259,1571 2261,1571 2261,1583 2259,1583 2259,1582.6 2257,1582.6 2257,1582.1 2255,1582.1 2255,1581.3 2253,1581.3 2253,1581.2 2251,1581.2 2251,1580.1 2249,1580.1 2249,1580 2247,1580 2247,1579 2245,1579 2245,1578 2243,1578 2243,1577.9 2241,1577.9 2241,1577.7 2239,1577.7 2239,1576.3 2237,1576.3 2237,1576 2235,1576 2235,1575.5 2233,1575.5 2233,1574.8 2231,1574.8 2231,1573.7 2229,1573.7 2229,1574 2227,1574 2227,1573.3 2225,1573.3 2225,1572.6 2223,1572.6 2223,1571.3 2221,1571.3 2221,1570.9 2219,1570.9 2219,1570.7 2217,1570.7 2217,1569.8 2215,1569.8 2215,1569 2213,1569 2213,1568 2211,1568 2211,1567.4 2209,1567.4 2209,1566.7 2207,1566.7 2207,1566.2 2205,1566.2 2205,1565.5 2203,1565.5 2203,1565.4 2201,1565.4 2201,1565 2199,1565 2199,1564.1 2197,1564.1 2197,1563.3 2195,1563.3 2195,1563 2193,1563 2193,1562.3 2191,1562.3 2191,1561.7 2189,1561.7 2189,1560.5 2187,1560.5 2187,1559.7 2185,1559.7 2185,1559.7 2183,1559.7 2183,1558.7 2181,1558.7 2181,1558.3 2179,1558.3 2179,1556.9 2177,1556.9 2177,1556.8 2175,1556.8 2175,1556.5 2173,1556.5 2173,1555.7 2171,1555.7 2171,1554.4 2169,1554.4 2169,1554.3 2167,1554.3 2167,1553.1 2165,1553.1 2165,1553.1 2163,1553.1 2163,1551.7 2161,1551.7 2161,1551 2159,1551 2159,1550.7 2157,1550.7 2157,1550.2 2155,1550.2 2155,1549.6 2153,1549.6 2153,1549.2 2151,1549.2 2151,1548.2 2149,1548.2 2149,1547.8 2147,1547.8 2147,1547 2145,1547 2145,1545.8 2143,1545.8 2143,1545.6 2141,1545.6 2141,1544.6 2139,1544.6 2139,1544.3 2137,1544.3 2137,1543.5 2135,1543.5 2135,1542.3 2133,1542.3 2133,1541.8 2131,1541.8 2131,1541.1 2129,1541.1 2129,1540.4 2127,1540.4 2127,1539.7 2125,1539.7 2125,1539.4 2123,1539.4 2123,1538.8 2121,1538.8 2121,1538.1 2119,1538.1 2119,1536.5 2117,1536.5 2117,1536.5 2115,1536.5 2115,1535.4 2113,1535.4 2113,1534.8 2111,1534.8 2111,1534.3 2109,1534.3 2109,1533.4 2107,1533.4 2107,1533 2105,1533 2105,1532.1 2103,1532.1 2103,1531.5 2101,1531.5 2101,1530.9 2099,1530.9 2099,1529.9 2097,1529.9 2097,1529.4 2095,1529.4 2095,1528.2 2093,1528.2 2093,1527.2 2091,1527.2 2091,1526.9 2089,1526.9 2089,1526.2 2087,1526.2 2087,1525.8 2085,1525.8 2085,1525.3 2083,1525.3 2083,1524.5 2081,1524.5 2081,1523.4 2079,1523.4 2079,1522.7 2077,1522.7 2077,1522.4 2075,1522.4 2075,1521.3 2073,1521.3 2073,1520.7 2071,1520.7 2071,1520.3 2069,1520.3 2069,1519.1 2067,1519.1 2067,1518.2 2065,1518.2 2065,1517.8 2063,1517.8 2063,1516.6 2061,1516.6 2061,1516.1 2059,1516.1 2059,1515.9 2057,1515.9 2057,1514.4 2055,1514.4 2055,1513.6 2053,1513.6 2053,1512.9 2051,1512.9 2051,1512.8 2049,1512.8 2049,1511.4 2047,1511.4 2047,1510.6 2045,1510.6 2045,1510.2 2043,1510.2 2043,1510 2041,1510 2041,1508.8 2039,1508.8 2039,1508 2037,1508 2037,1507.2 2035,1507.2 2035,1506.1 2033,1506.1 2033,1506 2031,1506 2031,1504.5 2029,1504.5 2029,1504.7 2027,1504.7 2027,1503.2 2025,1503.2 2025,1503.1 2023,1503.1 2023,1502.3 2021,1502.3 2021,1501 2019,1501 2019,1500 2017,1500 2017,1499.5 2015,1499.5 2015,1498.8 2013,1498.8 2013,1497.9 2011,1497.9 2011,1497.7 2009,1497.7 2009,1496.5 2007,1496.5 2007,1495.5 2005,1495.5 2005,1494.7 2003,1494.7 2003,1494.5 2001,1494.5 2001,1493 1999,1493 1999,1492.9 1997,1492.9 1997,1491.4 1995,1491.4 1995,1490.9 1993,1490.9 1993,1490.4 1991,1490.4 1991,1489.6 1989,1489.6 1989,1488.7 1987,1488.7 1987,1487.9 1985,1487.9 1985,1487.6 1983,1487.6 1983,1486.3 1981,1486.3 1981,1485.7 1979,1485.7 1979,1484.8 1977,1484.8 1977,1484 1975,1484 1975,1484 1973,1484 1973,1483.1 1971,1483.1 1971,1482.3 1969,1482.3 1969,1481.3 1967,1481.3 1967,1480.4 1965,1480.4 1965,1480.1 1963,1480.1 1963,1479.2 1961,1479.2 1961,1479.1 1959,1479.1 1959,1477.5 1957,1477.5 1957,1477 1955,1477 1955,1476.2 1953,1476.2 1953,1476 1951,1476 1951,1474.7 1949,1474.7 1949,1474.7 1947,1474.7 1947,1474.2 1945,1474.2 1945,1472.9 1943,1472.9 1943,1472.3 1941,1472.3 1941,1472.1 1939,1472.1 1939,1471.7 1937,1471.7 1937,1470.5 1935,1470.5 1935,1469.6 1933,1469.6 1933,1469.1 1931,1469.1 1931,1468.4 1929,1468.4 1929,1468.6 1927,1468.6 1927,1467.8 1925,1467.8 1925,1467.1 1923,1467.1 1923,1465.9 1921,1465.9 1921,1465.9 1919,1465.9 1919,1464.7 1917,1464.7 1917,1464.2 1915,1464.2 1915,1463.8 1913,1463.8 1913,1462.6 1911,1462.6 1911,1462.8 1909,1462.8 1909,1461.8 1907,1461.8 1907,1461.4 1905,1461.4 1905,1460.4 1903,1460.4 1903,1459.8 1901,1459.8 1901,1459.7 1899,1459.7 1899,1459 1897,1459 1897,1458.1 1895,1458.1 1895,1457.6 1893,1457.6 1893,1457 1891,1457 1891,1456.2 1889,1456.2 1889,1455.4 1887,1455.4 1887,1454.6 1885,1454.6 1885,1454.2 1883,1454.2 1883,1453.5 1881,1453.5 1881,1452.8 1879,1452.8 1879,1452.7 1877,1452.7 1877,1451.5 1875,1451.5 1875,1451 1873,1451 1873,1450.4 1871,1450.4 1871,1449.9 1869,1449.9 1869,1449.2 1867,1449.2 1867,1448.7 1865,1448.7 1865,1448 1863,1448 1863,1447.7 1861,1447.7 1861,1446.8 1859,1446.8 1859,1446.4 1857,1446.4 1857,1446 1855,1446 1855,1445.2 1853,1445.2 1853,1444.7 1851,1444.7 1851,1444.1 1849,1444.1 1849,1443.7 1847,1443.7 1847,1443 1845,1443 1845,1442.4 1843,1442.4 1843,1442 1841,1442 1841,1441.4 1839,1441.4 1839,1440.9 1837,1440.9 1837,1440.5 1835,1440.5 1835,1440 1833,1440 1833,1439.5 1831,1439.5 1831,1438.9 1829,1438.9 1829,1438.4 1827,1438.4 1827,1437.9 1825,1437.9 1825,1437.5 1823,1437.5"/>
</g>
<rect x="852.6" y="1811.4" width="1198.7" height="61.2" fill="#fff" stroke="#262626" stroke-width="2.2"/>
<path d="M866 1842.4 H996" stroke="#0f0" stroke-width="6.3" stroke-dasharray="24.3 24.7 26.2 24.5 26.4 100" fill="none"/>
<path d="M1120.6 1842.4 H1250.6" stroke="#00f" stroke-width="6.3" stroke-dasharray="24.5 6.8 11.3 6.8 25.6 7.4 11.4 7 24.8 100" fill="none"/>
<path d="M1451 1842.4 H1581" stroke="#f00" stroke-width="6.3" fill="none"/>
<g font-size="39.5" fill="#000" stroke="#fff" stroke-width="0.5">
<text x="1006.7" y="1857.4">SMC</text>
<text x="1259.3" y="1857.4">NFTSMC</text>
<text x="1591.2" y="1857.4">Designed Control Method</text>
</g>
<g font-size="44.0" fill="#262626" stroke="#fff" stroke-width="0.7">
<text x="182.3" y="1977.4" text-anchor="middle">0</text>
<text x="390" y="1977.4" text-anchor="middle">1</text>
<text x="597.7" y="1977.4" text-anchor="middle">2</text>
<text x="805.3" y="1977.4" text-anchor="middle">3</text>
<text x="1013" y="1977.4" text-anchor="middle">4</text>
<text x="1220.7" y="1977.4" text-anchor="middle">5</text>
<text x="1428.4" y="1977.4" text-anchor="middle">6</text>
<text x="1636.1" y="1977.4" text-anchor="middle">7</text>
<text x="1843.7" y="1977.4" text-anchor="middle">8</text>
<text x="2051.4" y="1977.4" text-anchor="middle">9</text>
<text x="2259.1" y="1977.4" text-anchor="middle">10</text>
<text x="164.3" y="1184.1" text-anchor="end">50</text>
<text x="164.3" y="1428.9" text-anchor="end">0</text>
<text x="164.3" y="1673.7" text-anchor="end">-50</text>
<text x="164.3" y="1918.5" text-anchor="end">-100</text>
</g>
<text x="1220.7" y="2040.9" text-anchor="middle" font-size="48.3" letter-spacing="0.25" fill="#262626" stroke="#fff" stroke-width="0.6">time(s)</text>
<text transform="translate(54.7 1530) rotate(-90)" text-anchor="middle" font-size="48.3" letter-spacing="0.65" fill="#262626" stroke="#fff" stroke-width="0.6">Torque 2,N</text>
<text x="1219.2" y="1130.8" text-anchor="middle" font-size="48.3" font-weight="bold" fill="#000" stroke="#fff" stroke-width="0.8">(b) at Joint 2</text>
<!-- (c) Joint 3 -->
<path d="M390 2215.4 V2988.8 M597.7 2215.4 V2988.8 M805.3 2215.4 V2988.8 M1013 2215.4 V2988.8 M1220.7 2215.4 V2988.8 M1428.4 2215.4 V2988.8 M1636.1 2215.4 V2988.8 M1843.7 2215.4 V2988.8 M2051.4 2215.4 V2988.8 M182.3 2326.2 H2259.1 M182.3 2436.6 H2259.1 M182.3 2547 H2259.1 M182.3 2657.4 H2259.1 M182.3 2767.8 H2259.1 M182.3 2878.2 H2259.1" stroke="#dcdcdc" stroke-width="1.6" fill="none"/>
<rect x="182.3" y="2215.4" width="2076.8" height="773.4" fill="none" stroke="#262626" stroke-width="2.2"/>
<path d="M390 2988.8 v-20.8 M390 2215.4 v20.8 M597.7 2988.8 v-20.8 M597.7 2215.4 v20.8 M805.3 2988.8 v-20.8 M805.3 2215.4 v20.8 M1013 2988.8 v-20.8 M1013 2215.4 v20.8 M1220.7 2988.8 v-20.8 M1220.7 2215.4 v20.8 M1428.4 2988.8 v-20.8 M1428.4 2215.4 v20.8 M1636.1 2988.8 v-20.8 M1636.1 2215.4 v20.8 M1843.7 2988.8 v-20.8 M1843.7 2215.4 v20.8 M2051.4 2988.8 v-20.8 M2051.4 2215.4 v20.8 M182.3 2326.2 h20.8 M2259.1 2326.2 h-20.8 M182.3 2436.6 h20.8 M2259.1 2436.6 h-20.8 M182.3 2547 h20.8 M2259.1 2547 h-20.8 M182.3 2657.4 h20.8 M2259.1 2657.4 h-20.8 M182.3 2767.8 h20.8 M2259.1 2767.8 h-20.8 M182.3 2878.2 h20.8 M2259.1 2878.2 h-20.8" stroke="#262626" stroke-width="2.2" fill="none"/>
<g clip-path="url(#c3)">
<path d="M182.3 2410.1 L188.5 2430 L194.8 2441" stroke="#0f0" stroke-width="6.3" stroke-dasharray="26 24" fill="none"/>
<polygon fill="#0f0" points="205.1,2422.2 223.8,2424.5 244.6,2427.2 273.7,2430 273.7,2491.8 205.1,2491.8"/>
<path d="M2165.6 2340.3 L2262.1 2371.9" stroke="#0f0" stroke-width="2.4" fill="none"/>
<path d="M182.3 2299.7 L187.7 2356 L193.7 2392.4" stroke="#00f" stroke-width="6.3" stroke-dasharray="25 7 11.5 7" fill="none"/>
<polygon fill="#00f" points="191.6,2382.9 194.6,2399.1 197.6,2416.3 200.6,2431 203.6,2443.8 206.6,2457.3 209.6,2467.3 212.6,2466.6 215.6,2465.1 218.6,2459.4 221.6,2457.8 224.6,2453.1 227.6,2450.8 230.6,2447.9 233.6,2447.2 236.6,2444.6 239.6,2443 242.6,2439.8 245.6,2438.8 248.6,2438.7 251.6,2436.6 254.6,2435.5 257.6,2433.6 260.6,2431.6 263.6,2432.1 266.6,2429.2 269.6,2427.8 272.6,2427.8 275.6,2425.1 278.6,2425.6 281.6,2424.2 284.6,2422 287.6,2421 290.6,2419.5 293.6,2417.1 296.6,2415.8 299.6,2415.1 302.6,2412.8 305.6,2411.9 308.6,2411 311.6,2410.2 314.6,2408.6 317.6,2406.4 320.6,2406.4 323.6,2405.2 326.6,2403.5 329.6,2402.2 332.6,2399.7 335.6,2399.8 338.6,2397.8 341.6,2395.4 344.6,2395.4 347.6,2393.9 350.6,2392.4 353.6,2390.8 356.6,2390.2 359.6,2388.8 362.6,2387.1 365.6,2384.5 368.6,2383.6 371.6,2384.2 374.6,2381.5 377.6,2380.8 380.6,2378.2 383.6,2378.1 386.6,2376.9 389.6,2376.1 392.6,2375.4 395.6,2372.8 398.6,2371.2 401.6,2369.6 404.6,2368.9 407.6,2367.9 410.6,2368 413.6,2365.7 416.6,2364.9 419.6,2363.8 422.6,2360.8 425.6,2360.2 428.6,2359.8 431.6,2357.4 434.6,2356.4 437.6,2356.8 440.6,2355.4 443.6,2352.9 446.6,2351.7 449.6,2352.4 452.6,2350.3 455.6,2348.8 458.6,2348.7 461.6,2347.4 464.6,2347.1 467.6,2343.8 470.6,2344.4 473.6,2342.5 476.6,2340.9 479.6,2340.5 482.6,2338.2 485.6,2337.4 488.6,2336.3 491.6,2336.8 494.6,2335.8 497.6,2333.6 500.6,2332.7 503.6,2332.9 506.6,2330.9 509.6,2329.8 512.6,2330.3 515.6,2328.3 518.6,2327.2 521.6,2326.4 524.6,2324 527.6,2323.9 530.6,2323.9 533.6,2322.6 536.6,2322.2 539.6,2319.8 542.6,2319.3 545.6,2317.7 548.6,2316.7 551.6,2315.5 554.6,2314.8 557.6,2313.8 560.6,2313.6 563.6,2312.7 566.6,2312.7 569.6,2311.8 572.6,2310.4 575.6,2309.8 578.6,2308.5 581.6,2307.3 584.6,2306.9 587.6,2306.4 590.6,2306.5 593.6,2305.3 596.6,2302.7 599.6,2303.4 602.6,2301.3 605.6,2301.9 608.6,2301.7 611.6,2300.7 614.6,2298.6 617.6,2298.7 620.6,2297.4 623.6,2298 626.6,2297.5 629.6,2296.9 632.6,2295.4 635.6,2295.4 638.6,2293.8 641.6,2295 644.6,2294.4 647.6,2291.6 650.6,2292.3 653.6,2292.1 656.6,2290.3 659.6,2289.2 662.6,2288.6 665.6,2289.7 668.6,2287.4 671.6,2287.7 674.6,2288.2 677.6,2285.7 680.6,2286.7 683.6,2285.3 686.6,2284.6 689.6,2284.2 692.6,2283.2 695.6,2283.7 698.6,2282.5 701.6,2281.1 704.6,2279.7 707.6,2279.8 710.6,2280.1 713.6,2278.9 716.6,2275.9 719.6,2275.6 722.6,2274.9 725.6,2273.7 728.6,2272 731.6,2271.2 734.6,2271.2 737.6,2270.8 740.6,2270 743.6,2269.2 746.6,2268.5 749.6,2266.3 752.6,2266.5 755.6,2266.4 758.6,2265.9 761.6,2266 764.6,2265.7 767.6,2265.3 770.6,2264.2 773.6,2266.1 776.6,2266.1 779.6,2265 782.6,2264 785.6,2264.2 788.6,2265.2 791.6,2264.3 794.6,2264.4 797.6,2264.4 800.6,2265 803.6,2264.2 806.6,2262.8 809.6,2263.8 812.6,2264.8 815.6,2262.8 818.6,2262.6 821.6,2262.6 824.6,2262.7 827.6,2262.9 830.6,2264.4 833.6,2264 836.6,2264.4 839.6,2263.9 842.6,2263.4 845.6,2264.5 848.6,2262.9 851.6,2263.4 854.6,2263.6 857.6,2264.2 860.6,2264.5 863.6,2264.1 866.6,2264.4 869.6,2263.9 872.6,2265 875.6,2266 878.6,2265.4 881.6,2266.6 884.6,2266.5 887.6,2267 890.6,2267.7 893.6,2267 896.6,2267.7 899.6,2268.1 902.6,2269.5 905.6,2270.3 908.6,2270.8 911.6,2270 914.6,2270.7 917.6,2270.6 920.6,2272.3 923.6,2272.1 926.6,2272.2 929.6,2272.5 932.6,2274.7 935.6,2273.9 938.6,2275.6 941.6,2274.3 944.6,2274.5 947.6,2276.1 950.6,2277.1 953.6,2275.6 956.6,2277.8 959.6,2277.5 962.6,2278.7 965.6,2279.2 968.6,2278.4 971.6,2280.1 974.6,2278.6 977.6,2279.7 980.6,2280.2 983.6,2280.1 986.6,2281.2 989.6,2282.3 992.6,2281.1 995.6,2282.5 998.6,2283.1 1001.6,2282.7 1004.6,2284.3 1007.6,2283.8 1010.6,2285.1 1013.6,2285.6 1016.6,2286.5 1019.6,2287.5 1022.6,2288 1025.6,2287.5 1028.6,2287.4 1031.6,2287.9 1034.6,2289.8 1037.6,2290.3 1040.6,2291 1043.6,2291.7 1046.6,2291.6 1049.6,2293 1052.6,2293 1055.6,2293.6 1058.6,2294.7 1061.6,2294.8 1064.6,2295.7 1067.6,2296.7 1070.6,2296 1073.6,2297.5 1076.6,2296.9 1079.6,2298 1082.6,2299.5 1085.6,2300.4 1088.6,2300.9 1091.6,2301 1094.6,2301.7 1097.6,2302.4 1100.6,2302.2 1103.6,2301.8 1106.6,2301.8 1109.6,2304.1 1112.6,2304.6 1115.6,2305 1118.6,2305.1 1121.6,2305.8 1124.6,2306.4 1127.6,2306.4 1130.6,2307.2 1133.6,2306.6 1136.6,2307.9 1139.6,2308.7 1142.6,2309 1145.6,2308.8 1148.6,2309 1151.6,2310.8 1154.6,2310 1157.6,2312.2 1160.6,2311.1 1163.6,2313.1 1166.6,2312.5 1169.6,2314.3 1172.6,2313.1 1175.6,2313.4 1178.6,2315.1 1181.6,2315.7 1184.6,2315 1187.6,2315.7 1190.6,2316.5 1193.6,2315.9 1196.6,2316.4 1199.6,2317.1 1202.6,2316.7 1205.6,2316.5 1208.6,2318.6 1211.6,2316.7 1214.6,2319 1217.6,2318.7 1220.6,2317.7 1223.6,2318.8 1226.6,2316.8 1229.6,2318 1232.6,2317.5 1235.6,2317.4 1238.6,2318.9 1241.6,2316.7 1244.6,2318.8 1247.6,2316.8 1250.6,2318.3 1253.6,2317.3 1256.6,2317.9 1259.6,2318.9 1262.6,2318.6 1265.6,2316.9 1268.6,2317.4 1271.6,2317.8 1274.6,2318.4 1277.6,2316.6 1280.6,2318.8 1283.6,2318.7 1286.6,2319 1289.6,2317.1 1292.6,2317.2 1295.6,2318.7 1298.6,2317.9 1301.6,2317.2 1304.6,2316.7 1307.6,2317.2 1310.6,2318.3 1313.6,2318.5 1316.6,2317.5 1319.6,2318.9 1322.6,2317.9 1325.6,2317.9 1328.6,2317.6 1331.6,2317.6 1334.6,2317.4 1337.6,2318.4 1340.6,2317.4 1343.6,2316.7 1346.6,2317.1 1349.6,2318.1 1352.6,2317.2 1355.6,2315.7 1358.6,2316.2 1361.6,2316.1 1364.6,2314.7 1367.6,2316.9 1370.6,2316.5 1373.6,2314.1 1376.6,2315 1379.6,2314.1 1382.6,2313.5 1385.6,2313.3 1388.6,2312.4 1391.6,2313.7 1394.6,2312.6 1397.6,2313 1400.6,2313 1403.6,2312 1406.6,2311.1 1409.6,2310.3 1412.6,2311.2 1415.6,2310.9 1418.6,2310.8 1421.6,2308.9 1424.6,2308.3 1427.6,2310.1 1430.6,2309.1 1433.6,2307.4 1436.6,2308.6 1439.6,2306.6 1442.6,2307.7 1445.6,2307.1 1448.6,2307.1 1451.6,2305.2 1454.6,2306.8 1457.6,2306.5 1460.6,2306.1 1463.6,2305.2 1466.6,2303.6 1469.6,2304.8 1472.6,2303.4 1475.6,2303.2 1478.6,2302.6 1481.6,2301 1484.6,2302.2 1487.6,2301.2 1490.6,2299.6 1493.6,2299.5 1496.6,2298.5 1499.6,2298.7 1502.6,2299.6 1505.6,2297.6 1508.6,2297.1 1511.6,2297.7 1514.6,2295.4 1517.6,2295 1520.6,2296.1 1523.6,2294 1526.6,2294.7 1529.6,2294.8 1532.6,2293.7 1535.6,2292 1538.6,2291.8 1541.6,2292.2 1544.6,2292.7 1547.6,2291.4 1550.6,2291 1553.6,2290.3 1556.6,2289.1 1559.6,2289.3 1562.6,2287.3 1565.6,2287.8 1568.6,2288.2 1571.6,2286.2 1574.6,2286.8 1577.6,2286.4 1580.6,2284.5 1583.6,2285.7 1586.6,2283.7 1589.6,2284.9 1592.6,2282.9 1595.6,2283 1598.6,2283.3 1601.6,2282.5 1604.6,2281.1 1607.6,2279.9 1610.6,2280.4 1613.6,2279.8 1616.6,2278 1619.6,2278.3 1622.6,2279.2 1625.6,2277.7 1628.6,2276.3 1631.6,2277 1634.6,2276 1637.6,2276.7 1640.6,2275.2 1643.6,2273.5 1646.6,2273.4 1649.6,2272.9 1652.6,2274.4 1655.6,2272.4 1658.6,2271.9 1661.6,2273 1664.6,2270.6 1667.6,2271.2 1670.6,2271.5 1673.6,2271 1676.6,2268.6 1679.6,2268.9 1682.6,2267.9 1685.6,2268.6 1688.6,2267 1691.6,2266.3 1694.6,2266.1 1697.6,2265.3 1700.6,2266.3 1703.6,2264.8 1706.6,2264.7 1709.6,2263.9 1712.6,2263.8 1715.6,2263.2 1718.6,2262.9 1721.6,2263.3 1724.6,2261.6 1727.6,2262.5 1730.6,2261.2 1733.6,2260.2 1736.6,2259.9 1739.6,2261.5 1742.6,2259 1745.6,2259.2 1748.6,2260.2 1751.6,2257.8 1754.6,2257.7 1757.6,2257.5 1760.6,2258.4 1763.6,2256.2 1766.6,2257.9 1769.6,2255.5 1772.6,2256.3 1775.6,2256.5 1778.6,2255.7 1781.6,2255.3 1784.6,2255 1787.6,2254.4 1790.6,2256.2 1793.6,2254.7 1796.6,2255.3 1799.6,2255.1 1802.6,2256.1 1805.6,2254.3 1808.6,2254.1 1811.6,2255.9 1814.6,2255 1817.6,2255.3 1820.6,2255.3 1823.6,2255.6 1826.6,2255.8 1829.6,2255.4 1832.6,2253.7 1835.6,2255.8 1838.6,2253.8 1841.6,2255.8 1844.6,2253.7 1847.6,2255.7 1850.6,2255.4 1853.6,2254 1856.6,2256 1859.6,2255.7 1862.6,2254.8 1865.6,2256.9 1868.6,2256.5 1871.6,2256.5 1874.6,2258 1877.6,2256.5 1880.6,2256.7 1883.6,2258.9 1886.6,2257.4 1889.6,2259.4 1892.6,2258.3 1895.6,2260.1 1898.6,2259.5 1901.6,2260.5 1904.6,2260.9 1907.6,2260.9 1910.6,2261.8 1913.6,2262.7 1916.6,2262.1 1919.6,2264.7 1922.6,2265.1 1925.6,2264.3 1928.6,2265.1 1931.6,2266.2 1934.6,2267.9 1937.6,2268 1940.6,2268.2 1943.6,2270.1 1946.6,2269.4 1949.6,2271.4 1952.6,2272.3 1955.6,2271.4 1958.6,2273.3 1961.6,2274.1 1964.6,2275.8 1967.6,2274.9 1970.6,2276.1 1973.6,2278.1 1976.6,2276.9 1979.6,2279.7 1982.6,2279.2 1985.6,2279.9 1988.6,2282.4 1991.6,2281.8 1994.6,2282.3 1997.6,2283 2000.6,2285.1 2003.6,2285.8 2006.6,2285.7 2009.6,2287.3 2012.6,2287.6 2015.6,2289.9 2018.6,2289.6 2021.6,2291.2 2024.6,2292.9 2027.6,2292.1 2030.6,2294.8 2033.6,2294.6 2036.6,2295.9 2039.6,2295.9 2042.6,2297.9 2045.6,2298.9 2048.6,2299.6 2051.6,2301.2 2054.6,2301.2 2057.6,2301 2060.6,2304.2 2063.6,2304.4 2066.6,2305.5 2069.6,2306.5 2072.6,2306.1 2075.6,2307.8 2078.6,2308.4 2081.6,2310.8 2084.6,2312.4 2087.6,2313 2090.6,2314.5 2093.6,2314.4 2096.6,2314.7 2099.6,2316.8 2102.6,2317.3 2105.6,2318.7 2108.6,2319.6 2111.6,2320.6 2114.6,2323 2117.6,2323.9 2120.6,2325.5 2123.6,2327.1 2126.6,2326.3 2129.6,2329.1 2132.6,2329.8 2135.6,2330.4 2138.6,2332.5 2141.6,2332.4 2144.6,2332.3 2147.6,2333.6 2150.6,2335.1 2153.6,2337.1 2156.6,2337.8 2159.6,2339.2 2162.6,2338.5 2165.6,2340.1 2168.6,2341.9 2171.6,2343.2 2174.6,2343.7 2177.6,2344.2 2180.6,2345.4 2183.6,2347.6 2186.6,2348.5 2189.6,2348.3 2192.6,2351.1 2195.6,2349.8 2198.6,2351.3 2201.6,2352.8 2204.6,2354.8 2207.6,2355.2 2210.6,2356.4 2213.6,2358.1 2216.6,2357.7 2219.6,2358.2 2222.6,2359.8 2225.6,2361.2 2228.6,2361.1 2231.6,2361.8 2234.6,2364.5 2237.6,2366.2 2240.6,2367 2243.6,2366.6 2246.6,2367.8 2249.6,2369.7 2252.6,2371.1 2255.6,2370.5 2258.6,2372.9 2261.6,2372.5 2262.3,2371.1 2262.3,2824.1 2261.6,2823.3 2258.6,2823.4 2255.6,2823 2252.6,2822.6 2249.6,2821.4 2246.6,2818.8 2243.6,2819 2240.6,2817.2 2237.6,2815.7 2234.6,2816.2 2231.6,2813.6 2228.6,2813.7 2225.6,2812 2222.6,2810.3 2219.6,2810.1 2216.6,2809.1 2213.6,2808.4 2210.6,2807.3 2207.6,2806.8 2204.6,2804.9 2201.6,2805 2198.6,2802.4 2195.6,2801.9 2192.6,2800.5 2189.6,2800.9 2186.6,2799.5 2183.6,2798 2180.6,2798 2177.6,2797 2174.6,2795.9 2171.6,2794.2 2168.6,2793.7 2165.6,2792.1 2162.6,2790.2 2159.6,2790 2156.6,2789.5 2153.6,2787.5 2150.6,2785.6 2147.6,2785.4 2144.6,2784.5 2141.6,2782.3 2138.6,2783.6 2135.6,2780.8 2132.6,2779.1 2129.6,2779.1 2126.6,2779.1 2123.6,2776.7 2120.6,2776.6 2117.6,2773.7 2114.6,2773.8 2111.6,2772.4 2108.6,2772.2 2105.6,2769.4 2102.6,2769.2 2099.6,2768.4 2096.6,2767.2 2093.6,2766.7 2090.6,2764.5 2087.6,2763 2084.6,2763.8 2081.6,2762.2 2078.6,2761.9 2075.6,2760.3 2072.6,2758.8 2069.6,2757 2066.6,2756.4 2063.6,2755.3 2060.6,2754.8 2057.6,2753 2054.6,2754.1 2051.6,2753.1 2048.6,2752.1 2045.6,2748.9 2042.6,2749.2 2039.6,2748.3 2036.6,2746.5 2033.6,2745.7 2030.6,2744.5 2027.6,2744.6 2024.6,2743.7 2021.6,2743.4 2018.6,2742.1 2015.6,2739.2 2012.6,2738.7 2009.6,2738.7 2006.6,2738.2 2003.6,2737.1 2000.6,2734.4 1997.6,2734.5 1994.6,2734.3 1991.6,2733.3 1988.6,2731.3 1985.6,2732.3 1982.6,2730.3 1979.6,2730.5 1976.6,2729.7 1973.6,2727.5 1970.6,2727.9 1967.6,2726.9 1964.6,2726.7 1961.6,2726.1 1958.6,2723.6 1955.6,2723.5 1952.6,2722.7 1949.6,2722.6 1946.6,2721.1 1943.6,2722.2 1940.6,2720.3 1937.6,2719.6 1934.6,2718.4 1931.6,2718.9 1928.6,2718.9 1925.6,2718.2 1922.6,2716.7 1919.6,2717.3 1916.6,2716.2 1913.6,2715.4 1910.6,2714.8 1907.6,2713.7 1904.6,2714.1 1901.6,2715 1898.6,2713.3 1895.6,2713.6 1892.6,2712.3 1889.6,2712.2 1886.6,2710.5 1883.6,2711.9 1880.6,2711.7 1877.6,2710.1 1874.6,2710.9 1871.6,2708.5 1868.6,2708.8 1865.6,2708.7 1862.6,2708.6 1859.6,2708.2 1856.6,2707.9 1853.6,2707.2 1850.6,2707.5 1847.6,2707.3 1844.6,2707.4 1841.6,2708.1 1838.6,2708.5 1835.6,2708.5 1832.6,2707.8 1829.6,2706.4 1826.6,2707 1823.6,2707.5 1820.6,2708 1817.6,2706.7 1814.6,2707.2 1811.6,2706.4 1808.6,2705.9 1805.6,2707.9 1802.6,2707.4 1799.6,2705.7 1796.6,2706.7 1793.6,2706.1 1790.6,2705.8 1787.6,2707.6 1784.6,2707.9 1781.6,2705.9 1778.6,2707.6 1775.6,2708.3 1772.6,2707.1 1769.6,2707.8 1766.6,2708.8 1763.6,2708.2 1760.6,2709.3 1757.6,2710.1 1754.6,2708.9 1751.6,2708.6 1748.6,2710.6 1745.6,2710.9 1742.6,2710.3 1739.6,2710 1736.6,2711.2 1733.6,2712 1730.6,2710.9 1727.6,2711.7 1724.6,2711.6 1721.6,2713.8 1718.6,2712.3 1715.6,2713.3 1712.6,2713.1 1709.6,2714.5 1706.6,2714.1 1703.6,2714.7 1700.6,2716.4 1697.6,2716.2 1694.6,2715.8 1691.6,2716.9 1688.6,2716.7 1685.6,2718 1682.6,2717.7 1679.6,2719.7 1676.6,2718.2 1673.6,2720.6 1670.6,2720.1 1667.6,2720.2 1664.6,2721.3 1661.6,2721.4 1658.6,2721 1655.6,2722.1 1652.6,2723.2 1649.6,2723 1646.6,2723.3 1643.6,2724.9 1640.6,2724.9 1637.6,2724.8 1634.6,2725.6 1631.6,2727.2 1628.6,2727.3 1625.6,2725.8 1622.6,2727.7 1619.6,2729.1 1616.6,2727.6 1613.6,2730.2 1610.6,2729.5 1607.6,2730.6 1604.6,2731.1 1601.6,2730.9 1598.6,2732.4 1595.6,2732.9 1592.6,2733.6 1589.6,2733.3 1586.6,2734.2 1583.6,2733.2 1580.6,2735.2 1577.6,2735.9 1574.6,2736.7 1571.6,2737.3 1568.6,2737.5 1565.6,2738.7 1562.6,2736.9 1559.6,2738.5 1556.6,2739 1553.6,2740.3 1550.6,2740.2 1547.6,2740.6 1544.6,2742.1 1541.6,2740.6 1538.6,2741.5 1535.6,2741.3 1532.6,2741.9 1529.6,2743.4 1526.6,2744.6 1523.6,2745.4 1520.6,2744.4 1517.6,2743.9 1514.6,2744.5 1511.6,2746.8 1508.6,2746 1505.6,2747.2 1502.6,2748.3 1499.6,2748.7 1496.6,2748.8 1493.6,2749.5 1490.6,2749 1487.6,2749 1484.6,2749.9 1481.6,2750.6 1478.6,2751.4 1475.6,2751.6 1472.6,2751.6 1469.6,2751.7 1466.6,2751.4 1463.6,2750.9 1460.6,2753.1 1457.6,2752 1454.6,2752.8 1451.6,2752.5 1448.6,2754.4 1445.6,2754.2 1442.6,2753.7 1439.6,2755 1436.6,2754.7 1433.6,2756 1430.6,2756.4 1427.6,2756.9 1424.6,2757.1 1421.6,2757.9 1418.6,2758.1 1415.6,2757.8 1412.6,2757.9 1409.6,2759.7 1406.6,2760 1403.6,2759.3 1400.6,2758.8 1397.6,2759.7 1394.6,2760.1 1391.6,2761.4 1388.6,2762.5 1385.6,2761.1 1382.6,2763.6 1379.6,2763.4 1376.6,2762.8 1373.6,2764.5 1370.6,2765 1367.6,2763.2 1364.6,2764.5 1361.6,2766 1358.6,2766.6 1355.6,2766.6 1352.6,2766.2 1349.6,2766.4 1346.6,2765.2 1343.6,2766.4 1340.6,2766.3 1337.6,2767.7 1334.6,2767.5 1331.6,2766.6 1328.6,2766.9 1325.6,2767.2 1322.6,2766.7 1319.6,2766.5 1316.6,2766.4 1313.6,2766.1 1310.6,2766.3 1307.6,2768.4 1304.6,2767.9 1301.6,2766.5 1298.6,2767.5 1295.6,2767.9 1292.6,2767.2 1289.6,2766.3 1286.6,2766.6 1283.6,2767.6 1280.6,2766.4 1277.6,2765.6 1274.6,2766.3 1271.6,2765.4 1268.6,2766 1265.6,2765.6 1262.6,2765.6 1259.6,2766.2 1256.6,2765.6 1253.6,2766.4 1250.6,2765.9 1247.6,2764.9 1244.6,2764.8 1241.6,2765.6 1238.6,2766.3 1235.6,2765.9 1232.6,2764.3 1229.6,2765.7 1226.6,2765.1 1223.6,2765 1220.6,2764.5 1217.6,2764.2 1214.6,2765.4 1211.6,2764.1 1208.6,2764.3 1205.6,2764.6 1202.6,2763.7 1199.6,2764.9 1196.6,2762.8 1193.6,2764.8 1190.6,2762.9 1187.6,2764.2 1184.6,2763.8 1181.6,2762.7 1178.6,2762.5 1175.6,2761.6 1172.6,2761.2 1169.6,2761 1166.6,2761.2 1163.6,2761.8 1160.6,2760.5 1157.6,2761.5 1154.6,2759.4 1151.6,2760.2 1148.6,2760.4 1145.6,2758.6 1142.6,2759.9 1139.6,2759.5 1136.6,2758 1133.6,2758 1130.6,2757 1127.6,2756.9 1124.6,2756.8 1121.6,2756.9 1118.6,2756.3 1115.6,2755.6 1112.6,2755.7 1109.6,2755.7 1106.6,2754.2 1103.6,2754.2 1100.6,2755 1097.6,2754.8 1094.6,2753.1 1091.6,2752.8 1088.6,2753.5 1085.6,2751.3 1082.6,2752.2 1079.6,2751.2 1076.6,2750 1073.6,2749.6 1070.6,2748.8 1067.6,2748.3 1064.6,2748.9 1061.6,2748.1 1058.6,2747.9 1055.6,2747.8 1052.6,2746.8 1049.6,2747.4 1046.6,2745.1 1043.6,2745.4 1040.6,2744.8 1037.6,2743.5 1034.6,2743.2 1031.6,2744 1028.6,2741.8 1025.6,2741 1022.6,2740.3 1019.6,2742 1016.6,2741.4 1013.6,2739.8 1010.6,2739.8 1007.6,2738.3 1004.6,2737.7 1001.6,2737.4 998.6,2736.4 995.6,2735.2 992.6,2736.4 989.6,2734 986.6,2735.2 983.6,2733.8 980.6,2734 977.6,2733.3 974.6,2731.4 971.6,2730.3 968.6,2731.5 965.6,2730.8 962.6,2728.5 959.6,2727.7 956.6,2727.4 953.6,2727.3 950.6,2725.8 947.6,2726.4 944.6,2725.2 941.6,2724.5 938.6,2724.7 935.6,2722.4 932.6,2722.7 929.6,2721.5 926.6,2721.7 923.6,2722.6 920.6,2720.4 917.6,2719.8 914.6,2720.7 911.6,2719.4 908.6,2719.4 905.6,2718.4 902.6,2719.3 899.6,2718.9 896.6,2719.8 893.6,2718.5 890.6,2717.2 887.6,2717.8 884.6,2718.3 881.6,2716.2 878.6,2716.9 875.6,2717.5 872.6,2716.1 869.6,2716 866.6,2716.6 863.6,2715.3 860.6,2715.7 857.6,2714.4 854.6,2715 851.6,2713.8 848.6,2714.7 845.6,2713.8 842.6,2714.7 839.6,2713.7 836.6,2714.6 833.6,2713.5 830.6,2713.8 827.6,2712.7 824.6,2713.8 821.6,2713.7 818.6,2712.2 815.6,2713.5 812.6,2713.5 809.6,2712 806.6,2712.5 803.6,2714.4 800.6,2712.4 797.6,2713.1 794.6,2713.6 791.6,2713.9 788.6,2712.8 785.6,2713.3 782.6,2715.1 779.6,2715.7 776.6,2715.7 773.6,2714.6 770.6,2716.7 767.6,2716.8 764.6,2716.1 761.6,2718.4 758.6,2717.1 755.6,2717.7 752.6,2719.9 749.6,2718.8 746.6,2721 743.6,2719.4 740.6,2720.5 737.6,2722.3 734.6,2721.5 731.6,2723.5 728.6,2723.9 725.6,2725.6 722.6,2724.9 719.6,2727.5 716.6,2725.9 713.6,2728.8 710.6,2727.9 707.6,2730.5 704.6,2729.7 701.6,2729.7 698.6,2731.7 695.6,2731.1 692.6,2732.7 689.6,2732.3 686.6,2733 683.6,2734.2 680.6,2735.8 677.6,2735 674.6,2737.7 671.6,2737.9 668.6,2737.5 665.6,2737.4 662.6,2738.6 659.6,2740.1 656.6,2740.3 653.6,2741.1 650.6,2741.3 647.6,2741.6 644.6,2741.5 641.6,2742.7 638.6,2743.4 635.6,2744.8 632.6,2744.8 629.6,2744.5 626.6,2746.6 623.6,2746.3 620.6,2747.4 617.6,2747.8 614.6,2748.5 611.6,2749.1 608.6,2750.9 605.6,2749.8 602.6,2751.6 599.6,2753 596.6,2752.3 593.6,2752.9 590.6,2754.7 587.6,2755.4 584.6,2756.2 581.6,2756.8 578.6,2758.6 575.6,2759.9 572.6,2760.2 569.6,2761.3 566.6,2761.6 563.6,2762.3 560.6,2762.8 557.6,2763.5 554.6,2764.9 551.6,2764.8 548.6,2768.2 545.6,2766.8 542.6,2769.9 539.6,2769.6 536.6,2771.5 533.6,2770.8 530.6,2772.2 527.6,2774 524.6,2775.8 521.6,2775.6 518.6,2775.7 515.6,2778.3 512.6,2778.5 509.6,2779 506.6,2781.7 503.6,2780.6 500.6,2781.6 497.6,2783.2 494.6,2785.5 491.6,2786 488.6,2787.5 485.6,2786.7 482.6,2788.8 479.6,2788.7 476.6,2789.7 473.6,2793.1 470.6,2792.1 467.6,2793.6 464.6,2794.2 461.6,2796 458.6,2797.9 455.6,2798.1 452.6,2798.3 449.6,2800.7 446.6,2800.8 443.6,2801.7 440.6,2802.6 437.6,2804.1 434.6,2806.9 431.6,2806.6 428.6,2808.3 425.6,2808.9 422.6,2810.1 419.6,2812.1 416.6,2812.8 413.6,2815.2 410.6,2815 407.6,2815.9 404.6,2817.2 401.6,2819.2 398.6,2819.5 395.6,2822.5 392.6,2822.4 389.6,2824 386.6,2825.5 383.6,2826.1 380.6,2827.4 377.6,2827.6 374.6,2830.7 371.6,2830.4 368.6,2831.5 365.6,2833.3 362.6,2834.7 359.6,2835.8 356.6,2838.4 353.6,2839.8 350.6,2840.1 347.6,2842.6 344.6,2843.3 341.6,2844.4 338.6,2846 335.6,2847.5 332.6,2849.8 329.6,2850.9 326.6,2851 323.6,2853.7 320.6,2853.2 317.6,2855.5 314.6,2856 311.6,2859.6 308.6,2859.8 305.6,2861.9 302.6,2863.5 299.6,2863.7 296.6,2866.1 293.6,2866.9 290.6,2869.4 287.6,2869.9 284.6,2872.1 281.6,2872.3 278.6,2875.8 275.6,2875.1 272.6,2877.4 269.6,2880.4 266.6,2881.5 263.6,2882 260.6,2883.9 257.6,2884.9 254.6,2887 251.6,2888.6 248.6,2890.6 245.6,2891.4 242.6,2894.9 239.6,2894.8 236.6,2896.3 233.6,2900 230.6,2899.8 227.6,2902.8 224.6,2904.4 221.6,2907.1 218.6,2909.4 215.6,2914.1 212.6,2917.9 209.6,2919.1 206.6,2915 203.6,2904.2 200.6,2892.7 197.6,2875.2 194.6,2835 191.6,2414.1"/>
<path d="M182.3 2353.8 L182.8 2355.8 L183.3 2358 L183.9 2360.2 L184.4 2362.5 L184.9 2364.9 L185.3 2366.9 L185.4 2367.4 L185.9 2370 L186.5 2372.7 L187 2375.4 L187.5 2378.2 L188 2381.1 L188.3 2382.8 L188.5 2384.1 L189 2387.1 L189.6 2390.2 L190.1 2393.3 L190.6 2396.5 L191.1 2399.8 L191.3 2400.9 L191.6 2403.1 L192.2 2406.4 L192.7 2409.8 L193.2 2413.3 L193.7 2416.7 L194.2 2420.3 L194.3 2420.7 L194.8 2423.9 L195.3 2427.6 L195.8 2431.5 L196.3 2435.4 L196.8 2439.5 L197.3 2443.2 L197.4 2443.7 L197.9 2448 L198.4 2452.5 L198.9 2457 L199.4 2461.8 L200 2466.7 L200.3 2470 L200.5 2471.7 L201 2476.9 L201.5 2482.5 L202 2488.5 L202.5 2495 L203.1 2501.8 L203.3 2504.9 L203.6 2508.7 L204.1 2515.8 L204.6 2522.7 L205.1 2529.6 L205.7 2536.1 L205.8 2537.4 L206.2 2542.5 L206.3 2544 L206.7 2549 L207.2 2555.6 L207.7 2562.3 L208.3 2568.9 L208.8 2575.4 L209.3 2581.7 L209.3 2581.7 L209.8 2587.9 L210.3 2593.7 L210.9 2599.2 L211.4 2604.4 L211.9 2609.1 L212 2609.9 L212.3 2612.4 L212.4 2613.4 L212.9 2617.6 L213.5 2621.6 L214 2625.6 L214.5 2629.3 L215 2632.8 L215.3 2634.7 L215.5 2636.1 L216 2639.1 L216.6 2641.7 L217.1 2644 L217.4 2645.3 L217.6 2646 L218.1 2647.7 L218.3 2648.3 L218.6 2649.3 L219.2 2650.7 L219.7 2652 L220.2 2653.1 L220.7 2654.1 L221.2 2655.1 L221.3 2655.2 L221.8 2656 L222.3 2656.7 L222.7 2656.8 L222.8 2656.8 L223.3 2656.5 L223.8 2655.9 L224.3 2655.1 L224.4 2655 L224.9 2654.1 L224.9 2654.1 L225.4 2653 L225.9 2651.7 L226.4 2650.2 L227 2648.6 L227.3 2647.3 L227.5 2646.6 L228 2644.4 L228.5 2642 L229 2639.7 L229.5 2637.1 L230.1 2635.3 L230.3 2635.2 L230.6 2635 L231.1 2634.8 L231.6 2634.6 L232.1 2634.4 L232.7 2634.2 L233.2 2634.1 L233.3 2634.1 L233.7 2634 L234.2 2633.9 L234.7 2633.8 L235.3 2633.7 L235.8 2633.6 L236.3 2633.6 L236.3 2633.6 L236.8 2633.5 L237.3 2633.4 L237.9 2633.4 L238.4 2633.3 L238.9 2633.2 L239.3 2633.2 L239.4 2633.1 L239.9 2633 L240 2633 L240.5 2632.9 L241 2632.8 L241.5 2632.7 L242 2632.5 L242.3 2632.5 L242.5 2632.4 L243 2632.3 L243.6 2632.2 L244.1 2632 L244.6 2631.9 L245.1 2631.8 L245.3 2631.8 L245.6 2631.7 L246.2 2631.6 L246.7 2631.4 L247.2 2631.3 L247.7 2631.2 L248.2 2631.1 L248.3 2631 L248.8 2630.9 L249.3 2630.8 L249.8 2630.7 L250.3 2630.6 L250.8 2630.4 L251.3 2630.3 L251.4 2630.3 L251.9 2630.2 L252.4 2630.1 L252.9 2629.9 L253.4 2629.8 L253.9 2629.7 L254.3 2629.6 L254.5 2629.6 L255 2629.4 L255.5 2629.3 L256 2629.2 L256.5 2629.1 L257.1 2628.9 L257.3 2628.9 L257.6 2628.8 L258.1 2628.7 L258.6 2628.6 L259.1 2628.4 L259.7 2628.3 L260.2 2628.2 L260.3 2628.2 L260.7 2628.1 L261.2 2628 L261.7 2627.8 L262.3 2627.7 L262.8 2627.6 L263.3 2627.5 L263.3 2627.4 L263.8 2627.3 L264.3 2627.2 L264.9 2627.1 L265.4 2627 L265.9 2626.8 L266.3 2626.7 L266.4 2626.7 L266.9 2626.6 L267.4 2626.4 L268 2626.3 L268.5 2626.2 L269 2626.1 L269.3 2626 L269.5 2625.9 L270 2625.8 L270.6 2625.7 L271.1 2625.6 L271.6 2625.4 L272.1 2625.3 L272.3 2625.3 L272.6 2625.2 L273.2 2625.1 L273.7 2624.9 L274.2 2624.8 L274.7 2624.7 L275.2 2624.6 L275.3 2624.6 L275.8 2624.4 L276.3 2624.3 L276.8 2624.2 L277.3 2624.1 L277.8 2624 L278.3 2623.8 L278.4 2623.8 L278.9 2623.7 L279.4 2623.6 L279.9 2623.5 L280.4 2623.3 L280.9 2623.2 L281.3 2623.1 L281.5 2623.1 L282 2623 L282.5 2622.8 L283 2622.7 L283.5 2622.6 L284.1 2622.5 L284.3 2622.4 L284.6 2622.3 L285.1 2622.2 L285.6 2622.1 L286.1 2622 L286.7 2621.8 L287.2 2621.7 L287.3 2621.7 L287.7 2621.6 L288.2 2621.5 L288.7 2621.3 L289.3 2621.2 L289.8 2621.1 L290.3 2621 L290.3 2621 L290.8 2620.8 L291.3 2620.7 L291.9 2620.6 L292.4 2620.5 L292.9 2620.4 L293.3 2620.3 L293.4 2620.2 L293.9 2620.1 L294.4 2620 L295 2619.9 L295.5 2619.7 L296 2619.6 L296.3 2619.5 L296.5 2619.5 L297 2619.4 L297.6 2619.2 L298.1 2619.1 L298.6 2619 L299.1 2618.9 L299.3 2618.8 L299.6 2618.7 L300.2 2618.6 L300.7 2618.5 L301.2 2618.4 L301.7 2618.3 L302.2 2618.1 L302.3 2618.1 L302.8 2618 L303.3 2617.9 L303.8 2617.8 L304.3 2617.6 L304.8 2617.5 L305.3 2617.4 L305.4 2617.4 L305.9 2617.3 L306.4 2617.1 L306.9 2617 L307.4 2616.9 L307.9 2616.8 L308.3 2616.7 L308.5 2616.6 L309 2616.5 L309.5 2616.4 L310 2616.3 L310.5 2616.2 L311.1 2616 L311.3 2616 L311.6 2615.9 L312.1 2615.8 L312.6 2615.7 L313.1 2615.5 L313.7 2615.4 L314.2 2615.3 L314.3 2615.3 L314.7 2615.2 L315.2 2615 L315.7 2614.9 L316.3 2614.8 L316.8 2614.7 L317.3 2614.6 L317.3 2614.6 L317.8 2614.4 L318.3 2614.3 L318.8 2614.2 L319.4 2614.1 L319.9 2613.9 L320.3 2613.8 L320.4 2613.8 L320.9 2613.7 L321.4 2613.6 L322 2613.4 L322.5 2613.3 L323 2613.2 L323.3 2613.1 L323.5 2613.1 L324 2613 L324.6 2612.8 L325.1 2612.7 L325.6 2612.6 L326.1 2612.5 L326.3 2612.4 L326.6 2612.3 L327.2 2612.2 L327.7 2612.1 L328.2 2612 L328.7 2611.8 L329.2 2611.7 L329.3 2611.7 L329.8 2611.6 L330.3 2611.5 L330.8 2611.4 L331.3 2611.2 L331.8 2611.1 L332.3 2611 L332.3 2611 L332.9 2610.9 L333.4 2610.7 L333.9 2610.6 L334.4 2610.5 L334.9 2610.4 L335.3 2610.3 L335.5 2610.2 L336 2610.1 L336.5 2610 L337 2609.9 L337.5 2609.8 L338.1 2609.6 L338.3 2609.6 L338.6 2609.5 L339.1 2609.4 L339.6 2609.3 L340.1 2609.1 L340.7 2609 L341.2 2608.9 L341.3 2608.9 L341.7 2608.8 L342.2 2608.6 L342.7 2608.5 L343.3 2608.4 L343.8 2608.3 L344.3 2608.2 L344.3 2608.1 L344.8 2608 L345.3 2607.9 L345.8 2607.8 L346.4 2607.7 L346.9 2607.5 L347.3 2607.4 L347.4 2607.4 L347.9 2607.3 L348.4 2607.2 L349 2607 L349.5 2606.9 L350 2606.8 L350.3 2606.7 L350.5 2606.7 L351 2606.6 L351.6 2606.4 L352.1 2606.3 L352.6 2606.2 L353.1 2606.1 L353.3 2606 L353.6 2605.9 L354.2 2605.8 L354.7 2605.7 L355.2 2605.6 L355.7 2605.4 L356.2 2605.3 L356.3 2605.3 L356.8 2605.2 L357.3 2605.1 L357.8 2605 L358.3 2604.8 L358.8 2604.7 L359.3 2604.6 L359.3 2604.6 L359.9 2604.5 L360.4 2604.3 L360.9 2604.2 L361.4 2604.1 L361.9 2604 L362.3 2603.9 L362.5 2603.9 L363 2603.7 L363.5 2603.6 L364 2603.5 L364.5 2603.4 L365.1 2603.2 L365.3 2603.2 L365.6 2603.1 L366.1 2603 L366.6 2602.9 L367.1 2602.8 L367.7 2602.6 L368.2 2602.5 L368.3 2602.5 L368.7 2602.4 L369.2 2602.3 L369.7 2602.1 L370.3 2602 L370.8 2601.9 L371.3 2601.8 L371.3 2601.8 L371.8 2601.6 L372.3 2601.5 L372.8 2601.4 L373.4 2601.3 L373.9 2601.2 L374.3 2601.1 L374.4 2601 L374.9 2600.9 L375.4 2600.8 L376 2600.7 L376.5 2600.5 L377 2600.4 L377.3 2600.3 L377.5 2600.3 L378 2600.2 L378.6 2600.1 L379.1 2599.9 L379.6 2599.8 L380.1 2599.7 L380.3 2599.6 L380.6 2599.6 L381.2 2599.4 L381.7 2599.3 L382.2 2599.2 L382.7 2599.1 L383.2 2598.9 L383.3 2598.9 L383.7 2598.8 L384.3 2598.7 L384.8 2598.6 L385.3 2598.5 L385.8 2598.3 L386.3 2598.2 L386.3 2598.2 L386.9 2598.1 L387.4 2598 L387.9 2597.8 L388.4 2597.7 L388.9 2597.6 L389.3 2597.5 L389.5 2597.5 L390 2597.3 L390.5 2597.2 L391 2597.1 L391.5 2597 L392.1 2596.8 L392.3 2596.8 L392.6 2596.7 L393.1 2596.6 L393.6 2596.5 L394.1 2596.3 L394.7 2596.2 L395.2 2596.1 L395.3 2596.1 L395.7 2596 L396.2 2595.8 L396.7 2595.7 L397.2 2595.6 L397.8 2595.5 L398.3 2595.3 L398.3 2595.3 L398.8 2595.2 L399.3 2595.1 L399.8 2595 L400.4 2594.8 L400.9 2594.7 L401.3 2594.6 L401.4 2594.6 L401.9 2594.5 L402.4 2594.3 L403 2594.2 L403.5 2594.1 L404 2594 L404.3 2593.9 L404.5 2593.8 L405 2593.7 L405.6 2593.6 L406.1 2593.5 L406.6 2593.4 L407.1 2593.2 L407.3 2593.2 L407.6 2593.1 L408.2 2593 L408.7 2592.9 L409.2 2592.7 L409.7 2592.6 L410.2 2592.5 L410.3 2592.5 L410.7 2592.4 L411.3 2592.3 L411.8 2592.1 L412.3 2592 L412.8 2592 L413.3 2591.9 L413.3 2591.9 L413.9 2591.8 L414.4 2591.7 L414.9 2591.6 L415.4 2591.5 L415.9 2591.5 L416.3 2591.4 L416.5 2591.4 L417 2591.3 L417.5 2591.2 L418 2591.1 L418.5 2591 L419.1 2590.9 L419.3 2590.9 L419.6 2590.8 L420.1 2590.7 L420.6 2590.6 L421.1 2590.4 L421.7 2590.3 L422.2 2590.1 L422.3 2590.1 L422.7 2589.9 L423.2 2589.7 L423.7 2589.5 L424.2 2589.3 L424.8 2588.9 L425.3 2588.2 L425.3 2588.2 L425.8 2587.5 L426.3 2586.7 L426.8 2585.9 L427.4 2585 L427.9 2584.6 L428 2584.5 L428.3 2584.6 L428.4 2584.7 L428.9 2585.1 L429.4 2585.8 L430 2586.4 L430.5 2586.7 L431 2586.9 L431.3 2587 L431.5 2587.1 L432 2587.3 L432.6 2587.4 L433.1 2587.5 L433.6 2587.6 L434.1 2587.6 L434.2 2587.6 L434.3 2587.6 L434.6 2587.6 L435.2 2587.6 L435.7 2587.6 L436.2 2587.6 L436.7 2587.6 L437.2 2587.6 L437.3 2587.6 L437.7 2587.6 L438.3 2587.6 L438.8 2587.6 L439.3 2587.6 L439.8 2587.5 L440.3 2587.5 L440.3 2587.5 L440.9 2587.5 L441.4 2587.5 L441.9 2587.5 L442.4 2587.5 L442.9 2587.4 L443.3 2587.4 L443.5 2587.4 L444 2587.4 L444.5 2587.4 L445 2587.3 L445.5 2587.3 L446.1 2587.3 L446.3 2587.3 L446.6 2587.2 L447.1 2587.2 L447.6 2587.2 L448.1 2587.1 L448.6 2587.1 L449.2 2587.1 L449.3 2587.1 L449.7 2587 L450.2 2587 L450.7 2587 L451.2 2586.9 L451.8 2586.9 L452.3 2586.8 L455.3 2586.6 L458.3 2586.3 L461.3 2586 L464.3 2585.7 L467.3 2585.3 L470.3 2585 L473.3 2584.6 L476.3 2584.2 L479.3 2583.9 L482.3 2583.5 L485.3 2583.1 L488.3 2582.7 L491.3 2582.4 L494.3 2582 L497.3 2581.7 L500.1 2581.4 L500.3 2581.4 L503.3 2581.1 L506.3 2580.8 L509.3 2580.5 L512.3 2580.2 L515.3 2579.8 L518.3 2579.5 L521.3 2579.1 L524.3 2578.8 L527.3 2578.4 L530.3 2578.1 L533.3 2577.7 L536.3 2577.3 L539.3 2577 L542.3 2576.6 L545.3 2576.3 L548.3 2575.9 L551.3 2575.6 L554.3 2575.2 L557.3 2574.9 L560.3 2574.5 L563.3 2574.2 L566.3 2573.9 L569.3 2573.6 L572.3 2573.3 L575.3 2573 L578.3 2572.7 L581.3 2572.5 L584.3 2572.2 L587.3 2572 L590.3 2571.8 L593.3 2571.6 L596.3 2571.4 L597.7 2571.3 L599.3 2571.2 L602.3 2571 L605.3 2570.9 L608.3 2570.7 L611.3 2570.5 L614.3 2570.4 L617.3 2570.2 L620.3 2570 L623.3 2569.9 L626.3 2569.7 L629.3 2569.5 L632.3 2569.4 L635.3 2569.2 L638.3 2569.1 L641.3 2568.9 L644.3 2568.8 L647.3 2568.7 L650.3 2568.5 L653.3 2568.4 L656.3 2568.3 L659.3 2568.2 L662.3 2568.1 L665.3 2568 L668.3 2567.9 L671.3 2567.8 L674.3 2567.7 L677.3 2567.6 L680.3 2567.5 L683.3 2567.5 L686.3 2567.4 L689.3 2567.4 L692.3 2567.4 L695.3 2567.3 L698.3 2567.3 L701.3 2567.3 L701.5 2567.3 L704.3 2567.3 L707.3 2567.3 L710.3 2567.4 L713.3 2567.4 L716.3 2567.5 L719.3 2567.6 L722.3 2567.7 L725.3 2567.8 L728.3 2567.9 L731.3 2568 L734.3 2568.2 L737.3 2568.3 L740.3 2568.5 L743.3 2568.7 L746.3 2568.9 L749.3 2569.1 L752.3 2569.3 L755.3 2569.5 L758.3 2569.7 L761.3 2569.9 L764.3 2570.1 L767.3 2570.4 L770.3 2570.6 L773.3 2570.8 L776.3 2571.1 L779.3 2571.3 L782.3 2571.6 L785.3 2571.8 L788.3 2572.1 L791.3 2572.3 L794.3 2572.6 L797.3 2572.8 L800.3 2573.1 L803.3 2573.3 L805.3 2573.5 L806.3 2573.6 L809.3 2573.8 L812.3 2574.1 L815.3 2574.4 L818.3 2574.7 L821.3 2575 L824.3 2575.4 L827.3 2575.7 L830.3 2576.1 L833.3 2576.5 L836.3 2576.9 L839.3 2577.3 L842.3 2577.7 L845.3 2578.1 L848.3 2578.5 L851.3 2578.9 L854.3 2579.4 L857.3 2579.8 L860.3 2580.3 L863.3 2580.7 L866.3 2581.2 L869.3 2581.6 L872.3 2582.1 L875.3 2582.5 L878.3 2582.9 L881.3 2583.4 L884.3 2583.8 L887.3 2584.3 L890.3 2584.7 L893.3 2585.1 L896.3 2585.6 L899.3 2586 L902.3 2586.4 L905.3 2586.8 L908.3 2587.2 L909.2 2587.3 L911.3 2587.6 L914.3 2588 L917.3 2588.4 L920.3 2588.8 L923.3 2589.2 L926.3 2589.6 L929.3 2590 L932.3 2590.4 L935.3 2590.9 L938.3 2591.3 L941.3 2591.7 L944.3 2592.1 L947.3 2592.6 L950.3 2593 L953.3 2593.4 L956.3 2593.8 L959.3 2594.2 L962.3 2594.6 L965.3 2595 L968.3 2595.4 L971.3 2595.8 L974.3 2596.2 L977.3 2596.6 L980.3 2596.9 L983.3 2597.3 L986.3 2597.6 L989.3 2597.9 L992.3 2598.3 L995.3 2598.6 L998.3 2598.8 L1001.3 2599.1 L1004.3 2599.4 L1007.3 2599.6 L1010.3 2599.8 L1013 2600 L1013.3 2600 L1016.3 2600.2 L1019.3 2600.4 L1022.3 2600.6 L1025.3 2600.8 L1028.3 2601 L1031.3 2601.1 L1034.3 2601.3 L1037.3 2601.5 L1040.3 2601.7 L1043.3 2601.9 L1046.3 2602 L1049.3 2602.2 L1052.3 2602.4 L1055.3 2602.5 L1058.3 2602.7 L1061.3 2602.8 L1064.3 2603 L1067.3 2603.1 L1070.3 2603.3 L1073.3 2603.4 L1076.3 2603.5 L1079.3 2603.6 L1082.3 2603.8 L1085.3 2603.9 L1088.3 2603.9 L1091.3 2604 L1094.3 2604.1 L1097.3 2604.2 L1100.3 2604.2 L1103.3 2604.3 L1106.3 2604.3 L1109.3 2604.4 L1112.3 2604.4 L1115.3 2604.4 L1116.9 2604.4 L1118.3 2604.4 L1121.3 2604.4 L1124.3 2604.3 L1127.3 2604.2 L1130.3 2604.1 L1133.3 2604 L1136.3 2603.9 L1139.3 2603.7 L1142.3 2603.5 L1145.3 2603.3 L1148.3 2603 L1151.3 2602.8 L1154.3 2602.5 L1157.3 2602.2 L1160.3 2601.9 L1163.3 2601.6 L1166.3 2601.3 L1169.3 2601 L1172.3 2600.6 L1175.3 2600.3 L1178.3 2599.9 L1181.3 2599.5 L1184.3 2599.2 L1187.3 2598.8 L1190.3 2598.4 L1193.3 2598 L1196.3 2597.6 L1199.3 2597.2 L1202.3 2596.8 L1205.3 2596.4 L1208.3 2596 L1211.3 2595.7 L1214.3 2595.3 L1217.3 2594.9 L1220.3 2594.5 L1220.7 2594.5 L1223.3 2594.1 L1226.3 2593.8 L1229.3 2593.4 L1232.3 2592.9 L1235.3 2592.5 L1238.3 2592.1 L1241.3 2591.6 L1244.3 2591.1 L1247.3 2590.6 L1250.3 2590.1 L1253.3 2589.6 L1256.3 2589.1 L1259.3 2588.6 L1262.3 2588.1 L1265.3 2587.5 L1268.3 2587 L1271.3 2586.4 L1272.6 2586.2 L1274.3 2585.9 L1277.3 2585.3 L1280.3 2584.7 L1283.3 2584.1 L1286.3 2583.5 L1289.3 2582.9 L1292.3 2582.3 L1295.3 2581.6 L1298.3 2581 L1301.3 2580.3 L1304.3 2579.6 L1307.3 2578.9 L1310.3 2578.2 L1313.3 2577.5 L1316.3 2576.7 L1319.3 2576 L1322.3 2575.2 L1324.5 2574.6 L1325.3 2574.4 L1328.3 2573.6 L1331.3 2572.7 L1334.3 2571.9 L1337.3 2571 L1340.3 2570 L1343.3 2569.1 L1346.3 2568.1 L1349.3 2567.1 L1352.3 2566.2 L1355.3 2565.2 L1358.3 2564.1 L1361.3 2563.1 L1364.3 2562.1 L1367.3 2561.1 L1370.3 2560.1 L1373.3 2559.1 L1376.3 2558.1 L1376.5 2558 L1379.3 2557.1 L1382.3 2556.1 L1385.3 2555.1 L1388.3 2554.1 L1391.3 2553 L1394.3 2552 L1397.3 2551 L1400.3 2549.9 L1403.3 2548.9 L1406.3 2547.8 L1409.3 2546.8 L1412.3 2545.8 L1415.3 2544.7 L1418.3 2543.7 L1421.3 2542.7 L1424.3 2541.7 L1427.3 2540.7 L1428.4 2540.4 L1430.3 2539.8 L1433.3 2538.8 L1436.3 2537.8 L1439.3 2536.8 L1442.3 2535.9 L1445.3 2534.9 L1448.3 2534 L1451.3 2533 L1454.3 2532.1 L1457.3 2531.1 L1460.3 2530.2 L1463.3 2529.3 L1466.3 2528.3 L1469.3 2527.4 L1472.3 2526.5 L1475.3 2525.5 L1478.3 2524.6 L1481.3 2523.7 L1484.3 2522.8 L1487.3 2521.9 L1490.3 2520.9 L1493.3 2520 L1496.3 2519.1 L1499.3 2518.2 L1502.3 2517.3 L1505.3 2516.4 L1508.3 2515.5 L1511.3 2514.6 L1514.3 2513.7 L1517.3 2512.8 L1520.3 2511.9 L1523.3 2511 L1526.3 2510.1 L1529.3 2509.2 L1532.2 2508.4 L1532.3 2508.3 L1535.3 2507.4 L1538.3 2506.5 L1541.3 2505.6 L1544.3 2504.7 L1547.3 2503.8 L1550.3 2502.9 L1553.3 2502 L1556.3 2501.1 L1559.3 2500.2 L1562.3 2499.3 L1565.3 2498.3 L1568.3 2497.4 L1571.3 2496.5 L1574.3 2495.6 L1577.3 2494.7 L1580.3 2493.8 L1583.3 2492.9 L1586.3 2492 L1589.3 2491.2 L1592.3 2490.3 L1595.3 2489.4 L1598.3 2488.5 L1601.3 2487.7 L1604.3 2486.8 L1607.3 2486 L1610.3 2485.2 L1613.3 2484.4 L1616.3 2483.5 L1619.3 2482.8 L1622.3 2482 L1625.3 2481.2 L1628.3 2480.4 L1631.3 2479.7 L1634.3 2479 L1636.1 2478.6 L1637.3 2478.3 L1640.3 2477.5 L1643.3 2476.8 L1646.3 2476.1 L1649.3 2475.3 L1652.3 2474.6 L1655.3 2473.9 L1658.3 2473.1 L1661.3 2472.4 L1664.3 2471.7 L1667.3 2470.9 L1670.3 2470.2 L1673.3 2469.5 L1676.3 2468.8 L1679.3 2468.1 L1682.3 2467.4 L1685.3 2466.7 L1688.3 2466 L1691.3 2465.3 L1694.3 2464.7 L1697.3 2464.1 L1700.3 2463.5 L1703.3 2462.9 L1706.3 2462.3 L1709.3 2461.7 L1712.3 2461.2 L1715.3 2460.7 L1718.3 2460.2 L1721.3 2459.8 L1724.3 2459.3 L1727.3 2458.9 L1730.3 2458.6 L1733.3 2458.2 L1736.3 2457.9 L1739.3 2457.6 L1739.9 2457.6 L1742.3 2457.4 L1745.3 2457.1 L1748.3 2456.9 L1751.3 2456.6 L1754.3 2456.4 L1757.3 2456.1 L1760.3 2455.9 L1763.3 2455.7 L1766.3 2455.5 L1769.3 2455.2 L1772.3 2455 L1775.3 2454.8 L1778.3 2454.6 L1781.3 2454.4 L1784.3 2454.2 L1787.3 2454 L1790.3 2453.8 L1793.3 2453.6 L1796.3 2453.5 L1799.3 2453.3 L1802.3 2453.2 L1805.3 2453 L1808.3 2452.9 L1811.3 2452.7 L1814.3 2452.6 L1817.3 2452.5 L1820.3 2452.4 L1823.3 2452.3 L1826.3 2452.3 L1829.3 2452.2 L1832.3 2452.1 L1835.3 2452.1 L1838.3 2452.1 L1841.3 2452.1 L1843.7 2452.1 L1844.3 2452.1 L1847.3 2452.1 L1850.3 2452.1 L1853.3 2452.2 L1856.3 2452.3 L1859.3 2452.5 L1862.3 2452.6 L1865.3 2452.8 L1868.3 2453 L1871.3 2453.3 L1874.3 2453.5 L1877.3 2453.8 L1880.3 2454.1 L1883.3 2454.5 L1886.3 2454.8 L1889.3 2455.2 L1892.3 2455.6 L1895.3 2455.9 L1898.3 2456.4 L1901.3 2456.8 L1904.3 2457.2 L1907.3 2457.7 L1910.3 2458.1 L1913.3 2458.6 L1916.3 2459 L1919.3 2459.5 L1922.3 2460 L1925.3 2460.5 L1928.3 2461 L1931.3 2461.5 L1934.3 2462 L1937.3 2462.5 L1940.3 2463 L1943.3 2463.5 L1946.3 2464 L1947.6 2464.2 L1949.3 2464.5 L1952.3 2465 L1955.3 2465.6 L1958.3 2466.2 L1961.3 2466.8 L1964.3 2467.5 L1967.3 2468.2 L1970.3 2468.9 L1973.3 2469.6 L1976.3 2470.4 L1979.3 2471.2 L1982.3 2472 L1985.3 2472.8 L1988.3 2473.7 L1991.3 2474.5 L1994.3 2475.4 L1997.3 2476.3 L2000.3 2477.2 L2003.3 2478.1 L2006.3 2479 L2009.3 2480 L2012.3 2480.9 L2015.3 2481.8 L2018.3 2482.8 L2021.3 2483.7 L2024.3 2484.7 L2027.3 2485.6 L2030.3 2486.5 L2033.3 2487.5 L2036.3 2488.4 L2039.3 2489.3 L2042.3 2490.2 L2045.3 2491.1 L2048.3 2492 L2051.3 2492.9 L2051.4 2492.9 L2054.3 2493.7 L2057.3 2494.6 L2060.3 2495.5 L2063.3 2496.3 L2066.3 2497.2 L2069.3 2498.1 L2072.3 2499 L2075.3 2499.8 L2078.3 2500.7 L2081.3 2501.6 L2084.3 2502.5 L2087.3 2503.4 L2090.3 2504.3 L2093.3 2505.2 L2096.3 2506 L2099.3 2506.9 L2102.3 2507.8 L2105.3 2508.7 L2108.3 2509.6 L2111.3 2510.5 L2114.3 2511.4 L2117.3 2512.3 L2120.3 2513.2 L2123.3 2514.1 L2126.3 2515.1 L2129.3 2516 L2132.3 2516.9 L2135.3 2517.8 L2138.3 2518.7 L2141.3 2519.6 L2144.3 2520.5 L2147.3 2521.4 L2150.3 2522.3 L2153.3 2523.2 L2155.3 2523.8 L2156.3 2524.1 L2159.3 2525 L2162.3 2526 L2165.3 2526.9 L2168.3 2527.8 L2171.3 2528.7 L2174.3 2529.6 L2177.3 2530.5 L2180.3 2531.4 L2183.3 2532.4 L2186.3 2533.3 L2189.3 2534.2 L2192.3 2535.1 L2195.3 2536 L2198.3 2537 L2201.3 2537.9 L2204.3 2538.8 L2207.3 2539.7 L2210.3 2540.6 L2213.3 2541.6 L2216.3 2542.5 L2219.3 2543.4 L2222.3 2544.4 L2225.3 2545.3 L2228.3 2546.2 L2231.3 2547.2 L2234.3 2548.1 L2237.3 2549 L2240.3 2550 L2243.3 2550.9 L2246.3 2551.8 L2249.3 2552.8 L2252.3 2553.7 L2255.3 2554.6 L2258.3 2555.6 L2259.1 2555.8" stroke="#f00" stroke-width="6.6" stroke-linejoin="round" fill="none"/>
</g>
<rect x="852.6" y="2886.3" width="1198.7" height="61.2" fill="#fff" stroke="#262626" stroke-width="2.2"/>
<path d="M866 2917.3 H996" stroke="#0f0" stroke-width="6.3" stroke-dasharray="24.3 24.7 26.2 24.5 26.4 100" fill="none"/>
<path d="M1120.6 2917.3 H1250.6" stroke="#00f" stroke-width="6.3" stroke-dasharray="24.5 6.8 11.3 6.8 25.6 7.4 11.4 7 24.8 100" fill="none"/>
<path d="M1451 2917.3 H1581" stroke="#f00" stroke-width="6.3" fill="none"/>
<g font-size="39.5" fill="#000" stroke="#fff" stroke-width="0.5">
<text x="1006.7" y="2932.3">SMC</text>
<text x="1259.3" y="2932.3">NFTSMC</text>
<text x="1591.2" y="2932.3">Designed Control Method</text>
</g>
<g font-size="44.0" fill="#262626" stroke="#fff" stroke-width="0.7">
<text x="182.3" y="3051.3" text-anchor="middle">0</text>
<text x="390" y="3051.3" text-anchor="middle">1</text>
<text x="597.7" y="3051.3" text-anchor="middle">2</text>
<text x="805.3" y="3051.3" text-anchor="middle">3</text>
<text x="1013" y="3051.3" text-anchor="middle">4</text>
<text x="1220.7" y="3051.3" text-anchor="middle">5</text>
<text x="1428.4" y="3051.3" text-anchor="middle">6</text>
<text x="1636.1" y="3051.3" text-anchor="middle">7</text>
<text x="1843.7" y="3051.3" text-anchor="middle">8</text>
<text x="2051.4" y="3051.3" text-anchor="middle">9</text>
<text x="2259.1" y="3051.3" text-anchor="middle">10</text>
<text x="164.3" y="2232.8" text-anchor="end">30</text>
<text x="164.3" y="2343.2" text-anchor="end">20</text>
<text x="164.3" y="2453.6" text-anchor="end">10</text>
<text x="164.3" y="2564" text-anchor="end">0</text>
<text x="164.3" y="2674.4" text-anchor="end">-10</text>
<text x="164.3" y="2784.8" text-anchor="end">-20</text>
<text x="164.3" y="2895.2" text-anchor="end">-30</text>
<text x="164.3" y="3005.6" text-anchor="end">-40</text>
</g>
<text x="1220.7" y="3114.8" text-anchor="middle" font-size="48.3" letter-spacing="0.25" fill="#262626" stroke="#fff" stroke-width="0.6">time(s)</text>
<text transform="translate(78.5 2603.6) rotate(-90)" text-anchor="middle" font-size="48.3" letter-spacing="0.65" fill="#262626" stroke="#fff" stroke-width="0.6">Torque 3,N</text>
<text x="1219.2" y="2204.2" text-anchor="middle" font-size="48.3" font-weight="bold" fill="#000" stroke="#fff" stroke-width="0.8">(c) at Joint 3</text>
</svg></body></html>
